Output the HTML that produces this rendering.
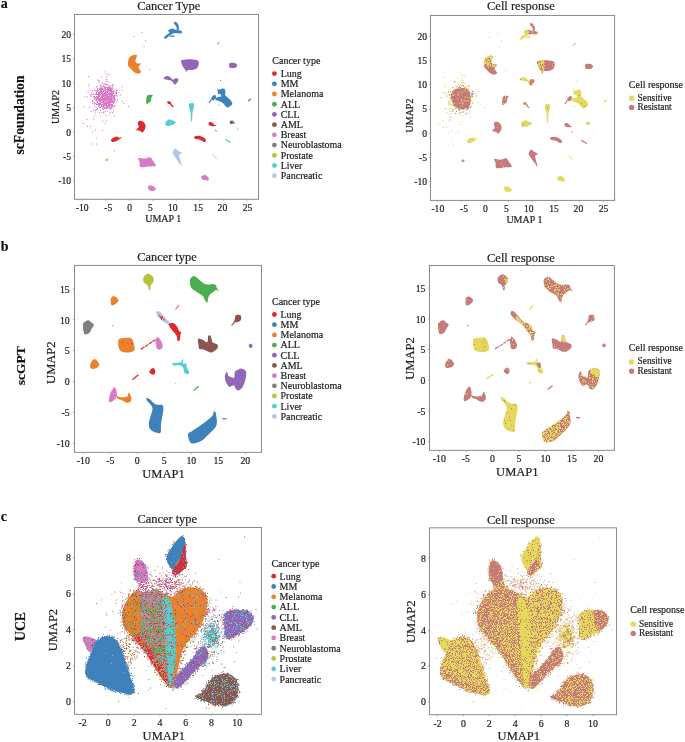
<!DOCTYPE html>
<html><head><meta charset="utf-8"><style>
html,body{margin:0;padding:0;background:#fff;width:685px;height:742px;overflow:hidden;}
svg{display:block;font-family:"Liberation Serif", serif;will-change:transform;}
text{stroke:#222;stroke-width:0.2px;}
</style></head><body>
<svg width="685" height="742" viewBox="0 0 685 742" font-family='"Liberation Serif", serif'>
<defs><filter id="fY04" x="0" y="0" width="100%" height="100%" color-interpolation-filters="sRGB"><feTurbulence type="fractalNoise" baseFrequency="1.1" numOctaves="2" seed="104" result="n0"/><feColorMatrix in="n0" type="matrix" values="0 0 0 0 0.890 0 0 0 0 0.851 0 0 0 0 0.353 60 0 0 0 -42.40" result="m0"/><feComposite in="m0" in2="SourceAlpha" operator="in" result="c0"/><feMerge><feMergeNode in="SourceGraphic"/><feMergeNode in="c0"/></feMerge></filter><filter id="fR04" x="0" y="0" width="100%" height="100%" color-interpolation-filters="sRGB"><feTurbulence type="fractalNoise" baseFrequency="1.1" numOctaves="2" seed="204" result="n0"/><feColorMatrix in="n0" type="matrix" values="0 0 0 0 0.776 0 0 0 0 0.478 0 0 0 0 0.486 60 0 0 0 -42.40" result="m0"/><feComposite in="m0" in2="SourceAlpha" operator="in" result="c0"/><feMerge><feMergeNode in="SourceGraphic"/><feMergeNode in="c0"/></feMerge></filter><filter id="fY10" x="0" y="0" width="100%" height="100%" color-interpolation-filters="sRGB"><feTurbulence type="fractalNoise" baseFrequency="1.1" numOctaves="2" seed="110" result="n0"/><feColorMatrix in="n0" type="matrix" values="0 0 0 0 0.890 0 0 0 0 0.851 0 0 0 0 0.353 60 0 0 0 -39.00" result="m0"/><feComposite in="m0" in2="SourceAlpha" operator="in" result="c0"/><feMerge><feMergeNode in="SourceGraphic"/><feMergeNode in="c0"/></feMerge></filter><filter id="fR10" x="0" y="0" width="100%" height="100%" color-interpolation-filters="sRGB"><feTurbulence type="fractalNoise" baseFrequency="1.1" numOctaves="2" seed="210" result="n0"/><feColorMatrix in="n0" type="matrix" values="0 0 0 0 0.776 0 0 0 0 0.478 0 0 0 0 0.486 60 0 0 0 -39.00" result="m0"/><feComposite in="m0" in2="SourceAlpha" operator="in" result="c0"/><feMerge><feMergeNode in="SourceGraphic"/><feMergeNode in="c0"/></feMerge></filter><filter id="fY20" x="0" y="0" width="100%" height="100%" color-interpolation-filters="sRGB"><feTurbulence type="fractalNoise" baseFrequency="1.1" numOctaves="2" seed="120" result="n0"/><feColorMatrix in="n0" type="matrix" values="0 0 0 0 0.890 0 0 0 0 0.851 0 0 0 0 0.353 60 0 0 0 -35.59" result="m0"/><feComposite in="m0" in2="SourceAlpha" operator="in" result="c0"/><feMerge><feMergeNode in="SourceGraphic"/><feMergeNode in="c0"/></feMerge></filter><filter id="fR20" x="0" y="0" width="100%" height="100%" color-interpolation-filters="sRGB"><feTurbulence type="fractalNoise" baseFrequency="1.1" numOctaves="2" seed="220" result="n0"/><feColorMatrix in="n0" type="matrix" values="0 0 0 0 0.776 0 0 0 0 0.478 0 0 0 0 0.486 60 0 0 0 -35.59" result="m0"/><feComposite in="m0" in2="SourceAlpha" operator="in" result="c0"/><feMerge><feMergeNode in="SourceGraphic"/><feMergeNode in="c0"/></feMerge></filter><filter id="fY22" x="0" y="0" width="100%" height="100%" color-interpolation-filters="sRGB"><feTurbulence type="fractalNoise" baseFrequency="1.1" numOctaves="2" seed="122" result="n0"/><feColorMatrix in="n0" type="matrix" values="0 0 0 0 0.890 0 0 0 0 0.851 0 0 0 0 0.353 60 0 0 0 -35.10" result="m0"/><feComposite in="m0" in2="SourceAlpha" operator="in" result="c0"/><feMerge><feMergeNode in="SourceGraphic"/><feMergeNode in="c0"/></feMerge></filter><filter id="fR22" x="0" y="0" width="100%" height="100%" color-interpolation-filters="sRGB"><feTurbulence type="fractalNoise" baseFrequency="1.1" numOctaves="2" seed="222" result="n0"/><feColorMatrix in="n0" type="matrix" values="0 0 0 0 0.776 0 0 0 0 0.478 0 0 0 0 0.486 60 0 0 0 -35.10" result="m0"/><feComposite in="m0" in2="SourceAlpha" operator="in" result="c0"/><feMerge><feMergeNode in="SourceGraphic"/><feMergeNode in="c0"/></feMerge></filter><filter id="fY35" x="0" y="0" width="100%" height="100%" color-interpolation-filters="sRGB"><feTurbulence type="fractalNoise" baseFrequency="1.1" numOctaves="2" seed="135" result="n0"/><feColorMatrix in="n0" type="matrix" values="0 0 0 0 0.890 0 0 0 0 0.851 0 0 0 0 0.353 60 0 0 0 -32.15" result="m0"/><feComposite in="m0" in2="SourceAlpha" operator="in" result="c0"/><feMerge><feMergeNode in="SourceGraphic"/><feMergeNode in="c0"/></feMerge></filter><filter id="fR35" x="0" y="0" width="100%" height="100%" color-interpolation-filters="sRGB"><feTurbulence type="fractalNoise" baseFrequency="1.1" numOctaves="2" seed="235" result="n0"/><feColorMatrix in="n0" type="matrix" values="0 0 0 0 0.776 0 0 0 0 0.478 0 0 0 0 0.486 60 0 0 0 -32.15" result="m0"/><feComposite in="m0" in2="SourceAlpha" operator="in" result="c0"/><feMerge><feMergeNode in="SourceGraphic"/><feMergeNode in="c0"/></feMerge></filter><filter id="fY38" x="0" y="0" width="100%" height="100%" color-interpolation-filters="sRGB"><feTurbulence type="fractalNoise" baseFrequency="1.1" numOctaves="2" seed="138" result="n0"/><feColorMatrix in="n0" type="matrix" values="0 0 0 0 0.890 0 0 0 0 0.851 0 0 0 0 0.353 60 0 0 0 -31.57" result="m0"/><feComposite in="m0" in2="SourceAlpha" operator="in" result="c0"/><feMerge><feMergeNode in="SourceGraphic"/><feMergeNode in="c0"/></feMerge></filter><filter id="fR38" x="0" y="0" width="100%" height="100%" color-interpolation-filters="sRGB"><feTurbulence type="fractalNoise" baseFrequency="1.1" numOctaves="2" seed="238" result="n0"/><feColorMatrix in="n0" type="matrix" values="0 0 0 0 0.776 0 0 0 0 0.478 0 0 0 0 0.486 60 0 0 0 -31.57" result="m0"/><feComposite in="m0" in2="SourceAlpha" operator="in" result="c0"/><feMerge><feMergeNode in="SourceGraphic"/><feMergeNode in="c0"/></feMerge></filter><filter id="fY50" x="0" y="0" width="100%" height="100%" color-interpolation-filters="sRGB"><feTurbulence type="fractalNoise" baseFrequency="1.1" numOctaves="2" seed="150" result="n0"/><feColorMatrix in="n0" type="matrix" values="0 0 0 0 0.890 0 0 0 0 0.851 0 0 0 0 0.353 60 0 0 0 -29.38" result="m0"/><feComposite in="m0" in2="SourceAlpha" operator="in" result="c0"/><feMerge><feMergeNode in="SourceGraphic"/><feMergeNode in="c0"/></feMerge></filter><filter id="fR50" x="0" y="0" width="100%" height="100%" color-interpolation-filters="sRGB"><feTurbulence type="fractalNoise" baseFrequency="1.1" numOctaves="2" seed="250" result="n0"/><feColorMatrix in="n0" type="matrix" values="0 0 0 0 0.776 0 0 0 0 0.478 0 0 0 0 0.486 60 0 0 0 -29.38" result="m0"/><feComposite in="m0" in2="SourceAlpha" operator="in" result="c0"/><feMerge><feMergeNode in="SourceGraphic"/><feMergeNode in="c0"/></feMerge></filter><filter id="fMelDots" x="0" y="0" width="100%" height="100%" color-interpolation-filters="sRGB"><feTurbulence type="fractalNoise" baseFrequency="1.1" numOctaves="2" seed="301" result="n0"/><feColorMatrix in="n0" type="matrix" values="0 0 0 0 0.851 0 0 0 0 0.478 0 0 0 0 0.776 60 0 0 0 -44.38" result="m0"/><feComposite in="m0" in2="SourceAlpha" operator="in" result="c0"/><feTurbulence type="fractalNoise" baseFrequency="1.1" numOctaves="2" seed="302" result="n1"/><feColorMatrix in="n1" type="matrix" values="0 0 0 0 0.871 0 0 0 0 0.165 0 0 0 0 0.165 60 0 0 0 -46.20" result="m1"/><feComposite in="m1" in2="SourceAlpha" operator="in" result="c1"/><feMerge><feMergeNode in="SourceGraphic"/><feMergeNode in="c0"/><feMergeNode in="c1"/></feMerge></filter><filter id="fW25" x="0" y="0" width="100%" height="100%" color-interpolation-filters="sRGB"><feTurbulence type="fractalNoise" baseFrequency="1.1" numOctaves="2" seed="303" result="n0"/><feColorMatrix in="n0" type="matrix" values="0 0 0 0 1.000 0 0 0 0 1.000 0 0 0 0 1.000 60 0 0 0 -34.37" result="m0"/><feComposite in="m0" in2="SourceAlpha" operator="in" result="c0"/><feMerge><feMergeNode in="SourceGraphic"/><feMergeNode in="c0"/></feMerge></filter><filter id="fLungMix" x="0" y="0" width="100%" height="100%" color-interpolation-filters="sRGB"><feTurbulence type="fractalNoise" baseFrequency="1.1" numOctaves="2" seed="304" result="n0"/><feColorMatrix in="n0" type="matrix" values="0 0 0 0 0.851 0 0 0 0 0.478 0 0 0 0 0.776 60 0 0 0 -33.81" result="m0"/><feComposite in="m0" in2="SourceAlpha" operator="in" result="c0"/><feTurbulence type="fractalNoise" baseFrequency="1.1" numOctaves="2" seed="305" result="n1"/><feColorMatrix in="n1" type="matrix" values="0 0 0 0 0.871 0 0 0 0 0.165 0 0 0 0 0.165 60 0 0 0 -30.21" result="m1"/><feComposite in="m1" in2="SourceAlpha" operator="in" result="c1"/><feMerge><feMergeNode in="SourceGraphic"/><feMergeNode in="c0"/><feMergeNode in="c1"/></feMerge></filter></defs>
<g>
<path d="M173.9 22.4C174.15 21.97 175.38 21.63 176.1 22C176.82 22.37 177.72 23.57 178.2 24.6C178.68 25.63 179 27.23 179 28.2C179 29.17 178.57 30.15 178.2 30.4C177.83 30.65 177.1 30.3 176.8 29.7C176.5 29.1 176.77 27.65 176.4 26.8C176.03 25.95 175.02 25.33 174.6 24.6C174.18 23.87 173.65 22.83 173.9 22.4Z" fill="#3f81ba"/>
<path d="M168.8 29.7C169.52 29.17 171.88 28.63 173.1 28.7C174.32 28.77 174.88 29.82 176.1 30.1C177.32 30.38 179.38 30.1 180.4 30.4C181.42 30.7 182.2 31.4 182.2 31.9C182.2 32.4 181.42 33.2 180.4 33.4C179.38 33.6 177.43 33.1 176.1 33.1C174.77 33.1 173.62 33.6 172.4 33.4C171.18 33.2 169.4 32.52 168.8 31.9C168.2 31.28 168.08 30.23 168.8 29.7Z" fill="#3f81ba"/>
<path d="M165.3 37.5 L168.5 35 L171.5 33" fill="none" stroke="#3f81ba" stroke-width="2.3" stroke-linecap="round" stroke-linejoin="round"/>
<path d="M170.5 36.3 L173.9 36" fill="none" stroke="#3f81ba" stroke-width="1.3" stroke-linecap="round" stroke-linejoin="round"/>
<path d="M217.6 44.2 L219.2 42.4" fill="none" stroke="#3f81ba" stroke-width="1" stroke-linecap="round" stroke-linejoin="round"/>
<path d="M133.3 54.9C134.27 54.78 136.33 54.95 136.9 55.3C137.47 55.65 136.88 56.43 136.7 57C136.52 57.57 135.98 57.85 135.8 58.7C135.62 59.55 135.27 61.28 135.6 62.1C135.93 62.92 136.92 63.38 137.8 63.6C138.68 63.82 140.63 63.03 140.9 63.4C141.17 63.77 139.78 65.02 139.4 65.8C139.02 66.58 138.38 67.22 138.6 68.1C138.82 68.98 140.38 70.28 140.7 71.1C141.02 71.92 141.1 72.58 140.5 73C139.9 73.42 138.1 73.72 137.1 73.6C136.1 73.48 135.5 73.03 134.5 72.3C133.5 71.57 132.15 70.28 131.1 69.2C130.05 68.12 128.68 67.12 128.2 65.8C127.72 64.48 128.07 62.62 128.2 61.3C128.33 59.98 128.52 58.78 129 57.9C129.48 57.02 130.38 56.5 131.1 56C131.82 55.5 132.33 55.02 133.3 54.9Z" fill="#ec812b"/>
<path d="M181.7 60.2C183.35 59.65 188.5 59.22 191.2 59.3C193.9 59.38 196.63 59.92 197.9 60.7C199.17 61.48 198.97 62.73 198.8 64C198.63 65.27 197.85 67.35 196.9 68.3C195.95 69.25 194.68 69.38 193.1 69.7C191.52 70.02 188.5 69.72 187.4 70.2C186.3 70.68 186.82 72.6 186.5 72.6C186.18 72.6 186.05 71.08 185.5 70.2C184.95 69.32 183.9 68.57 183.2 67.3C182.5 66.03 181.55 63.78 181.3 62.6C181.05 61.42 180.05 60.75 181.7 60.2Z" fill="#9266b8"/>
<path d="M229.6 63.2C230.32 62.75 232.33 62.63 233.5 62.8C234.67 62.97 236.03 63.58 236.6 64.2C237.17 64.82 237.25 65.88 236.9 66.5C236.55 67.12 235.68 67.68 234.5 67.9C233.32 68.12 230.68 68.2 229.8 67.8C228.92 67.4 229.23 66.27 229.2 65.5C229.17 64.73 228.88 63.65 229.6 63.2Z" fill="#9266b8"/>
<path d="M163.7 77.8C164.08 77.28 165.88 76.18 167 76.1C168.12 76.02 169.45 76.7 170.4 77.3C171.35 77.9 171.83 79.55 172.7 79.7C173.57 79.85 174.65 78.28 175.6 78.2C176.55 78.12 178.08 78.57 178.4 79.2C178.72 79.83 178.05 81.1 177.5 82C176.95 82.9 175.82 84.43 175.1 84.6C174.38 84.77 173.83 83.67 173.2 83C172.57 82.33 172.17 81.12 171.3 80.6C170.43 80.08 169.1 80.13 168 79.9C166.9 79.67 165.42 79.55 164.7 79.2C163.98 78.85 163.32 78.32 163.7 77.8Z" fill="#9266b8"/>
<path d="M147.1 95.8C147.65 94.9 148.55 94.78 149.5 94.7C150.45 94.62 152.48 94.8 152.8 95.3C153.12 95.8 151.8 96.67 151.4 97.7C151 98.73 151.2 100.47 150.4 101.5C149.6 102.53 147.3 104.13 146.6 103.9C145.9 103.67 146.12 101.45 146.2 100.1C146.28 98.75 146.55 96.7 147.1 95.8Z" fill="#4cae4e"/>
<path d="M217.3 88.2C217.52 87.95 218.25 89.67 219.1 89.7C219.95 89.73 221.47 88.48 222.4 88.4C223.33 88.32 224.2 88.55 224.7 89.2C225.2 89.85 225.32 91.28 225.4 92.3C225.48 93.32 224.85 94.45 225.2 95.3C225.55 96.15 226.62 96.63 227.5 97.4C228.38 98.17 229.7 98.88 230.5 99.9C231.3 100.92 232.2 102.57 232.3 103.5C232.4 104.43 231.9 104.82 231.1 105.5C230.3 106.18 228.45 107.5 227.5 107.6C226.55 107.7 226.08 106.78 225.4 106.1C224.72 105.42 224.25 104.27 223.4 103.5C222.55 102.73 221.5 102.1 220.3 101.5C219.1 100.9 217.05 100.42 216.2 99.9C215.35 99.38 214.85 98.9 215.2 98.4C215.55 97.9 217.27 97.23 218.3 96.9C219.33 96.57 221.07 96.83 221.4 96.4C221.73 95.97 220.87 94.73 220.3 94.3C219.73 93.87 218.42 94.32 218 93.8C217.58 93.28 217.92 92.13 217.8 91.2C217.68 90.27 217.08 88.45 217.3 88.2Z" fill="#3f81ba"/>
<path d="M211.1 98.4C211.35 97.63 212.93 95.77 213.7 95.3C214.47 94.83 215.32 95.25 215.7 95.6C216.08 95.95 216.25 96.68 216 97.4C215.75 98.12 214.83 99.48 214.2 99.9C213.57 100.32 212.72 100.15 212.2 99.9C211.68 99.65 210.85 99.17 211.1 98.4Z" fill="#3f81ba"/>
<path d="M209.3 102.5 L211.1 99.9" fill="none" stroke="#3f81ba" stroke-width="1.2" stroke-linecap="round" stroke-linejoin="round"/>
<path d="M218.2 105.6 L218.8 105" fill="none" stroke="#9266b8" stroke-width="0.9" stroke-linecap="round" stroke-linejoin="round"/>
<path d="M248.4 100.8 L250.6 99.2" fill="none" stroke="#3f81ba" stroke-width="1.1" stroke-linecap="round" stroke-linejoin="round"/>
<path d="M220.2 80.2 L220.6 80.6" fill="none" stroke="#3f81ba" stroke-width="1" stroke-linecap="round" stroke-linejoin="round"/>
<path d="M167.5 101.5C167.95 101.22 169.68 101.23 170.4 101.7C171.12 102.17 171.25 103.47 171.8 104.3C172.35 105.13 173.62 106.3 173.7 106.7C173.78 107.1 173.02 107.17 172.3 106.7C171.58 106.23 170.17 104.45 169.4 103.9C168.63 103.35 168.02 103.8 167.7 103.4C167.38 103 167.05 101.78 167.5 101.5Z" fill="#de2a2a"/>
<path d="M189.2 103.8C189.88 103.03 192.48 102.72 193.3 103.2C194.12 103.68 194.2 105.33 194.1 106.7C194 108.07 193.03 109.07 192.7 111.4C192.37 113.73 192.38 119.15 192.1 120.7C191.82 122.25 191.25 122.07 191 120.7C190.75 119.33 190.9 114.65 190.6 112.5C190.3 110.35 189.43 109.25 189.2 107.8C188.97 106.35 188.52 104.57 189.2 103.8Z" fill="#57cfd2"/>
<path d="M165.3 123C165.6 121.92 167.73 119.98 168.8 119.5C169.87 119.02 170.53 119.62 171.7 120.1C172.87 120.58 175.7 121.62 175.8 122.4C175.9 123.18 173.77 124.2 172.3 124.8C170.83 125.4 168.17 126.3 167 126C165.83 125.7 165 124.08 165.3 123Z" fill="#57cfd2"/>
<path d="M138.3 121.6C138.83 121.05 140.08 120.58 141.1 120.8C142.12 121.02 143.65 122.02 144.4 122.9C145.15 123.78 145.53 124.97 145.6 126.1C145.67 127.23 145.35 128.63 144.8 129.7C144.25 130.77 143.05 132.3 142.3 132.5C141.55 132.7 141.3 131.37 140.3 130.9C139.3 130.43 136.57 130.37 136.3 129.7C136.03 129.03 138.43 127.83 138.7 126.9C138.97 125.97 137.97 124.98 137.9 124.1C137.83 123.22 137.77 122.15 138.3 121.6Z" fill="#de2a2a"/>
<path d="M111 140.1C111.13 139.45 112.07 138.7 113 138.1C113.93 137.5 115.58 136.57 116.6 136.5C117.62 136.43 118.22 137.6 119.1 137.7C119.98 137.8 121.83 136.83 121.9 137.1C121.97 137.37 120.45 138.6 119.5 139.3C118.55 140 117.42 140.85 116.2 141.3C114.98 141.75 113.07 142.2 112.2 142C111.33 141.8 110.87 140.75 111 140.1Z" fill="#de2a2a"/>
<path d="M208.5 123C208.8 122.42 210.43 121.8 211.4 122.1C212.37 122.4 213.43 124.22 214.3 124.8C215.17 125.38 216.8 125.35 216.6 125.6C216.4 125.85 214.27 126.3 213.1 126.3C211.93 126.3 210.37 126.15 209.6 125.6C208.83 125.05 208.2 123.58 208.5 123Z" fill="#de2a2a"/>
<path d="M215.6 130.3 L216.2 131.2" fill="none" stroke="#de2a2a" stroke-width="1" stroke-linecap="round" stroke-linejoin="round"/>
<path d="M230 121.6C230.38 121.13 231.7 120.33 232.5 120.6C233.3 120.87 234.75 122.67 234.8 123.2C234.85 123.73 233.57 123.77 232.8 123.8C232.03 123.83 230.67 123.77 230.2 123.4C229.73 123.03 229.62 122.07 230 121.6Z" fill="#3f81ba"/><path d="M230 121.2C230.23 120.78 231.3 120.53 231.6 120.9C231.9 121.27 232.03 122.98 231.8 123.4C231.57 123.82 230.5 123.77 230.2 123.4C229.9 123.03 229.77 121.62 230 121.2Z" fill="#de2a2a"/>
<path d="M238 128.9 L238.4 129.3" fill="none" stroke="#3f81ba" stroke-width="1" stroke-linecap="round" stroke-linejoin="round"/>
<path d="M194.5 136.5C195.28 136.02 198.15 135.72 199.7 135.9C201.25 136.08 202.73 136.83 203.8 137.6C204.87 138.37 206 139.77 206.1 140.5C206.2 141.23 205.37 142.08 204.4 142C203.43 141.92 201.87 140.53 200.3 140C198.73 139.47 195.97 139.38 195 138.8C194.03 138.22 193.72 136.98 194.5 136.5Z" fill="#de2a2a"/>
<path d="M225.6 139.6 L230.5 142.2" fill="none" stroke="#57cfd2" stroke-width="1.2" stroke-linecap="round" stroke-linejoin="round"/>
<path d="M173 151.8C173.35 150.92 174.18 148.72 175.1 148.6C176.02 148.48 177.35 150.33 178.5 151.1C179.65 151.87 181.88 152.5 182 153.2C182.12 153.9 179.27 153.22 179.2 155.3C179.13 157.38 182.17 165.25 181.6 165.7C181.03 166.15 177.23 159.97 175.8 158C174.37 156.03 173.47 154.93 173 153.9C172.53 152.87 172.65 152.68 173 151.8Z" fill="#b0c8e6"/>
<path d="M212.7 154.8 L216.5 158.5" fill="none" stroke="#b0c8e6" stroke-width="1" stroke-linecap="round" stroke-linejoin="round"/>
<path d="M138.3 157.8C139 157.22 141.93 158.78 143.9 158.7C145.87 158.62 148.6 156.95 150.1 157.3C151.6 157.65 151.97 159.4 152.9 160.8C153.83 162.2 156.52 164.77 155.7 165.7C154.88 166.63 150.55 166.18 148 166.4C145.45 166.62 141.78 167.7 140.4 167C139.02 166.3 140.05 163.73 139.7 162.2C139.35 160.67 137.6 158.38 138.3 157.8Z" fill="#d97ac6"/>
<path d="M201.4 176.3C201.98 175.78 203.73 174.82 204.9 175C206.07 175.18 207.82 176.53 208.4 177.4C208.98 178.27 209.22 179.77 208.4 180.2C207.58 180.63 204.67 180.35 203.5 180C202.33 179.65 201.75 178.72 201.4 178.1C201.05 177.48 200.82 176.82 201.4 176.3Z" fill="#d97ac6"/>
<path d="M148.7 185.8C149.4 185.45 151.03 185.35 152.2 185.8C153.37 186.25 155.35 187.7 155.7 188.5C156.05 189.3 155.23 190.25 154.3 190.6C153.37 190.95 151.15 191.05 150.1 190.6C149.05 190.15 148.23 188.7 148 187.9C147.77 187.1 148 186.15 148.7 185.8Z" fill="#d97ac6"/>
<path d="M105.8 159.5C106.13 159.13 107.13 158.55 107.6 158.6C108.07 158.65 108.7 159.4 108.6 159.8C108.5 160.2 107.5 160.83 107 161C106.5 161.17 105.8 161.05 105.6 160.8C105.4 160.55 105.47 159.87 105.8 159.5Z" fill="#b8c23c"/>
<path fill="#d97ac6" d="M107.5 95h1v1h-1zM108.5 96.5h1v1h-1zM99 89.5h1v1h-1zM106 120.5h1v1h-1zM88.5 83.5h1v1h-1zM114.5 89.5h1v1h-1zM111.5 88h1v1h-1zM109 113.5h1v1h-1zM116.5 90.5h1v1h-1zM92 90.5h1v1h-1zM102.5 120.5h1v1h-1zM107.5 73.5h1v1h-1zM113 110.5h1v1h-1zM104.5 99.5h1v1h-1zM121.5 101h1v1h-1zM95.5 95.5h1v1h-1zM109.5 92.5h1v1h-1zM97.5 92.5h1v1h-1zM95.5 94h1v1h-1zM100 96h1v1h-1zM98.5 104.5h1v1h-1zM121.5 86.5h1v1h-1zM100.5 99h1v1h-1zM108.5 107h1v1h-1zM100 104.5h1v1h-1zM113 99h1v1h-1zM100.5 91.5h1v1h-1zM111.5 99.5h1v1h-1zM111.5 91.5h1v1h-1zM94 96.5h1v1h-1zM116.5 95.5h1v1h-1zM102 83h1v1h-1zM106.5 79.5h1v1h-1zM105 96h1v1h-1zM98.5 90h1v1h-1zM100.5 87h1v1h-1zM123.5 103h1v1h-1zM107.5 101h1v1h-1zM107 92h1v1h-1zM111 102.5h1v1h-1zM96 109.5h1v1h-1zM104.5 94h1v1h-1zM104.5 94.5h1v1h-1zM95.5 97h1v1h-1zM101.5 86h1v1h-1zM104.5 104h1v1h-1zM101 91.5h1v1h-1zM102 94h1v1h-1zM101.5 95h1v1h-1zM117 99.5h1v1h-1zM88 76h1v1h-1zM104.5 108h1v1h-1zM94.5 112.5h1v1h-1zM111.5 97h1v1h-1zM110 112h1v1h-1zM96.5 93.5h1v1h-1zM98.5 96h1v1h-1zM112 112h1v1h-1zM98.5 80h1v1h-1zM106.5 105.5h1v1h-1zM104 87h1v1h-1zM105 102h1v1h-1zM99 101.5h1v1h-1zM108 95.5h1v1h-1zM110.5 87h1v1h-1zM103.5 94.5h1v1h-1zM98 80.5h1v1h-1zM106 98.5h1v1h-1zM84.5 96h1v1h-1zM94 103.5h1v1h-1zM93 118.5h1v1h-1zM101 76.5h1v1h-1zM99.5 89.5h1v1h-1zM103.5 100h1v1h-1zM103 98.5h1v1h-1zM110.5 102.5h1v1h-1zM107.5 106h1v1h-1zM94.5 110.5h1v1h-1zM87.5 91.5h1v1h-1zM102 98.5h1v1h-1zM98 96h1v1h-1zM104 104.5h1v1h-1zM128 106h1v1h-1zM110.5 103.5h1v1h-1zM100.5 96.5h1v1h-1zM90.5 111h1v1h-1zM92.5 100h1v1h-1zM98 80.5h1v1h-1zM99.5 102.5h1v1h-1zM107.5 99h1v1h-1zM104.5 90h1v1h-1zM96 86.5h1v1h-1zM113 90.5h1v1h-1zM104.5 111h1v1h-1zM99.5 104.5h1v1h-1zM107 105h1v1h-1zM89.5 90.5h1v1h-1zM113 84.5h1v1h-1zM91.5 94h1v1h-1zM98.5 92.5h1v1h-1zM95 110h1v1h-1zM114 95h1v1h-1zM100 99h1v1h-1zM114 100h1v1h-1zM104 91.5h1v1h-1zM102 90h1v1h-1zM95.5 106.5h1v1h-1zM112 97h1v1h-1zM114 115.5h1v1h-1zM105.5 100h1v1h-1z"/><path fill="#d97ac6" d="M116 89.5h1v1h-1zM110 101h1v1h-1zM100.5 96h1v1h-1zM99.5 98h1v1h-1zM106 97h1v1h-1zM97.5 100h1v1h-1zM102 98h1v1h-1zM96.5 91.5h1v1h-1zM109 95.5h1v1h-1zM98.5 102.5h1v1h-1zM102.5 99h1v1h-1zM102 88h1v1h-1zM101 93.5h1v1h-1zM99 107h1v1h-1zM105.5 98.5h1v1h-1zM102.5 105h1v1h-1zM101 102h1v1h-1zM100 107h1v1h-1zM103.5 99.5h1v1h-1zM100.5 84.5h1v1h-1zM91 92.5h1v1h-1zM107 95h1v1h-1zM109 99h1v1h-1zM106.5 87.5h1v1h-1zM108.5 81.5h1v1h-1zM113 95.5h1v1h-1zM109 95.5h1v1h-1zM109.5 100h1v1h-1zM116.5 90h1v1h-1zM109 101.5h1v1h-1zM93.5 93.5h1v1h-1zM92.5 103h1v1h-1zM97 108h1v1h-1zM110.5 90.5h1v1h-1zM99.5 85h1v1h-1zM104 102h1v1h-1zM104.5 88.5h1v1h-1zM105 93.5h1v1h-1zM100 103.5h1v1h-1zM103.5 112.5h1v1h-1zM97 93.5h1v1h-1zM97.5 94h1v1h-1zM103.5 96h1v1h-1zM104 93h1v1h-1zM106 106h1v1h-1zM97.5 98.5h1v1h-1zM101.5 89.5h1v1h-1zM96.5 94.5h1v1h-1zM100 110h1v1h-1zM112 87.5h1v1h-1zM105 87h1v1h-1zM102 102h1v1h-1zM99 112h1v1h-1zM99 101h1v1h-1zM96 97.5h1v1h-1zM103 99.5h1v1h-1zM102.5 109h1v1h-1zM108.5 101h1v1h-1zM98 93.5h1v1h-1zM103 109h1v1h-1zM111.5 95.5h1v1h-1zM105 91.5h1v1h-1zM110 106.5h1v1h-1zM103 90h1v1h-1zM103 99h1v1h-1zM101.5 93h1v1h-1zM106.5 94.5h1v1h-1zM101 94h1v1h-1zM94.5 98.5h1v1h-1zM105 84.5h1v1h-1zM99 93.5h1v1h-1zM113 103.5h1v1h-1zM99 99h1v1h-1zM92.5 94h1v1h-1zM98 103.5h1v1h-1zM108 94h1v1h-1zM120 94.5h1v1h-1zM96 104h1v1h-1zM109 98h1v1h-1zM104 88.5h1v1h-1zM102 97.5h1v1h-1zM94 102h1v1h-1zM100 99h1v1h-1zM100.5 90.5h1v1h-1zM107 89h1v1h-1zM95.5 94.5h1v1h-1zM93.5 87.5h1v1h-1zM100 90.5h1v1h-1zM106.5 91h1v1h-1zM105 97h1v1h-1zM113 95h1v1h-1zM101 92h1v1h-1zM102 95h1v1h-1zM96.5 96h1v1h-1zM109.5 99.5h1v1h-1zM100.5 92h1v1h-1zM103.5 87.5h1v1h-1zM105 102h1v1h-1zM103 102h1v1h-1zM93.5 93h1v1h-1zM104.5 96h1v1h-1zM92 90.5h1v1h-1zM98.5 82h1v1h-1zM113.5 106h1v1h-1zM112 104.5h1v1h-1zM112.5 102h1v1h-1zM111.5 94h1v1h-1zM102.5 105h1v1h-1zM96.5 86h1v1h-1zM102.5 86h1v1h-1zM105 93h1v1h-1zM111.5 100h1v1h-1zM103.5 96.5h1v1h-1zM104 88h1v1h-1zM106 87.5h1v1h-1zM105 90.5h1v1h-1zM91 95.5h1v1h-1zM105 94.5h1v1h-1zM99.5 88.5h1v1h-1zM106 108h1v1h-1zM105.5 99.5h1v1h-1zM111.5 95h1v1h-1zM93 96h1v1h-1zM96 94.5h1v1h-1zM107 84.5h1v1h-1zM95 89.5h1v1h-1zM116 92h1v1h-1zM98 96h1v1h-1zM87 96.5h1v1h-1zM107 99.5h1v1h-1zM108.5 91.5h1v1h-1zM99.5 95h1v1h-1zM88.5 85.5h1v1h-1zM103 93h1v1h-1zM97 88h1v1h-1zM116 101.5h1v1h-1zM103 89.5h1v1h-1zM102 99h1v1h-1zM93.5 98h1v1h-1zM100.5 91h1v1h-1zM109 108.5h1v1h-1zM115 98.5h1v1h-1zM102.5 93.5h1v1h-1zM104.5 87.5h1v1h-1zM111.5 93.5h1v1h-1zM106.5 101h1v1h-1zM89.5 94h1v1h-1zM97.5 90h1v1h-1zM96 102.5h1v1h-1zM99 100h1v1h-1zM108.5 97h1v1h-1zM109.5 100h1v1h-1zM112.5 91.5h1v1h-1zM106 92h1v1h-1zM100.5 93.5h1v1h-1zM92.5 102.5h1v1h-1zM110.5 101.5h1v1h-1zM103 111.5h1v1h-1zM97 79.5h1v1h-1zM109 105h1v1h-1zM103 90.5h1v1h-1zM94 90h1v1h-1zM100 100.5h1v1h-1zM105 98h1v1h-1zM108 101h1v1h-1zM102 99h1v1h-1zM100 104h1v1h-1zM94.5 99.5h1v1h-1zM109.5 87.5h1v1h-1zM103.5 91h1v1h-1zM105 85h1v1h-1zM109.5 86.5h1v1h-1zM102.5 95h1v1h-1zM101.5 82.5h1v1h-1zM99.5 98h1v1h-1zM101.5 93h1v1h-1zM109 90.5h1v1h-1zM111 96h1v1h-1zM105 92h1v1h-1zM107.5 104.5h1v1h-1zM104 93.5h1v1h-1zM103.5 96.5h1v1h-1zM115 93.5h1v1h-1zM105.5 92.5h1v1h-1zM100.5 92.5h1v1h-1zM106.5 98.5h1v1h-1zM105 95.5h1v1h-1zM105.5 106.5h1v1h-1zM97 104h1v1h-1zM99 99.5h1v1h-1zM102 94.5h1v1h-1zM102 107.5h1v1h-1zM106.5 99h1v1h-1zM103.5 100h1v1h-1zM107.5 90h1v1h-1zM93 96h1v1h-1zM111.5 99h1v1h-1zM95.5 96h1v1h-1zM109.5 96.5h1v1h-1zM102 95.5h1v1h-1zM110.5 94.5h1v1h-1zM109 85.5h1v1h-1zM101 96.5h1v1h-1zM108.5 88h1v1h-1zM111.5 95h1v1h-1zM104.5 92h1v1h-1zM105 95.5h1v1h-1zM97.5 101.5h1v1h-1zM107 94h1v1h-1zM99.5 96h1v1h-1zM105.5 98.5h1v1h-1zM108 98h1v1h-1zM112 103h1v1h-1zM114 99h1v1h-1zM103 94h1v1h-1zM107.5 94.5h1v1h-1zM97.5 107.5h1v1h-1zM110.5 108h1v1h-1zM118.5 92h1v1h-1zM103.5 95h1v1h-1zM99.5 95.5h1v1h-1zM99.5 102h1v1h-1zM97 92.5h1v1h-1zM107.5 107.5h1v1h-1zM106 90h1v1h-1zM109 100h1v1h-1zM115 92h1v1h-1zM104 83.5h1v1h-1zM101.5 91h1v1h-1zM111 97.5h1v1h-1zM109.5 90.5h1v1h-1zM104.5 98h1v1h-1zM104.5 90.5h1v1h-1zM100 95h1v1h-1zM100.5 101h1v1h-1zM103.5 102.5h1v1h-1zM106.5 95h1v1h-1zM103 102h1v1h-1zM105 93h1v1h-1zM96.5 100h1v1h-1zM100.5 94h1v1h-1zM95 103h1v1h-1zM89 107h1v1h-1zM106.5 97h1v1h-1zM111.5 102.5h1v1h-1zM101 105h1v1h-1zM83.5 106.5h1v1h-1zM94 105.5h1v1h-1zM105.5 91h1v1h-1zM100.5 86h1v1h-1zM107 102h1v1h-1zM104 99.5h1v1h-1zM107 101h1v1h-1zM101 88h1v1h-1zM121.5 90h1v1h-1zM106.5 87h1v1h-1zM103 101h1v1h-1zM98.5 90h1v1h-1zM103.5 92h1v1h-1zM106.5 99.5h1v1h-1zM94 97h1v1h-1zM100.5 91h1v1h-1zM108.5 99.5h1v1h-1zM101.5 91h1v1h-1zM104 86h1v1h-1zM100 88h1v1h-1zM90 95.5h1v1h-1zM105.5 105h1v1h-1zM99.5 92.5h1v1h-1zM98 106h1v1h-1zM98 102.5h1v1h-1zM99 101.5h1v1h-1zM100 96.5h1v1h-1zM96.5 95.5h1v1h-1zM109 89.5h1v1h-1zM97.5 96.5h1v1h-1zM101 90h1v1h-1zM104 98.5h1v1h-1zM100 101.5h1v1h-1zM105 101h1v1h-1zM102.5 101.5h1v1h-1zM103.5 94h1v1h-1zM92 101h1v1h-1zM93 109.5h1v1h-1zM108.5 85.5h1v1h-1zM107 107.5h1v1h-1zM105.5 95h1v1h-1zM99 92h1v1h-1zM97 95h1v1h-1zM104 93h1v1h-1zM104.5 97h1v1h-1zM110 98.5h1v1h-1zM110 97.5h1v1h-1zM104.5 104.5h1v1h-1zM116 101.5h1v1h-1zM104 106h1v1h-1zM103.5 104.5h1v1h-1zM102.5 103.5h1v1h-1zM105.5 115h1v1h-1zM94 115.5h1v1h-1zM106.5 92h1v1h-1zM92.5 100.5h1v1h-1zM99.5 100h1v1h-1zM105.5 94h1v1h-1zM104.5 98.5h1v1h-1zM108 99h1v1h-1zM110.5 91h1v1h-1zM101 101.5h1v1h-1zM103.5 98h1v1h-1zM105 95.5h1v1h-1zM104.5 107.5h1v1h-1zM94 96h1v1h-1zM111 107h1v1h-1zM113 91h1v1h-1zM107 92h1v1h-1zM96 98h1v1h-1zM106.5 92h1v1h-1zM105.5 97.5h1v1h-1zM100 101.5h1v1h-1zM103 93h1v1h-1zM95.5 97.5h1v1h-1zM101.5 112h1v1h-1zM95 93.5h1v1h-1zM108 106.5h1v1h-1zM106.5 101h1v1h-1zM110.5 85h1v1h-1zM99.5 91.5h1v1h-1zM98 95h1v1h-1zM102 96.5h1v1h-1zM107.5 99.5h1v1h-1z"/><path d="M95.5 92C96.17 90.67 97.25 89.33 99 88.5C100.75 87.67 103.83 87 106 87C108.17 87 110.58 87.33 112 88.5C113.42 89.67 114.08 91.75 114.5 94C114.92 96.25 114.83 99.92 114.5 102C114.17 104.08 114.08 105.5 112.5 106.5C110.92 107.5 107.17 108.08 105 108C102.83 107.92 100.92 107.08 99.5 106C98.08 104.92 97.25 103.08 96.5 101.5C95.75 99.92 95.17 98.08 95 96.5C94.83 94.92 94.83 93.33 95.5 92Z" fill="#d97ac6" filter="url(#fW25)"/><path fill="#d97ac6" d="M110.5 104.5h1v1h-1zM104 98h1v1h-1zM109 91.5h1v1h-1zM107 98h1v1h-1zM105.5 96.5h1v1h-1zM107.5 101.5h1v1h-1zM114 97.5h1v1h-1zM106 96.5h1v1h-1zM105 97.5h1v1h-1zM105.5 99.5h1v1h-1zM114 106h1v1h-1zM103.5 96h1v1h-1zM107.5 99h1v1h-1zM107.5 106.5h1v1h-1zM115.5 95.5h1v1h-1zM107.5 90.5h1v1h-1zM110.5 101.5h1v1h-1zM110 108.5h1v1h-1zM103.5 100h1v1h-1zM96.5 108.5h1v1h-1zM109 98h1v1h-1zM112 97h1v1h-1zM100.5 95h1v1h-1zM103 93.5h1v1h-1zM108 100.5h1v1h-1zM110.5 95.5h1v1h-1zM106.5 100h1v1h-1zM110 89h1v1h-1zM104.5 90.5h1v1h-1zM111 96h1v1h-1zM112.5 96h1v1h-1zM103 98h1v1h-1zM109 95.5h1v1h-1zM109.5 89h1v1h-1zM107.5 96h1v1h-1zM106 103h1v1h-1zM110.5 99.5h1v1h-1zM114 96.5h1v1h-1zM107 110.5h1v1h-1zM107 96.5h1v1h-1zM111 89.5h1v1h-1zM103.5 94h1v1h-1zM109 94h1v1h-1zM106 106.5h1v1h-1zM103 85.5h1v1h-1zM102 93.5h1v1h-1zM104 95.5h1v1h-1zM116 94.5h1v1h-1zM108.5 99h1v1h-1zM105 98.5h1v1h-1zM106 95.5h1v1h-1zM105 103h1v1h-1zM108.5 100.5h1v1h-1zM105.5 91h1v1h-1zM105 87h1v1h-1zM107 97h1v1h-1zM113.5 101h1v1h-1zM106 93.5h1v1h-1zM106.5 99h1v1h-1zM103.5 108h1v1h-1zM101.5 97.5h1v1h-1zM111.5 101.5h1v1h-1zM106 84h1v1h-1zM105.5 91.5h1v1h-1zM114 101h1v1h-1zM104.5 101h1v1h-1zM108.5 99h1v1h-1zM110 89.5h1v1h-1zM106.5 97h1v1h-1zM102.5 99.5h1v1h-1zM104.5 99.5h1v1h-1zM104 99h1v1h-1zM110 90h1v1h-1zM107.5 102.5h1v1h-1zM99.5 87.5h1v1h-1zM102 98.5h1v1h-1zM112.5 92h1v1h-1zM107.5 90h1v1h-1zM105 90h1v1h-1zM110.5 95h1v1h-1zM112 85.5h1v1h-1zM110.5 97.5h1v1h-1zM105 99.5h1v1h-1zM110 99.5h1v1h-1zM107 91.5h1v1h-1zM113.5 95.5h1v1h-1zM104 104h1v1h-1zM106.5 110.5h1v1h-1zM107 107.5h1v1h-1zM106 94.5h1v1h-1zM106.5 102.5h1v1h-1zM102.5 98.5h1v1h-1zM106.5 100.5h1v1h-1zM106.5 101h1v1h-1zM114.5 99.5h1v1h-1zM107 96.5h1v1h-1zM112.5 99h1v1h-1zM107 98h1v1h-1zM110 100h1v1h-1zM110 94.5h1v1h-1zM109 88h1v1h-1zM109.5 98.5h1v1h-1zM104 96.5h1v1h-1zM112.5 87.5h1v1h-1zM112.5 98.5h1v1h-1zM112.5 92.5h1v1h-1zM107.5 99h1v1h-1zM102.5 93h1v1h-1zM108 93h1v1h-1zM105 101h1v1h-1zM108 96h1v1h-1zM100.5 97h1v1h-1zM107 99.5h1v1h-1zM100.5 97.5h1v1h-1zM108 99.5h1v1h-1zM103 96h1v1h-1zM106.5 91h1v1h-1zM108.5 94.5h1v1h-1zM104 102.5h1v1h-1zM110 105h1v1h-1zM111.5 106h1v1h-1zM112.5 93h1v1h-1zM108.5 86.5h1v1h-1zM116.5 90h1v1h-1zM116 93h1v1h-1zM111 98h1v1h-1zM101.5 92h1v1h-1zM112 107.5h1v1h-1zM109 95h1v1h-1zM100 94.5h1v1h-1zM110 94h1v1h-1zM105 99.5h1v1h-1zM108.5 93h1v1h-1zM111.5 98.5h1v1h-1zM113 99h1v1h-1zM114.5 105h1v1h-1zM111 93.5h1v1h-1zM107.5 103h1v1h-1zM108 89h1v1h-1zM107 103h1v1h-1zM103.5 98h1v1h-1zM106 98h1v1h-1zM100.5 92.5h1v1h-1zM105.5 81h1v1h-1zM106.5 98h1v1h-1zM102 94h1v1h-1zM108 101h1v1h-1zM109 92h1v1h-1zM101.5 104.5h1v1h-1zM103 98.5h1v1h-1zM101.5 93h1v1h-1zM107 92.5h1v1h-1zM108.5 88.5h1v1h-1zM109.5 107h1v1h-1zM110 99.5h1v1h-1zM112 105.5h1v1h-1zM105.5 93.5h1v1h-1zM108.5 103.5h1v1h-1zM108.5 105.5h1v1h-1zM104.5 93.5h1v1h-1zM108 99h1v1h-1zM105 99h1v1h-1zM106.5 96.5h1v1h-1zM103 94.5h1v1h-1zM111 96.5h1v1h-1zM104.5 94h1v1h-1zM107 90h1v1h-1zM104 97h1v1h-1zM113 98.5h1v1h-1zM108 104.5h1v1h-1zM111 100.5h1v1h-1zM108 93h1v1h-1zM107.5 99h1v1h-1zM110.5 103.5h1v1h-1zM107.5 100h1v1h-1zM110 101h1v1h-1zM109 105h1v1h-1zM109.5 99.5h1v1h-1zM109.5 99.5h1v1h-1zM109 92h1v1h-1zM110.5 98h1v1h-1zM110.5 95h1v1h-1zM112 99h1v1h-1zM107.5 90.5h1v1h-1zM108.5 96.5h1v1h-1zM108 89.5h1v1h-1zM109 101.5h1v1h-1zM104.5 93h1v1h-1zM110.5 99h1v1h-1zM103.5 105.5h1v1h-1zM109 101h1v1h-1zM104.5 92.5h1v1h-1zM101 105h1v1h-1zM105 90.5h1v1h-1zM103.5 96h1v1h-1zM103.5 97.5h1v1h-1zM110.5 108h1v1h-1zM107.5 99h1v1h-1zM109.5 94h1v1h-1zM107.5 105h1v1h-1zM106.5 91h1v1h-1zM106 104.5h1v1h-1zM105.5 92h1v1h-1zM113.5 91h1v1h-1zM104 89.5h1v1h-1zM115.5 95h1v1h-1zM110.5 97.5h1v1h-1zM109.5 97h1v1h-1zM104.5 94.5h1v1h-1zM108.5 90.5h1v1h-1zM109 87.5h1v1h-1zM112 84.5h1v1h-1zM105.5 91.5h1v1h-1zM104.5 93h1v1h-1zM106.5 100h1v1h-1zM107 98h1v1h-1zM100 100h1v1h-1zM105.5 95.5h1v1h-1zM105.5 103h1v1h-1zM103.5 100h1v1h-1z"/><path fill="#d97ac6" d="M104.5 71.5h1v1h-1zM105.5 74h1v1h-1zM106 76.5h1v1h-1zM105.5 79h1v1h-1zM106.5 81.5h1v1h-1zM104.5 83h1v1h-1zM107 84h1v1h-1zM103 84.5h1v1h-1zM108.5 74.5h1v1h-1z"/><path fill="#d97ac6" d="M133.5 36h1v1h-1zM141.5 32h1v1h-1zM145 40h1v1h-1zM143.5 45.5h1v1h-1zM149 69h1v1h-1zM82.5 123h1v1h-1zM87 126h1v1h-1zM90 126h1v1h-1zM92 131.5h1v1h-1zM95 129.5h1v1h-1zM96 137.5h1v1h-1zM102 130h1v1h-1zM104.5 123h1v1h-1zM91.5 143.5h1v1h-1zM96 143.5h1v1h-1zM114 150.5h1v1h-1zM86.5 119h1v1h-1z"/>
</g>
<g transform="matrix(1 0 0 1 355.96 1.01)">
<path d="M173.9 22.4C174.15 21.97 175.38 21.63 176.1 22C176.82 22.37 177.72 23.57 178.2 24.6C178.68 25.63 179 27.23 179 28.2C179 29.17 178.57 30.15 178.2 30.4C177.83 30.65 177.1 30.3 176.8 29.7C176.5 29.1 176.77 27.65 176.4 26.8C176.03 25.95 175.02 25.33 174.6 24.6C174.18 23.87 173.65 22.83 173.9 22.4Z" fill="#c67a7c" filter="url(#fY04)"/>
<path d="M168.8 29.7C169.52 29.17 171.88 28.63 173.1 28.7C174.32 28.77 174.88 29.82 176.1 30.1C177.32 30.38 179.38 30.1 180.4 30.4C181.42 30.7 182.2 31.4 182.2 31.9C182.2 32.4 181.42 33.2 180.4 33.4C179.38 33.6 177.43 33.1 176.1 33.1C174.77 33.1 173.62 33.6 172.4 33.4C171.18 33.2 169.4 32.52 168.8 31.9C168.2 31.28 168.08 30.23 168.8 29.7Z" fill="#c67a7c" filter="url(#fY22)"/><path d="M168.8 29.7C169.25 29.25 170.9 28.58 171.5 29.2C172.1 29.82 172.85 32.95 172.4 33.4C171.95 33.85 169.4 32.52 168.8 31.9C168.2 31.28 168.35 30.15 168.8 29.7Z" fill="#e3d95a" filter="url(#fR04)"/>
<path d="M165.3 37.5 L168.5 35 L171.5 33" fill="none" stroke="#e3d95a" stroke-width="2.3" stroke-linecap="round" stroke-linejoin="round"/>
<path d="M170.5 36.3 L173.9 36" fill="none" stroke="#e3d95a" stroke-width="1.3" stroke-linecap="round" stroke-linejoin="round"/>
<path d="M217.6 44.2 L219.2 42.4" fill="none" stroke="#c67a7c" stroke-width="1" stroke-linecap="round" stroke-linejoin="round"/>
<path d="M133.3 54.9C134.27 54.78 136.33 54.95 136.9 55.3C137.47 55.65 136.88 56.43 136.7 57C136.52 57.57 135.98 57.85 135.8 58.7C135.62 59.55 135.27 61.28 135.6 62.1C135.93 62.92 136.92 63.38 137.8 63.6C138.68 63.82 140.63 63.03 140.9 63.4C141.17 63.77 139.78 65.02 139.4 65.8C139.02 66.58 138.38 67.22 138.6 68.1C138.82 68.98 140.38 70.28 140.7 71.1C141.02 71.92 141.1 72.58 140.5 73C139.9 73.42 138.1 73.72 137.1 73.6C136.1 73.48 135.5 73.03 134.5 72.3C133.5 71.57 132.15 70.28 131.1 69.2C130.05 68.12 128.68 67.12 128.2 65.8C127.72 64.48 128.07 62.62 128.2 61.3C128.33 59.98 128.52 58.78 129 57.9C129.48 57.02 130.38 56.5 131.1 56C131.82 55.5 132.33 55.02 133.3 54.9Z" fill="#c67a7c" filter="url(#fY04)"/><path d="M133.3 54.9C134.27 54.78 136.33 54.95 136.9 55.3C137.47 55.65 136.88 56.43 136.7 57C136.52 57.57 135.98 57.85 135.8 58.7C135.62 59.55 135.27 61.28 135.6 62.1C135.93 62.92 136.92 63.38 137.8 63.6C138.68 63.82 140.63 63.03 140.9 63.4C141.17 63.77 140.55 65.45 139.4 65.8C138.25 66.15 135.57 65.72 134 65.5C132.43 65.28 130.97 64.83 130 64.5C129.03 64.17 128.5 64.03 128.2 63.5C127.9 62.97 128.07 62.23 128.2 61.3C128.33 60.37 128.52 58.78 129 57.9C129.48 57.02 130.38 56.5 131.1 56C131.82 55.5 132.33 55.02 133.3 54.9Z" fill="#e3d95a" filter="url(#fR22)"/>
<path d="M181.7 60.2C183.35 59.65 188.5 59.22 191.2 59.3C193.9 59.38 196.63 59.92 197.9 60.7C199.17 61.48 198.97 62.73 198.8 64C198.63 65.27 197.85 67.35 196.9 68.3C195.95 69.25 194.68 69.38 193.1 69.7C191.52 70.02 188.5 69.72 187.4 70.2C186.3 70.68 186.82 72.6 186.5 72.6C186.18 72.6 186.05 71.08 185.5 70.2C184.95 69.32 183.9 68.57 183.2 67.3C182.5 66.03 181.55 63.78 181.3 62.6C181.05 61.42 180.05 60.75 181.7 60.2Z" fill="#c67a7c" filter="url(#fY04)"/><path d="M181.7 60.2C182.73 59.73 186.28 59.17 187.5 59.8C188.72 60.43 188.92 62.38 189 64C189.08 65.62 188.42 68.07 188 69.5C187.58 70.93 186.92 72.48 186.5 72.6C186.08 72.72 186.05 71.08 185.5 70.2C184.95 69.32 183.9 68.57 183.2 67.3C182.5 66.03 181.55 63.78 181.3 62.6C181.05 61.42 180.67 60.67 181.7 60.2Z" fill="#e3d95a" filter="url(#fR38)"/>
<path d="M229.6 63.2C230.32 62.75 232.33 62.63 233.5 62.8C234.67 62.97 236.03 63.58 236.6 64.2C237.17 64.82 237.25 65.88 236.9 66.5C236.55 67.12 235.68 67.68 234.5 67.9C233.32 68.12 230.68 68.2 229.8 67.8C228.92 67.4 229.23 66.27 229.2 65.5C229.17 64.73 228.88 63.65 229.6 63.2Z" fill="#c67a7c" filter="url(#fY04)"/>
<path d="M163.7 77.8C164.08 77.28 165.88 76.18 167 76.1C168.12 76.02 169.45 76.7 170.4 77.3C171.35 77.9 171.83 79.55 172.7 79.7C173.57 79.85 174.65 78.28 175.6 78.2C176.55 78.12 178.08 78.57 178.4 79.2C178.72 79.83 178.05 81.1 177.5 82C176.95 82.9 175.82 84.43 175.1 84.6C174.38 84.77 173.83 83.67 173.2 83C172.57 82.33 172.17 81.12 171.3 80.6C170.43 80.08 169.1 80.13 168 79.9C166.9 79.67 165.42 79.55 164.7 79.2C163.98 78.85 163.32 78.32 163.7 77.8Z" fill="#e3d95a" filter="url(#fR04)"/><path d="M174.5 78.6C174.83 77.88 174.95 78.1 175.6 78.2C176.25 78.3 178.08 78.57 178.4 79.2C178.72 79.83 178.05 81.1 177.5 82C176.95 82.9 175.75 84.52 175.1 84.6C174.45 84.68 173.7 83.5 173.6 82.5C173.5 81.5 174.17 79.32 174.5 78.6Z" fill="#c67a7c" filter="url(#fY04)"/>
<path d="M147.1 95.8C147.65 94.9 148.55 94.78 149.5 94.7C150.45 94.62 152.48 94.8 152.8 95.3C153.12 95.8 151.8 96.67 151.4 97.7C151 98.73 151.2 100.47 150.4 101.5C149.6 102.53 147.3 104.13 146.6 103.9C145.9 103.67 146.12 101.45 146.2 100.1C146.28 98.75 146.55 96.7 147.1 95.8Z" fill="#c67a7c" filter="url(#fY22)"/>
<path d="M217.3 88.2C217.52 87.95 218.25 89.67 219.1 89.7C219.95 89.73 221.47 88.48 222.4 88.4C223.33 88.32 224.2 88.55 224.7 89.2C225.2 89.85 225.32 91.28 225.4 92.3C225.48 93.32 224.85 94.45 225.2 95.3C225.55 96.15 226.62 96.63 227.5 97.4C228.38 98.17 229.7 98.88 230.5 99.9C231.3 100.92 232.2 102.57 232.3 103.5C232.4 104.43 231.9 104.82 231.1 105.5C230.3 106.18 228.45 107.5 227.5 107.6C226.55 107.7 226.08 106.78 225.4 106.1C224.72 105.42 224.25 104.27 223.4 103.5C222.55 102.73 221.5 102.1 220.3 101.5C219.1 100.9 217.05 100.42 216.2 99.9C215.35 99.38 214.85 98.9 215.2 98.4C215.55 97.9 217.27 97.23 218.3 96.9C219.33 96.57 221.07 96.83 221.4 96.4C221.73 95.97 220.87 94.73 220.3 94.3C219.73 93.87 218.42 94.32 218 93.8C217.58 93.28 217.92 92.13 217.8 91.2C217.68 90.27 217.08 88.45 217.3 88.2Z" fill="#e3d95a" filter="url(#fR04)"/>
<path d="M211.1 98.4C211.35 97.63 212.93 95.77 213.7 95.3C214.47 94.83 215.32 95.25 215.7 95.6C216.08 95.95 216.25 96.68 216 97.4C215.75 98.12 214.83 99.48 214.2 99.9C213.57 100.32 212.72 100.15 212.2 99.9C211.68 99.65 210.85 99.17 211.1 98.4Z" fill="#c67a7c" filter="url(#fY04)"/>
<path d="M209.3 102.5 L211.1 99.9" fill="none" stroke="#c67a7c" stroke-width="1.2" stroke-linecap="round" stroke-linejoin="round"/>
<path d="M218.2 105.6 L218.8 105" fill="none" stroke="#e3d95a" stroke-width="0.9" stroke-linecap="round" stroke-linejoin="round"/>
<path d="M248.4 100.8 L250.6 99.2" fill="none" stroke="#e3d95a" stroke-width="1.1" stroke-linecap="round" stroke-linejoin="round"/>
<path d="M220.2 80.2 L220.6 80.6" fill="none" stroke="#e3d95a" stroke-width="1" stroke-linecap="round" stroke-linejoin="round"/>
<path d="M167.5 101.5C167.95 101.22 169.68 101.23 170.4 101.7C171.12 102.17 171.25 103.47 171.8 104.3C172.35 105.13 173.62 106.3 173.7 106.7C173.78 107.1 173.02 107.17 172.3 106.7C171.58 106.23 170.17 104.45 169.4 103.9C168.63 103.35 168.02 103.8 167.7 103.4C167.38 103 167.05 101.78 167.5 101.5Z" fill="#c67a7c" filter="url(#fY22)"/>
<path d="M189.2 103.8C189.88 103.03 192.48 102.72 193.3 103.2C194.12 103.68 194.2 105.33 194.1 106.7C194 108.07 193.03 109.07 192.7 111.4C192.37 113.73 192.38 119.15 192.1 120.7C191.82 122.25 191.25 122.07 191 120.7C190.75 119.33 190.9 114.65 190.6 112.5C190.3 110.35 189.43 109.25 189.2 107.8C188.97 106.35 188.52 104.57 189.2 103.8Z" fill="#e3d95a" filter="url(#fR04)"/>
<path d="M165.3 123C165.6 121.92 167.73 119.98 168.8 119.5C169.87 119.02 170.53 119.62 171.7 120.1C172.87 120.58 175.7 121.62 175.8 122.4C175.9 123.18 173.77 124.2 172.3 124.8C170.83 125.4 168.17 126.3 167 126C165.83 125.7 165 124.08 165.3 123Z" fill="#e3d95a" filter="url(#fR04)"/>
<path d="M138.3 121.6C138.83 121.05 140.08 120.58 141.1 120.8C142.12 121.02 143.65 122.02 144.4 122.9C145.15 123.78 145.53 124.97 145.6 126.1C145.67 127.23 145.35 128.63 144.8 129.7C144.25 130.77 143.05 132.3 142.3 132.5C141.55 132.7 141.3 131.37 140.3 130.9C139.3 130.43 136.57 130.37 136.3 129.7C136.03 129.03 138.43 127.83 138.7 126.9C138.97 125.97 137.97 124.98 137.9 124.1C137.83 123.22 137.77 122.15 138.3 121.6Z" fill="#c67a7c" filter="url(#fY04)"/>
<path d="M111 140.1C111.13 139.45 112.07 138.7 113 138.1C113.93 137.5 115.58 136.57 116.6 136.5C117.62 136.43 118.22 137.6 119.1 137.7C119.98 137.8 121.83 136.83 121.9 137.1C121.97 137.37 120.45 138.6 119.5 139.3C118.55 140 117.42 140.85 116.2 141.3C114.98 141.75 113.07 142.2 112.2 142C111.33 141.8 110.87 140.75 111 140.1Z" fill="#e3d95a" filter="url(#fR04)"/>
<path d="M208.5 123C208.8 122.42 210.43 121.8 211.4 122.1C212.37 122.4 213.43 124.22 214.3 124.8C215.17 125.38 216.8 125.35 216.6 125.6C216.4 125.85 214.27 126.3 213.1 126.3C211.93 126.3 210.37 126.15 209.6 125.6C208.83 125.05 208.2 123.58 208.5 123Z" fill="#c67a7c" filter="url(#fY04)"/>
<path d="M215.6 130.3 L216.2 131.2" fill="none" stroke="#c67a7c" stroke-width="1" stroke-linecap="round" stroke-linejoin="round"/>
<path d="M230 121.6C230.38 121.13 231.7 120.33 232.5 120.6C233.3 120.87 234.75 122.67 234.8 123.2C234.85 123.73 233.57 123.77 232.8 123.8C232.03 123.83 230.67 123.77 230.2 123.4C229.73 123.03 229.62 122.07 230 121.6Z" fill="#e3d95a" filter="url(#fR04)"/>
<path d="M238 128.9 L238.4 129.3" fill="none" stroke="#e3d95a" stroke-width="1" stroke-linecap="round" stroke-linejoin="round"/>
<path d="M194.5 136.5C195.28 136.02 198.15 135.72 199.7 135.9C201.25 136.08 202.73 136.83 203.8 137.6C204.87 138.37 206 139.77 206.1 140.5C206.2 141.23 205.37 142.08 204.4 142C203.43 141.92 201.87 140.53 200.3 140C198.73 139.47 195.97 139.38 195 138.8C194.03 138.22 193.72 136.98 194.5 136.5Z" fill="#c67a7c" filter="url(#fY04)"/>
<path d="M225.6 139.6 L230.5 142.2" fill="none" stroke="#c67a7c" stroke-width="1.2" stroke-linecap="round" stroke-linejoin="round"/>
<path d="M173 151.8C173.35 150.92 174.18 148.72 175.1 148.6C176.02 148.48 177.35 150.33 178.5 151.1C179.65 151.87 181.88 152.5 182 153.2C182.12 153.9 179.27 153.22 179.2 155.3C179.13 157.38 182.17 165.25 181.6 165.7C181.03 166.15 177.23 159.97 175.8 158C174.37 156.03 173.47 154.93 173 153.9C172.53 152.87 172.65 152.68 173 151.8Z" fill="#c67a7c" filter="url(#fY04)"/>
<path d="M212.7 154.8 L216.5 158.5" fill="none" stroke="#e3d95a" stroke-width="1" stroke-linecap="round" stroke-linejoin="round"/>
<path d="M138.3 157.8C139 157.22 141.93 158.78 143.9 158.7C145.87 158.62 148.6 156.95 150.1 157.3C151.6 157.65 151.97 159.4 152.9 160.8C153.83 162.2 156.52 164.77 155.7 165.7C154.88 166.63 150.55 166.18 148 166.4C145.45 166.62 141.78 167.7 140.4 167C139.02 166.3 140.05 163.73 139.7 162.2C139.35 160.67 137.6 158.38 138.3 157.8Z" fill="#c67a7c" filter="url(#fY04)"/>
<path d="M201.4 176.3C201.98 175.78 203.73 174.82 204.9 175C206.07 175.18 207.82 176.53 208.4 177.4C208.98 178.27 209.22 179.77 208.4 180.2C207.58 180.63 204.67 180.35 203.5 180C202.33 179.65 201.75 178.72 201.4 178.1C201.05 177.48 200.82 176.82 201.4 176.3Z" fill="#e3d95a" filter="url(#fR04)"/>
<path d="M148.7 185.8C149.4 185.45 151.03 185.35 152.2 185.8C153.37 186.25 155.35 187.7 155.7 188.5C156.05 189.3 155.23 190.25 154.3 190.6C153.37 190.95 151.15 191.05 150.1 190.6C149.05 190.15 148.23 188.7 148 187.9C147.77 187.1 148 186.15 148.7 185.8Z" fill="#e3d95a" filter="url(#fR04)"/>
<path d="M105.8 159.5C106.13 159.13 107.13 158.55 107.6 158.6C108.07 158.65 108.7 159.4 108.6 159.8C108.5 160.2 107.5 160.83 107 161C106.5 161.17 105.8 161.05 105.6 160.8C105.4 160.55 105.47 159.87 105.8 159.5Z" fill="#c67a7c" filter="url(#fY04)"/>
<path fill="#e3d95a" d="M107.5 95h1v1h-1zM108.5 96.5h1v1h-1zM106 120.5h1v1h-1zM88.5 83.5h1v1h-1zM114.5 89.5h1v1h-1zM111.5 88h1v1h-1zM109 113.5h1v1h-1zM92 90.5h1v1h-1zM102.5 120.5h1v1h-1zM107.5 73.5h1v1h-1zM113 110.5h1v1h-1zM104.5 99.5h1v1h-1zM121.5 101h1v1h-1zM95.5 95.5h1v1h-1zM109.5 92.5h1v1h-1zM97.5 92.5h1v1h-1zM95.5 94h1v1h-1zM98.5 104.5h1v1h-1zM121.5 86.5h1v1h-1zM108.5 107h1v1h-1zM100 104.5h1v1h-1zM113 99h1v1h-1zM100.5 91.5h1v1h-1zM111.5 99.5h1v1h-1zM111.5 91.5h1v1h-1zM94 96.5h1v1h-1zM116.5 95.5h1v1h-1zM102 83h1v1h-1zM106.5 79.5h1v1h-1zM105 96h1v1h-1zM98.5 90h1v1h-1zM100.5 87h1v1h-1zM123.5 103h1v1h-1zM107.5 101h1v1h-1zM107 92h1v1h-1zM111 102.5h1v1h-1zM104.5 94h1v1h-1zM104.5 94.5h1v1h-1zM95.5 97h1v1h-1zM101.5 86h1v1h-1zM104.5 104h1v1h-1zM102 94h1v1h-1zM101.5 95h1v1h-1zM117 99.5h1v1h-1zM88 76h1v1h-1zM104.5 108h1v1h-1zM94.5 112.5h1v1h-1zM111.5 97h1v1h-1zM96.5 93.5h1v1h-1zM98.5 96h1v1h-1zM112 112h1v1h-1zM104 87h1v1h-1zM105 102h1v1h-1zM99 101.5h1v1h-1zM108 95.5h1v1h-1zM110.5 87h1v1h-1zM98 80.5h1v1h-1zM106 98.5h1v1h-1zM94 103.5h1v1h-1zM101 76.5h1v1h-1zM99.5 89.5h1v1h-1zM103 98.5h1v1h-1zM110.5 102.5h1v1h-1zM107.5 106h1v1h-1zM94.5 110.5h1v1h-1zM98 96h1v1h-1zM104 104.5h1v1h-1zM128 106h1v1h-1zM110.5 103.5h1v1h-1zM100.5 96.5h1v1h-1zM90.5 111h1v1h-1zM92.5 100h1v1h-1zM98 80.5h1v1h-1zM99.5 102.5h1v1h-1zM107.5 99h1v1h-1zM104.5 90h1v1h-1zM96 86.5h1v1h-1zM113 90.5h1v1h-1zM99.5 104.5h1v1h-1zM89.5 90.5h1v1h-1zM113 84.5h1v1h-1zM91.5 94h1v1h-1zM98.5 92.5h1v1h-1zM95 110h1v1h-1zM114 95h1v1h-1zM100 99h1v1h-1zM114 100h1v1h-1zM104 91.5h1v1h-1zM102 90h1v1h-1zM95.5 106.5h1v1h-1zM112 97h1v1h-1zM114 115.5h1v1h-1zM105.5 100h1v1h-1z"/><path fill="#c67a7c" d="M99 89.5h1v1h-1zM116.5 90.5h1v1h-1zM100 96h1v1h-1zM100.5 99h1v1h-1zM96 109.5h1v1h-1zM101 91.5h1v1h-1zM110 112h1v1h-1zM98.5 80h1v1h-1zM106.5 105.5h1v1h-1zM103.5 94.5h1v1h-1zM84.5 96h1v1h-1zM93 118.5h1v1h-1zM103.5 100h1v1h-1zM87.5 91.5h1v1h-1zM102 98.5h1v1h-1zM104.5 111h1v1h-1zM107 105h1v1h-1z"/><path fill="#c67a7c" d="M100.5 96h1v1h-1zM101 93.5h1v1h-1zM99 107h1v1h-1zM105.5 98.5h1v1h-1zM101 102h1v1h-1zM100.5 84.5h1v1h-1zM109 99h1v1h-1zM113 95.5h1v1h-1zM109 95.5h1v1h-1zM109.5 100h1v1h-1zM116.5 90h1v1h-1zM109 101.5h1v1h-1zM93.5 93.5h1v1h-1zM103.5 112.5h1v1h-1zM97 93.5h1v1h-1zM103.5 96h1v1h-1zM106 106h1v1h-1zM97.5 98.5h1v1h-1zM100 110h1v1h-1zM102 102h1v1h-1zM99 112h1v1h-1zM96 97.5h1v1h-1zM103 99.5h1v1h-1zM108.5 101h1v1h-1zM103 109h1v1h-1zM111.5 95.5h1v1h-1zM105 91.5h1v1h-1zM110 106.5h1v1h-1zM106.5 94.5h1v1h-1zM99 93.5h1v1h-1zM113 103.5h1v1h-1zM120 94.5h1v1h-1zM104 88.5h1v1h-1zM102 97.5h1v1h-1zM100 99h1v1h-1zM100.5 90.5h1v1h-1zM100 90.5h1v1h-1zM106.5 91h1v1h-1zM105 97h1v1h-1zM101 92h1v1h-1zM96.5 96h1v1h-1zM109.5 99.5h1v1h-1zM93.5 93h1v1h-1zM92 90.5h1v1h-1zM112 104.5h1v1h-1zM96.5 86h1v1h-1zM102.5 86h1v1h-1zM105 93h1v1h-1zM111.5 100h1v1h-1zM106 87.5h1v1h-1zM105 94.5h1v1h-1zM107 84.5h1v1h-1zM116 92h1v1h-1zM98 96h1v1h-1zM107 99.5h1v1h-1zM108.5 91.5h1v1h-1zM99.5 95h1v1h-1zM116 101.5h1v1h-1zM99 100h1v1h-1zM108.5 97h1v1h-1zM109.5 100h1v1h-1zM106 92h1v1h-1zM92.5 102.5h1v1h-1zM94 90h1v1h-1zM105 98h1v1h-1zM101.5 93h1v1h-1zM109 90.5h1v1h-1zM104 93.5h1v1h-1zM115 93.5h1v1h-1zM105.5 92.5h1v1h-1zM100.5 92.5h1v1h-1zM106.5 98.5h1v1h-1zM105.5 106.5h1v1h-1zM97 104h1v1h-1zM102 107.5h1v1h-1zM106.5 99h1v1h-1zM103.5 100h1v1h-1zM93 96h1v1h-1zM111.5 99h1v1h-1zM109.5 96.5h1v1h-1zM108.5 88h1v1h-1zM111.5 95h1v1h-1zM104.5 92h1v1h-1zM107 94h1v1h-1zM108 98h1v1h-1zM114 99h1v1h-1zM107.5 94.5h1v1h-1zM118.5 92h1v1h-1zM103.5 95h1v1h-1zM99.5 95.5h1v1h-1zM115 92h1v1h-1zM109.5 90.5h1v1h-1zM104.5 90.5h1v1h-1zM106.5 95h1v1h-1zM89 107h1v1h-1zM111.5 102.5h1v1h-1zM101 105h1v1h-1zM105.5 91h1v1h-1zM107 102h1v1h-1zM107 101h1v1h-1zM101 88h1v1h-1zM106.5 87h1v1h-1zM103 101h1v1h-1zM98.5 90h1v1h-1zM103.5 92h1v1h-1zM104 86h1v1h-1zM105.5 105h1v1h-1zM98 102.5h1v1h-1zM101 90h1v1h-1zM104 98.5h1v1h-1zM103.5 94h1v1h-1zM108.5 85.5h1v1h-1zM107 107.5h1v1h-1zM97 95h1v1h-1zM104 93h1v1h-1zM104.5 97h1v1h-1zM110 98.5h1v1h-1zM110 97.5h1v1h-1zM104.5 104.5h1v1h-1zM103.5 104.5h1v1h-1zM102.5 103.5h1v1h-1zM94 115.5h1v1h-1zM92.5 100.5h1v1h-1zM104.5 98.5h1v1h-1zM103.5 98h1v1h-1zM104.5 107.5h1v1h-1zM111 107h1v1h-1zM96 98h1v1h-1zM95.5 97.5h1v1h-1z"/><path fill="#e3d95a" d="M116 89.5h1v1h-1zM110 101h1v1h-1zM99.5 98h1v1h-1zM106 97h1v1h-1zM97.5 100h1v1h-1zM102 98h1v1h-1zM96.5 91.5h1v1h-1zM109 95.5h1v1h-1zM98.5 102.5h1v1h-1zM102.5 99h1v1h-1zM102 88h1v1h-1zM102.5 105h1v1h-1zM100 107h1v1h-1zM103.5 99.5h1v1h-1zM91 92.5h1v1h-1zM107 95h1v1h-1zM106.5 87.5h1v1h-1zM108.5 81.5h1v1h-1zM92.5 103h1v1h-1zM97 108h1v1h-1zM110.5 90.5h1v1h-1zM99.5 85h1v1h-1zM104 102h1v1h-1zM104.5 88.5h1v1h-1zM105 93.5h1v1h-1zM100 103.5h1v1h-1zM97.5 94h1v1h-1zM104 93h1v1h-1zM101.5 89.5h1v1h-1zM96.5 94.5h1v1h-1zM112 87.5h1v1h-1zM105 87h1v1h-1zM99 101h1v1h-1zM102.5 109h1v1h-1zM98 93.5h1v1h-1zM103 90h1v1h-1zM103 99h1v1h-1zM101.5 93h1v1h-1zM101 94h1v1h-1zM94.5 98.5h1v1h-1zM105 84.5h1v1h-1zM99 99h1v1h-1zM92.5 94h1v1h-1zM98 103.5h1v1h-1zM108 94h1v1h-1zM96 104h1v1h-1zM109 98h1v1h-1zM94 102h1v1h-1zM107 89h1v1h-1zM95.5 94.5h1v1h-1zM93.5 87.5h1v1h-1zM113 95h1v1h-1zM102 95h1v1h-1zM100.5 92h1v1h-1zM103.5 87.5h1v1h-1zM105 102h1v1h-1zM103 102h1v1h-1zM104.5 96h1v1h-1zM98.5 82h1v1h-1zM113.5 106h1v1h-1zM112.5 102h1v1h-1zM111.5 94h1v1h-1zM102.5 105h1v1h-1zM103.5 96.5h1v1h-1zM104 88h1v1h-1zM105 90.5h1v1h-1zM91 95.5h1v1h-1zM99.5 88.5h1v1h-1zM106 108h1v1h-1zM105.5 99.5h1v1h-1zM111.5 95h1v1h-1zM93 96h1v1h-1zM96 94.5h1v1h-1zM95 89.5h1v1h-1zM87 96.5h1v1h-1zM88.5 85.5h1v1h-1zM103 93h1v1h-1zM97 88h1v1h-1zM103 89.5h1v1h-1zM102 99h1v1h-1zM93.5 98h1v1h-1zM100.5 91h1v1h-1zM109 108.5h1v1h-1zM115 98.5h1v1h-1zM102.5 93.5h1v1h-1zM104.5 87.5h1v1h-1zM111.5 93.5h1v1h-1zM106.5 101h1v1h-1zM89.5 94h1v1h-1zM97.5 90h1v1h-1zM96 102.5h1v1h-1zM112.5 91.5h1v1h-1zM100.5 93.5h1v1h-1zM110.5 101.5h1v1h-1zM103 111.5h1v1h-1zM97 79.5h1v1h-1zM109 105h1v1h-1zM103 90.5h1v1h-1zM100 100.5h1v1h-1zM108 101h1v1h-1zM102 99h1v1h-1zM100 104h1v1h-1zM94.5 99.5h1v1h-1zM109.5 87.5h1v1h-1zM103.5 91h1v1h-1zM105 85h1v1h-1zM109.5 86.5h1v1h-1zM102.5 95h1v1h-1zM101.5 82.5h1v1h-1zM99.5 98h1v1h-1zM111 96h1v1h-1zM105 92h1v1h-1zM107.5 104.5h1v1h-1zM103.5 96.5h1v1h-1zM105 95.5h1v1h-1zM99 99.5h1v1h-1zM102 94.5h1v1h-1zM107.5 90h1v1h-1zM95.5 96h1v1h-1zM102 95.5h1v1h-1zM110.5 94.5h1v1h-1zM109 85.5h1v1h-1zM101 96.5h1v1h-1zM105 95.5h1v1h-1zM97.5 101.5h1v1h-1zM99.5 96h1v1h-1zM105.5 98.5h1v1h-1zM112 103h1v1h-1zM103 94h1v1h-1zM97.5 107.5h1v1h-1zM110.5 108h1v1h-1zM99.5 102h1v1h-1zM97 92.5h1v1h-1zM107.5 107.5h1v1h-1zM106 90h1v1h-1zM109 100h1v1h-1zM104 83.5h1v1h-1zM101.5 91h1v1h-1zM111 97.5h1v1h-1zM104.5 98h1v1h-1zM100 95h1v1h-1zM100.5 101h1v1h-1zM103.5 102.5h1v1h-1zM103 102h1v1h-1zM105 93h1v1h-1zM96.5 100h1v1h-1zM100.5 94h1v1h-1zM95 103h1v1h-1zM106.5 97h1v1h-1zM83.5 106.5h1v1h-1zM94 105.5h1v1h-1zM100.5 86h1v1h-1zM104 99.5h1v1h-1zM121.5 90h1v1h-1zM106.5 99.5h1v1h-1zM94 97h1v1h-1zM100.5 91h1v1h-1zM108.5 99.5h1v1h-1zM101.5 91h1v1h-1zM100 88h1v1h-1zM90 95.5h1v1h-1zM99.5 92.5h1v1h-1zM98 106h1v1h-1zM99 101.5h1v1h-1zM100 96.5h1v1h-1zM96.5 95.5h1v1h-1zM109 89.5h1v1h-1zM97.5 96.5h1v1h-1zM100 101.5h1v1h-1zM105 101h1v1h-1zM102.5 101.5h1v1h-1zM92 101h1v1h-1zM93 109.5h1v1h-1zM105.5 95h1v1h-1zM99 92h1v1h-1zM116 101.5h1v1h-1zM104 106h1v1h-1zM105.5 115h1v1h-1zM106.5 92h1v1h-1zM99.5 100h1v1h-1zM105.5 94h1v1h-1zM108 99h1v1h-1zM110.5 91h1v1h-1zM101 101.5h1v1h-1zM105 95.5h1v1h-1zM94 96h1v1h-1zM113 91h1v1h-1zM107 92h1v1h-1zM106.5 92h1v1h-1zM105.5 97.5h1v1h-1zM100 101.5h1v1h-1zM103 93h1v1h-1zM101.5 112h1v1h-1zM95 93.5h1v1h-1zM108 106.5h1v1h-1zM106.5 101h1v1h-1zM110.5 85h1v1h-1zM99.5 91.5h1v1h-1zM98 95h1v1h-1zM102 96.5h1v1h-1zM107.5 99.5h1v1h-1z"/><path d="M95.5 92C96.17 90.67 97.25 89.33 99 88.5C100.75 87.67 103.83 87 106 87C108.17 87 110.58 87.33 112 88.5C113.42 89.67 114.08 91.75 114.5 94C114.92 96.25 114.83 99.92 114.5 102C114.17 104.08 114.08 105.5 112.5 106.5C110.92 107.5 107.17 108.08 105 108C102.83 107.92 100.92 107.08 99.5 106C98.08 104.92 97.25 103.08 96.5 101.5C95.75 99.92 95.17 98.08 95 96.5C94.83 94.92 94.83 93.33 95.5 92Z" fill="#c67a7c" filter="url(#fY04)"/><path fill="#c67a7c" d="M110.5 104.5h1v1h-1zM104 98h1v1h-1zM109 91.5h1v1h-1zM107 98h1v1h-1zM105.5 96.5h1v1h-1zM107.5 101.5h1v1h-1zM106 96.5h1v1h-1zM105.5 99.5h1v1h-1zM114 106h1v1h-1zM103.5 96h1v1h-1zM107.5 106.5h1v1h-1zM115.5 95.5h1v1h-1zM107.5 90.5h1v1h-1zM110.5 101.5h1v1h-1zM103.5 100h1v1h-1zM96.5 108.5h1v1h-1zM109 98h1v1h-1zM112 97h1v1h-1zM100.5 95h1v1h-1zM103 93.5h1v1h-1zM108 100.5h1v1h-1zM110.5 95.5h1v1h-1zM106.5 100h1v1h-1zM110 89h1v1h-1zM103 98h1v1h-1zM109 95.5h1v1h-1zM109.5 89h1v1h-1zM107.5 96h1v1h-1zM106 103h1v1h-1zM114 96.5h1v1h-1zM107 110.5h1v1h-1zM107 96.5h1v1h-1zM103.5 94h1v1h-1zM109 94h1v1h-1zM106 106.5h1v1h-1zM103 85.5h1v1h-1zM104 95.5h1v1h-1zM116 94.5h1v1h-1zM108.5 99h1v1h-1zM106 95.5h1v1h-1zM105 103h1v1h-1zM108.5 100.5h1v1h-1zM105.5 91h1v1h-1zM105 87h1v1h-1zM107 97h1v1h-1zM113.5 101h1v1h-1zM106 93.5h1v1h-1zM106.5 99h1v1h-1zM103.5 108h1v1h-1zM111.5 101.5h1v1h-1zM106 84h1v1h-1zM105.5 91.5h1v1h-1zM108.5 99h1v1h-1zM110 89.5h1v1h-1zM106.5 97h1v1h-1zM102.5 99.5h1v1h-1zM104.5 99.5h1v1h-1zM104 99h1v1h-1zM110 90h1v1h-1zM107.5 102.5h1v1h-1zM99.5 87.5h1v1h-1zM102 98.5h1v1h-1zM112.5 92h1v1h-1zM105 90h1v1h-1zM110.5 95h1v1h-1zM110.5 97.5h1v1h-1zM105 99.5h1v1h-1zM107 91.5h1v1h-1zM113.5 95.5h1v1h-1zM104 104h1v1h-1zM106.5 110.5h1v1h-1zM107 107.5h1v1h-1zM106 94.5h1v1h-1zM102.5 98.5h1v1h-1zM106.5 100.5h1v1h-1zM107 96.5h1v1h-1zM112.5 99h1v1h-1zM107 98h1v1h-1zM110 100h1v1h-1zM110 94.5h1v1h-1zM109 88h1v1h-1zM109.5 98.5h1v1h-1zM104 96.5h1v1h-1zM112.5 98.5h1v1h-1zM112.5 92.5h1v1h-1zM107.5 99h1v1h-1zM102.5 93h1v1h-1zM108 93h1v1h-1zM105 101h1v1h-1zM108 96h1v1h-1zM100.5 97h1v1h-1zM107 99.5h1v1h-1zM100.5 97.5h1v1h-1zM103 96h1v1h-1zM106.5 91h1v1h-1zM108.5 94.5h1v1h-1zM104 102.5h1v1h-1zM110 105h1v1h-1zM111.5 106h1v1h-1zM112.5 93h1v1h-1zM108.5 86.5h1v1h-1zM116.5 90h1v1h-1zM116 93h1v1h-1zM111 98h1v1h-1zM101.5 92h1v1h-1zM112 107.5h1v1h-1zM100 94.5h1v1h-1zM110 94h1v1h-1zM105 99.5h1v1h-1zM108.5 93h1v1h-1zM111.5 98.5h1v1h-1zM113 99h1v1h-1zM114.5 105h1v1h-1zM111 93.5h1v1h-1zM107.5 103h1v1h-1zM108 89h1v1h-1zM107 103h1v1h-1zM103.5 98h1v1h-1zM106 98h1v1h-1zM100.5 92.5h1v1h-1zM105.5 81h1v1h-1zM106.5 98h1v1h-1zM108 101h1v1h-1zM109 92h1v1h-1zM101.5 104.5h1v1h-1zM103 98.5h1v1h-1zM107 92.5h1v1h-1zM110 99.5h1v1h-1zM112 105.5h1v1h-1zM105.5 93.5h1v1h-1zM108.5 103.5h1v1h-1zM108.5 105.5h1v1h-1zM104.5 93.5h1v1h-1zM108 99h1v1h-1zM106.5 96.5h1v1h-1zM103 94.5h1v1h-1zM111 96.5h1v1h-1zM104.5 94h1v1h-1zM107 90h1v1h-1zM104 97h1v1h-1zM113 98.5h1v1h-1zM108 104.5h1v1h-1zM111 100.5h1v1h-1zM108 93h1v1h-1zM107.5 99h1v1h-1zM110.5 103.5h1v1h-1zM107.5 100h1v1h-1zM110 101h1v1h-1zM109 105h1v1h-1zM109.5 99.5h1v1h-1zM109.5 99.5h1v1h-1zM109 92h1v1h-1zM110.5 98h1v1h-1zM110.5 95h1v1h-1zM107.5 90.5h1v1h-1zM108 89.5h1v1h-1zM109 101.5h1v1h-1zM104.5 93h1v1h-1zM110.5 99h1v1h-1zM103.5 105.5h1v1h-1zM109 101h1v1h-1zM104.5 92.5h1v1h-1zM101 105h1v1h-1zM105 90.5h1v1h-1zM103.5 96h1v1h-1zM103.5 97.5h1v1h-1zM110.5 108h1v1h-1zM107.5 99h1v1h-1zM109.5 94h1v1h-1zM107.5 105h1v1h-1zM106.5 91h1v1h-1zM106 104.5h1v1h-1zM105.5 92h1v1h-1zM113.5 91h1v1h-1zM104 89.5h1v1h-1zM115.5 95h1v1h-1zM110.5 97.5h1v1h-1zM109.5 97h1v1h-1zM104.5 94.5h1v1h-1zM108.5 90.5h1v1h-1zM112 84.5h1v1h-1zM104.5 93h1v1h-1zM106.5 100h1v1h-1zM107 98h1v1h-1zM100 100h1v1h-1zM105.5 95.5h1v1h-1zM105.5 103h1v1h-1zM103.5 100h1v1h-1z"/><path fill="#e3d95a" d="M114 97.5h1v1h-1zM105 97.5h1v1h-1zM107.5 99h1v1h-1zM110 108.5h1v1h-1zM104.5 90.5h1v1h-1zM111 96h1v1h-1zM112.5 96h1v1h-1zM110.5 99.5h1v1h-1zM111 89.5h1v1h-1zM102 93.5h1v1h-1zM105 98.5h1v1h-1zM101.5 97.5h1v1h-1zM114 101h1v1h-1zM104.5 101h1v1h-1zM107.5 90h1v1h-1zM112 85.5h1v1h-1zM110 99.5h1v1h-1zM106.5 102.5h1v1h-1zM106.5 101h1v1h-1zM114.5 99.5h1v1h-1zM112.5 87.5h1v1h-1zM108 99.5h1v1h-1zM109 95h1v1h-1zM102 94h1v1h-1zM101.5 93h1v1h-1zM108.5 88.5h1v1h-1zM109.5 107h1v1h-1zM105 99h1v1h-1zM112 99h1v1h-1zM108.5 96.5h1v1h-1zM109 87.5h1v1h-1zM105.5 91.5h1v1h-1z"/><path fill="#e3d95a" d="M104.5 71.5h1v1h-1zM105.5 74h1v1h-1zM106 76.5h1v1h-1zM105.5 79h1v1h-1zM106.5 81.5h1v1h-1zM104.5 83h1v1h-1zM107 84h1v1h-1zM103 84.5h1v1h-1zM108.5 74.5h1v1h-1z"/><path fill="#e3d95a" d="M133.5 36h1v1h-1zM141.5 32h1v1h-1zM145 40h1v1h-1zM143.5 45.5h1v1h-1zM149 69h1v1h-1zM82.5 123h1v1h-1zM87 126h1v1h-1zM90 126h1v1h-1zM92 131.5h1v1h-1zM95 129.5h1v1h-1zM96 137.5h1v1h-1zM102 130h1v1h-1zM104.5 123h1v1h-1zM91.5 143.5h1v1h-1zM96 143.5h1v1h-1zM114 150.5h1v1h-1zM86.5 119h1v1h-1z"/>
</g>
<g>
<path d="M143.6 277.3C144.28 275.93 146.13 273.88 147.7 273.8C149.27 273.72 152.02 275.53 153 276.8C153.98 278.07 153.98 279.95 153.6 281.4C153.22 282.85 151.25 284.13 150.7 285.5C150.15 286.87 150.58 288.85 150.3 289.6C150.02 290.35 149.45 290.68 149 290C148.55 289.32 148.5 286.83 147.6 285.5C146.7 284.17 144.27 283.37 143.6 282C142.93 280.63 142.92 278.67 143.6 277.3Z" fill="#b8c23c"/>
<path d="M111.5 297.2C112.23 296.32 113.83 296.12 115 296.6C116.17 297.08 118.3 298.93 118.5 300.1C118.7 301.27 117.27 302.72 116.2 303.6C115.13 304.48 113.03 305.68 112.1 305.4C111.17 305.12 110.7 303.27 110.6 301.9C110.5 300.53 110.77 298.08 111.5 297.2Z" fill="#ec812b"/>
<path d="M193.8 276.1C194.78 276 195.63 276.82 196.7 277.6C197.77 278.38 198.93 279.78 200.2 280.8C201.47 281.82 202.75 283.07 204.3 283.7C205.85 284.33 208.05 284.55 209.5 284.6C210.95 284.65 211.92 283.9 213 284C214.08 284.1 215.37 284.52 216 285.2C216.63 285.88 216.32 287.03 216.8 288.1C217.28 289.17 219 291.27 218.9 291.6C218.8 291.93 217.18 290 216.2 290.1C215.22 290.2 214.12 291.37 213 292.2C211.88 293.03 210.32 294.03 209.5 295.1C208.68 296.17 208.43 297.38 208.1 298.6C207.77 299.82 207.95 302 207.5 302.4C207.05 302.8 206.13 302.02 205.4 301C204.67 299.98 204.17 297.57 203.1 296.3C202.03 295.03 200.55 294.43 199 293.4C197.45 292.37 195.17 291.18 193.8 290.1C192.43 289.02 191.48 288.4 190.8 286.9C190.12 285.4 189.7 282.55 189.7 281.1C189.7 279.65 190.12 279.03 190.8 278.2C191.48 277.37 192.82 276.2 193.8 276.1Z" fill="#4cae4e"/>
<path d="M83.3 323.1C84.13 322.05 86.8 320.43 88.1 320.3C89.4 320.17 90.15 321.53 91.1 322.3C92.05 323.07 93.72 323.82 93.8 324.9C93.88 325.98 92.33 327.48 91.6 328.8C90.87 330.12 90.5 331.85 89.4 332.8C88.3 333.75 86 334.8 85 334.5C84 334.2 83.72 332.32 83.4 331C83.08 329.68 83.12 327.92 83.1 326.6C83.08 325.28 82.47 324.15 83.3 323.1Z" fill="#7f7f7f"/>
<path d="M112.7 325.9 L113.2 325.6" fill="none" stroke="#ec812b" stroke-width="1.1" stroke-linecap="round" stroke-linejoin="round"/>
<path d="M175.9 309.2 L178.6 305.3" fill="none" stroke="#d97ac6" stroke-width="1.3" stroke-linecap="round" stroke-linejoin="round"/>
<path d="M156.2 313C156.15 312.08 156.87 311.2 157.5 311C158.13 310.8 159.17 311.22 160 311.8C160.83 312.38 161.5 313.38 162.5 314.5C163.5 315.62 164.75 317.08 166 318.5C167.25 319.92 169.5 321.92 170 323C170.5 324.08 169.83 325.08 169 325C168.17 324.92 166.33 323.42 165 322.5C163.67 321.58 162.2 320.5 161 319.5C159.8 318.5 158.6 317.58 157.8 316.5C157 315.42 156.25 313.92 156.2 313Z" fill="#b0c8e6"/><path d="M159.3 314C159.72 313.82 160.67 314.33 161.5 315.2C162.33 316.07 163.97 318.18 164.3 319.2C164.63 320.22 164.02 321.3 163.5 321.3C162.98 321.3 161.95 320.03 161.2 319.2C160.45 318.37 159.32 317.17 159 316.3C158.68 315.43 158.88 314.18 159.3 314Z" fill="#b0c8e6" filter="url(#fLungMix)"/>
<path d="M169.3 323.6C170.08 323.23 172.37 322.65 173.7 323.2C175.03 323.75 176.45 325.68 177.3 326.9C178.15 328.12 178.12 329.53 178.8 330.5C179.48 331.47 181.15 331.97 181.4 332.7C181.65 333.43 180.55 333.68 180.3 334.9C180.05 336.12 180.33 339.02 179.9 340C179.47 340.98 178.25 341.52 177.7 340.8C177.15 340.08 177.27 337.17 176.6 335.7C175.93 334.23 174.67 333.22 173.7 332C172.73 330.78 171.58 329.5 170.8 328.4C170.02 327.3 169.25 326.2 169 325.4C168.75 324.6 168.52 323.97 169.3 323.6Z" fill="#de2a2a"/>
<path d="M235.8 315.3C236.75 314.73 239.73 314.68 240.6 315.4C241.47 316.12 241.22 318.6 241 319.6C240.78 320.6 240.17 320.95 239.3 321.4C238.43 321.85 236.75 322.05 235.8 322.3C234.85 322.55 233.75 323.48 233.6 322.9C233.45 322.32 234.53 320.07 234.9 318.8C235.27 317.53 234.85 315.87 235.8 315.3Z" fill="#8b564d"/>
<path d="M231.9 325.2 L234.2 322.6" fill="none" stroke="#8b564d" stroke-width="1.1" stroke-linecap="round" stroke-linejoin="round"/>
<path d="M119.2 338.9C120.37 338.32 123.33 338.12 125.3 338C127.27 337.88 129.68 337.62 131 338.2C132.32 338.78 132.58 339.78 133.2 341.5C133.82 343.22 134.7 346.88 134.7 348.5C134.7 350.12 134.48 350.53 133.2 351.2C131.92 351.87 129.05 352.5 127 352.5C124.95 352.5 122.32 352.15 120.9 351.2C119.48 350.25 118.93 348.42 118.5 346.8C118.07 345.18 118.18 342.82 118.3 341.5C118.42 340.18 118.03 339.48 119.2 338.9Z" fill="#ec812b" filter="url(#fMelDots)"/>
<path d="M141 349 L144 347.2" fill="none" stroke="#de2a2a" stroke-width="1.3" stroke-linecap="round" stroke-linejoin="round"/>
<path d="M145.5 346.3 L148 344.8" fill="none" stroke="#de2a2a" stroke-width="1.2" stroke-linecap="round" stroke-linejoin="round"/>
<path d="M149.5 343.5 L151.5 342.4" fill="none" stroke="#de2a2a" stroke-width="1.2" stroke-linecap="round" stroke-linejoin="round"/>
<path d="M152.8 341.2 L155 340" fill="none" stroke="#de2a2a" stroke-width="1.3" stroke-linecap="round" stroke-linejoin="round"/>
<path d="M156.5 338.2C156.87 337.58 156.93 336.8 157.6 337.1C158.27 337.4 159.77 339.02 160.5 340C161.23 340.98 161.63 341.9 162 343C162.37 344.1 162.95 345.52 162.7 346.6C162.45 347.68 161.47 349.13 160.5 349.5C159.53 349.87 157.62 349.53 156.9 348.8C156.18 348.07 156.45 346.43 156.2 345.1C155.95 343.77 155.35 341.95 155.4 340.8C155.45 339.65 156.13 338.82 156.5 338.2Z" fill="#d97ac6"/>
<path d="M198.1 338.9C198.75 338.03 200.98 339.25 202.5 339.8C204.02 340.35 206.28 342.67 207.2 342.2C208.12 341.73 207.83 338.07 208 337C208.17 335.93 207.8 336.07 208.2 335.8C208.6 335.53 209.83 334.88 210.4 335.4C210.97 335.92 211.2 337.7 211.6 338.9C212 340.1 211.83 341.65 212.8 342.6C213.77 343.55 216.63 343.62 217.4 344.6C218.17 345.58 217.98 347.4 217.4 348.5C216.82 349.6 215.07 350.53 213.9 351.2C212.73 351.87 212 352.73 210.4 352.5C208.8 352.27 206.13 350.38 204.3 349.8C202.47 349.22 200.35 349.8 199.4 349C198.45 348.2 198.82 346.68 198.6 345C198.38 343.32 197.45 339.77 198.1 338.9Z" fill="#8b564d"/>
<path d="M249 344.8C249.33 344.23 250.6 343.6 251.2 343.8C251.8 344 252.63 345.3 252.6 346C252.57 346.7 251.57 347.8 251 348C250.43 348.2 249.53 347.73 249.2 347.2C248.87 346.67 248.67 345.37 249 344.8Z" fill="#9266b8"/>
<path d="M94.5 359C95.35 359.12 96.62 360.28 97.4 361.2C98.18 362.12 99.2 363.47 99.2 364.5C99.2 365.53 98.43 366.67 97.4 367.4C96.37 368.13 94.18 368.9 93 368.9C91.82 368.9 90.72 368.25 90.3 367.4C89.88 366.55 90.17 364.95 90.5 363.8C90.83 362.65 91.63 361.3 92.3 360.5C92.97 359.7 93.65 358.88 94.5 359Z" fill="#ec812b"/>
<path d="M150.1 370.2C150.68 369.47 152.17 368.1 153 368.1C153.83 368.1 154.8 369.27 155.1 370.2C155.4 371.13 155.25 372.97 154.8 373.7C154.35 374.43 153.28 374.8 152.4 374.6C151.52 374.4 149.88 373.23 149.5 372.5C149.12 371.77 149.52 370.93 150.1 370.2Z" fill="#de2a2a"/>
<path d="M132.8 379.3 L138.2 375.1" fill="none" stroke="#de2a2a" stroke-width="1.3" stroke-linecap="round" stroke-linejoin="round"/>
<path d="M172.3 363.2C172.88 362.87 174.93 363.1 176.4 362.9C177.87 362.7 180.13 362.58 181.1 362C182.07 361.42 181.82 359.68 182.2 359.4C182.58 359.12 183.3 359.63 183.4 360.3C183.5 360.97 182.32 362.82 182.8 363.4C183.28 363.98 185.62 363.07 186.3 363.8C186.98 364.53 186.42 366.45 186.9 367.8C187.38 369.15 189 370.88 189.2 371.9C189.4 372.92 188.87 373.7 188.1 373.9C187.33 374.1 185.38 374.02 184.6 373.1C183.82 372.18 184.08 369.67 183.4 368.4C182.72 367.13 181.87 365.98 180.5 365.5C179.13 365.02 176.47 365.6 175.2 365.5C173.93 365.4 173.38 365.28 172.9 364.9C172.42 364.52 171.72 363.53 172.3 363.2Z" fill="#57cfd2"/>
<path d="M175.6 383.5 L176 383.3" fill="none" stroke="#b8c23c" stroke-width="1" stroke-linecap="round" stroke-linejoin="round"/>
<path d="M194.2 390 L198.4 386.6" fill="none" stroke="#4cae4e" stroke-width="1.3" stroke-linecap="round" stroke-linejoin="round"/>
<path d="M226.4 372.3C226.85 371.77 227.27 372.02 227.6 372.6C227.93 373.18 227.68 374.98 228.4 375.8C229.12 376.62 230.92 377.22 231.9 377.5C232.88 377.78 233.8 378.47 234.3 377.5C234.8 376.53 234.42 372.92 234.9 371.7C235.38 370.48 236.23 370.73 237.2 370.2C238.17 369.67 239.43 368.55 240.7 368.5C241.97 368.45 243.88 369.27 244.8 369.9C245.72 370.53 246.02 371.03 246.2 372.3C246.38 373.57 246.23 375.65 245.9 377.5C245.57 379.35 244.87 381.65 244.2 383.4C243.53 385.15 242.87 386.83 241.9 388C240.93 389.17 239.48 390.3 238.4 390.4C237.32 390.5 236.03 389.38 235.4 388.6C234.77 387.82 235.18 386.18 234.6 385.7C234.02 385.22 232.78 385.5 231.9 385.7C231.02 385.9 230.07 387.1 229.3 386.9C228.53 386.7 227.98 385.67 227.3 384.5C226.62 383.33 225.6 381.35 225.2 379.9C224.8 378.45 224.7 377.07 224.9 375.8C225.1 374.53 225.95 372.83 226.4 372.3Z" fill="#9266b8"/>
<path d="M116.4 395.9C116.65 395.6 118.08 396.77 119.3 397C120.52 397.23 122.3 397.48 123.7 397.3C125.1 397.12 126.92 396.62 127.7 395.9C128.48 395.18 128.03 393.37 128.4 393C128.77 392.63 129.4 392.85 129.9 393.7C130.4 394.55 131.33 396.77 131.4 398.1C131.47 399.43 131.1 400.92 130.3 401.7C129.5 402.48 127.95 403.03 126.6 402.8C125.25 402.57 123.67 400.97 122.2 400.3C120.73 399.63 118.77 399.53 117.8 398.8C116.83 398.07 116.15 396.2 116.4 395.9Z" fill="#ec812b"/>
<path d="M113.8 387.8C114.67 387 115.2 387.33 115.7 388.2C116.2 389.07 116.68 391.48 116.8 393C116.92 394.52 116.83 396.15 116.4 397.3C115.97 398.45 115.35 399.1 114.2 399.9C113.05 400.7 110.35 402.4 109.5 402.1C108.65 401.8 108.93 399.62 109.1 398.1C109.27 396.58 109.72 394.72 110.5 393C111.28 391.28 112.93 388.6 113.8 387.8Z" fill="#d97ac6"/>
<path d="M146.6 397.9C147.15 397.78 148.82 398.43 149.9 399.2C150.98 399.97 152.02 401.62 153.1 402.5C154.18 403.38 154.87 404.07 156.4 404.5C157.93 404.93 161.13 404.23 162.3 405.1C163.47 405.97 163.4 407.83 163.4 409.7C163.4 411.57 162.7 413.88 162.3 416.3C161.9 418.72 161.32 421.47 161 424.2C160.68 426.93 161.48 431.4 160.4 432.7C159.32 434 156.25 432.65 154.5 432C152.75 431.35 150.83 430.32 149.9 428.8C148.97 427.28 148.8 424.98 148.9 422.9C149 420.82 149.9 418.72 150.5 416.3C151.1 413.88 152.72 410.6 152.5 408.4C152.28 406.2 150.18 404.52 149.2 403.1C148.22 401.68 147.03 400.77 146.6 399.9C146.17 399.03 146.05 398.02 146.6 397.9Z" fill="#3f81ba"/>
<path d="M188 434C188.55 432.35 190.53 432.12 192.6 430.7C194.67 429.28 197.78 427.35 200.4 425.5C203.02 423.65 206.22 421.35 208.3 419.6C210.38 417.85 212.02 416.32 212.9 415C213.78 413.68 213.15 412.15 213.6 411.7C214.05 411.25 215.17 411.65 215.6 412.3C216.03 412.95 215.98 413.83 216.2 415.6C216.42 417.37 217.12 420.82 216.9 422.9C216.68 424.98 216.33 426.13 214.9 428.1C213.47 430.07 210.48 432.62 208.3 434.7C206.12 436.78 203.98 439.18 201.8 440.6C199.62 442.02 196.97 442.77 195.2 443.2C193.43 443.63 192.18 443.63 191.2 443.2C190.22 442.77 189.83 442.13 189.3 440.6C188.77 439.07 187.45 435.65 188 434Z" fill="#3f81ba"/>
<path d="M223 418.6 L225.9 418.9" fill="none" stroke="#3f81ba" stroke-width="1.4" stroke-linecap="round" stroke-linejoin="round"/>
</g>
<g transform="matrix(0.99 0 0 0.99 355.84 3.08)">
<path d="M143.6 277.3C144.28 275.93 146.13 273.88 147.7 273.8C149.27 273.72 152.02 275.53 153 276.8C153.98 278.07 153.98 279.95 153.6 281.4C153.22 282.85 151.25 284.13 150.7 285.5C150.15 286.87 150.58 288.85 150.3 289.6C150.02 290.35 149.45 290.68 149 290C148.55 289.32 148.5 286.83 147.6 285.5C146.7 284.17 144.27 283.37 143.6 282C142.93 280.63 142.92 278.67 143.6 277.3Z" fill="#c67a7c" filter="url(#fY04)"/><path d="M151.5 276.5C151.83 275.97 152.65 275.98 153 276.8C153.35 277.62 153.8 280.2 153.6 281.4C153.4 282.6 152.23 284.23 151.8 284C151.37 283.77 151.05 281.25 151 280C150.95 278.75 151.17 277.03 151.5 276.5Z" fill="#e3d95a" filter="url(#fR22)"/>
<path d="M111.5 297.2C112.23 296.32 113.83 296.12 115 296.6C116.17 297.08 118.3 298.93 118.5 300.1C118.7 301.27 117.27 302.72 116.2 303.6C115.13 304.48 113.03 305.68 112.1 305.4C111.17 305.12 110.7 303.27 110.6 301.9C110.5 300.53 110.77 298.08 111.5 297.2Z" fill="#c67a7c" filter="url(#fY04)"/>
<path d="M193.8 276.1C194.78 276 195.63 276.82 196.7 277.6C197.77 278.38 198.93 279.78 200.2 280.8C201.47 281.82 202.75 283.07 204.3 283.7C205.85 284.33 208.05 284.55 209.5 284.6C210.95 284.65 211.92 283.9 213 284C214.08 284.1 215.37 284.52 216 285.2C216.63 285.88 216.32 287.03 216.8 288.1C217.28 289.17 219 291.27 218.9 291.6C218.8 291.93 217.18 290 216.2 290.1C215.22 290.2 214.12 291.37 213 292.2C211.88 293.03 210.32 294.03 209.5 295.1C208.68 296.17 208.43 297.38 208.1 298.6C207.77 299.82 207.95 302 207.5 302.4C207.05 302.8 206.13 302.02 205.4 301C204.67 299.98 204.17 297.57 203.1 296.3C202.03 295.03 200.55 294.43 199 293.4C197.45 292.37 195.17 291.18 193.8 290.1C192.43 289.02 191.48 288.4 190.8 286.9C190.12 285.4 189.7 282.55 189.7 281.1C189.7 279.65 190.12 279.03 190.8 278.2C191.48 277.37 192.82 276.2 193.8 276.1Z" fill="#c67a7c" filter="url(#fY22)"/>
<path d="M83.3 323.1C84.13 322.05 86.8 320.43 88.1 320.3C89.4 320.17 90.15 321.53 91.1 322.3C92.05 323.07 93.72 323.82 93.8 324.9C93.88 325.98 92.33 327.48 91.6 328.8C90.87 330.12 90.5 331.85 89.4 332.8C88.3 333.75 86 334.8 85 334.5C84 334.2 83.72 332.32 83.4 331C83.08 329.68 83.12 327.92 83.1 326.6C83.08 325.28 82.47 324.15 83.3 323.1Z" fill="#c67a7c" filter="url(#fY04)"/>
<path d="M112.7 325.9 L113.2 325.6" fill="none" stroke="#c67a7c" stroke-width="1.1" stroke-linecap="round" stroke-linejoin="round"/>
<path d="M175.9 309.2 L178.6 305.3" fill="none" stroke="#e3d95a" stroke-width="1.3" stroke-linecap="round" stroke-linejoin="round"/>
<path d="M156.2 313C156.15 312.08 156.87 311.2 157.5 311C158.13 310.8 159.17 311.22 160 311.8C160.83 312.38 161.5 313.38 162.5 314.5C163.5 315.62 164.75 317.08 166 318.5C167.25 319.92 169.5 321.92 170 323C170.5 324.08 169.83 325.08 169 325C168.17 324.92 166.33 323.42 165 322.5C163.67 321.58 162.2 320.5 161 319.5C159.8 318.5 158.6 317.58 157.8 316.5C157 315.42 156.25 313.92 156.2 313Z" fill="#c67a7c" filter="url(#fY04)"/><path d="M162 316.4C162.62 316.37 164.25 317.87 165.5 319C166.75 320.13 168.95 322.2 169.5 323.2C170.05 324.2 169.55 325.12 168.8 325C168.05 324.88 166.17 323.47 165 322.5C163.83 321.53 162.3 320.22 161.8 319.2C161.3 318.18 161.38 316.43 162 316.4Z" fill="#e3d95a" filter="url(#fR04)"/>
<path d="M169.3 323.6C170.08 323.23 172.37 322.65 173.7 323.2C175.03 323.75 176.45 325.68 177.3 326.9C178.15 328.12 178.12 329.53 178.8 330.5C179.48 331.47 181.15 331.97 181.4 332.7C181.65 333.43 180.55 333.68 180.3 334.9C180.05 336.12 180.33 339.02 179.9 340C179.47 340.98 178.25 341.52 177.7 340.8C177.15 340.08 177.27 337.17 176.6 335.7C175.93 334.23 174.67 333.22 173.7 332C172.73 330.78 171.58 329.5 170.8 328.4C170.02 327.3 169.25 326.2 169 325.4C168.75 324.6 168.52 323.97 169.3 323.6Z" fill="#c67a7c" filter="url(#fY38)"/>
<path d="M235.8 315.3C236.75 314.73 239.73 314.68 240.6 315.4C241.47 316.12 241.22 318.6 241 319.6C240.78 320.6 240.17 320.95 239.3 321.4C238.43 321.85 236.75 322.05 235.8 322.3C234.85 322.55 233.75 323.48 233.6 322.9C233.45 322.32 234.53 320.07 234.9 318.8C235.27 317.53 234.85 315.87 235.8 315.3Z" fill="#c67a7c" filter="url(#fY04)"/>
<path d="M231.9 325.2 L234.2 322.6" fill="none" stroke="#c67a7c" stroke-width="1.1" stroke-linecap="round" stroke-linejoin="round"/>
<path d="M119.2 338.9C120.37 338.32 123.33 338.12 125.3 338C127.27 337.88 129.68 337.62 131 338.2C132.32 338.78 132.58 339.78 133.2 341.5C133.82 343.22 134.7 346.88 134.7 348.5C134.7 350.12 134.48 350.53 133.2 351.2C131.92 351.87 129.05 352.5 127 352.5C124.95 352.5 122.32 352.15 120.9 351.2C119.48 350.25 118.93 348.42 118.5 346.8C118.07 345.18 118.18 342.82 118.3 341.5C118.42 340.18 118.03 339.48 119.2 338.9Z" fill="#e3d95a" filter="url(#fR04)"/>
<path d="M141 349 L144 347.2" fill="none" stroke="#c67a7c" stroke-width="1.3" stroke-linecap="round" stroke-linejoin="round"/>
<path d="M145.5 346.3 L148 344.8" fill="none" stroke="#c67a7c" stroke-width="1.2" stroke-linecap="round" stroke-linejoin="round"/>
<path d="M149.5 343.5 L151.5 342.4" fill="none" stroke="#c67a7c" stroke-width="1.2" stroke-linecap="round" stroke-linejoin="round"/>
<path d="M152.8 341.2 L155 340" fill="none" stroke="#c67a7c" stroke-width="1.3" stroke-linecap="round" stroke-linejoin="round"/>
<path d="M156.5 338.2C156.87 337.58 156.93 336.8 157.6 337.1C158.27 337.4 159.77 339.02 160.5 340C161.23 340.98 161.63 341.9 162 343C162.37 344.1 162.95 345.52 162.7 346.6C162.45 347.68 161.47 349.13 160.5 349.5C159.53 349.87 157.62 349.53 156.9 348.8C156.18 348.07 156.45 346.43 156.2 345.1C155.95 343.77 155.35 341.95 155.4 340.8C155.45 339.65 156.13 338.82 156.5 338.2Z" fill="#c67a7c" filter="url(#fY04)"/>
<path d="M198.1 338.9C198.75 338.03 200.98 339.25 202.5 339.8C204.02 340.35 206.28 342.67 207.2 342.2C208.12 341.73 207.83 338.07 208 337C208.17 335.93 207.8 336.07 208.2 335.8C208.6 335.53 209.83 334.88 210.4 335.4C210.97 335.92 211.2 337.7 211.6 338.9C212 340.1 211.83 341.65 212.8 342.6C213.77 343.55 216.63 343.62 217.4 344.6C218.17 345.58 217.98 347.4 217.4 348.5C216.82 349.6 215.07 350.53 213.9 351.2C212.73 351.87 212 352.73 210.4 352.5C208.8 352.27 206.13 350.38 204.3 349.8C202.47 349.22 200.35 349.8 199.4 349C198.45 348.2 198.82 346.68 198.6 345C198.38 343.32 197.45 339.77 198.1 338.9Z" fill="#c67a7c" filter="url(#fY04)"/><path d="M208 337C207.87 335.97 207.8 336.07 208.2 335.8C208.6 335.53 209.83 334.88 210.4 335.4C210.97 335.92 211.27 337.8 211.6 338.9C211.93 340 212.83 341.48 212.4 342C211.97 342.52 209.73 342.83 209 342C208.27 341.17 208.13 338.03 208 337Z" fill="#e3d95a" filter="url(#fR04)"/>
<path d="M249 344.8C249.33 344.23 250.6 343.6 251.2 343.8C251.8 344 252.63 345.3 252.6 346C252.57 346.7 251.57 347.8 251 348C250.43 348.2 249.53 347.73 249.2 347.2C248.87 346.67 248.67 345.37 249 344.8Z" fill="#c67a7c" filter="url(#fY04)"/>
<path d="M94.5 359C95.35 359.12 96.62 360.28 97.4 361.2C98.18 362.12 99.2 363.47 99.2 364.5C99.2 365.53 98.43 366.67 97.4 367.4C96.37 368.13 94.18 368.9 93 368.9C91.82 368.9 90.72 368.25 90.3 367.4C89.88 366.55 90.17 364.95 90.5 363.8C90.83 362.65 91.63 361.3 92.3 360.5C92.97 359.7 93.65 358.88 94.5 359Z" fill="#c67a7c" filter="url(#fY04)"/>
<path d="M150.1 370.2C150.68 369.47 152.17 368.1 153 368.1C153.83 368.1 154.8 369.27 155.1 370.2C155.4 371.13 155.25 372.97 154.8 373.7C154.35 374.43 153.28 374.8 152.4 374.6C151.52 374.4 149.88 373.23 149.5 372.5C149.12 371.77 149.52 370.93 150.1 370.2Z" fill="#c67a7c" filter="url(#fY04)"/>
<path d="M132.8 379.3 L138.2 375.1" fill="none" stroke="#e3d95a" stroke-width="1.3" stroke-linecap="round" stroke-linejoin="round"/>
<path d="M172.3 363.2C172.88 362.87 174.93 363.1 176.4 362.9C177.87 362.7 180.13 362.58 181.1 362C182.07 361.42 181.82 359.68 182.2 359.4C182.58 359.12 183.3 359.63 183.4 360.3C183.5 360.97 182.32 362.82 182.8 363.4C183.28 363.98 185.62 363.07 186.3 363.8C186.98 364.53 186.42 366.45 186.9 367.8C187.38 369.15 189 370.88 189.2 371.9C189.4 372.92 188.87 373.7 188.1 373.9C187.33 374.1 185.38 374.02 184.6 373.1C183.82 372.18 184.08 369.67 183.4 368.4C182.72 367.13 181.87 365.98 180.5 365.5C179.13 365.02 176.47 365.6 175.2 365.5C173.93 365.4 173.38 365.28 172.9 364.9C172.42 364.52 171.72 363.53 172.3 363.2Z" fill="#e3d95a" filter="url(#fR04)"/><path d="M182.8 363.4C183.28 363.03 185.62 363.07 186.3 363.8C186.98 364.53 187.12 367.02 186.9 367.8C186.68 368.58 185.58 368.8 185 368.5C184.42 368.2 183.77 366.85 183.4 366C183.03 365.15 182.32 363.77 182.8 363.4Z" fill="#c67a7c" filter="url(#fY04)"/>
<path d="M175.6 383.5 L176 383.3" fill="none" stroke="#c67a7c" stroke-width="1" stroke-linecap="round" stroke-linejoin="round"/>
<path d="M194.2 390 L198.4 386.6" fill="none" stroke="#c67a7c" stroke-width="1.3" stroke-linecap="round" stroke-linejoin="round"/>
<path d="M226.4 372.3C226.85 371.77 227.27 372.02 227.6 372.6C227.93 373.18 227.68 374.98 228.4 375.8C229.12 376.62 230.92 377.22 231.9 377.5C232.88 377.78 233.8 378.47 234.3 377.5C234.8 376.53 234.42 372.92 234.9 371.7C235.38 370.48 236.23 370.73 237.2 370.2C238.17 369.67 239.43 368.55 240.7 368.5C241.97 368.45 243.88 369.27 244.8 369.9C245.72 370.53 246.02 371.03 246.2 372.3C246.38 373.57 246.23 375.65 245.9 377.5C245.57 379.35 244.87 381.65 244.2 383.4C243.53 385.15 242.87 386.83 241.9 388C240.93 389.17 239.48 390.3 238.4 390.4C237.32 390.5 236.03 389.38 235.4 388.6C234.77 387.82 235.18 386.18 234.6 385.7C234.02 385.22 232.78 385.5 231.9 385.7C231.02 385.9 230.07 387.1 229.3 386.9C228.53 386.7 227.98 385.67 227.3 384.5C226.62 383.33 225.6 381.35 225.2 379.9C224.8 378.45 224.7 377.07 224.9 375.8C225.1 374.53 225.95 372.83 226.4 372.3Z" fill="#c67a7c" filter="url(#fY22)"/><path d="M237.2 370.2C237.82 369.45 239.43 368.55 240.7 368.5C241.97 368.45 243.88 369.27 244.8 369.9C245.72 370.53 246.02 371.03 246.2 372.3C246.38 373.57 246.43 376.55 245.9 377.5C245.37 378.45 243.98 378.42 243 378C242.02 377.58 241 375.83 240 375C239 374.17 237.47 373.8 237 373C236.53 372.2 236.58 370.95 237.2 370.2Z" fill="#e3d95a" filter="url(#fR04)"/>
<path d="M116.4 395.9C116.65 395.6 118.08 396.77 119.3 397C120.52 397.23 122.3 397.48 123.7 397.3C125.1 397.12 126.92 396.62 127.7 395.9C128.48 395.18 128.03 393.37 128.4 393C128.77 392.63 129.4 392.85 129.9 393.7C130.4 394.55 131.33 396.77 131.4 398.1C131.47 399.43 131.1 400.92 130.3 401.7C129.5 402.48 127.95 403.03 126.6 402.8C125.25 402.57 123.67 400.97 122.2 400.3C120.73 399.63 118.77 399.53 117.8 398.8C116.83 398.07 116.15 396.2 116.4 395.9Z" fill="#c67a7c" filter="url(#fY04)"/>
<path d="M113.8 387.8C114.67 387 115.2 387.33 115.7 388.2C116.2 389.07 116.68 391.48 116.8 393C116.92 394.52 116.83 396.15 116.4 397.3C115.97 398.45 115.35 399.1 114.2 399.9C113.05 400.7 110.35 402.4 109.5 402.1C108.65 401.8 108.93 399.62 109.1 398.1C109.27 396.58 109.72 394.72 110.5 393C111.28 391.28 112.93 388.6 113.8 387.8Z" fill="#c67a7c" filter="url(#fY04)"/>
<path d="M146.6 397.9C147.15 397.78 148.82 398.43 149.9 399.2C150.98 399.97 152.02 401.62 153.1 402.5C154.18 403.38 154.87 404.07 156.4 404.5C157.93 404.93 161.13 404.23 162.3 405.1C163.47 405.97 163.4 407.83 163.4 409.7C163.4 411.57 162.7 413.88 162.3 416.3C161.9 418.72 161.32 421.47 161 424.2C160.68 426.93 161.48 431.4 160.4 432.7C159.32 434 156.25 432.65 154.5 432C152.75 431.35 150.83 430.32 149.9 428.8C148.97 427.28 148.8 424.98 148.9 422.9C149 420.82 149.9 418.72 150.5 416.3C151.1 413.88 152.72 410.6 152.5 408.4C152.28 406.2 150.18 404.52 149.2 403.1C148.22 401.68 147.03 400.77 146.6 399.9C146.17 399.03 146.05 398.02 146.6 397.9Z" fill="#e3d95a" filter="url(#fR04)"/>
<path d="M188 434C188.55 432.35 190.53 432.12 192.6 430.7C194.67 429.28 197.78 427.35 200.4 425.5C203.02 423.65 206.22 421.35 208.3 419.6C210.38 417.85 212.02 416.32 212.9 415C213.78 413.68 213.15 412.15 213.6 411.7C214.05 411.25 215.17 411.65 215.6 412.3C216.03 412.95 215.98 413.83 216.2 415.6C216.42 417.37 217.12 420.82 216.9 422.9C216.68 424.98 216.33 426.13 214.9 428.1C213.47 430.07 210.48 432.62 208.3 434.7C206.12 436.78 203.98 439.18 201.8 440.6C199.62 442.02 196.97 442.77 195.2 443.2C193.43 443.63 192.18 443.63 191.2 443.2C190.22 442.77 189.83 442.13 189.3 440.6C188.77 439.07 187.45 435.65 188 434Z" fill="#c67a7c" filter="url(#fY38)"/><path d="M188 434C188.55 432.35 190.53 432.12 192.6 430.7C194.67 429.28 198.5 425.95 200.4 425.5C202.3 425.05 203.77 425.48 204 428C204.23 430.52 203.27 438.07 201.8 440.6C200.33 443.13 196.97 442.77 195.2 443.2C193.43 443.63 192.18 443.63 191.2 443.2C190.22 442.77 189.83 442.13 189.3 440.6C188.77 439.07 187.45 435.65 188 434Z" fill="#e3d95a" filter="url(#fR38)"/>
<path d="M223 418.6 L225.9 418.9" fill="none" stroke="#c67a7c" stroke-width="1.4" stroke-linecap="round" stroke-linejoin="round"/>
</g>
<defs><filter id="cOr" x="0" y="0" width="100%" height="100%" color-interpolation-filters="sRGB"><feTurbulence type="fractalNoise" baseFrequency="1.1" numOctaves="2" seed="1" result="n0"/><feColorMatrix in="n0" type="matrix" values="0 0 0 0 0.851 0 0 0 0 0.478 0 0 0 0 0.776 60 0 0 0 -44.65" result="m0"/><feComposite in="m0" in2="SourceAlpha" operator="in" result="c0"/><feTurbulence type="fractalNoise" baseFrequency="1.1" numOctaves="2" seed="2" result="n1"/><feColorMatrix in="n1" type="matrix" values="0 0 0 0 0.298 0 0 0 0 0.682 0 0 0 0 0.306 60 0 0 0 -44.68" result="m1"/><feComposite in="m1" in2="SourceAlpha" operator="in" result="c1"/><feTurbulence type="fractalNoise" baseFrequency="1.1" numOctaves="2" seed="3" result="n2"/><feColorMatrix in="n2" type="matrix" values="0 0 0 0 0.871 0 0 0 0 0.165 0 0 0 0 0.165 60 0 0 0 -43.07" result="m2"/><feComposite in="m2" in2="SourceAlpha" operator="in" result="c2"/><feTurbulence type="fractalNoise" baseFrequency="1.1" numOctaves="2" seed="4" result="n3"/><feColorMatrix in="n3" type="matrix" values="0 0 0 0 0.573 0 0 0 0 0.400 0 0 0 0 0.722 60 0 0 0 -42.14" result="m3"/><feComposite in="m3" in2="SourceAlpha" operator="in" result="c3"/><feTurbulence type="fractalNoise" baseFrequency="1.1" numOctaves="2" seed="5" result="n4"/><feColorMatrix in="n4" type="matrix" values="0 0 0 0 0.341 0 0 0 0 0.812 0 0 0 0 0.824 60 0 0 0 -41.14" result="m4"/><feComposite in="m4" in2="SourceAlpha" operator="in" result="c4"/><feMerge><feMergeNode in="SourceGraphic"/><feMergeNode in="c0"/><feMergeNode in="c1"/><feMergeNode in="c2"/><feMergeNode in="c3"/><feMergeNode in="c4"/></feMerge></filter><filter id="cOrL" x="0" y="0" width="100%" height="100%" color-interpolation-filters="sRGB"><feTurbulence type="fractalNoise" baseFrequency="1.1" numOctaves="2" seed="6" result="n0"/><feColorMatrix in="n0" type="matrix" values="0 0 0 0 0.851 0 0 0 0 0.478 0 0 0 0 0.776 60 0 0 0 -40.69" result="m0"/><feComposite in="m0" in2="SourceAlpha" operator="in" result="c0"/><feTurbulence type="fractalNoise" baseFrequency="1.1" numOctaves="2" seed="7" result="n1"/><feColorMatrix in="n1" type="matrix" values="0 0 0 0 0.298 0 0 0 0 0.682 0 0 0 0 0.306 60 0 0 0 -36.12" result="m1"/><feComposite in="m1" in2="SourceAlpha" operator="in" result="c1"/><feTurbulence type="fractalNoise" baseFrequency="1.1" numOctaves="2" seed="8" result="n2"/><feColorMatrix in="n2" type="matrix" values="0 0 0 0 0.871 0 0 0 0 0.165 0 0 0 0 0.165 60 0 0 0 -40.45" result="m2"/><feComposite in="m2" in2="SourceAlpha" operator="in" result="c2"/><feTurbulence type="fractalNoise" baseFrequency="1.1" numOctaves="2" seed="9" result="n3"/><feColorMatrix in="n3" type="matrix" values="0 0 0 0 0.573 0 0 0 0 0.400 0 0 0 0 0.722 60 0 0 0 -44.36" result="m3"/><feComposite in="m3" in2="SourceAlpha" operator="in" result="c3"/><feTurbulence type="fractalNoise" baseFrequency="1.1" numOctaves="2" seed="10" result="n4"/><feColorMatrix in="n4" type="matrix" values="0 0 0 0 0.341 0 0 0 0 0.812 0 0 0 0 0.824 60 0 0 0 -44.40" result="m4"/><feComposite in="m4" in2="SourceAlpha" operator="in" result="c4"/><feMerge><feMergeNode in="SourceGraphic"/><feMergeNode in="c0"/><feMergeNode in="c1"/><feMergeNode in="c2"/><feMergeNode in="c3"/><feMergeNode in="c4"/></feMerge></filter><filter id="cMixTop" x="0" y="0" width="100%" height="100%" color-interpolation-filters="sRGB"><feTurbulence type="fractalNoise" baseFrequency="1.1" numOctaves="2" seed="11" result="n0"/><feColorMatrix in="n0" type="matrix" values="0 0 0 0 0.298 0 0 0 0 0.682 0 0 0 0 0.306 60 0 0 0 -31.18" result="m0"/><feComposite in="m0" in2="SourceAlpha" operator="in" result="c0"/><feTurbulence type="fractalNoise" baseFrequency="1.1" numOctaves="2" seed="12" result="n1"/><feColorMatrix in="n1" type="matrix" values="0 0 0 0 0.925 0 0 0 0 0.506 0 0 0 0 0.169 60 0 0 0 -38.36" result="m1"/><feComposite in="m1" in2="SourceAlpha" operator="in" result="c1"/><feTurbulence type="fractalNoise" baseFrequency="1.1" numOctaves="2" seed="13" result="n2"/><feColorMatrix in="n2" type="matrix" values="0 0 0 0 0.871 0 0 0 0 0.165 0 0 0 0 0.165 60 0 0 0 -39.75" result="m2"/><feComposite in="m2" in2="SourceAlpha" operator="in" result="c2"/><feTurbulence type="fractalNoise" baseFrequency="1.1" numOctaves="2" seed="14" result="n3"/><feColorMatrix in="n3" type="matrix" values="0 0 0 0 0.573 0 0 0 0 0.400 0 0 0 0 0.722 60 0 0 0 -42.28" result="m3"/><feComposite in="m3" in2="SourceAlpha" operator="in" result="c3"/><feTurbulence type="fractalNoise" baseFrequency="1.1" numOctaves="2" seed="15" result="n4"/><feColorMatrix in="n4" type="matrix" values="0 0 0 0 0.341 0 0 0 0 0.812 0 0 0 0 0.824 60 0 0 0 -43.40" result="m4"/><feComposite in="m4" in2="SourceAlpha" operator="in" result="c4"/><feMerge><feMergeNode in="SourceGraphic"/><feMergeNode in="c0"/><feMergeNode in="c1"/><feMergeNode in="c2"/><feMergeNode in="c3"/><feMergeNode in="c4"/></feMerge></filter><filter id="cPinkTail" x="0" y="0" width="100%" height="100%" color-interpolation-filters="sRGB"><feTurbulence type="fractalNoise" baseFrequency="1.1" numOctaves="2" seed="52" result="n0"/><feColorMatrix in="n0" type="matrix" values="0 0 0 0 1.000 0 0 0 0 1.000 0 0 0 0 1.000 60 0 0 0 -29.07" result="m0"/><feComposite in="m0" in2="SourceAlpha" operator="in" result="c0"/><feTurbulence type="fractalNoise" baseFrequency="1.1" numOctaves="2" seed="53" result="n1"/><feColorMatrix in="n1" type="matrix" values="0 0 0 0 0.298 0 0 0 0 0.682 0 0 0 0 0.306 60 0 0 0 -38.46" result="m1"/><feComposite in="m1" in2="SourceAlpha" operator="in" result="c1"/><feTurbulence type="fractalNoise" baseFrequency="1.1" numOctaves="2" seed="54" result="n2"/><feColorMatrix in="n2" type="matrix" values="0 0 0 0 0.925 0 0 0 0 0.506 0 0 0 0 0.169 60 0 0 0 -39.85" result="m2"/><feComposite in="m2" in2="SourceAlpha" operator="in" result="c2"/><feTurbulence type="fractalNoise" baseFrequency="1.1" numOctaves="2" seed="55" result="n3"/><feColorMatrix in="n3" type="matrix" values="0 0 0 0 0.871 0 0 0 0 0.165 0 0 0 0 0.165 60 0 0 0 -41.68" result="m3"/><feComposite in="m3" in2="SourceAlpha" operator="in" result="c3"/><feMerge><feMergeNode in="SourceGraphic"/><feMergeNode in="c0"/><feMergeNode in="c1"/><feMergeNode in="c2"/><feMergeNode in="c3"/></feMerge></filter><filter id="cMix" x="0" y="0" width="100%" height="100%" color-interpolation-filters="sRGB"><feTurbulence type="fractalNoise" baseFrequency="1.1" numOctaves="2" seed="16" result="n0"/><feColorMatrix in="n0" type="matrix" values="0 0 0 0 0.851 0 0 0 0 0.478 0 0 0 0 0.776 60 0 0 0 -30.51" result="m0"/><feComposite in="m0" in2="SourceAlpha" operator="in" result="c0"/><feTurbulence type="fractalNoise" baseFrequency="1.1" numOctaves="2" seed="17" result="n1"/><feColorMatrix in="n1" type="matrix" values="0 0 0 0 0.871 0 0 0 0 0.165 0 0 0 0 0.165 60 0 0 0 -37.64" result="m1"/><feComposite in="m1" in2="SourceAlpha" operator="in" result="c1"/><feTurbulence type="fractalNoise" baseFrequency="1.1" numOctaves="2" seed="18" result="n2"/><feColorMatrix in="n2" type="matrix" values="0 0 0 0 0.925 0 0 0 0 0.506 0 0 0 0 0.169 60 0 0 0 -37.56" result="m2"/><feComposite in="m2" in2="SourceAlpha" operator="in" result="c2"/><feTurbulence type="fractalNoise" baseFrequency="1.1" numOctaves="2" seed="19" result="n3"/><feColorMatrix in="n3" type="matrix" values="0 0 0 0 0.573 0 0 0 0 0.400 0 0 0 0 0.722 60 0 0 0 -43.27" result="m3"/><feComposite in="m3" in2="SourceAlpha" operator="in" result="c3"/><feTurbulence type="fractalNoise" baseFrequency="1.1" numOctaves="2" seed="20" result="n4"/><feColorMatrix in="n4" type="matrix" values="0 0 0 0 0.341 0 0 0 0 0.812 0 0 0 0 0.824 60 0 0 0 -42.40" result="m4"/><feComposite in="m4" in2="SourceAlpha" operator="in" result="c4"/><feMerge><feMergeNode in="SourceGraphic"/><feMergeNode in="c0"/><feMergeNode in="c1"/><feMergeNode in="c2"/><feMergeNode in="c3"/><feMergeNode in="c4"/></feMerge></filter><filter id="cRed" x="0" y="0" width="100%" height="100%" color-interpolation-filters="sRGB"><feTurbulence type="fractalNoise" baseFrequency="1.1" numOctaves="2" seed="21" result="n0"/><feColorMatrix in="n0" type="matrix" values="0 0 0 0 0.851 0 0 0 0 0.478 0 0 0 0 0.776 60 0 0 0 -33.91" result="m0"/><feComposite in="m0" in2="SourceAlpha" operator="in" result="c0"/><feTurbulence type="fractalNoise" baseFrequency="1.1" numOctaves="2" seed="22" result="n1"/><feColorMatrix in="n1" type="matrix" values="0 0 0 0 0.298 0 0 0 0 0.682 0 0 0 0 0.306 60 0 0 0 -36.00" result="m1"/><feComposite in="m1" in2="SourceAlpha" operator="in" result="c1"/><feTurbulence type="fractalNoise" baseFrequency="1.1" numOctaves="2" seed="23" result="n2"/><feColorMatrix in="n2" type="matrix" values="0 0 0 0 0.925 0 0 0 0 0.506 0 0 0 0 0.169 60 0 0 0 -37.03" result="m2"/><feComposite in="m2" in2="SourceAlpha" operator="in" result="c2"/><feTurbulence type="fractalNoise" baseFrequency="1.1" numOctaves="2" seed="24" result="n3"/><feColorMatrix in="n3" type="matrix" values="0 0 0 0 0.573 0 0 0 0 0.400 0 0 0 0 0.722 60 0 0 0 -43.40" result="m3"/><feComposite in="m3" in2="SourceAlpha" operator="in" result="c3"/><feMerge><feMergeNode in="SourceGraphic"/><feMergeNode in="c0"/><feMergeNode in="c1"/><feMergeNode in="c2"/><feMergeNode in="c3"/></feMerge></filter><filter id="cCyan" x="0" y="0" width="100%" height="100%" color-interpolation-filters="sRGB"><feTurbulence type="fractalNoise" baseFrequency="1.1" numOctaves="2" seed="25" result="n0"/><feColorMatrix in="n0" type="matrix" values="0 0 0 0 0.298 0 0 0 0 0.682 0 0 0 0 0.306 60 0 0 0 -37.92" result="m0"/><feComposite in="m0" in2="SourceAlpha" operator="in" result="c0"/><feTurbulence type="fractalNoise" baseFrequency="1.1" numOctaves="2" seed="26" result="n1"/><feColorMatrix in="n1" type="matrix" values="0 0 0 0 0.851 0 0 0 0 0.478 0 0 0 0 0.776 60 0 0 0 -39.32" result="m1"/><feComposite in="m1" in2="SourceAlpha" operator="in" result="c1"/><feTurbulence type="fractalNoise" baseFrequency="1.1" numOctaves="2" seed="27" result="n2"/><feColorMatrix in="n2" type="matrix" values="0 0 0 0 0.871 0 0 0 0 0.165 0 0 0 0 0.165 60 0 0 0 -40.82" result="m2"/><feComposite in="m2" in2="SourceAlpha" operator="in" result="c2"/><feTurbulence type="fractalNoise" baseFrequency="1.1" numOctaves="2" seed="28" result="n3"/><feColorMatrix in="n3" type="matrix" values="0 0 0 0 0.925 0 0 0 0 0.506 0 0 0 0 0.169 60 0 0 0 -41.04" result="m3"/><feComposite in="m3" in2="SourceAlpha" operator="in" result="c3"/><feTurbulence type="fractalNoise" baseFrequency="1.1" numOctaves="2" seed="29" result="n4"/><feColorMatrix in="n4" type="matrix" values="0 0 0 0 0.573 0 0 0 0 0.400 0 0 0 0 0.722 60 0 0 0 -43.40" result="m4"/><feComposite in="m4" in2="SourceAlpha" operator="in" result="c4"/><feMerge><feMergeNode in="SourceGraphic"/><feMergeNode in="c0"/><feMergeNode in="c1"/><feMergeNode in="c2"/><feMergeNode in="c3"/><feMergeNode in="c4"/></feMerge></filter><filter id="cPur" x="0" y="0" width="100%" height="100%" color-interpolation-filters="sRGB"><feTurbulence type="fractalNoise" baseFrequency="1.1" numOctaves="2" seed="30" result="n0"/><feColorMatrix in="n0" type="matrix" values="0 0 0 0 0.341 0 0 0 0 0.812 0 0 0 0 0.824 60 0 0 0 -39.49" result="m0"/><feComposite in="m0" in2="SourceAlpha" operator="in" result="c0"/><feTurbulence type="fractalNoise" baseFrequency="1.1" numOctaves="2" seed="31" result="n1"/><feColorMatrix in="n1" type="matrix" values="0 0 0 0 0.871 0 0 0 0 0.165 0 0 0 0 0.165 60 0 0 0 -41.48" result="m1"/><feComposite in="m1" in2="SourceAlpha" operator="in" result="c1"/><feTurbulence type="fractalNoise" baseFrequency="1.1" numOctaves="2" seed="32" result="n2"/><feColorMatrix in="n2" type="matrix" values="0 0 0 0 0.247 0 0 0 0 0.506 0 0 0 0 0.729 60 0 0 0 -42.28" result="m2"/><feComposite in="m2" in2="SourceAlpha" operator="in" result="c2"/><feTurbulence type="fractalNoise" baseFrequency="1.1" numOctaves="2" seed="33" result="n3"/><feColorMatrix in="n3" type="matrix" values="0 0 0 0 0.298 0 0 0 0 0.682 0 0 0 0 0.306 60 0 0 0 -43.40" result="m3"/><feComposite in="m3" in2="SourceAlpha" operator="in" result="c3"/><feMerge><feMergeNode in="SourceGraphic"/><feMergeNode in="c0"/><feMergeNode in="c1"/><feMergeNode in="c2"/><feMergeNode in="c3"/></feMerge></filter><filter id="cPurUR" x="0" y="0" width="100%" height="100%" color-interpolation-filters="sRGB"><feTurbulence type="fractalNoise" baseFrequency="1.1" numOctaves="2" seed="34" result="n0"/><feColorMatrix in="n0" type="matrix" values="0 0 0 0 0.341 0 0 0 0 0.812 0 0 0 0 0.824 60 0 0 0 -36.26" result="m0"/><feComposite in="m0" in2="SourceAlpha" operator="in" result="c0"/><feTurbulence type="fractalNoise" baseFrequency="1.1" numOctaves="2" seed="35" result="n1"/><feColorMatrix in="n1" type="matrix" values="0 0 0 0 0.871 0 0 0 0 0.165 0 0 0 0 0.165 60 0 0 0 -41.57" result="m1"/><feComposite in="m1" in2="SourceAlpha" operator="in" result="c1"/><feTurbulence type="fractalNoise" baseFrequency="1.1" numOctaves="2" seed="36" result="n2"/><feColorMatrix in="n2" type="matrix" values="0 0 0 0 0.247 0 0 0 0 0.506 0 0 0 0 0.729 60 0 0 0 -42.40" result="m2"/><feComposite in="m2" in2="SourceAlpha" operator="in" result="c2"/><feMerge><feMergeNode in="SourceGraphic"/><feMergeNode in="c0"/><feMergeNode in="c1"/><feMergeNode in="c2"/></feMerge></filter><filter id="cPink" x="0" y="0" width="100%" height="100%" color-interpolation-filters="sRGB"><feTurbulence type="fractalNoise" baseFrequency="1.1" numOctaves="2" seed="37" result="n0"/><feColorMatrix in="n0" type="matrix" values="0 0 0 0 0.871 0 0 0 0 0.165 0 0 0 0 0.165 60 0 0 0 -42.79" result="m0"/><feComposite in="m0" in2="SourceAlpha" operator="in" result="c0"/><feTurbulence type="fractalNoise" baseFrequency="1.1" numOctaves="2" seed="38" result="n1"/><feColorMatrix in="n1" type="matrix" values="0 0 0 0 0.298 0 0 0 0 0.682 0 0 0 0 0.306 60 0 0 0 -41.31" result="m1"/><feComposite in="m1" in2="SourceAlpha" operator="in" result="c1"/><feTurbulence type="fractalNoise" baseFrequency="1.1" numOctaves="2" seed="39" result="n2"/><feColorMatrix in="n2" type="matrix" values="0 0 0 0 0.247 0 0 0 0 0.506 0 0 0 0 0.729 60 0 0 0 -40.94" result="m2"/><feComposite in="m2" in2="SourceAlpha" operator="in" result="c2"/><feTurbulence type="fractalNoise" baseFrequency="1.1" numOctaves="2" seed="40" result="n3"/><feColorMatrix in="n3" type="matrix" values="0 0 0 0 0.573 0 0 0 0 0.400 0 0 0 0 0.722 60 0 0 0 -41.14" result="m3"/><feComposite in="m3" in2="SourceAlpha" operator="in" result="c3"/><feMerge><feMergeNode in="SourceGraphic"/><feMergeNode in="c0"/><feMergeNode in="c1"/><feMergeNode in="c2"/><feMergeNode in="c3"/></feMerge></filter><filter id="cBlue" x="0" y="0" width="100%" height="100%" color-interpolation-filters="sRGB"><feTurbulence type="fractalNoise" baseFrequency="1.1" numOctaves="2" seed="41" result="n0"/><feColorMatrix in="n0" type="matrix" values="0 0 0 0 0.341 0 0 0 0 0.812 0 0 0 0 0.824 60 0 0 0 -48.00" result="m0"/><feComposite in="m0" in2="SourceAlpha" operator="in" result="c0"/><feMerge><feMergeNode in="SourceGraphic"/><feMergeNode in="c0"/></feMerge></filter><filter id="cRedMM" x="0" y="0" width="100%" height="100%" color-interpolation-filters="sRGB"><feTurbulence type="fractalNoise" baseFrequency="1.1" numOctaves="2" seed="43" result="n0"/><feColorMatrix in="n0" type="matrix" values="0 0 0 0 0.247 0 0 0 0 0.506 0 0 0 0 0.729 60 0 0 0 -36.91" result="m0"/><feComposite in="m0" in2="SourceAlpha" operator="in" result="c0"/><feTurbulence type="fractalNoise" baseFrequency="1.1" numOctaves="2" seed="44" result="n1"/><feColorMatrix in="n1" type="matrix" values="0 0 0 0 0.851 0 0 0 0 0.478 0 0 0 0 0.776 60 0 0 0 -41.68" result="m1"/><feComposite in="m1" in2="SourceAlpha" operator="in" result="c1"/><feMerge><feMergeNode in="SourceGraphic"/><feMergeNode in="c0"/><feMergeNode in="c1"/></feMerge></filter><filter id="cBrown" x="0" y="0" width="100%" height="100%" color-interpolation-filters="sRGB"><feTurbulence type="fractalNoise" baseFrequency="1.1" numOctaves="2" seed="45" result="n0"/><feColorMatrix in="n0" type="matrix" values="0 0 0 0 0.341 0 0 0 0 0.812 0 0 0 0 0.824 60 0 0 0 -36.33" result="m0"/><feComposite in="m0" in2="SourceAlpha" operator="in" result="c0"/><feTurbulence type="fractalNoise" baseFrequency="1.1" numOctaves="2" seed="46" result="n1"/><feColorMatrix in="n1" type="matrix" values="0 0 0 0 0.298 0 0 0 0 0.682 0 0 0 0 0.306 60 0 0 0 -43.24" result="m1"/><feComposite in="m1" in2="SourceAlpha" operator="in" result="c1"/><feTurbulence type="fractalNoise" baseFrequency="1.1" numOctaves="2" seed="47" result="n2"/><feColorMatrix in="n2" type="matrix" values="0 0 0 0 0.573 0 0 0 0 0.400 0 0 0 0 0.722 60 0 0 0 -43.34" result="m2"/><feComposite in="m2" in2="SourceAlpha" operator="in" result="c2"/><feTurbulence type="fractalNoise" baseFrequency="1.1" numOctaves="2" seed="48" result="n3"/><feColorMatrix in="n3" type="matrix" values="0 0 0 0 0.871 0 0 0 0 0.165 0 0 0 0 0.165 60 0 0 0 -44.40" result="m3"/><feComposite in="m3" in2="SourceAlpha" operator="in" result="c3"/><feMerge><feMergeNode in="SourceGraphic"/><feMergeNode in="c0"/><feMergeNode in="c1"/><feMergeNode in="c2"/><feMergeNode in="c3"/></feMerge></filter><filter id="cPinkTri" x="0" y="0" width="100%" height="100%" color-interpolation-filters="sRGB"><feTurbulence type="fractalNoise" baseFrequency="1.1" numOctaves="2" seed="49" result="n0"/><feColorMatrix in="n0" type="matrix" values="0 0 0 0 0.247 0 0 0 0 0.506 0 0 0 0 0.729 60 0 0 0 -36.59" result="m0"/><feComposite in="m0" in2="SourceAlpha" operator="in" result="c0"/><feTurbulence type="fractalNoise" baseFrequency="1.1" numOctaves="2" seed="50" result="n1"/><feColorMatrix in="n1" type="matrix" values="0 0 0 0 0.871 0 0 0 0 0.165 0 0 0 0 0.165 60 0 0 0 -41.54" result="m1"/><feComposite in="m1" in2="SourceAlpha" operator="in" result="c1"/><feTurbulence type="fractalNoise" baseFrequency="1.1" numOctaves="2" seed="51" result="n2"/><feColorMatrix in="n2" type="matrix" values="0 0 0 0 0.298 0 0 0 0 0.682 0 0 0 0 0.306 60 0 0 0 -41.68" result="m2"/><feComposite in="m2" in2="SourceAlpha" operator="in" result="c2"/><feMerge><feMergeNode in="SourceGraphic"/><feMergeNode in="c0"/><feMergeNode in="c1"/><feMergeNode in="c2"/></feMerge></filter><filter id="rYa" x="0" y="0" width="100%" height="100%" color-interpolation-filters="sRGB"><feTurbulence type="fractalNoise" baseFrequency="1.1" numOctaves="2" seed="61" result="n0"/><feColorMatrix in="n0" type="matrix" values="0 0 0 0 0.890 0 0 0 0 0.851 0 0 0 0 0.353 60 0 0 0 -35.59" result="m0"/><feComposite in="m0" in2="SourceAlpha" operator="in" result="c0"/><feMerge><feMergeNode in="SourceGraphic"/><feMergeNode in="c0"/></feMerge></filter><filter id="rYb" x="0" y="0" width="100%" height="100%" color-interpolation-filters="sRGB"><feTurbulence type="fractalNoise" baseFrequency="1.1" numOctaves="2" seed="62" result="n0"/><feColorMatrix in="n0" type="matrix" values="0 0 0 0 0.890 0 0 0 0 0.851 0 0 0 0 0.353 60 0 0 0 -39.00" result="m0"/><feComposite in="m0" in2="SourceAlpha" operator="in" result="c0"/><feMerge><feMergeNode in="SourceGraphic"/><feMergeNode in="c0"/></feMerge></filter><filter id="rYc" x="0" y="0" width="100%" height="100%" color-interpolation-filters="sRGB"><feTurbulence type="fractalNoise" baseFrequency="1.1" numOctaves="2" seed="63" result="n0"/><feColorMatrix in="n0" type="matrix" values="0 0 0 0 0.890 0 0 0 0 0.851 0 0 0 0 0.353 60 0 0 0 -29.38" result="m0"/><feComposite in="m0" in2="SourceAlpha" operator="in" result="c0"/><feMerge><feMergeNode in="SourceGraphic"/><feMergeNode in="c0"/></feMerge></filter><filter id="rYd" x="0" y="0" width="100%" height="100%" color-interpolation-filters="sRGB"><feTurbulence type="fractalNoise" baseFrequency="1.1" numOctaves="2" seed="64" result="n0"/><feColorMatrix in="n0" type="matrix" values="0 0 0 0 0.890 0 0 0 0 0.851 0 0 0 0 0.353 60 0 0 0 -32.15" result="m0"/><feComposite in="m0" in2="SourceAlpha" operator="in" result="c0"/><feMerge><feMergeNode in="SourceGraphic"/><feMergeNode in="c0"/></feMerge></filter><filter id="rRa" x="0" y="0" width="100%" height="100%" color-interpolation-filters="sRGB"><feTurbulence type="fractalNoise" baseFrequency="1.1" numOctaves="2" seed="65" result="n0"/><feColorMatrix in="n0" type="matrix" values="0 0 0 0 0.776 0 0 0 0 0.478 0 0 0 0 0.486 60 0 0 0 -35.59" result="m0"/><feComposite in="m0" in2="SourceAlpha" operator="in" result="c0"/><feMerge><feMergeNode in="SourceGraphic"/><feMergeNode in="c0"/></feMerge></filter><filter id="rRb" x="0" y="0" width="100%" height="100%" color-interpolation-filters="sRGB"><feTurbulence type="fractalNoise" baseFrequency="1.1" numOctaves="2" seed="66" result="n0"/><feColorMatrix in="n0" type="matrix" values="0 0 0 0 0.776 0 0 0 0 0.478 0 0 0 0 0.486 60 0 0 0 -39.00" result="m0"/><feComposite in="m0" in2="SourceAlpha" operator="in" result="c0"/><feMerge><feMergeNode in="SourceGraphic"/><feMergeNode in="c0"/></feMerge></filter><filter id="rRc" x="0" y="0" width="100%" height="100%" color-interpolation-filters="sRGB"><feTurbulence type="fractalNoise" baseFrequency="1.1" numOctaves="2" seed="67" result="n0"/><feColorMatrix in="n0" type="matrix" values="0 0 0 0 0.776 0 0 0 0 0.478 0 0 0 0 0.486 60 0 0 0 -32.15" result="m0"/><feComposite in="m0" in2="SourceAlpha" operator="in" result="c0"/><feMerge><feMergeNode in="SourceGraphic"/><feMergeNode in="c0"/></feMerge></filter></defs>
<defs><clipPath id="clipCL"><rect x="74.5" y="527.47" width="186.97" height="186.88"/></clipPath></defs>
<g clip-path="url(#clipCL)"><path fill="#ec812b" d="M147.5 658.5h0.9v0.9h-0.9zM192 675h0.9v0.9h-0.9zM151.5 639h0.9v0.9h-0.9zM193.5 648h0.9v0.9h-0.9zM165.5 606h0.9v0.9h-0.9zM140 631.5h0.9v0.9h-0.9zM196 649.5h0.9v0.9h-0.9zM208.5 653h0.9v0.9h-0.9zM193.5 641.5h0.9v0.9h-0.9zM179 634h0.9v0.9h-0.9zM138.5 634.5h0.9v0.9h-0.9zM139.5 561h0.9v0.9h-0.9zM202.5 618h0.9v0.9h-0.9zM160 684h0.9v0.9h-0.9zM138.5 628.5h0.9v0.9h-0.9zM116 599.5h0.9v0.9h-0.9zM210 630.5h0.9v0.9h-0.9zM134.5 605h0.9v0.9h-0.9zM178 624h0.9v0.9h-0.9zM105.5 612.5h0.9v0.9h-0.9zM199.5 614h0.9v0.9h-0.9zM231 639.5h0.9v0.9h-0.9zM211.5 616h0.9v0.9h-0.9zM111.5 594h0.9v0.9h-0.9zM193 637h0.9v0.9h-0.9zM184.5 593.5h0.9v0.9h-0.9zM209 600.5h0.9v0.9h-0.9zM143.5 565.5h0.9v0.9h-0.9zM189 598.5h0.9v0.9h-0.9zM199.5 665h0.9v0.9h-0.9zM170.5 623h0.9v0.9h-0.9zM209 651h0.9v0.9h-0.9zM161.5 643h0.9v0.9h-0.9zM165.5 708h0.9v0.9h-0.9zM192 629h0.9v0.9h-0.9zM177.5 641h0.9v0.9h-0.9zM125 653h0.9v0.9h-0.9zM173 654h0.9v0.9h-0.9zM137.5 651h0.9v0.9h-0.9zM240 592.5h0.9v0.9h-0.9zM188.5 617h0.9v0.9h-0.9zM194.5 698h0.9v0.9h-0.9zM208.5 708h0.9v0.9h-0.9zM194.5 662.5h0.9v0.9h-0.9zM165.5 634.5h0.9v0.9h-0.9zM164 598h0.9v0.9h-0.9zM212.5 661.5h0.9v0.9h-0.9zM208.5 615.5h0.9v0.9h-0.9zM101 599.5h0.9v0.9h-0.9zM160.5 630.5h0.9v0.9h-0.9zM148 690h0.9v0.9h-0.9zM144.5 574.5h0.9v0.9h-0.9zM174.5 663.5h0.9v0.9h-0.9zM53.5 649.5h0.9v0.9h-0.9zM181.5 624h0.9v0.9h-0.9zM192 582h0.9v0.9h-0.9zM178.5 651.5h0.9v0.9h-0.9zM173 615.5h0.9v0.9h-0.9zM163.5 639.5h0.9v0.9h-0.9zM161.5 607h0.9v0.9h-0.9zM150.5 572.5h0.9v0.9h-0.9zM176.5 554.5h0.9v0.9h-0.9zM156 622.5h0.9v0.9h-0.9zM236 652h0.9v0.9h-0.9zM179.5 633h0.9v0.9h-0.9zM157 566h0.9v0.9h-0.9zM102 639h0.9v0.9h-0.9zM178 616.5h0.9v0.9h-0.9zM163.5 657h0.9v0.9h-0.9zM172.5 668.5h0.9v0.9h-0.9zM182.5 689h0.9v0.9h-0.9zM132 616.5h0.9v0.9h-0.9zM138.5 587.5h0.9v0.9h-0.9zM196 597.5h0.9v0.9h-0.9zM184.5 651h0.9v0.9h-0.9zM159 674h0.9v0.9h-0.9zM231.5 684h0.9v0.9h-0.9zM195.5 661.5h0.9v0.9h-0.9zM142 620.5h0.9v0.9h-0.9zM121 639.5h0.9v0.9h-0.9z"/><path fill="#de2a2a" d="M133.5 632h0.9v0.9h-0.9zM163.5 603h0.9v0.9h-0.9zM163.5 633.5h0.9v0.9h-0.9zM244 536.5h0.9v0.9h-0.9zM208.5 637h0.9v0.9h-0.9zM152 640h0.9v0.9h-0.9zM151 645.5h0.9v0.9h-0.9zM232.5 606h0.9v0.9h-0.9zM193 594.5h0.9v0.9h-0.9zM158 623h0.9v0.9h-0.9zM218 623.5h0.9v0.9h-0.9zM184.5 597.5h0.9v0.9h-0.9zM123 625.5h0.9v0.9h-0.9zM146.5 635.5h0.9v0.9h-0.9zM127 604.5h0.9v0.9h-0.9zM187.5 591h0.9v0.9h-0.9zM162 646.5h0.9v0.9h-0.9zM203 615.5h0.9v0.9h-0.9zM184.5 630h0.9v0.9h-0.9zM200.5 642.5h0.9v0.9h-0.9zM144 626.5h0.9v0.9h-0.9zM155 580.5h0.9v0.9h-0.9zM225.5 597h0.9v0.9h-0.9zM49.5 662.5h0.9v0.9h-0.9zM180.5 686h0.9v0.9h-0.9zM138 587.5h0.9v0.9h-0.9zM138.5 652.5h0.9v0.9h-0.9zM195 629h0.9v0.9h-0.9zM132 630h0.9v0.9h-0.9zM114.5 591.5h0.9v0.9h-0.9zM151.5 644.5h0.9v0.9h-0.9zM190.5 670h0.9v0.9h-0.9zM221 663.5h0.9v0.9h-0.9zM202 653h0.9v0.9h-0.9zM233 624h0.9v0.9h-0.9zM190 616h0.9v0.9h-0.9zM181.5 611h0.9v0.9h-0.9zM206 707.5h0.9v0.9h-0.9zM100 679.5h0.9v0.9h-0.9zM150 687.5h0.9v0.9h-0.9zM138 693h0.9v0.9h-0.9zM127.5 612.5h0.9v0.9h-0.9zM131 630h0.9v0.9h-0.9zM151 588.5h0.9v0.9h-0.9zM186.5 594h0.9v0.9h-0.9zM255.5 609h0.9v0.9h-0.9zM238 596.5h0.9v0.9h-0.9zM209 631h0.9v0.9h-0.9zM106.5 614.5h0.9v0.9h-0.9z"/><path fill="#4cae4e" d="M239.5 581.5h0.9v0.9h-0.9zM154.5 641.5h0.9v0.9h-0.9zM86.5 645h0.9v0.9h-0.9zM179.5 579h0.9v0.9h-0.9zM105 626.5h0.9v0.9h-0.9zM233 646.5h0.9v0.9h-0.9zM188.5 615.5h0.9v0.9h-0.9zM256.5 628.5h0.9v0.9h-0.9zM190 642.5h0.9v0.9h-0.9zM171 607.5h0.9v0.9h-0.9zM162 632h0.9v0.9h-0.9zM172 605.5h0.9v0.9h-0.9zM180 633h0.9v0.9h-0.9zM197 671h0.9v0.9h-0.9zM120.5 625h0.9v0.9h-0.9zM126 636.5h0.9v0.9h-0.9zM178 618h0.9v0.9h-0.9zM173 661.5h0.9v0.9h-0.9zM245.5 620.5h0.9v0.9h-0.9zM175 576h0.9v0.9h-0.9zM184.5 607h0.9v0.9h-0.9zM142 622.5h0.9v0.9h-0.9zM142 613.5h0.9v0.9h-0.9zM158 623.5h0.9v0.9h-0.9zM163.5 617h0.9v0.9h-0.9zM153 650.5h0.9v0.9h-0.9zM184 617.5h0.9v0.9h-0.9zM112.5 611h0.9v0.9h-0.9zM227 624h0.9v0.9h-0.9zM192 582h0.9v0.9h-0.9z"/><path fill="#d97ac6" d="M154 655h0.9v0.9h-0.9zM157 646.5h0.9v0.9h-0.9zM211 599.5h0.9v0.9h-0.9zM122.5 593h0.9v0.9h-0.9zM177.5 673h0.9v0.9h-0.9zM211.5 658.5h0.9v0.9h-0.9zM98 649.5h0.9v0.9h-0.9zM175.5 611h0.9v0.9h-0.9zM173.5 645.5h0.9v0.9h-0.9zM193 589h0.9v0.9h-0.9zM151.5 603h0.9v0.9h-0.9zM203.5 662h0.9v0.9h-0.9zM129 635.5h0.9v0.9h-0.9zM81.5 657.5h0.9v0.9h-0.9zM183.5 604.5h0.9v0.9h-0.9zM164 631h0.9v0.9h-0.9zM190.5 618h0.9v0.9h-0.9zM168 668h0.9v0.9h-0.9zM176 608h0.9v0.9h-0.9zM113.5 639.5h0.9v0.9h-0.9zM204.5 653h0.9v0.9h-0.9zM124.5 627.5h0.9v0.9h-0.9zM146.5 566.5h0.9v0.9h-0.9zM167 592.5h0.9v0.9h-0.9zM218.5 559h0.9v0.9h-0.9zM164.5 650.5h0.9v0.9h-0.9zM148 636h0.9v0.9h-0.9zM103 634h0.9v0.9h-0.9zM157.5 606.5h0.9v0.9h-0.9zM176.5 618h0.9v0.9h-0.9zM202.5 675h0.9v0.9h-0.9z"/><path fill="#9266b8" d="M121.5 631h0.9v0.9h-0.9zM185.5 620h0.9v0.9h-0.9zM104.5 650h0.9v0.9h-0.9zM147.5 634.5h0.9v0.9h-0.9zM120.5 592h0.9v0.9h-0.9zM157.5 619.5h0.9v0.9h-0.9zM201.5 623.5h0.9v0.9h-0.9zM160.5 627.5h0.9v0.9h-0.9zM150 611h0.9v0.9h-0.9zM167.5 659.5h0.9v0.9h-0.9zM117.5 633.5h0.9v0.9h-0.9zM124 622.5h0.9v0.9h-0.9zM170 613h0.9v0.9h-0.9zM118 701h0.9v0.9h-0.9zM171 630h0.9v0.9h-0.9zM203.5 589h0.9v0.9h-0.9zM218.5 614h0.9v0.9h-0.9zM164.5 596.5h0.9v0.9h-0.9zM191.5 637.5h0.9v0.9h-0.9zM140.5 644h0.9v0.9h-0.9zM116.5 653h0.9v0.9h-0.9zM96 603h0.9v0.9h-0.9zM115.5 603h0.9v0.9h-0.9zM124 655.5h0.9v0.9h-0.9zM152.5 635h0.9v0.9h-0.9zM125 638h0.9v0.9h-0.9zM143.5 652.5h0.9v0.9h-0.9zM179.5 638.5h0.9v0.9h-0.9zM129 593.5h0.9v0.9h-0.9zM190.5 659.5h0.9v0.9h-0.9zM148.5 679h0.9v0.9h-0.9z"/><path fill="#57cfd2" d="M200 626h0.9v0.9h-0.9zM142 606h0.9v0.9h-0.9zM135 626.5h0.9v0.9h-0.9zM199 601.5h0.9v0.9h-0.9zM141 608.5h0.9v0.9h-0.9zM128 697h0.9v0.9h-0.9zM146.5 629h0.9v0.9h-0.9zM122 596.5h0.9v0.9h-0.9zM167 644h0.9v0.9h-0.9zM121 582.5h0.9v0.9h-0.9zM161.5 618.5h0.9v0.9h-0.9zM127.5 640.5h0.9v0.9h-0.9zM144 617.5h0.9v0.9h-0.9zM116 654h0.9v0.9h-0.9zM175.5 644h0.9v0.9h-0.9zM191.5 624h0.9v0.9h-0.9zM171.5 638.5h0.9v0.9h-0.9zM168 634.5h0.9v0.9h-0.9zM119.5 590.5h0.9v0.9h-0.9zM137 652h0.9v0.9h-0.9zM146 670h0.9v0.9h-0.9zM197 621.5h0.9v0.9h-0.9zM156 651h0.9v0.9h-0.9zM171 662h0.9v0.9h-0.9zM103 666.5h0.9v0.9h-0.9zM146 623h0.9v0.9h-0.9zM156 623h0.9v0.9h-0.9zM144.5 625h0.9v0.9h-0.9zM168 597h0.9v0.9h-0.9zM159 609.5h0.9v0.9h-0.9zM178.5 639.5h0.9v0.9h-0.9zM265 639h0.9v0.9h-0.9zM190.5 646h0.9v0.9h-0.9zM196.5 630.5h0.9v0.9h-0.9zM237 622.5h0.9v0.9h-0.9zM192 641.5h0.9v0.9h-0.9zM126.5 677.5h0.9v0.9h-0.9zM133 640h0.9v0.9h-0.9zM207.5 602h0.9v0.9h-0.9z"/><path fill="#ec812b" d="M125 662h0.9v0.9h-0.9zM129.5 639h0.9v0.9h-0.9zM126 644h0.9v0.9h-0.9zM128 667.5h0.9v0.9h-0.9zM128.5 643.5h0.9v0.9h-0.9zM131 655h0.9v0.9h-0.9zM123.5 646h0.9v0.9h-0.9zM125.5 673h0.9v0.9h-0.9zM136.5 637h0.9v0.9h-0.9zM134 652h0.9v0.9h-0.9zM130 658.5h0.9v0.9h-0.9zM118.5 644h0.9v0.9h-0.9zM121 648.5h0.9v0.9h-0.9zM113.5 660.5h0.9v0.9h-0.9zM128 653h0.9v0.9h-0.9zM128 636.5h0.9v0.9h-0.9zM122 666.5h0.9v0.9h-0.9zM130.5 660h0.9v0.9h-0.9zM124 650h0.9v0.9h-0.9zM126.5 637.5h0.9v0.9h-0.9zM118.5 643h0.9v0.9h-0.9zM130.5 650.5h0.9v0.9h-0.9zM134 654h0.9v0.9h-0.9zM126 639.5h0.9v0.9h-0.9zM128 643.5h0.9v0.9h-0.9zM120 654.5h0.9v0.9h-0.9zM129 651h0.9v0.9h-0.9zM124 648h0.9v0.9h-0.9zM132.5 646.5h0.9v0.9h-0.9zM122.5 651.5h0.9v0.9h-0.9zM129 634.5h0.9v0.9h-0.9zM133.5 649.5h0.9v0.9h-0.9zM129.5 644h0.9v0.9h-0.9zM126.5 635h0.9v0.9h-0.9zM135.5 658h0.9v0.9h-0.9zM131 667.5h0.9v0.9h-0.9zM128.5 638.5h0.9v0.9h-0.9zM130 654h0.9v0.9h-0.9zM123 642h0.9v0.9h-0.9zM129 649.5h0.9v0.9h-0.9zM123 649.5h0.9v0.9h-0.9zM126 645h0.9v0.9h-0.9zM134.5 640h0.9v0.9h-0.9zM122.5 646.5h0.9v0.9h-0.9zM122 641h0.9v0.9h-0.9zM125 656.5h0.9v0.9h-0.9zM127 658.5h0.9v0.9h-0.9zM123 644h0.9v0.9h-0.9zM131.5 653.5h0.9v0.9h-0.9zM120.5 663h0.9v0.9h-0.9zM123.5 651h0.9v0.9h-0.9zM125 642.5h0.9v0.9h-0.9zM131 639.5h0.9v0.9h-0.9zM124 660h0.9v0.9h-0.9zM130.5 663.5h0.9v0.9h-0.9zM120.5 632.5h0.9v0.9h-0.9zM126 640.5h0.9v0.9h-0.9zM126 643h0.9v0.9h-0.9zM123.5 655h0.9v0.9h-0.9zM136.5 657h0.9v0.9h-0.9zM121.5 644.5h0.9v0.9h-0.9zM131.5 657h0.9v0.9h-0.9zM125 658.5h0.9v0.9h-0.9zM126.5 662.5h0.9v0.9h-0.9zM134.5 637.5h0.9v0.9h-0.9zM119.5 658h0.9v0.9h-0.9zM109.5 629.5h0.9v0.9h-0.9zM129 640h0.9v0.9h-0.9zM130.5 663.5h0.9v0.9h-0.9zM128.5 661h0.9v0.9h-0.9zM128.5 628h0.9v0.9h-0.9z"/><path fill="#4cae4e" d="M122.5 638.5h0.9v0.9h-0.9zM121.5 645h0.9v0.9h-0.9zM129 644h0.9v0.9h-0.9zM130.5 655.5h0.9v0.9h-0.9zM121 662.5h0.9v0.9h-0.9zM130 644h0.9v0.9h-0.9zM126 648.5h0.9v0.9h-0.9zM135.5 651h0.9v0.9h-0.9zM128.5 662h0.9v0.9h-0.9zM128.5 652.5h0.9v0.9h-0.9zM123 653.5h0.9v0.9h-0.9zM128.5 638.5h0.9v0.9h-0.9zM122 657h0.9v0.9h-0.9zM134 667.5h0.9v0.9h-0.9zM134.5 659h0.9v0.9h-0.9zM136.5 631h0.9v0.9h-0.9zM128 667h0.9v0.9h-0.9zM132 658.5h0.9v0.9h-0.9zM126 638h0.9v0.9h-0.9zM126 648h0.9v0.9h-0.9zM131 662.5h0.9v0.9h-0.9zM123 650h0.9v0.9h-0.9zM124.5 638h0.9v0.9h-0.9zM126.5 657.5h0.9v0.9h-0.9zM128.5 636.5h0.9v0.9h-0.9zM131.5 641.5h0.9v0.9h-0.9zM124.5 661h0.9v0.9h-0.9zM130 650.5h0.9v0.9h-0.9zM133.5 641h0.9v0.9h-0.9zM137 639.5h0.9v0.9h-0.9zM122.5 656.5h0.9v0.9h-0.9zM121.5 667h0.9v0.9h-0.9zM129 650.5h0.9v0.9h-0.9zM120.5 655h0.9v0.9h-0.9zM130.5 632.5h0.9v0.9h-0.9zM130 658.5h0.9v0.9h-0.9zM118.5 649h0.9v0.9h-0.9zM115 649.5h0.9v0.9h-0.9zM127.5 648h0.9v0.9h-0.9z"/><path fill="#de2a2a" d="M134.5 639h0.9v0.9h-0.9zM114 639.5h0.9v0.9h-0.9zM120 641.5h0.9v0.9h-0.9zM122.5 655h0.9v0.9h-0.9zM128 646h0.9v0.9h-0.9zM126.5 645h0.9v0.9h-0.9zM133.5 654.5h0.9v0.9h-0.9zM126 647.5h0.9v0.9h-0.9zM124 632.5h0.9v0.9h-0.9zM127.5 656h0.9v0.9h-0.9zM114 643h0.9v0.9h-0.9zM113 658h0.9v0.9h-0.9zM129 647h0.9v0.9h-0.9zM137.5 648h0.9v0.9h-0.9zM120 640h0.9v0.9h-0.9zM134 656.5h0.9v0.9h-0.9zM121 654.5h0.9v0.9h-0.9zM125.5 648h0.9v0.9h-0.9zM135.5 650h0.9v0.9h-0.9zM123.5 658h0.9v0.9h-0.9zM130.5 658.5h0.9v0.9h-0.9zM124.5 671.5h0.9v0.9h-0.9zM130 650h0.9v0.9h-0.9zM130 661.5h0.9v0.9h-0.9zM143 643h0.9v0.9h-0.9zM141 647h0.9v0.9h-0.9zM127 664.5h0.9v0.9h-0.9zM136.5 655.5h0.9v0.9h-0.9zM132 653.5h0.9v0.9h-0.9zM124.5 659h0.9v0.9h-0.9zM125.5 656h0.9v0.9h-0.9zM124.5 651h0.9v0.9h-0.9zM124 648h0.9v0.9h-0.9zM120.5 646.5h0.9v0.9h-0.9zM133.5 631.5h0.9v0.9h-0.9zM116.5 646.5h0.9v0.9h-0.9zM116.5 642.5h0.9v0.9h-0.9z"/><path fill="#d97ac6" d="M124.5 623.5h0.9v0.9h-0.9zM139.5 652h0.9v0.9h-0.9zM124 661.5h0.9v0.9h-0.9zM130 661.5h0.9v0.9h-0.9zM129 643h0.9v0.9h-0.9zM132.5 658.5h0.9v0.9h-0.9zM118.5 658.5h0.9v0.9h-0.9zM132.5 638.5h0.9v0.9h-0.9zM123 646h0.9v0.9h-0.9zM133 647h0.9v0.9h-0.9zM128.5 666.5h0.9v0.9h-0.9zM127 657h0.9v0.9h-0.9zM121 639h0.9v0.9h-0.9z"/><path fill="#57cfd2" d="M203 644.5h0.9v0.9h-0.9zM235 621.5h0.9v0.9h-0.9zM213 639.5h0.9v0.9h-0.9zM216.5 627h0.9v0.9h-0.9zM188.5 639.5h0.9v0.9h-0.9zM199 623h0.9v0.9h-0.9zM204 645h0.9v0.9h-0.9zM214.5 616.5h0.9v0.9h-0.9zM222.5 633.5h0.9v0.9h-0.9zM202.5 648.5h0.9v0.9h-0.9zM198.5 642.5h0.9v0.9h-0.9zM214.5 619.5h0.9v0.9h-0.9zM227.5 617.5h0.9v0.9h-0.9zM217.5 654h0.9v0.9h-0.9zM207.5 612.5h0.9v0.9h-0.9zM209 664.5h0.9v0.9h-0.9zM214 654h0.9v0.9h-0.9zM202 653h0.9v0.9h-0.9zM207 614h0.9v0.9h-0.9zM203 630h0.9v0.9h-0.9zM182.5 623.5h0.9v0.9h-0.9zM196 636h0.9v0.9h-0.9zM203 638.5h0.9v0.9h-0.9zM209.5 642h0.9v0.9h-0.9zM217.5 632h0.9v0.9h-0.9zM218.5 641h0.9v0.9h-0.9zM211 639h0.9v0.9h-0.9zM212 630h0.9v0.9h-0.9zM215.5 623h0.9v0.9h-0.9zM213.5 656h0.9v0.9h-0.9zM205.5 631.5h0.9v0.9h-0.9zM214.5 650.5h0.9v0.9h-0.9zM207.5 616h0.9v0.9h-0.9zM201 630.5h0.9v0.9h-0.9zM214 620.5h0.9v0.9h-0.9zM215 617h0.9v0.9h-0.9zM203 617.5h0.9v0.9h-0.9zM209.5 625.5h0.9v0.9h-0.9zM200.5 651h0.9v0.9h-0.9zM208.5 636.5h0.9v0.9h-0.9zM192.5 652h0.9v0.9h-0.9zM202 644.5h0.9v0.9h-0.9zM209.5 637h0.9v0.9h-0.9zM214.5 630.5h0.9v0.9h-0.9zM226.5 612.5h0.9v0.9h-0.9zM208.5 637.5h0.9v0.9h-0.9zM202.5 627.5h0.9v0.9h-0.9zM205.5 667h0.9v0.9h-0.9zM195 649h0.9v0.9h-0.9zM208 642.5h0.9v0.9h-0.9zM207 646h0.9v0.9h-0.9zM211.5 630h0.9v0.9h-0.9zM211.5 629h0.9v0.9h-0.9zM213 652h0.9v0.9h-0.9zM195 648h0.9v0.9h-0.9zM208.5 662h0.9v0.9h-0.9zM219 640.5h0.9v0.9h-0.9zM215 629.5h0.9v0.9h-0.9zM219.5 639h0.9v0.9h-0.9zM189.5 631.5h0.9v0.9h-0.9zM206.5 638.5h0.9v0.9h-0.9zM201 615h0.9v0.9h-0.9zM216.5 627h0.9v0.9h-0.9zM214.5 647.5h0.9v0.9h-0.9zM202.5 639h0.9v0.9h-0.9zM211.5 627.5h0.9v0.9h-0.9zM206.5 649h0.9v0.9h-0.9zM224.5 634h0.9v0.9h-0.9zM211.5 669.5h0.9v0.9h-0.9zM214 640h0.9v0.9h-0.9zM202 644.5h0.9v0.9h-0.9zM210 656h0.9v0.9h-0.9zM234.5 629.5h0.9v0.9h-0.9zM194.5 639h0.9v0.9h-0.9zM210.5 640.5h0.9v0.9h-0.9zM211.5 622.5h0.9v0.9h-0.9zM198 653.5h0.9v0.9h-0.9zM198 631h0.9v0.9h-0.9zM218 642.5h0.9v0.9h-0.9zM226 626.5h0.9v0.9h-0.9zM195.5 633h0.9v0.9h-0.9zM207.5 650.5h0.9v0.9h-0.9zM217 626.5h0.9v0.9h-0.9zM212 621h0.9v0.9h-0.9zM219 610h0.9v0.9h-0.9zM214 642h0.9v0.9h-0.9zM201 632h0.9v0.9h-0.9zM202 628h0.9v0.9h-0.9zM205 634.5h0.9v0.9h-0.9zM206.5 631h0.9v0.9h-0.9zM208 645.5h0.9v0.9h-0.9zM219.5 617.5h0.9v0.9h-0.9zM212.5 642h0.9v0.9h-0.9zM214 625.5h0.9v0.9h-0.9zM222.5 628h0.9v0.9h-0.9zM222.5 610h0.9v0.9h-0.9zM210 640.5h0.9v0.9h-0.9zM206.5 629.5h0.9v0.9h-0.9zM204.5 669h0.9v0.9h-0.9zM217 615.5h0.9v0.9h-0.9zM211 633.5h0.9v0.9h-0.9zM218 627.5h0.9v0.9h-0.9zM214.5 632h0.9v0.9h-0.9zM205.5 661.5h0.9v0.9h-0.9zM220.5 616h0.9v0.9h-0.9zM197 596h0.9v0.9h-0.9zM200.5 646h0.9v0.9h-0.9zM216 661h0.9v0.9h-0.9zM184 605h0.9v0.9h-0.9zM200 603.5h0.9v0.9h-0.9zM205.5 630h0.9v0.9h-0.9zM223.5 667.5h0.9v0.9h-0.9zM195.5 638h0.9v0.9h-0.9zM215.5 608h0.9v0.9h-0.9zM186 624.5h0.9v0.9h-0.9zM203.5 625.5h0.9v0.9h-0.9zM208.5 644.5h0.9v0.9h-0.9zM213 621h0.9v0.9h-0.9zM188 625h0.9v0.9h-0.9zM210.5 623.5h0.9v0.9h-0.9zM206 612.5h0.9v0.9h-0.9zM213.5 632.5h0.9v0.9h-0.9zM206 660.5h0.9v0.9h-0.9zM207.5 611.5h0.9v0.9h-0.9zM202 635h0.9v0.9h-0.9zM221.5 620.5h0.9v0.9h-0.9zM208.5 635h0.9v0.9h-0.9zM207 634.5h0.9v0.9h-0.9zM213 628.5h0.9v0.9h-0.9zM225.5 632h0.9v0.9h-0.9zM209.5 641.5h0.9v0.9h-0.9zM207.5 633h0.9v0.9h-0.9zM227.5 635h0.9v0.9h-0.9zM209.5 610h0.9v0.9h-0.9zM197 629h0.9v0.9h-0.9zM210.5 632.5h0.9v0.9h-0.9zM225 631.5h0.9v0.9h-0.9zM221 616.5h0.9v0.9h-0.9zM220.5 591.5h0.9v0.9h-0.9zM221.5 618h0.9v0.9h-0.9zM209.5 639h0.9v0.9h-0.9zM223 617h0.9v0.9h-0.9zM205 607h0.9v0.9h-0.9z"/><path fill="#de2a2a" d="M217 642.5h0.9v0.9h-0.9zM209.5 638h0.9v0.9h-0.9zM206.5 623h0.9v0.9h-0.9zM196.5 645.5h0.9v0.9h-0.9zM186.5 635h0.9v0.9h-0.9zM205 616h0.9v0.9h-0.9zM204 644.5h0.9v0.9h-0.9zM205.5 625.5h0.9v0.9h-0.9zM205.5 643h0.9v0.9h-0.9zM219 615h0.9v0.9h-0.9zM196 629.5h0.9v0.9h-0.9zM210.5 618.5h0.9v0.9h-0.9zM213.5 640.5h0.9v0.9h-0.9zM217 642.5h0.9v0.9h-0.9zM214.5 615h0.9v0.9h-0.9zM208 647h0.9v0.9h-0.9zM213.5 623h0.9v0.9h-0.9zM225 626.5h0.9v0.9h-0.9zM215.5 606h0.9v0.9h-0.9zM194 629.5h0.9v0.9h-0.9zM204 646.5h0.9v0.9h-0.9zM216 641h0.9v0.9h-0.9zM206.5 633.5h0.9v0.9h-0.9zM213.5 637h0.9v0.9h-0.9zM198 641.5h0.9v0.9h-0.9zM198 621h0.9v0.9h-0.9zM213 643.5h0.9v0.9h-0.9zM222.5 646.5h0.9v0.9h-0.9zM187 635.5h0.9v0.9h-0.9zM213 608.5h0.9v0.9h-0.9zM207 628h0.9v0.9h-0.9zM207 646.5h0.9v0.9h-0.9zM203 623.5h0.9v0.9h-0.9zM217 624.5h0.9v0.9h-0.9zM202 619h0.9v0.9h-0.9zM211 651.5h0.9v0.9h-0.9zM224 619.5h0.9v0.9h-0.9zM227.5 616h0.9v0.9h-0.9zM218 642.5h0.9v0.9h-0.9zM214 632.5h0.9v0.9h-0.9zM209.5 609h0.9v0.9h-0.9zM223.5 616.5h0.9v0.9h-0.9zM218.5 620.5h0.9v0.9h-0.9zM214.5 621h0.9v0.9h-0.9zM205.5 665h0.9v0.9h-0.9zM209 625h0.9v0.9h-0.9zM180.5 650h0.9v0.9h-0.9zM193 641h0.9v0.9h-0.9zM215 640.5h0.9v0.9h-0.9zM207.5 630.5h0.9v0.9h-0.9zM216 624.5h0.9v0.9h-0.9zM214 610h0.9v0.9h-0.9z"/><path fill="#9266b8" d="M211 619h0.9v0.9h-0.9zM198.5 626.5h0.9v0.9h-0.9zM207 646h0.9v0.9h-0.9zM208.5 640h0.9v0.9h-0.9zM204.5 643.5h0.9v0.9h-0.9zM229 617.5h0.9v0.9h-0.9zM205 639h0.9v0.9h-0.9zM211 634h0.9v0.9h-0.9zM216 637h0.9v0.9h-0.9zM208.5 635h0.9v0.9h-0.9zM223.5 634.5h0.9v0.9h-0.9zM214.5 633h0.9v0.9h-0.9zM206.5 638h0.9v0.9h-0.9zM218 630h0.9v0.9h-0.9zM198.5 626h0.9v0.9h-0.9zM204 609.5h0.9v0.9h-0.9zM209 610.5h0.9v0.9h-0.9zM214.5 634.5h0.9v0.9h-0.9zM204 636h0.9v0.9h-0.9zM215.5 599.5h0.9v0.9h-0.9zM216.5 656.5h0.9v0.9h-0.9zM215 621.5h0.9v0.9h-0.9zM206.5 611.5h0.9v0.9h-0.9zM238.5 640.5h0.9v0.9h-0.9zM208 643.5h0.9v0.9h-0.9zM222 638h0.9v0.9h-0.9zM215.5 638h0.9v0.9h-0.9zM208.5 630h0.9v0.9h-0.9zM216 637.5h0.9v0.9h-0.9zM205 636h0.9v0.9h-0.9zM212 619h0.9v0.9h-0.9zM199.5 619.5h0.9v0.9h-0.9zM198.5 616h0.9v0.9h-0.9zM211.5 632.5h0.9v0.9h-0.9zM212 655.5h0.9v0.9h-0.9zM218.5 629h0.9v0.9h-0.9zM216.5 636h0.9v0.9h-0.9zM212.5 628.5h0.9v0.9h-0.9zM212.5 607.5h0.9v0.9h-0.9zM203.5 649.5h0.9v0.9h-0.9zM205.5 639.5h0.9v0.9h-0.9zM203.5 611.5h0.9v0.9h-0.9zM212.5 610h0.9v0.9h-0.9zM221 631.5h0.9v0.9h-0.9zM197.5 643.5h0.9v0.9h-0.9zM203 630.5h0.9v0.9h-0.9zM222 641h0.9v0.9h-0.9zM208.5 624.5h0.9v0.9h-0.9zM230 628.5h0.9v0.9h-0.9zM219.5 634.5h0.9v0.9h-0.9zM213.5 609.5h0.9v0.9h-0.9zM213.5 639h0.9v0.9h-0.9zM234 661h0.9v0.9h-0.9zM214.5 621h0.9v0.9h-0.9zM212.5 640.5h0.9v0.9h-0.9zM211.5 641.5h0.9v0.9h-0.9zM200 617.5h0.9v0.9h-0.9zM205.5 631h0.9v0.9h-0.9zM216 617h0.9v0.9h-0.9zM225.5 636h0.9v0.9h-0.9zM214.5 609h0.9v0.9h-0.9zM221.5 652.5h0.9v0.9h-0.9zM211.5 632.5h0.9v0.9h-0.9zM211.5 623h0.9v0.9h-0.9zM193 658.5h0.9v0.9h-0.9zM222.5 619.5h0.9v0.9h-0.9zM203.5 660.5h0.9v0.9h-0.9zM205 624.5h0.9v0.9h-0.9zM208.5 663h0.9v0.9h-0.9zM214 642h0.9v0.9h-0.9zM211 638.5h0.9v0.9h-0.9zM211 629h0.9v0.9h-0.9zM204.5 625h0.9v0.9h-0.9zM221.5 617h0.9v0.9h-0.9zM213.5 616.5h0.9v0.9h-0.9zM203.5 612.5h0.9v0.9h-0.9zM216.5 643h0.9v0.9h-0.9zM206 614h0.9v0.9h-0.9zM208 611.5h0.9v0.9h-0.9zM216.5 659h0.9v0.9h-0.9zM200 640.5h0.9v0.9h-0.9zM195.5 618.5h0.9v0.9h-0.9zM228 626.5h0.9v0.9h-0.9zM217 621h0.9v0.9h-0.9zM197.5 633.5h0.9v0.9h-0.9zM213 639h0.9v0.9h-0.9zM202 624.5h0.9v0.9h-0.9zM225.5 628.5h0.9v0.9h-0.9zM223.5 651.5h0.9v0.9h-0.9zM210.5 623h0.9v0.9h-0.9zM206 652h0.9v0.9h-0.9zM221.5 614h0.9v0.9h-0.9zM207.5 611.5h0.9v0.9h-0.9zM221 650h0.9v0.9h-0.9zM221.5 628.5h0.9v0.9h-0.9zM225.5 636h0.9v0.9h-0.9zM218 631.5h0.9v0.9h-0.9zM203 663h0.9v0.9h-0.9zM192.5 612h0.9v0.9h-0.9zM203 652h0.9v0.9h-0.9zM219 628h0.9v0.9h-0.9zM200 647.5h0.9v0.9h-0.9zM220 645h0.9v0.9h-0.9zM210 624.5h0.9v0.9h-0.9zM209.5 612h0.9v0.9h-0.9zM203.5 638.5h0.9v0.9h-0.9zM211 633.5h0.9v0.9h-0.9zM222 642h0.9v0.9h-0.9z"/><path fill="#ec812b" d="M210.5 647h0.9v0.9h-0.9zM232 608h0.9v0.9h-0.9zM201.5 645h0.9v0.9h-0.9zM204 630.5h0.9v0.9h-0.9zM225 617h0.9v0.9h-0.9zM201 631.5h0.9v0.9h-0.9zM199.5 627.5h0.9v0.9h-0.9zM206.5 613h0.9v0.9h-0.9zM213 635.5h0.9v0.9h-0.9zM218 626.5h0.9v0.9h-0.9zM220 619h0.9v0.9h-0.9zM212 654h0.9v0.9h-0.9zM207.5 624.5h0.9v0.9h-0.9zM216.5 632h0.9v0.9h-0.9zM200.5 637.5h0.9v0.9h-0.9zM220.5 632.5h0.9v0.9h-0.9zM179.5 654.5h0.9v0.9h-0.9zM218 653h0.9v0.9h-0.9zM210 627h0.9v0.9h-0.9zM212 611.5h0.9v0.9h-0.9zM196.5 654.5h0.9v0.9h-0.9zM194.5 636.5h0.9v0.9h-0.9zM203.5 639.5h0.9v0.9h-0.9zM197 614.5h0.9v0.9h-0.9zM212 626h0.9v0.9h-0.9zM213 663h0.9v0.9h-0.9zM212 661.5h0.9v0.9h-0.9zM217 645.5h0.9v0.9h-0.9zM213 636.5h0.9v0.9h-0.9zM188 613.5h0.9v0.9h-0.9zM209.5 606.5h0.9v0.9h-0.9zM194 632.5h0.9v0.9h-0.9zM208.5 621.5h0.9v0.9h-0.9zM209.5 640h0.9v0.9h-0.9zM209.5 624.5h0.9v0.9h-0.9zM209.5 640h0.9v0.9h-0.9zM212.5 639.5h0.9v0.9h-0.9zM213.5 638.5h0.9v0.9h-0.9zM209 620.5h0.9v0.9h-0.9zM198 635.5h0.9v0.9h-0.9zM223.5 638h0.9v0.9h-0.9zM208.5 626h0.9v0.9h-0.9zM201 629h0.9v0.9h-0.9zM221.5 620h0.9v0.9h-0.9zM213.5 633.5h0.9v0.9h-0.9zM213 614h0.9v0.9h-0.9z"/><path fill="#8b564d" d="M214.5 628h0.9v0.9h-0.9zM237.5 629h0.9v0.9h-0.9zM216.5 625.5h0.9v0.9h-0.9zM206.5 614.5h0.9v0.9h-0.9zM211 628h0.9v0.9h-0.9zM216.5 636h0.9v0.9h-0.9zM210.5 643h0.9v0.9h-0.9zM215 639h0.9v0.9h-0.9zM205 631h0.9v0.9h-0.9zM217 620h0.9v0.9h-0.9zM213.5 651h0.9v0.9h-0.9zM214.5 640.5h0.9v0.9h-0.9zM212 662.5h0.9v0.9h-0.9zM202 619.5h0.9v0.9h-0.9zM209 646h0.9v0.9h-0.9zM205.5 614.5h0.9v0.9h-0.9zM217 632h0.9v0.9h-0.9zM204 633h0.9v0.9h-0.9zM216.5 627h0.9v0.9h-0.9zM204.5 629.5h0.9v0.9h-0.9zM205 637h0.9v0.9h-0.9zM197.5 647.5h0.9v0.9h-0.9zM197.5 630h0.9v0.9h-0.9zM222.5 636h0.9v0.9h-0.9zM194 645.5h0.9v0.9h-0.9zM204.5 627h0.9v0.9h-0.9zM201 599.5h0.9v0.9h-0.9zM207.5 631.5h0.9v0.9h-0.9zM224.5 667h0.9v0.9h-0.9zM210 635.5h0.9v0.9h-0.9zM203.5 659.5h0.9v0.9h-0.9z"/><path fill="#de2a2a" d="M174.5 584h0.9v0.9h-0.9zM152 585.5h0.9v0.9h-0.9zM174.5 593h0.9v0.9h-0.9zM146.5 575h0.9v0.9h-0.9zM157 584.5h0.9v0.9h-0.9zM165.5 575h0.9v0.9h-0.9zM171 582h0.9v0.9h-0.9zM158.5 585h0.9v0.9h-0.9zM148.5 586.5h0.9v0.9h-0.9zM162.5 588h0.9v0.9h-0.9zM161 584h0.9v0.9h-0.9zM162 591h0.9v0.9h-0.9zM167.5 589h0.9v0.9h-0.9zM182.5 583h0.9v0.9h-0.9zM181 582.5h0.9v0.9h-0.9zM177.5 588.5h0.9v0.9h-0.9zM196.5 589.5h0.9v0.9h-0.9zM178.5 580h0.9v0.9h-0.9zM156 582.5h0.9v0.9h-0.9zM162.5 584h0.9v0.9h-0.9zM140.5 588.5h0.9v0.9h-0.9zM170.5 580.5h0.9v0.9h-0.9zM159.5 584.5h0.9v0.9h-0.9zM151 582.5h0.9v0.9h-0.9zM160.5 591.5h0.9v0.9h-0.9zM172 586.5h0.9v0.9h-0.9zM172 588.5h0.9v0.9h-0.9zM149.5 578.5h0.9v0.9h-0.9zM165.5 578.5h0.9v0.9h-0.9zM177.5 584h0.9v0.9h-0.9zM175 585.5h0.9v0.9h-0.9zM145.5 581h0.9v0.9h-0.9zM166 576h0.9v0.9h-0.9zM167 575.5h0.9v0.9h-0.9zM158.5 577.5h0.9v0.9h-0.9zM171 580h0.9v0.9h-0.9zM154 583.5h0.9v0.9h-0.9zM159 580.5h0.9v0.9h-0.9zM160 586h0.9v0.9h-0.9zM158.5 581.5h0.9v0.9h-0.9zM166 586h0.9v0.9h-0.9zM159 579h0.9v0.9h-0.9zM174.5 587h0.9v0.9h-0.9zM164.5 583h0.9v0.9h-0.9zM171.5 584h0.9v0.9h-0.9zM182 574h0.9v0.9h-0.9zM172 582h0.9v0.9h-0.9zM169.5 585.5h0.9v0.9h-0.9zM146 584.5h0.9v0.9h-0.9zM162 579.5h0.9v0.9h-0.9zM184.5 585.5h0.9v0.9h-0.9zM159.5 578.5h0.9v0.9h-0.9zM167 582h0.9v0.9h-0.9zM149 586.5h0.9v0.9h-0.9zM172.5 587h0.9v0.9h-0.9zM176 586h0.9v0.9h-0.9zM169.5 590.5h0.9v0.9h-0.9zM160.5 580h0.9v0.9h-0.9zM178.5 584h0.9v0.9h-0.9zM159.5 573h0.9v0.9h-0.9zM157 584.5h0.9v0.9h-0.9zM176.5 580.5h0.9v0.9h-0.9zM178 579h0.9v0.9h-0.9zM144.5 589h0.9v0.9h-0.9zM169 578.5h0.9v0.9h-0.9zM182 579.5h0.9v0.9h-0.9zM153.5 580h0.9v0.9h-0.9zM167.5 587.5h0.9v0.9h-0.9zM149.5 581.5h0.9v0.9h-0.9zM177 576h0.9v0.9h-0.9zM155.5 576h0.9v0.9h-0.9zM161 586.5h0.9v0.9h-0.9zM169.5 587h0.9v0.9h-0.9zM173 586h0.9v0.9h-0.9zM171.5 585.5h0.9v0.9h-0.9zM176 582h0.9v0.9h-0.9zM153.5 579.5h0.9v0.9h-0.9zM170 579h0.9v0.9h-0.9zM165 585.5h0.9v0.9h-0.9zM164 580h0.9v0.9h-0.9zM187.5 582h0.9v0.9h-0.9zM159 586.5h0.9v0.9h-0.9zM186 575.5h0.9v0.9h-0.9zM182.5 588h0.9v0.9h-0.9zM180.5 582.5h0.9v0.9h-0.9zM168.5 581.5h0.9v0.9h-0.9zM151.5 582.5h0.9v0.9h-0.9zM167 588h0.9v0.9h-0.9zM170 588h0.9v0.9h-0.9zM140.5 588.5h0.9v0.9h-0.9zM171 588h0.9v0.9h-0.9zM170 590h0.9v0.9h-0.9zM186 588.5h0.9v0.9h-0.9zM167.5 582.5h0.9v0.9h-0.9zM150 591h0.9v0.9h-0.9zM160 592.5h0.9v0.9h-0.9zM184.5 576h0.9v0.9h-0.9zM163 581.5h0.9v0.9h-0.9zM168 585.5h0.9v0.9h-0.9zM179.5 585h0.9v0.9h-0.9zM170.5 580.5h0.9v0.9h-0.9zM174.5 582h0.9v0.9h-0.9zM166.5 578.5h0.9v0.9h-0.9zM157.5 589.5h0.9v0.9h-0.9zM153.5 586h0.9v0.9h-0.9zM176.5 581h0.9v0.9h-0.9zM165.5 584.5h0.9v0.9h-0.9zM147.5 582h0.9v0.9h-0.9zM178 579h0.9v0.9h-0.9zM173 575.5h0.9v0.9h-0.9zM179 582.5h0.9v0.9h-0.9zM148.5 584h0.9v0.9h-0.9zM174.5 583h0.9v0.9h-0.9zM175 582.5h0.9v0.9h-0.9zM162 567.5h0.9v0.9h-0.9zM171 586.5h0.9v0.9h-0.9zM176 584h0.9v0.9h-0.9zM147.5 591h0.9v0.9h-0.9zM161 575.5h0.9v0.9h-0.9zM188 569h0.9v0.9h-0.9zM166 582.5h0.9v0.9h-0.9zM143.5 585.5h0.9v0.9h-0.9zM170 586h0.9v0.9h-0.9zM160.5 581h0.9v0.9h-0.9zM169 581.5h0.9v0.9h-0.9zM143.5 582h0.9v0.9h-0.9zM170 578h0.9v0.9h-0.9zM159.5 589h0.9v0.9h-0.9zM166 580.5h0.9v0.9h-0.9zM159.5 584.5h0.9v0.9h-0.9zM165.5 574h0.9v0.9h-0.9zM172 573h0.9v0.9h-0.9zM159 578h0.9v0.9h-0.9zM167 588h0.9v0.9h-0.9zM169.5 585h0.9v0.9h-0.9zM197 581.5h0.9v0.9h-0.9zM165.5 581h0.9v0.9h-0.9zM175.5 581.5h0.9v0.9h-0.9zM158.5 580.5h0.9v0.9h-0.9zM155.5 592h0.9v0.9h-0.9z"/><path fill="#3f81ba" d="M151.5 575.5h0.9v0.9h-0.9zM163 586h0.9v0.9h-0.9zM165.5 579h0.9v0.9h-0.9zM171 591h0.9v0.9h-0.9zM195 589.5h0.9v0.9h-0.9zM177.5 591h0.9v0.9h-0.9zM158.5 579.5h0.9v0.9h-0.9zM184 586.5h0.9v0.9h-0.9zM165.5 590h0.9v0.9h-0.9zM160 583.5h0.9v0.9h-0.9zM164 587.5h0.9v0.9h-0.9zM166.5 570.5h0.9v0.9h-0.9zM171 580h0.9v0.9h-0.9zM194 580.5h0.9v0.9h-0.9zM166.5 582h0.9v0.9h-0.9zM168.5 583h0.9v0.9h-0.9zM152 584.5h0.9v0.9h-0.9zM175.5 577h0.9v0.9h-0.9zM157.5 579h0.9v0.9h-0.9zM180.5 584h0.9v0.9h-0.9zM151 585.5h0.9v0.9h-0.9zM165.5 580h0.9v0.9h-0.9zM154.5 570h0.9v0.9h-0.9zM189 579.5h0.9v0.9h-0.9zM157 581.5h0.9v0.9h-0.9zM151 593h0.9v0.9h-0.9zM176.5 588h0.9v0.9h-0.9zM154.5 583h0.9v0.9h-0.9zM166.5 587h0.9v0.9h-0.9zM165.5 580.5h0.9v0.9h-0.9zM164 587h0.9v0.9h-0.9zM147 584h0.9v0.9h-0.9zM168.5 572h0.9v0.9h-0.9zM188.5 581h0.9v0.9h-0.9zM168.5 577h0.9v0.9h-0.9zM170 588.5h0.9v0.9h-0.9zM174 588h0.9v0.9h-0.9zM156 588h0.9v0.9h-0.9zM177 579.5h0.9v0.9h-0.9zM174.5 585.5h0.9v0.9h-0.9zM195 572.5h0.9v0.9h-0.9zM165 581h0.9v0.9h-0.9zM172 578.5h0.9v0.9h-0.9zM168 582h0.9v0.9h-0.9zM159 583.5h0.9v0.9h-0.9z"/><path fill="#d97ac6" d="M162.5 583h0.9v0.9h-0.9zM171.5 592h0.9v0.9h-0.9zM193.5 580.5h0.9v0.9h-0.9zM173.5 577.5h0.9v0.9h-0.9zM166 585h0.9v0.9h-0.9zM156 581h0.9v0.9h-0.9zM148 583.5h0.9v0.9h-0.9zM160.5 580.5h0.9v0.9h-0.9zM167 578h0.9v0.9h-0.9zM157.5 589.5h0.9v0.9h-0.9zM157.5 578.5h0.9v0.9h-0.9zM167.5 586.5h0.9v0.9h-0.9zM159 579h0.9v0.9h-0.9zM172 578h0.9v0.9h-0.9zM150.5 574.5h0.9v0.9h-0.9zM143 595h0.9v0.9h-0.9zM167.5 579h0.9v0.9h-0.9zM182.5 592h0.9v0.9h-0.9zM166 584h0.9v0.9h-0.9zM162.5 579.5h0.9v0.9h-0.9zM168.5 583h0.9v0.9h-0.9zM165 582h0.9v0.9h-0.9zM163.5 585.5h0.9v0.9h-0.9zM179.5 580.5h0.9v0.9h-0.9zM182.5 585.5h0.9v0.9h-0.9zM164.5 582.5h0.9v0.9h-0.9zM155 580.5h0.9v0.9h-0.9zM185.5 584.5h0.9v0.9h-0.9zM148 587.5h0.9v0.9h-0.9zM168 579.5h0.9v0.9h-0.9zM196.5 585.5h0.9v0.9h-0.9zM155.5 584.5h0.9v0.9h-0.9zM167 586h0.9v0.9h-0.9zM143 579.5h0.9v0.9h-0.9zM180.5 582h0.9v0.9h-0.9zM150 580.5h0.9v0.9h-0.9zM163 572.5h0.9v0.9h-0.9zM164.5 589h0.9v0.9h-0.9zM162.5 578h0.9v0.9h-0.9zM168.5 574.5h0.9v0.9h-0.9zM151.5 580h0.9v0.9h-0.9zM157.5 585.5h0.9v0.9h-0.9zM152.5 580h0.9v0.9h-0.9zM157.5 589.5h0.9v0.9h-0.9zM167.5 587h0.9v0.9h-0.9zM183.5 582.5h0.9v0.9h-0.9zM167.5 585.5h0.9v0.9h-0.9zM166 592.5h0.9v0.9h-0.9zM185 578.5h0.9v0.9h-0.9zM184.5 590.5h0.9v0.9h-0.9z"/><path fill="#9266b8" d="M158 584h0.9v0.9h-0.9zM161.5 586.5h0.9v0.9h-0.9zM179 587h0.9v0.9h-0.9zM165 584h0.9v0.9h-0.9zM170 586h0.9v0.9h-0.9zM169 588h0.9v0.9h-0.9zM164 584h0.9v0.9h-0.9zM162 582h0.9v0.9h-0.9zM174.5 587h0.9v0.9h-0.9zM178 582h0.9v0.9h-0.9zM166.5 586.5h0.9v0.9h-0.9zM173.5 575.5h0.9v0.9h-0.9zM156 591h0.9v0.9h-0.9zM172.5 587.5h0.9v0.9h-0.9zM174 581h0.9v0.9h-0.9zM142 586h0.9v0.9h-0.9zM182.5 594.5h0.9v0.9h-0.9zM178.5 575h0.9v0.9h-0.9zM153.5 579.5h0.9v0.9h-0.9zM156 589.5h0.9v0.9h-0.9zM178 584h0.9v0.9h-0.9zM157.5 584.5h0.9v0.9h-0.9zM170 581.5h0.9v0.9h-0.9zM166 581h0.9v0.9h-0.9zM157 590.5h0.9v0.9h-0.9z"/><path d="M82.8 637.7C83.45 636.4 86.58 636.38 88.7 636.7C90.82 637.02 93.87 638.78 95.5 639.6C97.13 640.42 98.83 640.3 98.5 641.6C98.17 642.9 94.82 645.63 93.5 647.4C92.18 649.17 91.57 651.72 90.6 652.2C89.63 652.68 88.67 651.58 87.7 650.3C86.73 649.02 85.62 646.6 84.8 644.5C83.98 642.4 82.15 639 82.8 637.7Z" fill="#d97ac6" filter="url(#cPinkTri)"/><path fill="#3f81ba" d="M127.5 693h1v1h-1zM102.5 637.5h1v1h-1zM92 680.5h1v1h-1zM87.5 665h1v1h-1zM119.5 645.5h1v1h-1zM112.5 638h1v1h-1zM100.5 637.5h1v1h-1zM109.5 689h1v1h-1zM123 653h1v1h-1zM122 656.5h1v1h-1zM116 690h1v1h-1zM126 693.5h1v1h-1zM100.5 638.5h1v1h-1zM127 666.5h1v1h-1zM85 662.5h1v1h-1zM88 658.5h1v1h-1zM127 669.5h1v1h-1zM96.5 643.5h1v1h-1zM94 644.5h1v1h-1zM128.5 669.5h1v1h-1zM126.5 665.5h1v1h-1zM116 640.5h1v1h-1zM108.5 636h1v1h-1zM86.5 662h1v1h-1zM128 693h1v1h-1zM106 636.5h1v1h-1zM118 690.5h1v1h-1zM99 641.5h1v1h-1zM116 640.5h1v1h-1zM133.5 683.5h1v1h-1zM117.5 644.5h1v1h-1zM99 684h1v1h-1zM122 649h1v1h-1zM127.5 693.5h1v1h-1zM112.5 637.5h1v1h-1zM131 679.5h1v1h-1zM88.5 674h1v1h-1zM125.5 693.5h1v1h-1zM85 670.5h1v1h-1zM107 687.5h1v1h-1zM108.5 687.5h1v1h-1zM87.5 677.5h1v1h-1zM129.5 678h1v1h-1zM123.5 658h1v1h-1zM86 664h1v1h-1zM91.5 650h1v1h-1zM128.5 671.5h1v1h-1zM121.5 691h1v1h-1zM91.5 653h1v1h-1zM128.5 674.5h1v1h-1zM123 655h1v1h-1zM122 649h1v1h-1zM123 651h1v1h-1zM102.5 685h1v1h-1zM99.5 683.5h1v1h-1zM126 666.5h1v1h-1zM97.5 640h1v1h-1zM93.5 647.5h1v1h-1zM85.5 673h1v1h-1zM90.5 679.5h1v1h-1zM111.5 637h1v1h-1zM114.5 690.5h1v1h-1zM129.5 693h1v1h-1zM87.5 677.5h1v1h-1zM101 637.5h1v1h-1zM132.5 683h1v1h-1zM133 692h1v1h-1zM117 646.5h1v1h-1zM92.5 648.5h1v1h-1zM124.5 661h1v1h-1zM91.5 651h1v1h-1zM119.5 649h1v1h-1zM109 636h1v1h-1zM126.5 666h1v1h-1zM120.5 651.5h1v1h-1zM128.5 671.5h1v1h-1zM104 686.5h1v1h-1zM117 643.5h1v1h-1zM107.5 687.5h1v1h-1zM100.5 638.5h1v1h-1zM111 690h1v1h-1zM102.5 637.5h1v1h-1zM131 681h1v1h-1zM96.5 642.5h1v1h-1zM87.5 666.5h1v1h-1zM90 653.5h1v1h-1zM105 686h1v1h-1zM134 689.5h1v1h-1zM111.5 636.5h1v1h-1zM119 691h1v1h-1zM126.5 693h1v1h-1zM133.5 685h1v1h-1zM106.5 637h1v1h-1zM104 636.5h1v1h-1zM118 643h1v1h-1zM109 635h1v1h-1zM101.5 684.5h1v1h-1zM96.5 640.5h1v1h-1zM132 690.5h1v1h-1zM129.5 694h1v1h-1zM127.5 667.5h1v1h-1zM86 676h1v1h-1zM118.5 646h1v1h-1zM120 693h1v1h-1zM128.5 665h1v1h-1zM93.5 646.5h1v1h-1zM85.5 664h1v1h-1zM85 673.5h1v1h-1zM124 662h1v1h-1zM86 672.5h1v1h-1zM86 667.5h1v1h-1zM108 689h1v1h-1zM134.5 692h1v1h-1zM87.5 678h1v1h-1zM98 637h1v1h-1zM109.5 637h1v1h-1zM102 636h1v1h-1zM114.5 691.5h1v1h-1zM120.5 648h1v1h-1zM126 693.5h1v1h-1zM88.5 677h1v1h-1zM96 681h1v1h-1zM132.5 686.5h1v1h-1zM121 649h1v1h-1zM98.5 637.5h1v1h-1zM131.5 682.5h1v1h-1zM133 691h1v1h-1zM122 691h1v1h-1zM105.5 688.5h1v1h-1zM132 675.5h1v1h-1zM128 668.5h1v1h-1zM94 681.5h1v1h-1zM88.5 656h1v1h-1zM129 677.5h1v1h-1zM95 641.5h1v1h-1zM127.5 694.5h1v1h-1zM129 675h1v1h-1zM125.5 666.5h1v1h-1zM124 694h1v1h-1zM96.5 643h1v1h-1zM89 658h1v1h-1zM104.5 685.5h1v1h-1zM123.5 692h1v1h-1zM112 690h1v1h-1zM117 641h1v1h-1zM117 691h1v1h-1zM132.5 692.5h1v1h-1zM121.5 653.5h1v1h-1zM121.5 691.5h1v1h-1zM132 678h1v1h-1zM120.5 650h1v1h-1zM134 689h1v1h-1zM119.5 642h1v1h-1zM93.5 645h1v1h-1zM117 644.5h1v1h-1zM97.5 639.5h1v1h-1zM97 682h1v1h-1zM104.5 688.5h1v1h-1zM94 647h1v1h-1zM113 636.5h1v1h-1zM95 679h1v1h-1zM111.5 690.5h1v1h-1zM104.5 637.5h1v1h-1zM131.5 683h1v1h-1zM133.5 683.5h1v1h-1zM94.5 644.5h1v1h-1zM122 651h1v1h-1zM105.5 685.5h1v1h-1zM119 691.5h1v1h-1zM106 686h1v1h-1zM116.5 640.5h1v1h-1zM130 692.5h1v1h-1zM110.5 637h1v1h-1zM131.5 691h1v1h-1zM100.5 638h1v1h-1zM113 691h1v1h-1zM105 637.5h1v1h-1zM86.5 663.5h1v1h-1zM103 685h1v1h-1zM125.5 691.5h1v1h-1zM97 682h1v1h-1zM85 671.5h1v1h-1zM85.5 665h1v1h-1zM134 686h1v1h-1zM109 687.5h1v1h-1zM87.5 676h1v1h-1zM133 684.5h1v1h-1zM121.5 650.5h1v1h-1zM86 657.5h1v1h-1zM121 652h1v1h-1zM120.5 650h1v1h-1zM118.5 690.5h1v1h-1zM122 652h1v1h-1zM98 639.5h1v1h-1zM128 693.5h1v1h-1zM96.5 641.5h1v1h-1zM125.5 666h1v1h-1zM119.5 646h1v1h-1zM87 670.5h1v1h-1zM110 689.5h1v1h-1zM134 689h1v1h-1zM102 638h1v1h-1zM120 648.5h1v1h-1zM114 636.5h1v1h-1zM90.5 679h1v1h-1zM90.5 652.5h1v1h-1zM92 646.5h1v1h-1zM87.5 660h1v1h-1zM103 638h1v1h-1zM117 641h1v1h-1zM85.5 671.5h1v1h-1zM90.5 653.5h1v1h-1zM85.5 666.5h1v1h-1zM97.5 684h1v1h-1zM132 682.5h1v1h-1zM85 671.5h1v1h-1zM116.5 641h1v1h-1zM133.5 689h1v1h-1zM115.5 691.5h1v1h-1zM86 671h1v1h-1zM117 638h1v1h-1zM87.5 660h1v1h-1zM118 645.5h1v1h-1zM103.5 638h1v1h-1zM130 692h1v1h-1zM125.5 666.5h1v1h-1zM112 637.5h1v1h-1zM132.5 691.5h1v1h-1zM98 681.5h1v1h-1zM128.5 675h1v1h-1zM92 650.5h1v1h-1zM86 667h1v1h-1zM123.5 659h1v1h-1zM87.5 675.5h1v1h-1zM116 689.5h1v1h-1zM96.5 681.5h1v1h-1zM115 689.5h1v1h-1zM93 650.5h1v1h-1zM127.5 663.5h1v1h-1zM88 678.5h1v1h-1zM97.5 638.5h1v1h-1zM105 636h1v1h-1zM98 684h1v1h-1zM110 688.5h1v1h-1zM121 649.5h1v1h-1zM105.5 685h1v1h-1zM126 662h1v1h-1zM127.5 691.5h1v1h-1zM87.5 667h1v1h-1zM129 673.5h1v1h-1zM112.5 638.5h1v1h-1zM122.5 647h1v1h-1zM110.5 637.5h1v1h-1zM124 659h1v1h-1zM117.5 645h1v1h-1zM85 670.5h1v1h-1zM103.5 685h1v1h-1zM130.5 680.5h1v1h-1zM88.5 659h1v1h-1zM96 681h1v1h-1zM101.5 637h1v1h-1zM128.5 674.5h1v1h-1zM118 645h1v1h-1zM132.5 692h1v1h-1zM132 680h1v1h-1zM104 636.5h1v1h-1zM119 691h1v1h-1zM129.5 672.5h1v1h-1zM124.5 656.5h1v1h-1zM85 666.5h1v1h-1zM94.5 681.5h1v1h-1zM121 649h1v1h-1zM92.5 650.5h1v1h-1zM127 665.5h1v1h-1zM90 678.5h1v1h-1zM119 692h1v1h-1zM130.5 675h1v1h-1zM131 693.5h1v1h-1zM129.5 675h1v1h-1zM126 666.5h1v1h-1zM111.5 635.5h1v1h-1zM99 640.5h1v1h-1zM93 648h1v1h-1zM89.5 677.5h1v1h-1zM87.5 661h1v1h-1zM105 685.5h1v1h-1zM133 689.5h1v1h-1zM117 642.5h1v1h-1zM85 670.5h1v1h-1zM99.5 639.5h1v1h-1zM132 684.5h1v1h-1zM130 694h1v1h-1zM106 637h1v1h-1zM100 684h1v1h-1zM125.5 663.5h1v1h-1zM98 644h1v1h-1zM133.5 691.5h1v1h-1zM131 673h1v1h-1zM107 634.5h1v1h-1zM106 636h1v1h-1z"/><path d="M100.3 638.7C102.23 637.15 104.15 636.45 106.1 636.2C108.05 635.95 110.22 636.47 112 637.2C113.78 637.93 115.52 639.07 116.8 640.6C118.08 642.13 118.73 644.3 119.7 646.4C120.67 648.5 121.63 650.62 122.6 653.2C123.57 655.78 124.53 658.98 125.5 661.9C126.47 664.82 127.43 667.62 128.4 670.7C129.37 673.78 130.32 677.33 131.3 680.4C132.28 683.47 133.97 687 134.3 689.1C134.63 691.2 134.28 692.18 133.3 693C132.32 693.82 130.83 694.17 128.4 694C125.97 693.83 121.77 692.82 118.7 692C115.63 691.18 112.75 690.23 110 689.1C107.25 687.97 104.78 686.5 102.2 685.2C99.62 683.9 96.92 682.58 94.5 681.3C92.08 680.02 89.23 678.95 87.7 677.5C86.17 676.05 85.55 674.38 85.3 672.6C85.05 670.82 85.63 669.07 86.2 666.8C86.77 664.53 87.8 661.43 88.7 659C89.6 656.57 90.63 654.45 91.6 652.2C92.57 649.95 93.05 647.75 94.5 645.5C95.95 643.25 98.37 640.25 100.3 638.7Z" fill="#3f81ba" filter="url(#cBlue)"/><path fill="#ec812b" d="M161 681h1v1h-1zM192.5 639.5h1v1h-1zM205 614h1v1h-1zM196 586.5h1v1h-1zM133 636h1v1h-1zM170 596.5h1v1h-1zM159.5 671.5h1v1h-1zM179.5 590h1v1h-1zM130.5 635.5h1v1h-1zM197 625.5h1v1h-1zM196.5 587h1v1h-1zM204.5 595h1v1h-1zM204 604h1v1h-1zM140 647.5h1v1h-1zM201 615.5h1v1h-1zM127 600.5h1v1h-1zM120.5 622h1v1h-1zM193 631h1v1h-1zM180 671.5h1v1h-1zM125 599h1v1h-1zM201.5 621.5h1v1h-1zM137 646.5h1v1h-1zM167 593.5h1v1h-1zM134 640.5h1v1h-1zM172.5 684h1v1h-1zM123.5 600.5h1v1h-1zM121.5 621.5h1v1h-1zM185 650.5h1v1h-1zM179 666.5h1v1h-1zM181 656h1v1h-1zM127 632h1v1h-1zM187.5 641.5h1v1h-1zM176 680.5h1v1h-1zM176.5 590h1v1h-1zM139.5 588.5h1v1h-1zM184.5 644.5h1v1h-1zM177 591h1v1h-1zM182 651h1v1h-1zM162 677.5h1v1h-1zM166.5 593h1v1h-1zM131.5 629.5h1v1h-1zM149.5 587.5h1v1h-1zM141 647h1v1h-1zM170.5 682h1v1h-1zM189 589.5h1v1h-1zM202.5 592h1v1h-1zM150.5 589h1v1h-1zM137.5 647.5h1v1h-1zM207.5 605.5h1v1h-1zM180.5 589.5h1v1h-1zM205 621h1v1h-1zM171.5 597h1v1h-1zM155 589.5h1v1h-1zM201 624h1v1h-1zM191.5 633h1v1h-1zM207 596h1v1h-1zM145.5 586.5h1v1h-1zM151.5 589.5h1v1h-1zM184 654.5h1v1h-1zM190.5 631.5h1v1h-1zM151.5 588h1v1h-1zM179.5 656h1v1h-1zM184.5 650h1v1h-1zM169 597.5h1v1h-1zM123 617.5h1v1h-1zM149 588h1v1h-1zM149 589h1v1h-1zM135.5 592h1v1h-1zM125 604h1v1h-1zM140.5 590.5h1v1h-1zM163.5 682.5h1v1h-1zM148.5 587.5h1v1h-1zM163 677h1v1h-1zM200.5 625.5h1v1h-1zM198 594.5h1v1h-1zM152.5 589h1v1h-1zM179.5 662h1v1h-1zM196.5 588.5h1v1h-1zM192.5 631.5h1v1h-1zM185.5 643h1v1h-1zM179.5 657h1v1h-1zM128 598.5h1v1h-1zM206.5 602h1v1h-1zM151 587h1v1h-1zM196 586.5h1v1h-1zM175.5 667h1v1h-1zM134 638.5h1v1h-1zM198.5 589h1v1h-1zM186.5 589h1v1h-1zM173.5 592.5h1v1h-1zM196.5 632.5h1v1h-1zM157 673.5h1v1h-1zM208 604.5h1v1h-1zM126 604h1v1h-1zM201 615.5h1v1h-1zM196.5 630h1v1h-1zM165 593.5h1v1h-1zM128.5 597h1v1h-1zM127 597.5h1v1h-1zM150.5 660.5h1v1h-1zM143 648h1v1h-1zM197 624.5h1v1h-1zM184.5 588h1v1h-1zM123.5 607.5h1v1h-1zM154 671.5h1v1h-1zM173 596h1v1h-1zM143 649h1v1h-1zM125.5 628.5h1v1h-1zM129 630.5h1v1h-1zM181.5 663.5h1v1h-1zM154.5 670h1v1h-1zM140 591h1v1h-1zM150 663.5h1v1h-1zM154.5 665.5h1v1h-1zM147 654.5h1v1h-1zM178 662h1v1h-1zM198.5 626h1v1h-1zM136 642.5h1v1h-1zM142.5 644.5h1v1h-1zM133 591h1v1h-1zM153 586h1v1h-1zM169 680.5h1v1h-1zM206 600h1v1h-1zM184.5 646h1v1h-1zM203.5 605h1v1h-1zM127 627h1v1h-1zM179 654h1v1h-1zM159 671h1v1h-1zM138 591.5h1v1h-1zM204 593h1v1h-1zM199 587.5h1v1h-1zM125 603h1v1h-1zM190 642h1v1h-1zM160 592h1v1h-1zM179.5 656h1v1h-1zM154 662.5h1v1h-1zM203 623.5h1v1h-1zM141 588.5h1v1h-1zM201 625h1v1h-1zM177 685h1v1h-1zM201 589h1v1h-1zM164 677h1v1h-1zM151 586.5h1v1h-1zM139 643h1v1h-1zM136.5 643.5h1v1h-1zM124.5 602.5h1v1h-1zM153.5 661.5h1v1h-1zM144 652h1v1h-1zM127.5 602.5h1v1h-1zM138.5 643h1v1h-1zM123.5 622h1v1h-1zM195.5 634h1v1h-1zM129 637.5h1v1h-1zM143 587.5h1v1h-1zM167.5 593h1v1h-1zM120 614.5h1v1h-1zM199.5 626h1v1h-1zM181.5 654h1v1h-1zM127.5 633.5h1v1h-1zM123.5 604h1v1h-1zM181.5 660h1v1h-1zM158 590h1v1h-1zM149 657h1v1h-1zM187.5 588h1v1h-1zM191 630.5h1v1h-1zM157 668.5h1v1h-1zM172 684.5h1v1h-1zM159.5 588.5h1v1h-1zM183 657h1v1h-1zM139.5 638h1v1h-1zM192 583.5h1v1h-1zM125 609.5h1v1h-1zM182.5 658h1v1h-1zM129.5 596h1v1h-1zM202.5 628.5h1v1h-1zM189.5 586.5h1v1h-1zM152 662h1v1h-1zM187 586.5h1v1h-1zM158 590h1v1h-1zM154 665.5h1v1h-1zM200 586.5h1v1h-1zM175 676.5h1v1h-1zM136.5 643h1v1h-1zM140 648.5h1v1h-1zM183 651h1v1h-1zM134.5 639.5h1v1h-1zM135 643.5h1v1h-1zM177 681.5h1v1h-1zM132.5 634h1v1h-1zM150.5 658.5h1v1h-1zM185.5 645h1v1h-1zM129.5 596h1v1h-1zM126 630h1v1h-1z"/><path fill="#de2a2a" d="M178 678h1v1h-1zM181.5 644h1v1h-1zM185.5 588.5h1v1h-1zM194 634.5h1v1h-1zM147 651.5h1v1h-1zM133.5 590h1v1h-1zM136 590h1v1h-1zM139.5 643.5h1v1h-1zM151 662h1v1h-1zM198.5 588h1v1h-1zM180 655.5h1v1h-1zM186.5 590h1v1h-1zM206.5 614h1v1h-1zM142.5 650.5h1v1h-1zM190.5 591h1v1h-1zM179 677h1v1h-1zM195 586h1v1h-1zM205.5 613h1v1h-1zM141.5 644.5h1v1h-1zM204 613.5h1v1h-1zM139 585h1v1h-1zM153.5 591h1v1h-1zM157.5 589h1v1h-1zM206.5 609h1v1h-1zM151 662.5h1v1h-1zM204.5 597h1v1h-1zM176.5 667.5h1v1h-1zM156.5 674.5h1v1h-1zM122.5 624h1v1h-1zM147.5 652h1v1h-1zM180 668.5h1v1h-1zM122.5 612h1v1h-1zM178.5 668h1v1h-1zM182 643.5h1v1h-1zM148.5 658.5h1v1h-1zM183 652h1v1h-1zM138 644h1v1h-1zM148 653.5h1v1h-1zM126.5 630h1v1h-1zM172 689.5h1v1h-1zM188 636h1v1h-1zM157.5 669.5h1v1h-1zM124.5 628.5h1v1h-1zM170 685h1v1h-1zM121.5 605h1v1h-1zM190 586.5h1v1h-1zM195.5 633.5h1v1h-1zM173.5 594.5h1v1h-1zM165.5 593.5h1v1h-1zM141.5 647.5h1v1h-1zM182.5 585.5h1v1h-1zM143.5 648.5h1v1h-1zM177.5 592h1v1h-1zM153.5 664h1v1h-1zM143.5 646h1v1h-1zM207 609.5h1v1h-1zM165 594.5h1v1h-1zM140.5 589h1v1h-1zM143 589h1v1h-1zM180.5 588.5h1v1h-1zM144 651.5h1v1h-1zM167 685h1v1h-1zM193.5 634.5h1v1h-1zM170 687h1v1h-1zM142.5 590h1v1h-1zM125.5 608h1v1h-1zM138.5 643.5h1v1h-1zM151.5 589h1v1h-1zM177 678.5h1v1h-1zM184.5 587.5h1v1h-1zM194.5 633h1v1h-1zM174.5 672h1v1h-1zM134.5 592h1v1h-1zM127 629.5h1v1h-1zM164 678h1v1h-1zM179.5 592h1v1h-1zM174 683.5h1v1h-1zM205.5 618h1v1h-1zM167.5 593h1v1h-1zM129 634h1v1h-1zM160 589h1v1h-1zM179.5 661h1v1h-1zM166 686h1v1h-1zM163.5 674.5h1v1h-1zM208 608h1v1h-1zM195 629.5h1v1h-1zM159.5 678.5h1v1h-1zM182.5 660h1v1h-1zM143 642.5h1v1h-1zM203 617.5h1v1h-1zM201 629.5h1v1h-1zM147.5 586h1v1h-1zM159.5 675.5h1v1h-1zM154.5 663h1v1h-1zM129.5 590.5h1v1h-1zM188.5 640.5h1v1h-1zM144 656h1v1h-1zM180.5 651.5h1v1h-1zM141 647.5h1v1h-1zM132 638.5h1v1h-1zM146 650h1v1h-1zM202.5 619h1v1h-1zM131.5 594.5h1v1h-1zM133 639.5h1v1h-1zM154.5 672h1v1h-1zM173 687.5h1v1h-1zM124 615.5h1v1h-1zM167.5 684h1v1h-1zM190 635.5h1v1h-1zM125 605h1v1h-1zM161.5 679h1v1h-1zM206.5 612h1v1h-1zM169.5 595.5h1v1h-1zM156.5 668.5h1v1h-1zM160.5 591h1v1h-1zM168.5 596h1v1h-1zM186 647h1v1h-1zM198.5 626h1v1h-1zM178 663.5h1v1h-1zM132 640h1v1h-1zM192.5 587.5h1v1h-1zM136.5 647h1v1h-1zM123 609.5h1v1h-1zM173.5 674.5h1v1h-1zM195.5 630.5h1v1h-1zM125 609h1v1h-1zM176.5 591h1v1h-1zM181 671.5h1v1h-1zM195 627.5h1v1h-1zM184.5 643h1v1h-1zM146.5 656.5h1v1h-1zM166 591.5h1v1h-1zM206.5 611.5h1v1h-1zM179.5 655.5h1v1h-1zM146.5 651h1v1h-1zM202.5 616.5h1v1h-1zM165 680.5h1v1h-1zM122 615h1v1h-1zM188 587.5h1v1h-1zM181 668.5h1v1h-1zM187.5 645.5h1v1h-1zM184.5 647.5h1v1h-1zM128 593.5h1v1h-1zM165 682.5h1v1h-1zM187 640.5h1v1h-1zM156.5 664h1v1h-1z"/><path fill="#d97ac6" d="M180.5 660.5h1v1h-1zM206.5 598.5h1v1h-1zM154.5 669h1v1h-1zM185 642h1v1h-1zM168 683h1v1h-1zM203 613h1v1h-1zM152.5 588h1v1h-1zM180.5 656h1v1h-1zM137 640h1v1h-1zM187.5 590.5h1v1h-1zM142 647.5h1v1h-1zM145 653.5h1v1h-1zM124.5 628.5h1v1h-1zM149 588.5h1v1h-1zM198.5 591h1v1h-1zM204 593h1v1h-1zM176.5 672.5h1v1h-1zM171 687h1v1h-1zM151 660h1v1h-1zM122 606.5h1v1h-1zM122 616.5h1v1h-1zM136 640.5h1v1h-1zM201 625h1v1h-1zM183 647.5h1v1h-1zM157.5 589h1v1h-1zM192 633h1v1h-1zM191 588h1v1h-1zM201 613.5h1v1h-1zM149 593.5h1v1h-1zM170 594h1v1h-1zM173 689.5h1v1h-1zM184.5 587h1v1h-1zM205 611.5h1v1h-1zM148.5 666h1v1h-1zM137 589h1v1h-1zM122.5 604.5h1v1h-1zM172.5 684h1v1h-1zM149.5 590h1v1h-1zM120 610h1v1h-1zM123.5 607.5h1v1h-1zM176.5 588.5h1v1h-1zM127.5 632.5h1v1h-1zM188 636.5h1v1h-1zM164 685.5h1v1h-1zM127 601.5h1v1h-1zM200.5 589.5h1v1h-1zM142.5 588.5h1v1h-1zM128 595h1v1h-1zM209 610h1v1h-1zM180.5 655h1v1h-1zM169.5 597.5h1v1h-1zM134 638.5h1v1h-1zM122 606h1v1h-1zM165 594.5h1v1h-1zM161.5 679.5h1v1h-1zM120.5 612.5h1v1h-1zM153 666h1v1h-1zM121.5 617.5h1v1h-1zM126 630.5h1v1h-1zM173.5 686.5h1v1h-1zM173 597h1v1h-1zM128 596h1v1h-1zM185 589h1v1h-1zM138 643h1v1h-1zM191 636h1v1h-1zM124.5 624h1v1h-1zM206 613.5h1v1h-1zM191 585h1v1h-1zM204.5 614.5h1v1h-1zM134 590h1v1h-1zM126 597.5h1v1h-1zM127 601.5h1v1h-1zM135 593h1v1h-1zM188.5 592h1v1h-1zM120 611.5h1v1h-1zM144 646.5h1v1h-1zM125.5 630h1v1h-1zM204.5 614.5h1v1h-1zM186 583.5h1v1h-1zM125.5 629h1v1h-1zM203 616h1v1h-1zM136 592h1v1h-1zM159.5 676h1v1h-1zM124 630.5h1v1h-1zM181 655h1v1h-1zM193 630.5h1v1h-1zM185.5 654h1v1h-1zM148.5 589.5h1v1h-1zM176.5 667.5h1v1h-1zM200.5 620.5h1v1h-1zM172 684h1v1h-1zM147 653.5h1v1h-1zM187.5 636.5h1v1h-1zM178.5 660h1v1h-1zM167 680h1v1h-1zM189.5 589.5h1v1h-1z"/><path fill="#4cae4e" d="M185 645.5h1v1h-1zM133.5 639.5h1v1h-1zM130 596.5h1v1h-1zM209.5 597.5h1v1h-1zM130 589.5h1v1h-1zM192.5 636.5h1v1h-1zM135.5 641.5h1v1h-1zM205.5 605.5h1v1h-1zM151.5 659.5h1v1h-1zM134 634.5h1v1h-1zM171 681.5h1v1h-1zM140 589h1v1h-1zM138.5 589h1v1h-1zM200 590h1v1h-1zM122 614.5h1v1h-1zM200 630.5h1v1h-1zM122 627.5h1v1h-1zM201.5 621h1v1h-1zM176 671.5h1v1h-1zM171 594h1v1h-1zM184.5 591h1v1h-1zM124.5 626.5h1v1h-1zM124 613.5h1v1h-1zM176.5 681.5h1v1h-1zM137.5 592h1v1h-1zM178.5 591h1v1h-1zM122.5 614h1v1h-1zM205.5 618h1v1h-1zM185 644.5h1v1h-1zM194 589.5h1v1h-1zM198.5 620.5h1v1h-1zM192.5 588.5h1v1h-1zM200.5 623h1v1h-1zM190.5 636.5h1v1h-1zM177.5 658h1v1h-1zM155 663.5h1v1h-1zM128.5 631h1v1h-1zM200 626.5h1v1h-1zM151 664.5h1v1h-1zM179.5 589h1v1h-1zM122 620.5h1v1h-1zM187 647h1v1h-1zM200.5 588.5h1v1h-1zM168.5 687h1v1h-1zM122.5 613.5h1v1h-1zM180.5 660h1v1h-1zM207 599h1v1h-1zM201.5 621h1v1h-1zM180.5 663h1v1h-1zM180.5 657.5h1v1h-1zM129.5 601.5h1v1h-1zM134 637h1v1h-1zM187 638.5h1v1h-1zM152.5 659h1v1h-1zM206 607h1v1h-1zM177 657.5h1v1h-1zM181 662.5h1v1h-1zM142.5 649h1v1h-1zM196 586.5h1v1h-1zM119.5 610h1v1h-1zM206.5 606h1v1h-1zM199 588h1v1h-1zM132 593h1v1h-1zM189.5 634.5h1v1h-1zM159 672h1v1h-1zM175 685.5h1v1h-1zM140.5 592h1v1h-1zM128.5 594.5h1v1h-1zM204 612.5h1v1h-1zM177.5 668.5h1v1h-1zM200.5 589h1v1h-1zM155.5 670h1v1h-1zM152.5 588h1v1h-1zM191 634.5h1v1h-1zM165.5 592.5h1v1h-1zM206 614h1v1h-1zM202.5 623.5h1v1h-1zM205 592.5h1v1h-1zM190.5 640.5h1v1h-1zM177.5 658.5h1v1h-1zM189 639.5h1v1h-1zM132.5 594h1v1h-1zM177 654.5h1v1h-1zM143.5 651.5h1v1h-1zM182 660h1v1h-1zM138.5 589.5h1v1h-1zM137.5 589h1v1h-1zM184.5 590h1v1h-1zM166 683.5h1v1h-1zM145 590h1v1h-1zM139 592h1v1h-1zM204 606h1v1h-1zM135 591h1v1h-1zM187.5 587h1v1h-1zM209.5 603h1v1h-1zM156.5 590h1v1h-1zM196 630h1v1h-1zM192 635.5h1v1h-1zM186.5 589h1v1h-1zM189.5 584h1v1h-1zM158.5 594.5h1v1h-1zM122.5 619.5h1v1h-1zM151.5 588h1v1h-1zM169.5 596.5h1v1h-1zM122 600.5h1v1h-1z"/><path fill="#9266b8" d="M196.5 588.5h1v1h-1zM194.5 628h1v1h-1zM150.5 662h1v1h-1zM205 614h1v1h-1zM145 587.5h1v1h-1zM176 676.5h1v1h-1zM180.5 656h1v1h-1zM205.5 619.5h1v1h-1zM202.5 588.5h1v1h-1zM123 610.5h1v1h-1zM194 636.5h1v1h-1zM206.5 608.5h1v1h-1zM178 665.5h1v1h-1zM136.5 641.5h1v1h-1zM143 594h1v1h-1zM183 590.5h1v1h-1zM144 589h1v1h-1zM122 610.5h1v1h-1zM125 622.5h1v1h-1zM182.5 645.5h1v1h-1zM208 609.5h1v1h-1zM189 639h1v1h-1zM173 596.5h1v1h-1zM207 593h1v1h-1zM204 610.5h1v1h-1zM135 642.5h1v1h-1zM166 594h1v1h-1zM147 655.5h1v1h-1zM131 638h1v1h-1zM127.5 635h1v1h-1zM123 617h1v1h-1zM177 679h1v1h-1zM142 648h1v1h-1zM184.5 649.5h1v1h-1zM153 594h1v1h-1zM194.5 627h1v1h-1zM167.5 593.5h1v1h-1zM118 612.5h1v1h-1zM170 685h1v1h-1zM161.5 676.5h1v1h-1zM181 651.5h1v1h-1zM198 627h1v1h-1zM188 589.5h1v1h-1zM128 602h1v1h-1zM175 591.5h1v1h-1zM121.5 612h1v1h-1zM152 586h1v1h-1zM121 607.5h1v1h-1zM130 634.5h1v1h-1zM205 618.5h1v1h-1zM180.5 647.5h1v1h-1zM169.5 593.5h1v1h-1zM203.5 598h1v1h-1zM168 686h1v1h-1zM183.5 651h1v1h-1zM191.5 589.5h1v1h-1zM178.5 659h1v1h-1zM179 592h1v1h-1zM194.5 589h1v1h-1zM200.5 590.5h1v1h-1z"/><path d="M131.5 594.5C129.42 596.5 127.92 598.92 126.5 601.5C125.08 604.08 123.68 607.33 123 610C122.32 612.67 122.25 614.85 122.4 617.5C122.55 620.15 122.67 623.27 123.9 625.9C125.13 628.53 127.58 630.58 129.8 633.3C132.02 636.02 134.73 639.23 137.2 642.2C139.67 645.17 142.13 647.63 144.6 651.1C147.07 654.57 149.53 659.05 152 663C154.47 666.95 157.07 671.47 159.4 674.8C161.73 678.13 164.02 680.9 166 683C167.98 685.1 169.8 686.9 171.3 687.4C172.8 687.9 173.97 687.23 175 686C176.03 684.77 177 683 177.5 680C178 677 177.25 672.67 178 668C178.75 663.33 180.65 656.05 182 652C183.35 647.95 184.18 646.57 186.1 643.7C188.02 640.83 191.03 638.02 193.5 634.8C195.97 631.58 198.92 627.85 200.9 624.4C202.88 620.95 204.28 617.8 205.4 614.1C206.52 610.4 207.6 605.67 207.6 602.2C207.6 598.73 207 595.57 205.4 593.3C203.8 591.03 200.73 589.57 198 588.6C195.27 587.63 192 587.18 189 587.5C186 587.82 182.83 588.92 180 590.5C177.17 592.08 174.33 596.33 172 597C169.67 597.67 168.5 595.67 166 594.5C163.5 593.33 160.17 591 157 590C153.83 589 150 588.58 147 588.5C144 588.42 141.58 588.5 139 589.5C136.42 590.5 133.58 592.5 131.5 594.5Z" fill="#ec812b" filter="url(#cOr)"/><path d="M131.5 594.5C129.92 596.17 127.92 598.92 126.5 601.5C125.08 604.08 123.68 607.33 123 610C122.32 612.67 122.25 614.85 122.4 617.5C122.55 620.15 122.67 623.27 123.9 625.9C125.13 628.53 127.78 630.87 129.8 633.3C131.82 635.73 134.38 640.72 136 640.5C137.62 640.28 138.67 635.42 139.5 632C140.33 628.58 140.83 624.33 141 620C141.17 615.67 140.83 610.17 140.5 606C140.17 601.83 139.75 597.42 139 595C138.25 592.58 137.25 591.58 136 591.5C134.75 591.42 133.08 592.83 131.5 594.5Z" fill="#ec812b" filter="url(#cOrL)"/><path d="M139 589.5C140.25 587.92 144 588.42 147 588.5C150 588.58 154.08 588.75 157 590C159.92 591.25 163.33 593.83 164.5 596C165.67 598.17 165.08 601.33 164 603C162.92 604.67 160.33 605.33 158 606C155.67 606.67 152.67 607.17 150 607C147.33 606.83 143.75 606.5 142 605C140.25 603.5 140 600.58 139.5 598C139 595.42 137.75 591.08 139 589.5Z" fill="#d97ac6" filter="url(#cMixTop)"/><path d="M139.5 598C139.67 595.5 140.25 603.5 142 605C143.75 606.5 147.33 606.83 150 607C152.67 607.17 155.67 606.67 158 606C160.33 605.33 162.87 600.67 164 603C165.13 605.33 164.57 613.95 164.8 620C165.03 626.05 165.05 632.63 165.4 639.3C165.75 645.97 166.38 654.05 166.9 660C167.42 665.95 167.9 670.58 168.5 675C169.1 679.42 170.92 685.17 170.5 686.5C170.08 687.83 167.85 684.95 166 683C164.15 681.05 161.73 678.13 159.4 674.8C157.07 671.47 154.47 666.95 152 663C149.53 659.05 147.07 654.57 144.6 651.1C142.13 647.63 138.63 643.97 137.2 642.2C135.77 640.43 135.62 642.2 136 640.5C136.38 638.8 138.67 635.42 139.5 632C140.33 628.58 141 625.67 141 620C141 614.33 139.33 600.5 139.5 598Z" fill="#4cae4e" filter="url(#cMix)"/><path d="M134.5 638.5C134.42 640.08 138 643 140 645.5C142 648 144.33 650.42 146.5 653.5C148.67 656.58 150.75 660.42 153 664C155.25 667.58 157.83 671.83 160 675C162.17 678.17 164.17 680.97 166 683C167.83 685.03 170.33 687.37 171 687.2C171.67 687.03 171 684.37 170 682C169 679.63 166.75 676.17 165 673C163.25 669.83 161.5 666.33 159.5 663C157.5 659.67 155.17 656.17 153 653C150.83 649.83 148.58 646.83 146.5 644C144.42 641.17 142.5 636.92 140.5 636C138.5 635.08 134.58 636.92 134.5 638.5Z" fill="#de2a2a" filter="url(#cRed)"/><path d="M162.5 599C163.3 596.25 166.33 595.67 168 597.5C169.67 599.33 171.25 604.58 172.5 610C173.75 615.42 174.92 623.33 175.5 630C176.08 636.67 176.08 643.67 176 650C175.92 656.33 175.42 663 175 668C174.58 673 174.08 676.83 173.5 680C172.92 683.17 172.25 686.33 171.5 687C170.75 687.67 169.67 686.83 169 684C168.33 681.17 168 675.33 167.5 670C167 664.67 166.48 658.33 166 652C165.52 645.67 165.07 638.33 164.6 632C164.13 625.67 163.55 619.5 163.2 614C162.85 608.5 161.7 601.75 162.5 599Z" fill="#57cfd2" filter="url(#cCyan)"/><path fill="#9266b8" d="M206.5 652.5h1v1h-1zM174 683.5h1v1h-1zM179 683h1v1h-1zM186.5 662.5h1v1h-1zM182.5 667.5h1v1h-1zM182.5 670h1v1h-1zM189.5 671h1v1h-1zM188.5 663h1v1h-1zM205 646.5h1v1h-1zM179 684h1v1h-1zM183 681h1v1h-1zM174.5 681h1v1h-1zM204 662.5h1v1h-1zM194 657h1v1h-1zM209 657.5h1v1h-1zM173 679h1v1h-1zM186 663h1v1h-1zM201 648h1v1h-1zM197 670.5h1v1h-1zM205 662.5h1v1h-1zM206 660h1v1h-1zM207.5 657.5h1v1h-1zM196 651h1v1h-1zM198.5 651.5h1v1h-1zM176.5 687h1v1h-1zM195.5 654h1v1h-1zM190 674.5h1v1h-1zM203 665.5h1v1h-1zM196 655h1v1h-1zM191 661h1v1h-1zM207.5 658h1v1h-1zM195 671.5h1v1h-1zM193.5 656h1v1h-1zM195.5 654h1v1h-1zM182.5 671h1v1h-1zM195.5 654.5h1v1h-1zM197 655h1v1h-1zM198 649h1v1h-1zM185.5 683.5h1v1h-1zM180.5 687h1v1h-1zM202.5 648h1v1h-1zM178 687.5h1v1h-1zM195 673.5h1v1h-1zM175.5 677.5h1v1h-1zM189.5 659.5h1v1h-1zM187 682.5h1v1h-1zM198.5 649h1v1h-1zM189.5 677.5h1v1h-1zM195.5 652h1v1h-1zM176 675h1v1h-1zM174 678h1v1h-1zM194.5 655h1v1h-1zM205.5 650.5h1v1h-1zM210 655.5h1v1h-1zM197.5 668.5h1v1h-1zM185.5 667h1v1h-1zM177.5 685.5h1v1h-1zM176 687h1v1h-1zM175 681.5h1v1h-1zM198.5 668.5h1v1h-1zM179.5 671h1v1h-1zM173 683.5h1v1h-1zM205 659h1v1h-1zM185 678.5h1v1h-1zM177.5 677h1v1h-1zM197 668.5h1v1h-1zM208 653h1v1h-1zM175 677.5h1v1h-1zM190.5 659h1v1h-1zM172 681.5h1v1h-1zM206.5 658.5h1v1h-1zM187.5 679h1v1h-1zM183.5 683.5h1v1h-1zM197 668.5h1v1h-1zM182 668h1v1h-1zM197 650.5h1v1h-1zM177 687.5h1v1h-1zM204.5 650h1v1h-1zM203.5 665h1v1h-1zM193 656h1v1h-1zM174.5 687.5h1v1h-1zM180 671h1v1h-1zM180 675.5h1v1h-1zM187.5 662.5h1v1h-1zM185.5 677.5h1v1h-1zM189.5 676.5h1v1h-1zM185 665.5h1v1h-1zM175.5 679h1v1h-1zM191.5 671.5h1v1h-1zM176 675h1v1h-1zM184.5 664h1v1h-1zM184.5 679.5h1v1h-1zM179.5 672.5h1v1h-1zM190.5 659h1v1h-1zM180.5 685h1v1h-1zM188 663h1v1h-1z"/><path fill="#57cfd2" d="M205 662.5h1v1h-1zM204 664h1v1h-1zM174.5 686h1v1h-1zM196.5 669h1v1h-1zM206.5 653.5h1v1h-1zM177 686.5h1v1h-1zM197.5 649.5h1v1h-1zM191 660h1v1h-1zM185.5 679.5h1v1h-1zM198.5 649.5h1v1h-1zM192.5 673h1v1h-1zM176 686h1v1h-1zM180 670.5h1v1h-1zM203 664.5h1v1h-1zM176.5 675.5h1v1h-1zM180 670.5h1v1h-1zM205 660h1v1h-1zM183 683h1v1h-1zM197.5 653h1v1h-1zM187.5 665h1v1h-1zM179.5 686h1v1h-1zM193 655.5h1v1h-1zM179.5 671.5h1v1h-1zM206.5 662.5h1v1h-1zM179 670.5h1v1h-1zM197.5 666h1v1h-1z"/><path fill="#de2a2a" d="M197.5 668.5h1v1h-1zM176 685.5h1v1h-1zM188 677h1v1h-1zM192.5 672h1v1h-1zM199.5 647h1v1h-1zM208.5 655.5h1v1h-1zM196.5 651.5h1v1h-1zM204.5 664.5h1v1h-1zM194 669.5h1v1h-1zM196 652h1v1h-1zM192 670.5h1v1h-1zM187.5 678.5h1v1h-1zM176 684.5h1v1h-1zM180 681.5h1v1h-1zM202 666h1v1h-1zM175.5 683.5h1v1h-1zM194.5 648h1v1h-1zM185.5 680.5h1v1h-1zM193.5 671h1v1h-1zM178.5 671.5h1v1h-1zM210.5 654h1v1h-1zM177.5 684h1v1h-1zM175.5 680.5h1v1h-1zM196 647.5h1v1h-1zM206.5 651.5h1v1h-1zM178.5 674h1v1h-1zM193 670h1v1h-1zM193 675h1v1h-1z"/><path d="M203.6 646.3C204.65 646.65 206.33 648.28 207.1 649.8C207.87 651.32 208.32 653.53 208.2 655.4C208.08 657.27 207.75 659.13 206.4 661C205.05 662.87 202.32 664.62 200.1 666.6C197.88 668.58 195.32 670.68 193.1 672.9C190.88 675.12 188.78 677.8 186.8 679.9C184.82 682 182.95 684.08 181.2 685.5C179.45 686.92 177.47 688.75 176.3 688.4C175.13 688.05 174.32 685.17 174.2 683.4C174.08 681.63 174.78 679.55 175.6 677.8C176.42 676.05 177.7 674.53 179.1 672.9C180.5 671.27 182.48 669.63 184 668C185.52 666.37 186.68 664.85 188.2 663.1C189.72 661.35 191.47 659.48 193.1 657.5C194.73 655.52 196.72 652.83 198 651.2C199.28 649.57 199.87 648.52 200.8 647.7C201.73 646.88 202.55 645.95 203.6 646.3Z" fill="#9266b8" filter="url(#cPur)"/><path fill="#d97ac6" d="M138.5 559.5h1v1h-1zM137 565h1v1h-1zM137.5 581.5h1v1h-1zM143 563.5h1v1h-1zM147 577.5h1v1h-1zM141.5 563.5h1v1h-1zM135 562h1v1h-1zM134.5 560.5h1v1h-1zM138.5 581h1v1h-1zM140.5 582h1v1h-1zM145 576.5h1v1h-1zM135 563.5h1v1h-1zM133 562h1v1h-1zM145 578.5h1v1h-1zM145.5 570.5h1v1h-1zM134.5 574.5h1v1h-1zM136 579.5h1v1h-1zM143 582h1v1h-1zM136.5 580h1v1h-1zM135 573.5h1v1h-1zM136 578.5h1v1h-1zM136 560h1v1h-1zM134.5 571h1v1h-1zM141 579.5h1v1h-1zM136 560.5h1v1h-1zM138 560.5h1v1h-1zM137 558h1v1h-1zM135.5 579h1v1h-1zM133.5 565h1v1h-1zM138 580h1v1h-1zM137 580.5h1v1h-1zM138 581h1v1h-1zM147 572h1v1h-1zM143 582h1v1h-1zM132.5 568h1v1h-1zM146.5 565.5h1v1h-1zM139.5 581h1v1h-1zM133.5 578h1v1h-1zM146.5 581h1v1h-1zM144.5 564.5h1v1h-1zM138 580h1v1h-1zM134 559h1v1h-1zM136.5 580h1v1h-1zM141.5 583h1v1h-1zM137.5 561h1v1h-1zM147 573.5h1v1h-1zM141.5 562h1v1h-1zM143 580.5h1v1h-1zM141 562h1v1h-1zM135.5 563h1v1h-1zM141 581.5h1v1h-1zM133.5 574h1v1h-1zM145 565h1v1h-1zM137 579h1v1h-1zM137 560h1v1h-1zM147 575.5h1v1h-1zM135.5 579.5h1v1h-1zM136.5 582h1v1h-1zM145.5 568.5h1v1h-1zM142.5 581h1v1h-1zM143.5 581h1v1h-1zM147.5 577h1v1h-1zM133.5 567.5h1v1h-1zM146.5 568.5h1v1h-1zM147 578.5h1v1h-1zM136 580h1v1h-1zM139 582h1v1h-1zM134 569h1v1h-1zM136 563.5h1v1h-1zM134.5 572.5h1v1h-1zM144.5 565h1v1h-1zM133.5 565.5h1v1h-1zM140.5 562.5h1v1h-1zM141 560.5h1v1h-1zM146.5 571h1v1h-1zM134.5 565.5h1v1h-1z"/><path fill="#de2a2a" d="M136 562h1v1h-1zM149.5 574h1v1h-1zM133.5 572.5h1v1h-1zM134.5 577.5h1v1h-1zM133.5 572.5h1v1h-1zM133.5 574.5h1v1h-1zM137.5 561.5h1v1h-1zM148.5 578.5h1v1h-1zM141.5 580.5h1v1h-1zM139 558h1v1h-1zM133.5 570h1v1h-1zM137 558.5h1v1h-1zM144 564.5h1v1h-1zM143.5 564.5h1v1h-1zM140.5 560.5h1v1h-1zM134.5 566h1v1h-1zM146.5 579h1v1h-1zM133.5 566h1v1h-1zM141 562.5h1v1h-1zM132.5 571h1v1h-1z"/><path fill="#3f81ba" d="M147 575.5h1v1h-1zM147 577.5h1v1h-1zM139 580.5h1v1h-1zM136.5 561.5h1v1h-1zM134.5 579h1v1h-1zM142.5 562h1v1h-1zM145 572.5h1v1h-1zM136.5 580h1v1h-1zM139 580.5h1v1h-1zM143.5 564.5h1v1h-1zM144.5 564h1v1h-1zM134.5 575.5h1v1h-1zM143 567h1v1h-1zM133.5 579.5h1v1h-1zM135.5 571.5h1v1h-1zM147.5 567.5h1v1h-1zM145 569.5h1v1h-1zM138.5 560.5h1v1h-1zM134.5 572.5h1v1h-1zM137.5 579.5h1v1h-1zM134 569.5h1v1h-1zM142 561.5h1v1h-1zM141.5 561.5h1v1h-1zM143.5 579h1v1h-1z"/><path d="M137.5 578.5C138.83 577.08 144.5 576.58 146.5 577.5C148.5 578.42 148.58 581.83 149.5 584C150.42 586.17 153.42 589.25 152 590.5C150.58 591.75 143.25 592.25 141 591.5C138.75 590.75 139.08 588.17 138.5 586C137.92 583.83 136.17 579.92 137.5 578.5Z" fill="#d97ac6" filter="url(#cPinkTail)"/><path d="M135.2 561.7C135.88 560.42 137.1 560.1 138.3 560.1C139.5 560.1 141.22 560.75 142.4 561.7C143.58 562.65 144.55 563.93 145.4 565.8C146.25 567.67 147.23 570.7 147.5 572.9C147.77 575.1 147.85 577.47 147 579C146.15 580.53 144.2 581.75 142.4 582.1C140.6 582.45 137.57 582.12 136.2 581.1C134.83 580.08 134.53 578.22 134.2 576C133.87 573.78 134.03 570.18 134.2 567.8C134.37 565.42 134.52 562.98 135.2 561.7Z" fill="#d97ac6" filter="url(#cPink)"/><path fill="#3f81ba" d="M173.5 543.5h1v1h-1zM180.5 540h1v1h-1zM181 555h1v1h-1zM179.5 574h1v1h-1zM165.5 555.5h1v1h-1zM177.5 559.5h1v1h-1zM185 568h1v1h-1zM184.5 546.5h1v1h-1zM168.5 549h1v1h-1zM173.5 569h1v1h-1zM175.5 574h1v1h-1zM181 569.5h1v1h-1zM179.5 557.5h1v1h-1zM172 571h1v1h-1zM167 554.5h1v1h-1zM185 555h1v1h-1zM176.5 562.5h1v1h-1zM178.5 545.5h1v1h-1zM170.5 567h1v1h-1zM171 567h1v1h-1zM182 543h1v1h-1zM177.5 546.5h1v1h-1zM172 544h1v1h-1zM180.5 561h1v1h-1zM175 564.5h1v1h-1zM175 566h1v1h-1zM177.5 559.5h1v1h-1zM174.5 575h1v1h-1zM166 559h1v1h-1zM165.5 554h1v1h-1zM170 550h1v1h-1zM185.5 551.5h1v1h-1zM185 565.5h1v1h-1zM178.5 549.5h1v1h-1zM182.5 539.5h1v1h-1zM172.5 572h1v1h-1zM177.5 547h1v1h-1zM183 548h1v1h-1zM176 559.5h1v1h-1zM180 559h1v1h-1zM183.5 542h1v1h-1zM185.5 553h1v1h-1zM182.5 535h1v1h-1zM183.5 567.5h1v1h-1zM178.5 548.5h1v1h-1zM173.5 567h1v1h-1zM185 542.5h1v1h-1zM174.5 565.5h1v1h-1zM182.5 537.5h1v1h-1zM176.5 542.5h1v1h-1zM181.5 553.5h1v1h-1zM168.5 549h1v1h-1zM171 568.5h1v1h-1zM183.5 539h1v1h-1zM172.5 568h1v1h-1zM175 575h1v1h-1zM182.5 538.5h1v1h-1zM181.5 553.5h1v1h-1zM170.5 548.5h1v1h-1z"/><path fill="#de2a2a" d="M178.5 570.5h1v1h-1zM182.5 551h1v1h-1zM177.5 562h1v1h-1zM174 545.5h1v1h-1zM185 550.5h1v1h-1zM186 544h1v1h-1zM186 544h1v1h-1zM185 548.5h1v1h-1zM177 559.5h1v1h-1zM172 568h1v1h-1zM174.5 566h1v1h-1zM183 549.5h1v1h-1zM165 554h1v1h-1zM185.5 566.5h1v1h-1zM181 552h1v1h-1zM185 545.5h1v1h-1zM176 563.5h1v1h-1zM171.5 574.5h1v1h-1zM181.5 536.5h1v1h-1zM178 546.5h1v1h-1zM179.5 551h1v1h-1zM185 566.5h1v1h-1zM167 556.5h1v1h-1zM179.5 557h1v1h-1zM173.5 542.5h1v1h-1zM182 557.5h1v1h-1zM167.5 550.5h1v1h-1zM168 562.5h1v1h-1zM183.5 541.5h1v1h-1zM178.5 548h1v1h-1zM175 576h1v1h-1zM173.5 541h1v1h-1zM177.5 547h1v1h-1zM184 540.5h1v1h-1zM177.5 560.5h1v1h-1zM184 539.5h1v1h-1zM180 554.5h1v1h-1zM185 546.5h1v1h-1zM185.5 550.5h1v1h-1zM176.5 565h1v1h-1zM180.5 555h1v1h-1zM185.5 544h1v1h-1zM175.5 543h1v1h-1zM183 552h1v1h-1zM184 538h1v1h-1zM176 561h1v1h-1zM186.5 562.5h1v1h-1zM183 545.5h1v1h-1zM166.5 558h1v1h-1zM180.5 540h1v1h-1zM178.5 573h1v1h-1zM166.5 556h1v1h-1zM187 562h1v1h-1zM182 554h1v1h-1zM179.5 552h1v1h-1zM175 565.5h1v1h-1zM176.5 546.5h1v1h-1zM169.5 566.5h1v1h-1zM182 537.5h1v1h-1zM172.5 572.5h1v1h-1zM174.5 543h1v1h-1z"/><path d="M181.7 536.1C183.07 535.6 183.7 536.67 184.3 538.2C184.9 539.73 185.65 542.42 185.3 545.3C184.95 548.18 183.73 552.43 182.2 555.5C180.67 558.57 177.63 561.48 176.1 563.7C174.57 565.92 174.02 568.28 173 568.8C171.98 569.32 171.02 568.15 170 566.8C168.98 565.45 167.33 562.75 166.9 560.7C166.47 558.65 166.72 556.55 167.4 554.5C168.08 552.45 169.55 550.62 171 548.4C172.45 546.18 174.32 543.25 176.1 541.2C177.88 539.15 180.33 536.6 181.7 536.1Z" fill="#3f81ba" filter="url(#cBlue)"/><path d="M184.8 545.3C185.65 545.82 185.97 555.18 186.3 558.6C186.63 562.02 187.48 563.75 186.8 565.8C186.12 567.85 183.98 569.37 182.2 570.9C180.42 572.43 177.72 574.67 176.1 575C174.48 575.33 173.02 573.93 172.5 572.9C171.98 571.87 172.07 570.5 173 568.8C173.93 567.1 176.73 564.92 178.1 562.7C179.47 560.48 180.08 558.4 181.2 555.5C182.32 552.6 183.95 544.78 184.8 545.3Z" fill="#de2a2a" filter="url(#cRedMM)"/><path fill="#9266b8" d="M251 616h1v1h-1zM251.5 621h1v1h-1zM226.5 638h1v1h-1zM235 634.5h1v1h-1zM224.5 625h1v1h-1zM232.5 611h1v1h-1zM247 610.5h1v1h-1zM235 636.5h1v1h-1zM232 610.5h1v1h-1zM250.5 621h1v1h-1zM223.5 624h1v1h-1zM230 610h1v1h-1zM227 637.5h1v1h-1zM253.5 621h1v1h-1zM229.5 611h1v1h-1zM246.5 630.5h1v1h-1zM224 636h1v1h-1zM250.5 610.5h1v1h-1zM222.5 617h1v1h-1zM245.5 627h1v1h-1zM241.5 631h1v1h-1zM242.5 633h1v1h-1zM232 636h1v1h-1zM223.5 614h1v1h-1zM238.5 634.5h1v1h-1zM251 614h1v1h-1zM224.5 613h1v1h-1zM225 631.5h1v1h-1zM251 613h1v1h-1zM227.5 637h1v1h-1zM225 636h1v1h-1zM253 618h1v1h-1zM250 613.5h1v1h-1zM244.5 631.5h1v1h-1zM250.5 613.5h1v1h-1zM224 633.5h1v1h-1zM234 609h1v1h-1zM233 634h1v1h-1zM228 611.5h1v1h-1zM224 631h1v1h-1zM223.5 619h1v1h-1zM224 632.5h1v1h-1zM225.5 613h1v1h-1zM234 609.5h1v1h-1zM252 620h1v1h-1zM229 638h1v1h-1zM238 635.5h1v1h-1zM242 609.5h1v1h-1zM232.5 636.5h1v1h-1zM242 609h1v1h-1zM250 624.5h1v1h-1zM222 622h1v1h-1zM231 638h1v1h-1zM247.5 627.5h1v1h-1zM253 618.5h1v1h-1zM251 615.5h1v1h-1zM246 609.5h1v1h-1zM235.5 608.5h1v1h-1zM239 632.5h1v1h-1zM236.5 632.5h1v1h-1zM229 638.5h1v1h-1zM229 638h1v1h-1zM250.5 625.5h1v1h-1zM242 611h1v1h-1zM246.5 609.5h1v1h-1zM225 629h1v1h-1zM234 609h1v1h-1zM242.5 629h1v1h-1zM226 626.5h1v1h-1zM223.5 615h1v1h-1zM241 631.5h1v1h-1zM226 611h1v1h-1zM253 615.5h1v1h-1zM224.5 625h1v1h-1zM233 635h1v1h-1zM241 630.5h1v1h-1zM246.5 628h1v1h-1zM230.5 610h1v1h-1zM224.5 627.5h1v1h-1zM233 610h1v1h-1zM224 626.5h1v1h-1zM228 638h1v1h-1zM234.5 632h1v1h-1zM248.5 624h1v1h-1zM223 619.5h1v1h-1zM226 613.5h1v1h-1zM232.5 633h1v1h-1zM245.5 628.5h1v1h-1zM250.5 615h1v1h-1zM243.5 610h1v1h-1zM223 627.5h1v1h-1zM250.5 624h1v1h-1zM233.5 637h1v1h-1z"/><path fill="#de2a2a" d="M230.5 638h1v1h-1zM237.5 609h1v1h-1zM232.5 637h1v1h-1zM224 631.5h1v1h-1zM244.5 626.5h1v1h-1zM248 612.5h1v1h-1zM225 632h1v1h-1zM242.5 609h1v1h-1zM223.5 619h1v1h-1zM229 638.5h1v1h-1zM242.5 631h1v1h-1zM235 610.5h1v1h-1zM224 634h1v1h-1zM230.5 609.5h1v1h-1zM222.5 624h1v1h-1zM223.5 620h1v1h-1zM223 622.5h1v1h-1zM250 613.5h1v1h-1zM243 631h1v1h-1zM225 614.5h1v1h-1zM245.5 610.5h1v1h-1zM246.5 610h1v1h-1zM229 638.5h1v1h-1zM252.5 617.5h1v1h-1zM225 632h1v1h-1zM233 636.5h1v1h-1zM225.5 629h1v1h-1zM250.5 614.5h1v1h-1zM242.5 633h1v1h-1zM243 609.5h1v1h-1zM243.5 609.5h1v1h-1zM239 634h1v1h-1zM229 609.5h1v1h-1zM223.5 620h1v1h-1zM224 615h1v1h-1zM224 627.5h1v1h-1z"/><path fill="#57cfd2" d="M252.5 615.5h1v1h-1zM224 633h1v1h-1zM239.5 631.5h1v1h-1zM247.5 627h1v1h-1zM229.5 636.5h1v1h-1zM224.5 629h1v1h-1zM241 631.5h1v1h-1zM222.5 622.5h1v1h-1zM246.5 609.5h1v1h-1zM242 609.5h1v1h-1zM233 610h1v1h-1zM241 631.5h1v1h-1zM224 631h1v1h-1zM231 638h1v1h-1zM223.5 628.5h1v1h-1zM226 638.5h1v1h-1zM226.5 613h1v1h-1zM254 624h1v1h-1zM237.5 609.5h1v1h-1zM243 629.5h1v1h-1zM235.5 635.5h1v1h-1zM253.5 616h1v1h-1zM233.5 632h1v1h-1zM251 624.5h1v1h-1zM244 631h1v1h-1zM249 611h1v1h-1zM224.5 628.5h1v1h-1zM226.5 611.5h1v1h-1zM228 638.5h1v1h-1zM252 622h1v1h-1zM224 621.5h1v1h-1z"/><path d="M225 613.5C226.03 611.28 228.4 611 230.7 610.4C233 609.8 235.92 609.8 238.8 609.9C241.68 610 245.7 610.07 248 611C250.3 611.93 251.75 613.88 252.6 615.5C253.45 617.12 253.52 618.98 253.1 620.7C252.68 622.42 251.63 624.1 250.1 625.8C248.57 627.5 245.78 629.55 243.9 630.9C242.02 632.25 241 632.72 238.8 633.9C236.6 635.08 232.82 637.23 230.7 638C228.58 638.77 227.05 639.35 226.1 638.5C225.15 637.65 225.27 635.37 225 632.9C224.73 630.43 224.5 626.93 224.5 623.7C224.5 620.47 223.97 615.72 225 613.5Z" fill="#9266b8" filter="url(#cPurUR)"/><path fill="#57cfd2" d="M214.5 633h1v1h-1zM220 650.5h1v1h-1zM209.5 628.5h1v1h-1zM208.5 638.5h1v1h-1zM215 638h1v1h-1zM212.5 629h1v1h-1zM216 636.5h1v1h-1zM212.5 646h1v1h-1zM205.5 634h1v1h-1zM209 631.5h1v1h-1zM208.5 627.5h1v1h-1zM217 646.5h1v1h-1zM204.5 632h1v1h-1zM211 637.5h1v1h-1zM217 638.5h1v1h-1zM213.5 632h1v1h-1zM216.5 638h1v1h-1zM218 645h1v1h-1zM211.5 631.5h1v1h-1zM207.5 620h1v1h-1zM203.5 634h1v1h-1zM211 635h1v1h-1zM209.5 637.5h1v1h-1zM209 632h1v1h-1zM218 637.5h1v1h-1zM206.5 635h1v1h-1zM207 637h1v1h-1zM208 635h1v1h-1zM206 646.5h1v1h-1zM213 632.5h1v1h-1zM212 642h1v1h-1zM203.5 635.5h1v1h-1zM214.5 630.5h1v1h-1zM216 643h1v1h-1zM211 630h1v1h-1zM212 633h1v1h-1zM210 634h1v1h-1zM201 639h1v1h-1zM214 643h1v1h-1zM212.5 638h1v1h-1zM201 636.5h1v1h-1zM211.5 637h1v1h-1zM210.5 637.5h1v1h-1zM211.5 634h1v1h-1zM204 637h1v1h-1zM215.5 645h1v1h-1zM210 637h1v1h-1zM213 633h1v1h-1zM213.5 644.5h1v1h-1zM214 625.5h1v1h-1zM215.5 634h1v1h-1zM210.5 632.5h1v1h-1zM217 637.5h1v1h-1zM209 638.5h1v1h-1zM210.5 641h1v1h-1zM213 634.5h1v1h-1zM202.5 641h1v1h-1zM205 640.5h1v1h-1zM212.5 630.5h1v1h-1zM213 625.5h1v1h-1zM212.5 641.5h1v1h-1zM215.5 645.5h1v1h-1zM205.5 644h1v1h-1zM213 631.5h1v1h-1zM212.5 638h1v1h-1zM217 640h1v1h-1zM212 637h1v1h-1zM212 651.5h1v1h-1zM210.5 644.5h1v1h-1zM214.5 637.5h1v1h-1zM212 640h1v1h-1zM212 617.5h1v1h-1zM213.5 627.5h1v1h-1zM212.5 633.5h1v1h-1zM214 630.5h1v1h-1zM214 640.5h1v1h-1zM211.5 633.5h1v1h-1zM214 634h1v1h-1zM215.5 632.5h1v1h-1zM207.5 638h1v1h-1zM207.5 637h1v1h-1zM212 627h1v1h-1zM210.5 630h1v1h-1zM209 641h1v1h-1zM219 634.5h1v1h-1zM213.5 638h1v1h-1zM215.5 633h1v1h-1zM209 630h1v1h-1zM207 644h1v1h-1zM206.5 635.5h1v1h-1zM214 644h1v1h-1zM206.5 642h1v1h-1zM205 641h1v1h-1zM204.5 627.5h1v1h-1zM206 636.5h1v1h-1zM213 640h1v1h-1zM211.5 633h1v1h-1zM208 636h1v1h-1zM215 636h1v1h-1zM212.5 629.5h1v1h-1zM210.5 644h1v1h-1zM211 633.5h1v1h-1zM213.5 624h1v1h-1zM209.5 638h1v1h-1zM211.5 642.5h1v1h-1zM217 636.5h1v1h-1zM212 636.5h1v1h-1zM207.5 637.5h1v1h-1zM217 639h1v1h-1zM214.5 634.5h1v1h-1zM216 629.5h1v1h-1zM205.5 628h1v1h-1zM210 639.5h1v1h-1zM206.5 637h1v1h-1zM213.5 628h1v1h-1zM209 642h1v1h-1zM213.5 640.5h1v1h-1zM211.5 632h1v1h-1zM208.5 636h1v1h-1zM213 636h1v1h-1zM210 645h1v1h-1zM208 640h1v1h-1zM214.5 629h1v1h-1zM202.5 625h1v1h-1zM214.5 643h1v1h-1zM203 634h1v1h-1zM209.5 626.5h1v1h-1zM215.5 647h1v1h-1zM211.5 629.5h1v1h-1zM210.5 626h1v1h-1zM214 625h1v1h-1zM215.5 639h1v1h-1zM207 628h1v1h-1zM206 630.5h1v1h-1zM213 640.5h1v1h-1zM210.5 638h1v1h-1zM217 640h1v1h-1zM214.5 638h1v1h-1zM207.5 634.5h1v1h-1zM210 631.5h1v1h-1zM215 643h1v1h-1zM211.5 628h1v1h-1zM206 634h1v1h-1zM212 638.5h1v1h-1zM208 640h1v1h-1zM208 634h1v1h-1zM217 631h1v1h-1zM217.5 639.5h1v1h-1zM210 632h1v1h-1zM218.5 636h1v1h-1zM219.5 635h1v1h-1zM209.5 622.5h1v1h-1zM214 644.5h1v1h-1zM216 636.5h1v1h-1zM209.5 623h1v1h-1zM213.5 638.5h1v1h-1zM212 644h1v1h-1zM211.5 634h1v1h-1zM208.5 640.5h1v1h-1zM211.5 631h1v1h-1zM208 637.5h1v1h-1zM216 634.5h1v1h-1zM216.5 635h1v1h-1zM215.5 635.5h1v1h-1zM209.5 641h1v1h-1zM214 627.5h1v1h-1zM214 638h1v1h-1zM213 635.5h1v1h-1zM212 633.5h1v1h-1zM210.5 646.5h1v1h-1zM212 635h1v1h-1zM212.5 630h1v1h-1zM215.5 629h1v1h-1zM208 645.5h1v1h-1zM215 637h1v1h-1zM206.5 649.5h1v1h-1zM205 634h1v1h-1zM206.5 630h1v1h-1zM208 632h1v1h-1zM213.5 633h1v1h-1zM206 643h1v1h-1zM212.5 637h1v1h-1zM210 633h1v1h-1zM215.5 638.5h1v1h-1zM213 637h1v1h-1zM216.5 624.5h1v1h-1zM216.5 632h1v1h-1zM215 636h1v1h-1zM211.5 629h1v1h-1zM206 636h1v1h-1zM220.5 631.5h1v1h-1zM216 633.5h1v1h-1zM214 641.5h1v1h-1zM208 633.5h1v1h-1zM210.5 636h1v1h-1zM212.5 631.5h1v1h-1zM211.5 633h1v1h-1zM206.5 632h1v1h-1zM217 638.5h1v1h-1zM215.5 637.5h1v1h-1zM210.5 617h1v1h-1zM216.5 642h1v1h-1zM213 631h1v1h-1zM216 636h1v1h-1zM216 636.5h1v1h-1zM210.5 636h1v1h-1zM210 635.5h1v1h-1zM210 633h1v1h-1zM210 638.5h1v1h-1zM215.5 646.5h1v1h-1zM208 637.5h1v1h-1zM213 633h1v1h-1zM211.5 639h1v1h-1zM214 640.5h1v1h-1zM208.5 636h1v1h-1zM207.5 638.5h1v1h-1zM215.5 628h1v1h-1zM211.5 639h1v1h-1zM208.5 646.5h1v1h-1zM212.5 632h1v1h-1zM207 632.5h1v1h-1zM210.5 640h1v1h-1zM204.5 636.5h1v1h-1zM223.5 641h1v1h-1zM215 622h1v1h-1zM217 630h1v1h-1zM208.5 639.5h1v1h-1zM212 628.5h1v1h-1zM215 621.5h1v1h-1zM212.5 631.5h1v1h-1zM211 631h1v1h-1zM207.5 635h1v1h-1zM207.5 625h1v1h-1zM212 636.5h1v1h-1zM211.5 634h1v1h-1zM202.5 631.5h1v1h-1zM215 636.5h1v1h-1zM215 634h1v1h-1zM208.5 639h1v1h-1zM218 635h1v1h-1zM210.5 637.5h1v1h-1zM207.5 637.5h1v1h-1zM206 632.5h1v1h-1zM213 623h1v1h-1zM214 637h1v1h-1zM210 636.5h1v1h-1zM205 639h1v1h-1zM205.5 646h1v1h-1zM211 628.5h1v1h-1zM214 639h1v1h-1zM205 637h1v1h-1zM209.5 630.5h1v1h-1zM210.5 637h1v1h-1zM216 631.5h1v1h-1zM209 637h1v1h-1zM208 636.5h1v1h-1zM215.5 638h1v1h-1zM212 644.5h1v1h-1zM207.5 625h1v1h-1zM214 652h1v1h-1zM209.5 625.5h1v1h-1zM216 627h1v1h-1zM213.5 632.5h1v1h-1zM204.5 629h1v1h-1zM208 626.5h1v1h-1zM216 632.5h1v1h-1zM221.5 631h1v1h-1zM204.5 641h1v1h-1zM208.5 635h1v1h-1zM207 627.5h1v1h-1zM216.5 628h1v1h-1zM207 631.5h1v1h-1zM209.5 646h1v1h-1zM217 640.5h1v1h-1zM207 638h1v1h-1zM212.5 636.5h1v1h-1zM213 645.5h1v1h-1zM211 625h1v1h-1zM208 638.5h1v1h-1zM204 636h1v1h-1zM209.5 642h1v1h-1zM213 632h1v1h-1zM220.5 636.5h1v1h-1zM214 642h1v1h-1zM220 632h1v1h-1zM214.5 637.5h1v1h-1zM209 639.5h1v1h-1zM213 638.5h1v1h-1zM217.5 639h1v1h-1zM209.5 637.5h1v1h-1zM211.5 638h1v1h-1zM208 630h1v1h-1zM212 633.5h1v1h-1zM216 632.5h1v1h-1zM216 632h1v1h-1zM209 632.5h1v1h-1zM212 638.5h1v1h-1zM211 628.5h1v1h-1zM216 635.5h1v1h-1zM206 625.5h1v1h-1zM210 641.5h1v1h-1zM211 631.5h1v1h-1zM213.5 639.5h1v1h-1zM206.5 637h1v1h-1zM212 632.5h1v1h-1zM211 626h1v1h-1zM215.5 642.5h1v1h-1zM221 625.5h1v1h-1zM215.5 643.5h1v1h-1zM213.5 636.5h1v1h-1zM211.5 652h1v1h-1zM209 635h1v1h-1zM211 632.5h1v1h-1zM213 626.5h1v1h-1zM212 648.5h1v1h-1zM216.5 637h1v1h-1zM212.5 634.5h1v1h-1zM210 624.5h1v1h-1zM208.5 631.5h1v1h-1zM211 635h1v1h-1zM213 628.5h1v1h-1zM215.5 637.5h1v1h-1zM213.5 639h1v1h-1zM210 633.5h1v1h-1zM202 642h1v1h-1zM212.5 643.5h1v1h-1zM207.5 638h1v1h-1zM214 639.5h1v1h-1zM210 638.5h1v1h-1zM203 630h1v1h-1zM212.5 624.5h1v1h-1zM210.5 629.5h1v1h-1zM211 636h1v1h-1zM215 621.5h1v1h-1zM204.5 642.5h1v1h-1z"/><path fill="#de2a2a" d="M202.5 637h1v1h-1zM210 626h1v1h-1zM207.5 634.5h1v1h-1zM214 642.5h1v1h-1zM208.5 634h1v1h-1zM214.5 631h1v1h-1zM216.5 640.5h1v1h-1zM216.5 638h1v1h-1zM212.5 641h1v1h-1zM223.5 637.5h1v1h-1zM215.5 635h1v1h-1zM218.5 636.5h1v1h-1zM211.5 637h1v1h-1zM206 635.5h1v1h-1zM214 651.5h1v1h-1zM204.5 628h1v1h-1zM214.5 633.5h1v1h-1zM210.5 630.5h1v1h-1zM210 639h1v1h-1zM220.5 643h1v1h-1zM209 646.5h1v1h-1zM212 625.5h1v1h-1zM212 644.5h1v1h-1zM218 626.5h1v1h-1zM209 645.5h1v1h-1zM214.5 639.5h1v1h-1zM215.5 637.5h1v1h-1zM215 633h1v1h-1z"/><path fill="#4cae4e" d="M217 643h1v1h-1zM212.5 632.5h1v1h-1zM217.5 621h1v1h-1zM214 638.5h1v1h-1zM217 639.5h1v1h-1zM212.5 628h1v1h-1zM204.5 634h1v1h-1zM202 654h1v1h-1zM209.5 634h1v1h-1zM212 640h1v1h-1zM212.5 632h1v1h-1zM209.5 634h1v1h-1zM209 636h1v1h-1zM209.5 641.5h1v1h-1zM213 632h1v1h-1zM215 638.5h1v1h-1zM204.5 633.5h1v1h-1zM208.5 635h1v1h-1zM211.5 640.5h1v1h-1zM218.5 637h1v1h-1zM208.5 646h1v1h-1zM213 639.5h1v1h-1zM213.5 640h1v1h-1zM210 634h1v1h-1zM215 637.5h1v1h-1zM208 641.5h1v1h-1zM216.5 652h1v1h-1zM214 641h1v1h-1z"/><path fill="#9266b8" d="M215 636.5h1v1h-1zM213 630.5h1v1h-1zM218 644h1v1h-1zM215 630.5h1v1h-1zM212.5 629h1v1h-1zM208 644h1v1h-1zM219 636h1v1h-1zM208 636h1v1h-1zM209 632h1v1h-1zM212 639.5h1v1h-1zM211.5 640.5h1v1h-1zM206.5 627h1v1h-1zM212.5 630h1v1h-1zM207.5 633h1v1h-1zM210 634.5h1v1h-1zM212 629.5h1v1h-1zM214.5 633.5h1v1h-1zM212.5 630.5h1v1h-1zM210.5 645.5h1v1h-1zM216 633h1v1h-1zM210.5 637h1v1h-1zM209.5 625.5h1v1h-1zM209.5 646h1v1h-1zM210.5 634.5h1v1h-1zM213.5 624.5h1v1h-1zM209 644h1v1h-1zM211 628.5h1v1h-1zM214.5 640.5h1v1h-1zM213.5 643h1v1h-1z"/><path fill="#8b564d" d="M216.5 675h1v1h-1zM228.5 673.5h1v1h-1zM210 683.5h1v1h-1zM198.5 694.5h1v1h-1zM207.5 701h1v1h-1zM200 700.5h1v1h-1zM207.5 684.5h1v1h-1zM224 704h1v1h-1zM226.5 673.5h1v1h-1zM202 691.5h1v1h-1zM238 684h1v1h-1zM211.5 702.5h1v1h-1zM211.5 677.5h1v1h-1zM228 704.5h1v1h-1zM236 685.5h1v1h-1zM219.5 676.5h1v1h-1zM238 689h1v1h-1zM232 676.5h1v1h-1zM232 699.5h1v1h-1zM196.5 695h1v1h-1zM236 691h1v1h-1zM203.5 688h1v1h-1zM234 699h1v1h-1zM215.5 675.5h1v1h-1zM230.5 676.5h1v1h-1zM238.5 684.5h1v1h-1zM237 679h1v1h-1zM237.5 679h1v1h-1zM208.5 685.5h1v1h-1zM231.5 704.5h1v1h-1zM222 706.5h1v1h-1zM223.5 673.5h1v1h-1zM196.5 696.5h1v1h-1zM213.5 678h1v1h-1zM223 673h1v1h-1zM238 687.5h1v1h-1zM223 675.5h1v1h-1zM201 700h1v1h-1zM234.5 689.5h1v1h-1zM206 700h1v1h-1zM212.5 677.5h1v1h-1zM211.5 701.5h1v1h-1zM238.5 692.5h1v1h-1zM214.5 704h1v1h-1zM235 681h1v1h-1zM210 682h1v1h-1zM237 693.5h1v1h-1zM203.5 701h1v1h-1zM201.5 698h1v1h-1zM239 691h1v1h-1zM202 694h1v1h-1zM203 698h1v1h-1zM235.5 679h1v1h-1zM198 693.5h1v1h-1zM213 704h1v1h-1zM208 702.5h1v1h-1zM237 691h1v1h-1zM211.5 679h1v1h-1zM203 690.5h1v1h-1zM223.5 704.5h1v1h-1zM227.5 674h1v1h-1zM204 690h1v1h-1zM218 705h1v1h-1zM235 697.5h1v1h-1zM238 697h1v1h-1zM237.5 696.5h1v1h-1zM225.5 705.5h1v1h-1zM208 680h1v1h-1zM235.5 678.5h1v1h-1zM232.5 699.5h1v1h-1zM224 704.5h1v1h-1zM199 694.5h1v1h-1zM212 704.5h1v1h-1zM201 695h1v1h-1zM234 694h1v1h-1zM235.5 698h1v1h-1zM235.5 679.5h1v1h-1zM213.5 679.5h1v1h-1zM198.5 693.5h1v1h-1zM227.5 672.5h1v1h-1zM221 675h1v1h-1zM236 696h1v1h-1zM224.5 705.5h1v1h-1zM206.5 688h1v1h-1zM230 677h1v1h-1zM218 705.5h1v1h-1zM211 681.5h1v1h-1zM216.5 675h1v1h-1zM198.5 698h1v1h-1zM232.5 676.5h1v1h-1zM223 703.5h1v1h-1zM213.5 704.5h1v1h-1zM237 695.5h1v1h-1zM206.5 684.5h1v1h-1zM208 700h1v1h-1zM206 683h1v1h-1zM213 677.5h1v1h-1zM231 675h1v1h-1zM208 704h1v1h-1zM232 699.5h1v1h-1zM236.5 679.5h1v1h-1zM237 684.5h1v1h-1zM237.5 684.5h1v1h-1zM218 703.5h1v1h-1zM235.5 681.5h1v1h-1zM218 705.5h1v1h-1zM214.5 705.5h1v1h-1zM208 682h1v1h-1zM222.5 671h1v1h-1zM195 695.5h1v1h-1zM227 673.5h1v1h-1zM232 678h1v1h-1zM235.5 696.5h1v1h-1zM237.5 685h1v1h-1zM239.5 692h1v1h-1zM207 684h1v1h-1zM235.5 680.5h1v1h-1z"/><path fill="#57cfd2" d="M197.5 694h1v1h-1zM236.5 682.5h1v1h-1zM235 699h1v1h-1zM236.5 682h1v1h-1zM236.5 685h1v1h-1zM211.5 678h1v1h-1zM201.5 692h1v1h-1zM204 702h1v1h-1zM197.5 694.5h1v1h-1zM205.5 689h1v1h-1zM221 705h1v1h-1zM205 688h1v1h-1zM212.5 702h1v1h-1zM201.5 692.5h1v1h-1zM235 701.5h1v1h-1zM234 701.5h1v1h-1zM237.5 689.5h1v1h-1zM231.5 701.5h1v1h-1zM224.5 674.5h1v1h-1zM227.5 674h1v1h-1zM230.5 702.5h1v1h-1zM198 693.5h1v1h-1zM214.5 678.5h1v1h-1zM202.5 691.5h1v1h-1zM211 679h1v1h-1zM206.5 681.5h1v1h-1zM228 673h1v1h-1zM206.5 685h1v1h-1zM204 701h1v1h-1zM238 696.5h1v1h-1zM225.5 704h1v1h-1zM231.5 676.5h1v1h-1zM238 688.5h1v1h-1zM221 704.5h1v1h-1zM199 696h1v1h-1zM222 675h1v1h-1zM196.5 696h1v1h-1zM198.5 695.5h1v1h-1zM237 685.5h1v1h-1zM196 698h1v1h-1zM209 680.5h1v1h-1z"/><path fill="#de2a2a" d="M223.5 673.5h1v1h-1zM214.5 704h1v1h-1zM208.5 702h1v1h-1zM237.5 683.5h1v1h-1zM221.5 672h1v1h-1zM215 675h1v1h-1zM223 705.5h1v1h-1zM201.5 690h1v1h-1zM201 693h1v1h-1zM234.5 680h1v1h-1zM220 675h1v1h-1zM201 690.5h1v1h-1zM235 690h1v1h-1zM195.5 695.5h1v1h-1zM202.5 689h1v1h-1zM218.5 675.5h1v1h-1zM236 695h1v1h-1zM215 705h1v1h-1zM215.5 704.5h1v1h-1zM208 681.5h1v1h-1zM210 702.5h1v1h-1zM205.5 685.5h1v1h-1zM234.5 702h1v1h-1zM221.5 676h1v1h-1zM232 677h1v1h-1zM202.5 699.5h1v1h-1zM218.5 676.5h1v1h-1zM197.5 699h1v1h-1zM205.5 700.5h1v1h-1zM236 687h1v1h-1zM202.5 690.5h1v1h-1zM204 690h1v1h-1zM210.5 703.5h1v1h-1zM233.5 679h1v1h-1zM233 702.5h1v1h-1zM234.5 681h1v1h-1zM214.5 675h1v1h-1zM212 675.5h1v1h-1zM237.5 690h1v1h-1zM237 695h1v1h-1zM209.5 682h1v1h-1zM206.5 686h1v1h-1z"/><path d="M195.9 696.5C196.33 695.32 201 694 202.9 692.1C204.8 690.2 205.7 687.43 207.3 685.1C208.9 682.77 210.47 679.85 212.5 678.1C214.53 676.35 217.17 675.32 219.5 674.6C221.83 673.88 224.17 673.5 226.5 673.8C228.83 674.1 231.75 675.1 233.5 676.4C235.25 677.7 236.27 679.42 237 681.6C237.73 683.78 238.03 686.72 237.9 689.5C237.77 692.28 237.22 695.97 236.2 698.3C235.18 700.63 233.7 702.27 231.8 703.5C229.9 704.73 227.43 705.48 224.8 705.7C222.17 705.92 218.92 705.45 216 704.8C213.08 704.15 209.92 702.73 207.3 701.8C204.68 700.87 202.2 700.08 200.3 699.2C198.4 698.32 195.47 697.68 195.9 696.5Z" fill="#8b564d" filter="url(#cBrown)"/></g>
<g transform="matrix(1 0 0 1 354.99 0.43)"><g clip-path="url(#clipCL)"><path fill="#e3d95a" d="M133.5 632h0.9v0.9h-0.9zM147.5 658.5h0.9v0.9h-0.9zM163.5 603h0.9v0.9h-0.9zM192 675h0.9v0.9h-0.9zM151.5 639h0.9v0.9h-0.9zM163.5 633.5h0.9v0.9h-0.9zM244 536.5h0.9v0.9h-0.9zM193.5 648h0.9v0.9h-0.9zM208.5 637h0.9v0.9h-0.9zM152 640h0.9v0.9h-0.9zM151 645.5h0.9v0.9h-0.9zM232.5 606h0.9v0.9h-0.9zM165.5 606h0.9v0.9h-0.9zM193 594.5h0.9v0.9h-0.9zM140 631.5h0.9v0.9h-0.9zM196 649.5h0.9v0.9h-0.9zM208.5 653h0.9v0.9h-0.9zM154.5 641.5h0.9v0.9h-0.9zM193.5 641.5h0.9v0.9h-0.9zM179 634h0.9v0.9h-0.9zM158 623h0.9v0.9h-0.9zM138.5 634.5h0.9v0.9h-0.9zM218 623.5h0.9v0.9h-0.9zM139.5 561h0.9v0.9h-0.9zM202.5 618h0.9v0.9h-0.9zM105 626.5h0.9v0.9h-0.9zM160 684h0.9v0.9h-0.9zM138.5 628.5h0.9v0.9h-0.9zM184.5 597.5h0.9v0.9h-0.9zM116 599.5h0.9v0.9h-0.9zM123 625.5h0.9v0.9h-0.9zM146.5 635.5h0.9v0.9h-0.9zM127 604.5h0.9v0.9h-0.9zM210 630.5h0.9v0.9h-0.9zM187.5 591h0.9v0.9h-0.9zM134.5 605h0.9v0.9h-0.9zM178 624h0.9v0.9h-0.9zM162 646.5h0.9v0.9h-0.9zM105.5 612.5h0.9v0.9h-0.9zM203 615.5h0.9v0.9h-0.9zM199.5 614h0.9v0.9h-0.9zM231 639.5h0.9v0.9h-0.9zM188.5 615.5h0.9v0.9h-0.9zM211.5 616h0.9v0.9h-0.9zM111.5 594h0.9v0.9h-0.9zM184.5 630h0.9v0.9h-0.9zM193 637h0.9v0.9h-0.9zM184.5 593.5h0.9v0.9h-0.9zM209 600.5h0.9v0.9h-0.9zM143.5 565.5h0.9v0.9h-0.9zM189 598.5h0.9v0.9h-0.9zM199.5 665h0.9v0.9h-0.9zM200.5 642.5h0.9v0.9h-0.9zM170.5 623h0.9v0.9h-0.9zM144 626.5h0.9v0.9h-0.9zM155 580.5h0.9v0.9h-0.9zM209 651h0.9v0.9h-0.9zM161.5 643h0.9v0.9h-0.9zM165.5 708h0.9v0.9h-0.9zM225.5 597h0.9v0.9h-0.9zM49.5 662.5h0.9v0.9h-0.9zM192 629h0.9v0.9h-0.9zM177.5 641h0.9v0.9h-0.9zM180.5 686h0.9v0.9h-0.9zM125 653h0.9v0.9h-0.9zM173 654h0.9v0.9h-0.9zM137.5 651h0.9v0.9h-0.9zM138 587.5h0.9v0.9h-0.9zM240 592.5h0.9v0.9h-0.9zM138.5 652.5h0.9v0.9h-0.9zM188.5 617h0.9v0.9h-0.9zM194.5 698h0.9v0.9h-0.9zM195 629h0.9v0.9h-0.9zM208.5 708h0.9v0.9h-0.9zM197 671h0.9v0.9h-0.9zM194.5 662.5h0.9v0.9h-0.9zM132 630h0.9v0.9h-0.9zM165.5 634.5h0.9v0.9h-0.9zM164 598h0.9v0.9h-0.9zM212.5 661.5h0.9v0.9h-0.9zM208.5 615.5h0.9v0.9h-0.9zM101 599.5h0.9v0.9h-0.9zM120.5 625h0.9v0.9h-0.9zM160.5 630.5h0.9v0.9h-0.9zM148 690h0.9v0.9h-0.9zM114.5 591.5h0.9v0.9h-0.9zM151.5 644.5h0.9v0.9h-0.9zM190.5 670h0.9v0.9h-0.9zM126 636.5h0.9v0.9h-0.9zM144.5 574.5h0.9v0.9h-0.9zM221 663.5h0.9v0.9h-0.9zM174.5 663.5h0.9v0.9h-0.9zM53.5 649.5h0.9v0.9h-0.9zM178 618h0.9v0.9h-0.9zM202 653h0.9v0.9h-0.9zM181.5 624h0.9v0.9h-0.9zM233 624h0.9v0.9h-0.9zM175 576h0.9v0.9h-0.9zM192 582h0.9v0.9h-0.9zM178.5 651.5h0.9v0.9h-0.9zM190 616h0.9v0.9h-0.9zM173 615.5h0.9v0.9h-0.9zM181.5 611h0.9v0.9h-0.9zM206 707.5h0.9v0.9h-0.9zM163.5 639.5h0.9v0.9h-0.9zM161.5 607h0.9v0.9h-0.9zM150.5 572.5h0.9v0.9h-0.9zM176.5 554.5h0.9v0.9h-0.9zM100 679.5h0.9v0.9h-0.9zM150 687.5h0.9v0.9h-0.9zM156 622.5h0.9v0.9h-0.9zM236 652h0.9v0.9h-0.9zM138 693h0.9v0.9h-0.9zM158 623.5h0.9v0.9h-0.9zM127.5 612.5h0.9v0.9h-0.9zM179.5 633h0.9v0.9h-0.9zM157 566h0.9v0.9h-0.9zM102 639h0.9v0.9h-0.9zM178 616.5h0.9v0.9h-0.9zM163.5 657h0.9v0.9h-0.9zM131 630h0.9v0.9h-0.9zM163.5 617h0.9v0.9h-0.9zM172.5 668.5h0.9v0.9h-0.9zM182.5 689h0.9v0.9h-0.9zM132 616.5h0.9v0.9h-0.9zM151 588.5h0.9v0.9h-0.9zM186.5 594h0.9v0.9h-0.9zM138.5 587.5h0.9v0.9h-0.9zM196 597.5h0.9v0.9h-0.9zM255.5 609h0.9v0.9h-0.9zM238 596.5h0.9v0.9h-0.9zM209 631h0.9v0.9h-0.9zM184.5 651h0.9v0.9h-0.9zM159 674h0.9v0.9h-0.9zM106.5 614.5h0.9v0.9h-0.9zM231.5 684h0.9v0.9h-0.9zM195.5 661.5h0.9v0.9h-0.9zM227 624h0.9v0.9h-0.9zM192 582h0.9v0.9h-0.9zM142 620.5h0.9v0.9h-0.9zM121 639.5h0.9v0.9h-0.9z"/><path fill="#c67a7c" d="M121.5 631h0.9v0.9h-0.9zM154 655h0.9v0.9h-0.9zM157 646.5h0.9v0.9h-0.9zM211 599.5h0.9v0.9h-0.9zM200 626h0.9v0.9h-0.9zM122.5 593h0.9v0.9h-0.9zM177.5 673h0.9v0.9h-0.9zM211.5 658.5h0.9v0.9h-0.9zM142 606h0.9v0.9h-0.9zM185.5 620h0.9v0.9h-0.9zM98 649.5h0.9v0.9h-0.9zM175.5 611h0.9v0.9h-0.9zM239.5 581.5h0.9v0.9h-0.9zM86.5 645h0.9v0.9h-0.9zM179.5 579h0.9v0.9h-0.9zM135 626.5h0.9v0.9h-0.9zM173.5 645.5h0.9v0.9h-0.9zM104.5 650h0.9v0.9h-0.9zM199 601.5h0.9v0.9h-0.9zM193 589h0.9v0.9h-0.9zM151.5 603h0.9v0.9h-0.9zM147.5 634.5h0.9v0.9h-0.9zM233 646.5h0.9v0.9h-0.9zM120.5 592h0.9v0.9h-0.9zM141 608.5h0.9v0.9h-0.9zM128 697h0.9v0.9h-0.9zM157.5 619.5h0.9v0.9h-0.9zM201.5 623.5h0.9v0.9h-0.9zM256.5 628.5h0.9v0.9h-0.9zM160.5 627.5h0.9v0.9h-0.9zM203.5 662h0.9v0.9h-0.9zM146.5 629h0.9v0.9h-0.9zM190 642.5h0.9v0.9h-0.9zM122 596.5h0.9v0.9h-0.9zM150 611h0.9v0.9h-0.9zM167 644h0.9v0.9h-0.9zM167.5 659.5h0.9v0.9h-0.9zM117.5 633.5h0.9v0.9h-0.9zM121 582.5h0.9v0.9h-0.9zM124 622.5h0.9v0.9h-0.9zM171 607.5h0.9v0.9h-0.9zM129 635.5h0.9v0.9h-0.9zM81.5 657.5h0.9v0.9h-0.9zM161.5 618.5h0.9v0.9h-0.9zM127.5 640.5h0.9v0.9h-0.9zM144 617.5h0.9v0.9h-0.9zM116 654h0.9v0.9h-0.9zM170 613h0.9v0.9h-0.9zM175.5 644h0.9v0.9h-0.9zM162 632h0.9v0.9h-0.9zM191.5 624h0.9v0.9h-0.9zM172 605.5h0.9v0.9h-0.9zM183.5 604.5h0.9v0.9h-0.9zM171.5 638.5h0.9v0.9h-0.9zM168 634.5h0.9v0.9h-0.9zM164 631h0.9v0.9h-0.9zM118 701h0.9v0.9h-0.9zM180 633h0.9v0.9h-0.9zM119.5 590.5h0.9v0.9h-0.9zM137 652h0.9v0.9h-0.9zM146 670h0.9v0.9h-0.9zM190.5 618h0.9v0.9h-0.9zM197 621.5h0.9v0.9h-0.9zM171 630h0.9v0.9h-0.9zM203.5 589h0.9v0.9h-0.9zM156 651h0.9v0.9h-0.9zM218.5 614h0.9v0.9h-0.9zM168 668h0.9v0.9h-0.9zM164.5 596.5h0.9v0.9h-0.9zM171 662h0.9v0.9h-0.9zM173 661.5h0.9v0.9h-0.9zM245.5 620.5h0.9v0.9h-0.9zM103 666.5h0.9v0.9h-0.9zM191.5 637.5h0.9v0.9h-0.9zM140.5 644h0.9v0.9h-0.9zM146 623h0.9v0.9h-0.9zM184.5 607h0.9v0.9h-0.9zM116.5 653h0.9v0.9h-0.9zM176 608h0.9v0.9h-0.9zM142 622.5h0.9v0.9h-0.9zM96 603h0.9v0.9h-0.9zM113.5 639.5h0.9v0.9h-0.9zM156 623h0.9v0.9h-0.9zM204.5 653h0.9v0.9h-0.9zM115.5 603h0.9v0.9h-0.9zM124.5 627.5h0.9v0.9h-0.9zM146.5 566.5h0.9v0.9h-0.9zM124 655.5h0.9v0.9h-0.9zM142 613.5h0.9v0.9h-0.9zM144.5 625h0.9v0.9h-0.9zM168 597h0.9v0.9h-0.9zM167 592.5h0.9v0.9h-0.9zM152.5 635h0.9v0.9h-0.9zM218.5 559h0.9v0.9h-0.9zM125 638h0.9v0.9h-0.9zM143.5 652.5h0.9v0.9h-0.9zM153 650.5h0.9v0.9h-0.9zM164.5 650.5h0.9v0.9h-0.9zM179.5 638.5h0.9v0.9h-0.9zM159 609.5h0.9v0.9h-0.9zM129 593.5h0.9v0.9h-0.9zM184 617.5h0.9v0.9h-0.9zM178.5 639.5h0.9v0.9h-0.9zM148 636h0.9v0.9h-0.9zM112.5 611h0.9v0.9h-0.9zM265 639h0.9v0.9h-0.9zM190.5 659.5h0.9v0.9h-0.9zM190.5 646h0.9v0.9h-0.9zM103 634h0.9v0.9h-0.9zM157.5 606.5h0.9v0.9h-0.9zM196.5 630.5h0.9v0.9h-0.9zM176.5 618h0.9v0.9h-0.9zM237 622.5h0.9v0.9h-0.9zM202.5 675h0.9v0.9h-0.9zM192 641.5h0.9v0.9h-0.9zM126.5 677.5h0.9v0.9h-0.9zM133 640h0.9v0.9h-0.9zM148.5 679h0.9v0.9h-0.9zM207.5 602h0.9v0.9h-0.9z"/><path fill="#e3d95a" d="M125 662h0.9v0.9h-0.9zM129.5 639h0.9v0.9h-0.9zM126 644h0.9v0.9h-0.9zM128 667.5h0.9v0.9h-0.9zM128.5 643.5h0.9v0.9h-0.9zM131 655h0.9v0.9h-0.9zM123.5 646h0.9v0.9h-0.9zM125.5 673h0.9v0.9h-0.9zM136.5 637h0.9v0.9h-0.9zM130.5 655.5h0.9v0.9h-0.9zM134 652h0.9v0.9h-0.9zM130 658.5h0.9v0.9h-0.9zM118.5 644h0.9v0.9h-0.9zM121 648.5h0.9v0.9h-0.9zM113.5 660.5h0.9v0.9h-0.9zM126 648.5h0.9v0.9h-0.9zM128 653h0.9v0.9h-0.9zM128 636.5h0.9v0.9h-0.9zM135.5 651h0.9v0.9h-0.9zM122 666.5h0.9v0.9h-0.9zM130.5 660h0.9v0.9h-0.9zM124 650h0.9v0.9h-0.9zM126.5 637.5h0.9v0.9h-0.9zM118.5 643h0.9v0.9h-0.9zM130.5 650.5h0.9v0.9h-0.9zM134 654h0.9v0.9h-0.9zM126 639.5h0.9v0.9h-0.9zM128 643.5h0.9v0.9h-0.9zM120 654.5h0.9v0.9h-0.9zM129 651h0.9v0.9h-0.9zM126 648h0.9v0.9h-0.9zM124 648h0.9v0.9h-0.9zM132.5 646.5h0.9v0.9h-0.9zM122.5 651.5h0.9v0.9h-0.9zM129 634.5h0.9v0.9h-0.9zM133.5 649.5h0.9v0.9h-0.9zM129.5 644h0.9v0.9h-0.9zM126.5 635h0.9v0.9h-0.9zM135.5 658h0.9v0.9h-0.9zM131 667.5h0.9v0.9h-0.9zM128.5 638.5h0.9v0.9h-0.9zM130 654h0.9v0.9h-0.9zM123 642h0.9v0.9h-0.9zM129 649.5h0.9v0.9h-0.9zM123 649.5h0.9v0.9h-0.9zM126 645h0.9v0.9h-0.9zM134.5 640h0.9v0.9h-0.9zM122.5 646.5h0.9v0.9h-0.9zM122 641h0.9v0.9h-0.9zM125 656.5h0.9v0.9h-0.9zM127 658.5h0.9v0.9h-0.9zM123 644h0.9v0.9h-0.9zM131.5 653.5h0.9v0.9h-0.9zM120.5 663h0.9v0.9h-0.9zM123.5 651h0.9v0.9h-0.9zM125 642.5h0.9v0.9h-0.9zM122.5 656.5h0.9v0.9h-0.9zM131 639.5h0.9v0.9h-0.9zM124 660h0.9v0.9h-0.9zM130.5 663.5h0.9v0.9h-0.9zM120.5 632.5h0.9v0.9h-0.9zM126 640.5h0.9v0.9h-0.9zM126 643h0.9v0.9h-0.9zM123.5 655h0.9v0.9h-0.9zM136.5 657h0.9v0.9h-0.9zM121.5 644.5h0.9v0.9h-0.9zM120.5 655h0.9v0.9h-0.9zM131.5 657h0.9v0.9h-0.9zM125 658.5h0.9v0.9h-0.9zM130 658.5h0.9v0.9h-0.9zM126.5 662.5h0.9v0.9h-0.9zM134.5 637.5h0.9v0.9h-0.9zM119.5 658h0.9v0.9h-0.9zM109.5 629.5h0.9v0.9h-0.9zM129 640h0.9v0.9h-0.9zM130.5 663.5h0.9v0.9h-0.9zM128.5 661h0.9v0.9h-0.9zM128.5 628h0.9v0.9h-0.9z"/><path fill="#c67a7c" d="M134.5 639h0.9v0.9h-0.9zM122.5 638.5h0.9v0.9h-0.9zM121.5 645h0.9v0.9h-0.9zM129 644h0.9v0.9h-0.9zM121 662.5h0.9v0.9h-0.9zM114 639.5h0.9v0.9h-0.9zM124.5 623.5h0.9v0.9h-0.9zM130 644h0.9v0.9h-0.9zM139.5 652h0.9v0.9h-0.9zM120 641.5h0.9v0.9h-0.9zM122.5 655h0.9v0.9h-0.9zM124 661.5h0.9v0.9h-0.9zM128.5 662h0.9v0.9h-0.9zM128 646h0.9v0.9h-0.9zM128.5 652.5h0.9v0.9h-0.9zM126.5 645h0.9v0.9h-0.9zM130 661.5h0.9v0.9h-0.9zM123 653.5h0.9v0.9h-0.9zM128.5 638.5h0.9v0.9h-0.9zM122 657h0.9v0.9h-0.9zM133.5 654.5h0.9v0.9h-0.9zM134 667.5h0.9v0.9h-0.9zM134.5 659h0.9v0.9h-0.9zM129 643h0.9v0.9h-0.9zM136.5 631h0.9v0.9h-0.9zM126 647.5h0.9v0.9h-0.9zM124 632.5h0.9v0.9h-0.9zM128 667h0.9v0.9h-0.9zM132 658.5h0.9v0.9h-0.9zM126 638h0.9v0.9h-0.9zM132.5 658.5h0.9v0.9h-0.9zM131 662.5h0.9v0.9h-0.9zM127.5 656h0.9v0.9h-0.9zM114 643h0.9v0.9h-0.9zM113 658h0.9v0.9h-0.9zM118.5 658.5h0.9v0.9h-0.9zM123 650h0.9v0.9h-0.9zM129 647h0.9v0.9h-0.9zM132.5 638.5h0.9v0.9h-0.9zM123 646h0.9v0.9h-0.9zM124.5 638h0.9v0.9h-0.9zM137.5 648h0.9v0.9h-0.9zM120 640h0.9v0.9h-0.9zM126.5 657.5h0.9v0.9h-0.9zM128.5 636.5h0.9v0.9h-0.9zM134 656.5h0.9v0.9h-0.9zM133 647h0.9v0.9h-0.9zM121 654.5h0.9v0.9h-0.9zM131.5 641.5h0.9v0.9h-0.9zM125.5 648h0.9v0.9h-0.9zM135.5 650h0.9v0.9h-0.9zM124.5 661h0.9v0.9h-0.9zM130 650.5h0.9v0.9h-0.9zM123.5 658h0.9v0.9h-0.9zM130.5 658.5h0.9v0.9h-0.9zM128.5 666.5h0.9v0.9h-0.9zM133.5 641h0.9v0.9h-0.9zM124.5 671.5h0.9v0.9h-0.9zM130 650h0.9v0.9h-0.9zM137 639.5h0.9v0.9h-0.9zM130 661.5h0.9v0.9h-0.9zM143 643h0.9v0.9h-0.9zM127 657h0.9v0.9h-0.9zM141 647h0.9v0.9h-0.9zM127 664.5h0.9v0.9h-0.9zM136.5 655.5h0.9v0.9h-0.9zM121 639h0.9v0.9h-0.9zM132 653.5h0.9v0.9h-0.9zM124.5 659h0.9v0.9h-0.9zM125.5 656h0.9v0.9h-0.9zM124.5 651h0.9v0.9h-0.9zM121.5 667h0.9v0.9h-0.9zM129 650.5h0.9v0.9h-0.9zM124 648h0.9v0.9h-0.9zM120.5 646.5h0.9v0.9h-0.9zM130.5 632.5h0.9v0.9h-0.9zM133.5 631.5h0.9v0.9h-0.9zM118.5 649h0.9v0.9h-0.9zM116.5 646.5h0.9v0.9h-0.9zM116.5 642.5h0.9v0.9h-0.9zM115 649.5h0.9v0.9h-0.9zM127.5 648h0.9v0.9h-0.9z"/><path fill="#e3d95a" d="M203 644.5h0.9v0.9h-0.9zM235 621.5h0.9v0.9h-0.9zM213 639.5h0.9v0.9h-0.9zM216.5 627h0.9v0.9h-0.9zM188.5 639.5h0.9v0.9h-0.9zM199 623h0.9v0.9h-0.9zM209.5 638h0.9v0.9h-0.9zM204 645h0.9v0.9h-0.9zM214.5 616.5h0.9v0.9h-0.9zM222.5 633.5h0.9v0.9h-0.9zM202.5 648.5h0.9v0.9h-0.9zM198.5 642.5h0.9v0.9h-0.9zM214.5 619.5h0.9v0.9h-0.9zM227.5 617.5h0.9v0.9h-0.9zM217.5 654h0.9v0.9h-0.9zM196.5 645.5h0.9v0.9h-0.9zM207.5 612.5h0.9v0.9h-0.9zM209 664.5h0.9v0.9h-0.9zM205 616h0.9v0.9h-0.9zM214 654h0.9v0.9h-0.9zM202 653h0.9v0.9h-0.9zM207 614h0.9v0.9h-0.9zM203 630h0.9v0.9h-0.9zM182.5 623.5h0.9v0.9h-0.9zM196 636h0.9v0.9h-0.9zM203 638.5h0.9v0.9h-0.9zM209.5 642h0.9v0.9h-0.9zM217.5 632h0.9v0.9h-0.9zM218.5 641h0.9v0.9h-0.9zM211 639h0.9v0.9h-0.9zM212 630h0.9v0.9h-0.9zM205.5 625.5h0.9v0.9h-0.9zM215.5 623h0.9v0.9h-0.9zM213.5 656h0.9v0.9h-0.9zM205.5 631.5h0.9v0.9h-0.9zM214.5 650.5h0.9v0.9h-0.9zM207.5 616h0.9v0.9h-0.9zM205.5 643h0.9v0.9h-0.9zM201 630.5h0.9v0.9h-0.9zM214 620.5h0.9v0.9h-0.9zM215 617h0.9v0.9h-0.9zM203 617.5h0.9v0.9h-0.9zM196 629.5h0.9v0.9h-0.9zM209.5 625.5h0.9v0.9h-0.9zM200.5 651h0.9v0.9h-0.9zM208.5 636.5h0.9v0.9h-0.9zM192.5 652h0.9v0.9h-0.9zM213.5 640.5h0.9v0.9h-0.9zM202 644.5h0.9v0.9h-0.9zM217 642.5h0.9v0.9h-0.9zM214.5 615h0.9v0.9h-0.9zM209.5 637h0.9v0.9h-0.9zM214.5 630.5h0.9v0.9h-0.9zM226.5 612.5h0.9v0.9h-0.9zM208.5 637.5h0.9v0.9h-0.9zM202.5 627.5h0.9v0.9h-0.9zM205.5 667h0.9v0.9h-0.9zM195 649h0.9v0.9h-0.9zM208 642.5h0.9v0.9h-0.9zM207 646h0.9v0.9h-0.9zM211.5 630h0.9v0.9h-0.9zM211.5 629h0.9v0.9h-0.9zM213 652h0.9v0.9h-0.9zM195 648h0.9v0.9h-0.9zM208.5 662h0.9v0.9h-0.9zM219 640.5h0.9v0.9h-0.9zM215 629.5h0.9v0.9h-0.9zM219.5 639h0.9v0.9h-0.9zM189.5 631.5h0.9v0.9h-0.9zM206.5 638.5h0.9v0.9h-0.9zM201 615h0.9v0.9h-0.9zM216.5 627h0.9v0.9h-0.9zM214.5 647.5h0.9v0.9h-0.9zM202.5 639h0.9v0.9h-0.9zM211.5 627.5h0.9v0.9h-0.9zM206.5 649h0.9v0.9h-0.9zM224.5 634h0.9v0.9h-0.9zM194 629.5h0.9v0.9h-0.9zM211.5 669.5h0.9v0.9h-0.9zM214 640h0.9v0.9h-0.9zM202 644.5h0.9v0.9h-0.9zM210 656h0.9v0.9h-0.9zM234.5 629.5h0.9v0.9h-0.9zM216 641h0.9v0.9h-0.9zM194.5 639h0.9v0.9h-0.9zM210.5 640.5h0.9v0.9h-0.9zM211.5 622.5h0.9v0.9h-0.9zM206.5 633.5h0.9v0.9h-0.9zM213.5 637h0.9v0.9h-0.9zM198 653.5h0.9v0.9h-0.9zM198 631h0.9v0.9h-0.9zM198 641.5h0.9v0.9h-0.9zM218 642.5h0.9v0.9h-0.9zM198 621h0.9v0.9h-0.9zM226 626.5h0.9v0.9h-0.9zM213 643.5h0.9v0.9h-0.9zM195.5 633h0.9v0.9h-0.9zM207.5 650.5h0.9v0.9h-0.9zM217 626.5h0.9v0.9h-0.9zM212 621h0.9v0.9h-0.9zM219 610h0.9v0.9h-0.9zM214 642h0.9v0.9h-0.9zM201 632h0.9v0.9h-0.9zM187 635.5h0.9v0.9h-0.9zM202 628h0.9v0.9h-0.9zM205 634.5h0.9v0.9h-0.9zM213 608.5h0.9v0.9h-0.9zM206.5 631h0.9v0.9h-0.9zM207 628h0.9v0.9h-0.9zM207 646.5h0.9v0.9h-0.9zM208 645.5h0.9v0.9h-0.9zM219.5 617.5h0.9v0.9h-0.9zM212.5 642h0.9v0.9h-0.9zM203 623.5h0.9v0.9h-0.9zM214 625.5h0.9v0.9h-0.9zM222.5 628h0.9v0.9h-0.9zM222.5 610h0.9v0.9h-0.9zM210 640.5h0.9v0.9h-0.9zM206.5 629.5h0.9v0.9h-0.9zM204.5 669h0.9v0.9h-0.9zM217 615.5h0.9v0.9h-0.9zM211 633.5h0.9v0.9h-0.9zM218 627.5h0.9v0.9h-0.9zM214.5 632h0.9v0.9h-0.9zM205.5 661.5h0.9v0.9h-0.9zM220.5 616h0.9v0.9h-0.9zM202 619h0.9v0.9h-0.9zM197 596h0.9v0.9h-0.9zM200.5 646h0.9v0.9h-0.9zM216 661h0.9v0.9h-0.9zM184 605h0.9v0.9h-0.9zM200 603.5h0.9v0.9h-0.9zM211 651.5h0.9v0.9h-0.9zM205.5 630h0.9v0.9h-0.9zM223.5 667.5h0.9v0.9h-0.9zM195.5 638h0.9v0.9h-0.9zM215.5 608h0.9v0.9h-0.9zM227.5 616h0.9v0.9h-0.9zM186 624.5h0.9v0.9h-0.9zM203.5 625.5h0.9v0.9h-0.9zM208.5 644.5h0.9v0.9h-0.9zM223.5 616.5h0.9v0.9h-0.9zM213 621h0.9v0.9h-0.9zM214.5 621h0.9v0.9h-0.9zM205.5 665h0.9v0.9h-0.9zM209 625h0.9v0.9h-0.9zM188 625h0.9v0.9h-0.9zM210.5 623.5h0.9v0.9h-0.9zM206 612.5h0.9v0.9h-0.9zM180.5 650h0.9v0.9h-0.9zM213.5 632.5h0.9v0.9h-0.9zM206 660.5h0.9v0.9h-0.9zM207.5 611.5h0.9v0.9h-0.9zM202 635h0.9v0.9h-0.9zM221.5 620.5h0.9v0.9h-0.9zM208.5 635h0.9v0.9h-0.9zM207 634.5h0.9v0.9h-0.9zM213 628.5h0.9v0.9h-0.9zM225.5 632h0.9v0.9h-0.9zM209.5 641.5h0.9v0.9h-0.9zM193 641h0.9v0.9h-0.9zM207.5 633h0.9v0.9h-0.9zM227.5 635h0.9v0.9h-0.9zM209.5 610h0.9v0.9h-0.9zM197 629h0.9v0.9h-0.9zM210.5 632.5h0.9v0.9h-0.9zM225 631.5h0.9v0.9h-0.9zM215 640.5h0.9v0.9h-0.9zM221 616.5h0.9v0.9h-0.9zM207.5 630.5h0.9v0.9h-0.9zM220.5 591.5h0.9v0.9h-0.9zM221.5 618h0.9v0.9h-0.9zM209.5 639h0.9v0.9h-0.9zM216 624.5h0.9v0.9h-0.9zM214 610h0.9v0.9h-0.9zM223 617h0.9v0.9h-0.9zM205 607h0.9v0.9h-0.9z"/><path fill="#c67a7c" d="M214.5 628h0.9v0.9h-0.9zM210.5 647h0.9v0.9h-0.9zM217 642.5h0.9v0.9h-0.9zM211 619h0.9v0.9h-0.9zM198.5 626.5h0.9v0.9h-0.9zM207 646h0.9v0.9h-0.9zM208.5 640h0.9v0.9h-0.9zM232 608h0.9v0.9h-0.9zM201.5 645h0.9v0.9h-0.9zM204.5 643.5h0.9v0.9h-0.9zM206.5 623h0.9v0.9h-0.9zM237.5 629h0.9v0.9h-0.9zM229 617.5h0.9v0.9h-0.9zM205 639h0.9v0.9h-0.9zM211 634h0.9v0.9h-0.9zM216 637h0.9v0.9h-0.9zM208.5 635h0.9v0.9h-0.9zM186.5 635h0.9v0.9h-0.9zM204 630.5h0.9v0.9h-0.9zM204 644.5h0.9v0.9h-0.9zM223.5 634.5h0.9v0.9h-0.9zM214.5 633h0.9v0.9h-0.9zM206.5 638h0.9v0.9h-0.9zM218 630h0.9v0.9h-0.9zM198.5 626h0.9v0.9h-0.9zM225 617h0.9v0.9h-0.9zM204 609.5h0.9v0.9h-0.9zM209 610.5h0.9v0.9h-0.9zM214.5 634.5h0.9v0.9h-0.9zM204 636h0.9v0.9h-0.9zM216.5 625.5h0.9v0.9h-0.9zM201 631.5h0.9v0.9h-0.9zM206.5 614.5h0.9v0.9h-0.9zM211 628h0.9v0.9h-0.9zM199.5 627.5h0.9v0.9h-0.9zM215.5 599.5h0.9v0.9h-0.9zM216.5 656.5h0.9v0.9h-0.9zM215 621.5h0.9v0.9h-0.9zM206.5 611.5h0.9v0.9h-0.9zM238.5 640.5h0.9v0.9h-0.9zM208 643.5h0.9v0.9h-0.9zM222 638h0.9v0.9h-0.9zM206.5 613h0.9v0.9h-0.9zM216.5 636h0.9v0.9h-0.9zM215.5 638h0.9v0.9h-0.9zM213 635.5h0.9v0.9h-0.9zM208.5 630h0.9v0.9h-0.9zM218 626.5h0.9v0.9h-0.9zM216 637.5h0.9v0.9h-0.9zM219 615h0.9v0.9h-0.9zM205 636h0.9v0.9h-0.9zM212 619h0.9v0.9h-0.9zM199.5 619.5h0.9v0.9h-0.9zM220 619h0.9v0.9h-0.9zM210.5 618.5h0.9v0.9h-0.9zM198.5 616h0.9v0.9h-0.9zM211.5 632.5h0.9v0.9h-0.9zM212 655.5h0.9v0.9h-0.9zM218.5 629h0.9v0.9h-0.9zM212 654h0.9v0.9h-0.9zM216.5 636h0.9v0.9h-0.9zM207.5 624.5h0.9v0.9h-0.9zM208 647h0.9v0.9h-0.9zM213.5 623h0.9v0.9h-0.9zM216.5 632h0.9v0.9h-0.9zM210.5 643h0.9v0.9h-0.9zM212.5 628.5h0.9v0.9h-0.9zM200.5 637.5h0.9v0.9h-0.9zM220.5 632.5h0.9v0.9h-0.9zM225 626.5h0.9v0.9h-0.9zM215 639h0.9v0.9h-0.9zM212.5 607.5h0.9v0.9h-0.9zM203.5 649.5h0.9v0.9h-0.9zM179.5 654.5h0.9v0.9h-0.9zM205.5 639.5h0.9v0.9h-0.9zM218 653h0.9v0.9h-0.9zM203.5 611.5h0.9v0.9h-0.9zM212.5 610h0.9v0.9h-0.9zM210 627h0.9v0.9h-0.9zM221 631.5h0.9v0.9h-0.9zM215.5 606h0.9v0.9h-0.9zM205 631h0.9v0.9h-0.9zM197.5 643.5h0.9v0.9h-0.9zM203 630.5h0.9v0.9h-0.9zM217 620h0.9v0.9h-0.9zM213.5 651h0.9v0.9h-0.9zM222 641h0.9v0.9h-0.9zM212 611.5h0.9v0.9h-0.9zM208.5 624.5h0.9v0.9h-0.9zM230 628.5h0.9v0.9h-0.9zM219.5 634.5h0.9v0.9h-0.9zM213.5 609.5h0.9v0.9h-0.9zM204 646.5h0.9v0.9h-0.9zM213.5 639h0.9v0.9h-0.9zM214.5 640.5h0.9v0.9h-0.9zM196.5 654.5h0.9v0.9h-0.9zM194.5 636.5h0.9v0.9h-0.9zM203.5 639.5h0.9v0.9h-0.9zM234 661h0.9v0.9h-0.9zM214.5 621h0.9v0.9h-0.9zM212.5 640.5h0.9v0.9h-0.9zM211.5 641.5h0.9v0.9h-0.9zM212 662.5h0.9v0.9h-0.9zM197 614.5h0.9v0.9h-0.9zM212 626h0.9v0.9h-0.9zM200 617.5h0.9v0.9h-0.9zM205.5 631h0.9v0.9h-0.9zM216 617h0.9v0.9h-0.9zM202 619.5h0.9v0.9h-0.9zM225.5 636h0.9v0.9h-0.9zM209 646h0.9v0.9h-0.9zM205.5 614.5h0.9v0.9h-0.9zM214.5 609h0.9v0.9h-0.9zM217 632h0.9v0.9h-0.9zM222.5 646.5h0.9v0.9h-0.9zM221.5 652.5h0.9v0.9h-0.9zM213 663h0.9v0.9h-0.9zM211.5 632.5h0.9v0.9h-0.9zM212 661.5h0.9v0.9h-0.9zM217 645.5h0.9v0.9h-0.9zM213 636.5h0.9v0.9h-0.9zM211.5 623h0.9v0.9h-0.9zM193 658.5h0.9v0.9h-0.9zM222.5 619.5h0.9v0.9h-0.9zM203.5 660.5h0.9v0.9h-0.9zM205 624.5h0.9v0.9h-0.9zM208.5 663h0.9v0.9h-0.9zM214 642h0.9v0.9h-0.9zM204 633h0.9v0.9h-0.9zM211 638.5h0.9v0.9h-0.9zM216.5 627h0.9v0.9h-0.9zM211 629h0.9v0.9h-0.9zM204.5 625h0.9v0.9h-0.9zM221.5 617h0.9v0.9h-0.9zM213.5 616.5h0.9v0.9h-0.9zM203.5 612.5h0.9v0.9h-0.9zM188 613.5h0.9v0.9h-0.9zM209.5 606.5h0.9v0.9h-0.9zM216.5 643h0.9v0.9h-0.9zM206 614h0.9v0.9h-0.9zM217 624.5h0.9v0.9h-0.9zM194 632.5h0.9v0.9h-0.9zM208 611.5h0.9v0.9h-0.9zM204.5 629.5h0.9v0.9h-0.9zM216.5 659h0.9v0.9h-0.9zM200 640.5h0.9v0.9h-0.9zM205 637h0.9v0.9h-0.9zM197.5 647.5h0.9v0.9h-0.9zM224 619.5h0.9v0.9h-0.9zM195.5 618.5h0.9v0.9h-0.9zM208.5 621.5h0.9v0.9h-0.9zM228 626.5h0.9v0.9h-0.9zM217 621h0.9v0.9h-0.9zM197.5 633.5h0.9v0.9h-0.9zM218 642.5h0.9v0.9h-0.9zM213 639h0.9v0.9h-0.9zM202 624.5h0.9v0.9h-0.9zM214 632.5h0.9v0.9h-0.9zM209.5 640h0.9v0.9h-0.9zM197.5 630h0.9v0.9h-0.9zM225.5 628.5h0.9v0.9h-0.9zM209.5 624.5h0.9v0.9h-0.9zM222.5 636h0.9v0.9h-0.9zM209.5 609h0.9v0.9h-0.9zM223.5 651.5h0.9v0.9h-0.9zM218.5 620.5h0.9v0.9h-0.9zM209.5 640h0.9v0.9h-0.9zM210.5 623h0.9v0.9h-0.9zM206 652h0.9v0.9h-0.9zM221.5 614h0.9v0.9h-0.9zM207.5 611.5h0.9v0.9h-0.9zM221 650h0.9v0.9h-0.9zM194 645.5h0.9v0.9h-0.9zM212.5 639.5h0.9v0.9h-0.9zM213.5 638.5h0.9v0.9h-0.9zM221.5 628.5h0.9v0.9h-0.9zM204.5 627h0.9v0.9h-0.9zM209 620.5h0.9v0.9h-0.9zM198 635.5h0.9v0.9h-0.9zM223.5 638h0.9v0.9h-0.9zM225.5 636h0.9v0.9h-0.9zM218 631.5h0.9v0.9h-0.9zM203 663h0.9v0.9h-0.9zM192.5 612h0.9v0.9h-0.9zM201 599.5h0.9v0.9h-0.9zM203 652h0.9v0.9h-0.9zM219 628h0.9v0.9h-0.9zM200 647.5h0.9v0.9h-0.9zM208.5 626h0.9v0.9h-0.9zM207.5 631.5h0.9v0.9h-0.9zM201 629h0.9v0.9h-0.9zM220 645h0.9v0.9h-0.9zM210 624.5h0.9v0.9h-0.9zM224.5 667h0.9v0.9h-0.9zM221.5 620h0.9v0.9h-0.9zM210 635.5h0.9v0.9h-0.9zM209.5 612h0.9v0.9h-0.9zM203.5 659.5h0.9v0.9h-0.9zM213.5 633.5h0.9v0.9h-0.9zM203.5 638.5h0.9v0.9h-0.9zM213 614h0.9v0.9h-0.9zM211 633.5h0.9v0.9h-0.9zM222 642h0.9v0.9h-0.9z"/><path fill="#e3d95a" d="M174.5 584h0.9v0.9h-0.9zM174.5 593h0.9v0.9h-0.9zM148.5 586.5h0.9v0.9h-0.9zM162.5 588h0.9v0.9h-0.9zM178.5 580h0.9v0.9h-0.9zM162.5 584h0.9v0.9h-0.9zM140.5 588.5h0.9v0.9h-0.9zM170.5 580.5h0.9v0.9h-0.9zM151 582.5h0.9v0.9h-0.9zM160.5 591.5h0.9v0.9h-0.9zM149.5 578.5h0.9v0.9h-0.9zM165.5 578.5h0.9v0.9h-0.9zM177.5 584h0.9v0.9h-0.9zM145.5 581h0.9v0.9h-0.9zM166 576h0.9v0.9h-0.9zM158.5 577.5h0.9v0.9h-0.9zM171 580h0.9v0.9h-0.9zM154 583.5h0.9v0.9h-0.9zM159 580.5h0.9v0.9h-0.9zM174.5 587h0.9v0.9h-0.9zM164.5 583h0.9v0.9h-0.9zM172 582h0.9v0.9h-0.9zM146 584.5h0.9v0.9h-0.9zM159.5 578.5h0.9v0.9h-0.9zM167 582h0.9v0.9h-0.9zM172.5 587h0.9v0.9h-0.9zM176 586h0.9v0.9h-0.9zM169.5 590.5h0.9v0.9h-0.9zM178.5 584h0.9v0.9h-0.9zM159.5 573h0.9v0.9h-0.9zM157 584.5h0.9v0.9h-0.9zM176.5 580.5h0.9v0.9h-0.9zM169 578.5h0.9v0.9h-0.9zM182 579.5h0.9v0.9h-0.9zM153.5 580h0.9v0.9h-0.9zM149.5 581.5h0.9v0.9h-0.9zM161 586.5h0.9v0.9h-0.9zM169.5 587h0.9v0.9h-0.9zM173 586h0.9v0.9h-0.9zM171.5 585.5h0.9v0.9h-0.9zM176 582h0.9v0.9h-0.9zM170 579h0.9v0.9h-0.9zM164 580h0.9v0.9h-0.9zM187.5 582h0.9v0.9h-0.9zM182.5 588h0.9v0.9h-0.9zM180.5 582.5h0.9v0.9h-0.9zM151.5 582.5h0.9v0.9h-0.9zM170 588h0.9v0.9h-0.9zM140.5 588.5h0.9v0.9h-0.9zM171 588h0.9v0.9h-0.9zM186 588.5h0.9v0.9h-0.9zM150 591h0.9v0.9h-0.9zM160 592.5h0.9v0.9h-0.9zM184.5 576h0.9v0.9h-0.9zM163 581.5h0.9v0.9h-0.9zM168 585.5h0.9v0.9h-0.9zM179.5 585h0.9v0.9h-0.9zM174.5 582h0.9v0.9h-0.9zM166.5 578.5h0.9v0.9h-0.9zM153.5 586h0.9v0.9h-0.9zM165.5 584.5h0.9v0.9h-0.9zM147.5 582h0.9v0.9h-0.9zM178 579h0.9v0.9h-0.9zM179 582.5h0.9v0.9h-0.9zM148.5 584h0.9v0.9h-0.9zM174.5 583h0.9v0.9h-0.9zM147.5 591h0.9v0.9h-0.9zM161 575.5h0.9v0.9h-0.9zM188 569h0.9v0.9h-0.9zM166 582.5h0.9v0.9h-0.9zM170 586h0.9v0.9h-0.9zM169 581.5h0.9v0.9h-0.9zM143.5 582h0.9v0.9h-0.9zM170 578h0.9v0.9h-0.9zM159.5 589h0.9v0.9h-0.9zM166 580.5h0.9v0.9h-0.9zM159.5 584.5h0.9v0.9h-0.9zM167 588h0.9v0.9h-0.9zM169.5 585h0.9v0.9h-0.9zM175.5 581.5h0.9v0.9h-0.9zM158.5 580.5h0.9v0.9h-0.9zM155.5 592h0.9v0.9h-0.9z"/><path fill="#c67a7c" d="M158 584h0.9v0.9h-0.9zM162.5 583h0.9v0.9h-0.9zM151.5 575.5h0.9v0.9h-0.9zM171.5 592h0.9v0.9h-0.9zM163 586h0.9v0.9h-0.9zM193.5 580.5h0.9v0.9h-0.9zM165.5 579h0.9v0.9h-0.9zM152 585.5h0.9v0.9h-0.9zM161.5 586.5h0.9v0.9h-0.9zM179 587h0.9v0.9h-0.9zM146.5 575h0.9v0.9h-0.9zM157 584.5h0.9v0.9h-0.9zM165 584h0.9v0.9h-0.9zM165.5 575h0.9v0.9h-0.9zM170 586h0.9v0.9h-0.9zM173.5 577.5h0.9v0.9h-0.9zM171 582h0.9v0.9h-0.9zM158.5 585h0.9v0.9h-0.9zM166 585h0.9v0.9h-0.9zM161 584h0.9v0.9h-0.9zM162 591h0.9v0.9h-0.9zM167.5 589h0.9v0.9h-0.9zM171 591h0.9v0.9h-0.9zM182.5 583h0.9v0.9h-0.9zM195 589.5h0.9v0.9h-0.9zM181 582.5h0.9v0.9h-0.9zM177.5 588.5h0.9v0.9h-0.9zM177.5 591h0.9v0.9h-0.9zM196.5 589.5h0.9v0.9h-0.9zM156 581h0.9v0.9h-0.9zM156 582.5h0.9v0.9h-0.9zM148 583.5h0.9v0.9h-0.9zM160.5 580.5h0.9v0.9h-0.9zM159.5 584.5h0.9v0.9h-0.9zM158.5 579.5h0.9v0.9h-0.9zM184 586.5h0.9v0.9h-0.9zM172 586.5h0.9v0.9h-0.9zM172 588.5h0.9v0.9h-0.9zM165.5 590h0.9v0.9h-0.9zM167 578h0.9v0.9h-0.9zM175 585.5h0.9v0.9h-0.9zM169 588h0.9v0.9h-0.9zM160 583.5h0.9v0.9h-0.9zM164 584h0.9v0.9h-0.9zM164 587.5h0.9v0.9h-0.9zM167 575.5h0.9v0.9h-0.9zM166.5 570.5h0.9v0.9h-0.9zM157.5 589.5h0.9v0.9h-0.9zM160 586h0.9v0.9h-0.9zM158.5 581.5h0.9v0.9h-0.9zM171 580h0.9v0.9h-0.9zM166 586h0.9v0.9h-0.9zM159 579h0.9v0.9h-0.9zM157.5 578.5h0.9v0.9h-0.9zM194 580.5h0.9v0.9h-0.9zM162 582h0.9v0.9h-0.9zM167.5 586.5h0.9v0.9h-0.9zM166.5 582h0.9v0.9h-0.9zM171.5 584h0.9v0.9h-0.9zM168.5 583h0.9v0.9h-0.9zM174.5 587h0.9v0.9h-0.9zM182 574h0.9v0.9h-0.9zM159 579h0.9v0.9h-0.9zM152 584.5h0.9v0.9h-0.9zM169.5 585.5h0.9v0.9h-0.9zM172 578h0.9v0.9h-0.9zM162 579.5h0.9v0.9h-0.9zM184.5 585.5h0.9v0.9h-0.9zM149 586.5h0.9v0.9h-0.9zM150.5 574.5h0.9v0.9h-0.9zM175.5 577h0.9v0.9h-0.9zM178 582h0.9v0.9h-0.9zM166.5 586.5h0.9v0.9h-0.9zM160.5 580h0.9v0.9h-0.9zM157.5 579h0.9v0.9h-0.9zM143 595h0.9v0.9h-0.9zM180.5 584h0.9v0.9h-0.9zM151 585.5h0.9v0.9h-0.9zM165.5 580h0.9v0.9h-0.9zM167.5 579h0.9v0.9h-0.9zM178 579h0.9v0.9h-0.9zM173.5 575.5h0.9v0.9h-0.9zM144.5 589h0.9v0.9h-0.9zM182.5 592h0.9v0.9h-0.9zM154.5 570h0.9v0.9h-0.9zM166 584h0.9v0.9h-0.9zM162.5 579.5h0.9v0.9h-0.9zM167.5 587.5h0.9v0.9h-0.9zM189 579.5h0.9v0.9h-0.9zM157 581.5h0.9v0.9h-0.9zM151 593h0.9v0.9h-0.9zM177 576h0.9v0.9h-0.9zM168.5 583h0.9v0.9h-0.9zM155.5 576h0.9v0.9h-0.9zM165 582h0.9v0.9h-0.9zM156 591h0.9v0.9h-0.9zM163.5 585.5h0.9v0.9h-0.9zM172.5 587.5h0.9v0.9h-0.9zM179.5 580.5h0.9v0.9h-0.9zM153.5 579.5h0.9v0.9h-0.9zM174 581h0.9v0.9h-0.9zM182.5 585.5h0.9v0.9h-0.9zM164.5 582.5h0.9v0.9h-0.9zM165 585.5h0.9v0.9h-0.9zM155 580.5h0.9v0.9h-0.9zM142 586h0.9v0.9h-0.9zM176.5 588h0.9v0.9h-0.9zM159 586.5h0.9v0.9h-0.9zM185.5 584.5h0.9v0.9h-0.9zM148 587.5h0.9v0.9h-0.9zM186 575.5h0.9v0.9h-0.9zM182.5 594.5h0.9v0.9h-0.9zM154.5 583h0.9v0.9h-0.9zM168.5 581.5h0.9v0.9h-0.9zM166.5 587h0.9v0.9h-0.9zM165.5 580.5h0.9v0.9h-0.9zM178.5 575h0.9v0.9h-0.9zM164 587h0.9v0.9h-0.9zM167 588h0.9v0.9h-0.9zM168 579.5h0.9v0.9h-0.9zM153.5 579.5h0.9v0.9h-0.9zM196.5 585.5h0.9v0.9h-0.9zM170 590h0.9v0.9h-0.9zM147 584h0.9v0.9h-0.9zM167.5 582.5h0.9v0.9h-0.9zM170.5 580.5h0.9v0.9h-0.9zM156 589.5h0.9v0.9h-0.9zM168.5 572h0.9v0.9h-0.9zM157.5 589.5h0.9v0.9h-0.9zM155.5 584.5h0.9v0.9h-0.9zM167 586h0.9v0.9h-0.9zM188.5 581h0.9v0.9h-0.9zM176.5 581h0.9v0.9h-0.9zM168.5 577h0.9v0.9h-0.9zM143 579.5h0.9v0.9h-0.9zM180.5 582h0.9v0.9h-0.9zM170 588.5h0.9v0.9h-0.9zM173 575.5h0.9v0.9h-0.9zM174 588h0.9v0.9h-0.9zM150 580.5h0.9v0.9h-0.9zM156 588h0.9v0.9h-0.9zM177 579.5h0.9v0.9h-0.9zM174.5 585.5h0.9v0.9h-0.9zM178 584h0.9v0.9h-0.9zM163 572.5h0.9v0.9h-0.9zM157.5 584.5h0.9v0.9h-0.9zM175 582.5h0.9v0.9h-0.9zM195 572.5h0.9v0.9h-0.9zM162 567.5h0.9v0.9h-0.9zM170 581.5h0.9v0.9h-0.9zM164.5 589h0.9v0.9h-0.9zM171 586.5h0.9v0.9h-0.9zM176 584h0.9v0.9h-0.9zM162.5 578h0.9v0.9h-0.9zM168.5 574.5h0.9v0.9h-0.9zM165 581h0.9v0.9h-0.9zM172 578.5h0.9v0.9h-0.9zM166 581h0.9v0.9h-0.9zM143.5 585.5h0.9v0.9h-0.9zM160.5 581h0.9v0.9h-0.9zM168 582h0.9v0.9h-0.9zM151.5 580h0.9v0.9h-0.9zM157.5 585.5h0.9v0.9h-0.9zM157 590.5h0.9v0.9h-0.9zM152.5 580h0.9v0.9h-0.9zM157.5 589.5h0.9v0.9h-0.9zM167.5 587h0.9v0.9h-0.9zM183.5 582.5h0.9v0.9h-0.9zM165.5 574h0.9v0.9h-0.9zM167.5 585.5h0.9v0.9h-0.9zM166 592.5h0.9v0.9h-0.9zM172 573h0.9v0.9h-0.9zM159 578h0.9v0.9h-0.9zM185 578.5h0.9v0.9h-0.9zM197 581.5h0.9v0.9h-0.9zM165.5 581h0.9v0.9h-0.9zM159 583.5h0.9v0.9h-0.9zM184.5 590.5h0.9v0.9h-0.9z"/><path d="M82.8 637.7C83.45 636.4 86.58 636.38 88.7 636.7C90.82 637.02 93.87 638.78 95.5 639.6C97.13 640.42 98.83 640.3 98.5 641.6C98.17 642.9 94.82 645.63 93.5 647.4C92.18 649.17 91.57 651.72 90.6 652.2C89.63 652.68 88.67 651.58 87.7 650.3C86.73 649.02 85.62 646.6 84.8 644.5C83.98 642.4 82.15 639 82.8 637.7Z" fill="#e3d95a" filter="url(#rRb)"/><path fill="#e3d95a" d="M92 680.5h1v1h-1zM100.5 637.5h1v1h-1zM109.5 689h1v1h-1zM123 653h1v1h-1zM116 690h1v1h-1zM126 693.5h1v1h-1zM100.5 638.5h1v1h-1zM85 662.5h1v1h-1zM127 669.5h1v1h-1zM128.5 669.5h1v1h-1zM126.5 665.5h1v1h-1zM116 640.5h1v1h-1zM133.5 683.5h1v1h-1zM125.5 693.5h1v1h-1zM108.5 687.5h1v1h-1zM129.5 678h1v1h-1zM123.5 658h1v1h-1zM86 664h1v1h-1zM91.5 650h1v1h-1zM121.5 691h1v1h-1zM128.5 674.5h1v1h-1zM122 649h1v1h-1zM123 651h1v1h-1zM102.5 685h1v1h-1zM93.5 647.5h1v1h-1zM114.5 690.5h1v1h-1zM129.5 693h1v1h-1zM101 637.5h1v1h-1zM132.5 683h1v1h-1zM119.5 649h1v1h-1zM109 636h1v1h-1zM120.5 651.5h1v1h-1zM128.5 671.5h1v1h-1zM107.5 687.5h1v1h-1zM100.5 638.5h1v1h-1zM102.5 637.5h1v1h-1zM90 653.5h1v1h-1zM134 689.5h1v1h-1zM111.5 636.5h1v1h-1zM119 691h1v1h-1zM126.5 693h1v1h-1zM133.5 685h1v1h-1zM106.5 637h1v1h-1zM104 636.5h1v1h-1zM127.5 667.5h1v1h-1zM86 676h1v1h-1zM85.5 664h1v1h-1zM86 672.5h1v1h-1zM86 667.5h1v1h-1zM108 689h1v1h-1zM134.5 692h1v1h-1zM102 636h1v1h-1zM120.5 648h1v1h-1zM121 649h1v1h-1zM98.5 637.5h1v1h-1zM122 691h1v1h-1zM105.5 688.5h1v1h-1zM132 675.5h1v1h-1zM88.5 656h1v1h-1zM129 677.5h1v1h-1zM95 641.5h1v1h-1zM127.5 694.5h1v1h-1zM129 675h1v1h-1zM124 694h1v1h-1zM96.5 643h1v1h-1zM89 658h1v1h-1zM104.5 685.5h1v1h-1zM112 690h1v1h-1zM132.5 692.5h1v1h-1zM120.5 650h1v1h-1zM93.5 645h1v1h-1zM97 682h1v1h-1zM113 636.5h1v1h-1zM104.5 637.5h1v1h-1zM131.5 683h1v1h-1zM122 651h1v1h-1zM105.5 685.5h1v1h-1zM119 691.5h1v1h-1zM116.5 640.5h1v1h-1zM131.5 691h1v1h-1zM113 691h1v1h-1zM105 637.5h1v1h-1zM97 682h1v1h-1zM85 671.5h1v1h-1zM85.5 665h1v1h-1zM109 687.5h1v1h-1zM133 684.5h1v1h-1zM86 657.5h1v1h-1zM121 652h1v1h-1zM98 639.5h1v1h-1zM128 693.5h1v1h-1zM96.5 641.5h1v1h-1zM125.5 666h1v1h-1zM87 670.5h1v1h-1zM134 689h1v1h-1zM90.5 652.5h1v1h-1zM92 646.5h1v1h-1zM90.5 653.5h1v1h-1zM85 671.5h1v1h-1zM116.5 641h1v1h-1zM103.5 638h1v1h-1zM125.5 666.5h1v1h-1zM112 637.5h1v1h-1zM128.5 675h1v1h-1zM92 650.5h1v1h-1zM86 667h1v1h-1zM123.5 659h1v1h-1zM116 689.5h1v1h-1zM115 689.5h1v1h-1zM93 650.5h1v1h-1zM127.5 663.5h1v1h-1zM97.5 638.5h1v1h-1zM121 649.5h1v1h-1zM105.5 685h1v1h-1zM126 662h1v1h-1zM129 673.5h1v1h-1zM112.5 638.5h1v1h-1zM122.5 647h1v1h-1zM124 659h1v1h-1zM130.5 680.5h1v1h-1zM88.5 659h1v1h-1zM101.5 637h1v1h-1zM85 666.5h1v1h-1zM127 665.5h1v1h-1zM130.5 675h1v1h-1zM111.5 635.5h1v1h-1zM99 640.5h1v1h-1zM89.5 677.5h1v1h-1zM87.5 661h1v1h-1zM105 685.5h1v1h-1zM133 689.5h1v1h-1zM117 642.5h1v1h-1zM85 670.5h1v1h-1zM133.5 691.5h1v1h-1zM131 673h1v1h-1zM106 636h1v1h-1z"/><path fill="#c67a7c" d="M127.5 693h1v1h-1zM102.5 637.5h1v1h-1zM87.5 665h1v1h-1zM119.5 645.5h1v1h-1zM112.5 638h1v1h-1zM122 656.5h1v1h-1zM127 666.5h1v1h-1zM88 658.5h1v1h-1zM96.5 643.5h1v1h-1zM94 644.5h1v1h-1zM116 640.5h1v1h-1zM108.5 636h1v1h-1zM86.5 662h1v1h-1zM128 693h1v1h-1zM106 636.5h1v1h-1zM118 690.5h1v1h-1zM99 641.5h1v1h-1zM117.5 644.5h1v1h-1zM99 684h1v1h-1zM122 649h1v1h-1zM127.5 693.5h1v1h-1zM112.5 637.5h1v1h-1zM131 679.5h1v1h-1zM88.5 674h1v1h-1zM85 670.5h1v1h-1zM107 687.5h1v1h-1zM87.5 677.5h1v1h-1zM128.5 671.5h1v1h-1zM91.5 653h1v1h-1zM123 655h1v1h-1zM99.5 683.5h1v1h-1zM126 666.5h1v1h-1zM97.5 640h1v1h-1zM85.5 673h1v1h-1zM90.5 679.5h1v1h-1zM111.5 637h1v1h-1zM87.5 677.5h1v1h-1zM133 692h1v1h-1zM117 646.5h1v1h-1zM92.5 648.5h1v1h-1zM124.5 661h1v1h-1zM91.5 651h1v1h-1zM126.5 666h1v1h-1zM104 686.5h1v1h-1zM117 643.5h1v1h-1zM111 690h1v1h-1zM131 681h1v1h-1zM96.5 642.5h1v1h-1zM87.5 666.5h1v1h-1zM105 686h1v1h-1zM118 643h1v1h-1zM109 635h1v1h-1zM101.5 684.5h1v1h-1zM96.5 640.5h1v1h-1zM132 690.5h1v1h-1zM129.5 694h1v1h-1zM118.5 646h1v1h-1zM120 693h1v1h-1zM128.5 665h1v1h-1zM93.5 646.5h1v1h-1zM85 673.5h1v1h-1zM124 662h1v1h-1zM87.5 678h1v1h-1zM98 637h1v1h-1zM109.5 637h1v1h-1zM114.5 691.5h1v1h-1zM126 693.5h1v1h-1zM88.5 677h1v1h-1zM96 681h1v1h-1zM132.5 686.5h1v1h-1zM131.5 682.5h1v1h-1zM133 691h1v1h-1zM128 668.5h1v1h-1zM94 681.5h1v1h-1zM125.5 666.5h1v1h-1zM123.5 692h1v1h-1zM117 641h1v1h-1zM117 691h1v1h-1zM121.5 653.5h1v1h-1zM121.5 691.5h1v1h-1zM132 678h1v1h-1zM134 689h1v1h-1zM119.5 642h1v1h-1zM117 644.5h1v1h-1zM97.5 639.5h1v1h-1zM104.5 688.5h1v1h-1zM94 647h1v1h-1zM95 679h1v1h-1zM111.5 690.5h1v1h-1zM133.5 683.5h1v1h-1zM94.5 644.5h1v1h-1zM106 686h1v1h-1zM130 692.5h1v1h-1zM110.5 637h1v1h-1zM100.5 638h1v1h-1zM86.5 663.5h1v1h-1zM103 685h1v1h-1zM125.5 691.5h1v1h-1zM134 686h1v1h-1zM87.5 676h1v1h-1zM121.5 650.5h1v1h-1zM120.5 650h1v1h-1zM118.5 690.5h1v1h-1zM122 652h1v1h-1zM119.5 646h1v1h-1zM110 689.5h1v1h-1zM102 638h1v1h-1zM120 648.5h1v1h-1zM114 636.5h1v1h-1zM90.5 679h1v1h-1zM87.5 660h1v1h-1zM103 638h1v1h-1zM117 641h1v1h-1zM85.5 671.5h1v1h-1zM85.5 666.5h1v1h-1zM97.5 684h1v1h-1zM132 682.5h1v1h-1zM133.5 689h1v1h-1zM115.5 691.5h1v1h-1zM86 671h1v1h-1zM117 638h1v1h-1zM87.5 660h1v1h-1zM118 645.5h1v1h-1zM130 692h1v1h-1zM132.5 691.5h1v1h-1zM98 681.5h1v1h-1zM87.5 675.5h1v1h-1zM96.5 681.5h1v1h-1zM88 678.5h1v1h-1zM105 636h1v1h-1zM98 684h1v1h-1zM110 688.5h1v1h-1zM127.5 691.5h1v1h-1zM87.5 667h1v1h-1zM110.5 637.5h1v1h-1zM117.5 645h1v1h-1zM85 670.5h1v1h-1zM103.5 685h1v1h-1zM96 681h1v1h-1zM128.5 674.5h1v1h-1zM118 645h1v1h-1zM132.5 692h1v1h-1zM132 680h1v1h-1zM104 636.5h1v1h-1zM119 691h1v1h-1zM129.5 672.5h1v1h-1zM124.5 656.5h1v1h-1zM94.5 681.5h1v1h-1zM121 649h1v1h-1zM92.5 650.5h1v1h-1zM90 678.5h1v1h-1zM119 692h1v1h-1zM131 693.5h1v1h-1zM129.5 675h1v1h-1zM126 666.5h1v1h-1zM93 648h1v1h-1zM99.5 639.5h1v1h-1zM132 684.5h1v1h-1zM130 694h1v1h-1zM106 637h1v1h-1zM100 684h1v1h-1zM125.5 663.5h1v1h-1zM98 644h1v1h-1zM107 634.5h1v1h-1z"/><path d="M100.3 638.7C102.23 637.15 104.15 636.45 106.1 636.2C108.05 635.95 110.22 636.47 112 637.2C113.78 637.93 115.52 639.07 116.8 640.6C118.08 642.13 118.73 644.3 119.7 646.4C120.67 648.5 121.63 650.62 122.6 653.2C123.57 655.78 124.53 658.98 125.5 661.9C126.47 664.82 127.43 667.62 128.4 670.7C129.37 673.78 130.32 677.33 131.3 680.4C132.28 683.47 133.97 687 134.3 689.1C134.63 691.2 134.28 692.18 133.3 693C132.32 693.82 130.83 694.17 128.4 694C125.97 693.83 121.77 692.82 118.7 692C115.63 691.18 112.75 690.23 110 689.1C107.25 687.97 104.78 686.5 102.2 685.2C99.62 683.9 96.92 682.58 94.5 681.3C92.08 680.02 89.23 678.95 87.7 677.5C86.17 676.05 85.55 674.38 85.3 672.6C85.05 670.82 85.63 669.07 86.2 666.8C86.77 664.53 87.8 661.43 88.7 659C89.6 656.57 90.63 654.45 91.6 652.2C92.57 649.95 93.05 647.75 94.5 645.5C95.95 643.25 98.37 640.25 100.3 638.7Z" fill="#e3d95a" filter="url(#rRc)"/><path d="M85.3 672.6C85.05 670.82 84.42 666.57 86.2 666.8C87.98 667.03 92.03 671.63 96 674C99.97 676.37 105.67 679.17 110 681C114.33 682.83 118.5 684.5 122 685C125.5 685.5 128.95 683.32 131 684C133.05 684.68 133.92 687.6 134.3 689.1C134.68 690.6 134.28 692.18 133.3 693C132.32 693.82 130.83 694.17 128.4 694C125.97 693.83 121.77 692.82 118.7 692C115.63 691.18 112.75 690.23 110 689.1C107.25 687.97 104.78 686.5 102.2 685.2C99.62 683.9 96.92 682.58 94.5 681.3C92.08 680.02 89.23 678.95 87.7 677.5C86.17 676.05 85.55 674.38 85.3 672.6Z" fill="#c67a7c" filter="url(#rYc)"/><path fill="#e3d95a" d="M178 678h1v1h-1zM161 681h1v1h-1zM192.5 639.5h1v1h-1zM205 614h1v1h-1zM185.5 588.5h1v1h-1zM194 634.5h1v1h-1zM147 651.5h1v1h-1zM196 586.5h1v1h-1zM133 636h1v1h-1zM133.5 590h1v1h-1zM151 662h1v1h-1zM170 596.5h1v1h-1zM198.5 588h1v1h-1zM180 655.5h1v1h-1zM159.5 671.5h1v1h-1zM179.5 590h1v1h-1zM130.5 635.5h1v1h-1zM197 625.5h1v1h-1zM196.5 587h1v1h-1zM204.5 595h1v1h-1zM204 604h1v1h-1zM179 677h1v1h-1zM140 647.5h1v1h-1zM195 586h1v1h-1zM205.5 613h1v1h-1zM201 615.5h1v1h-1zM127 600.5h1v1h-1zM120.5 622h1v1h-1zM193 631h1v1h-1zM139 585h1v1h-1zM180 671.5h1v1h-1zM125 599h1v1h-1zM201.5 621.5h1v1h-1zM137 646.5h1v1h-1zM167 593.5h1v1h-1zM206.5 609h1v1h-1zM151 662.5h1v1h-1zM134 640.5h1v1h-1zM204.5 597h1v1h-1zM176.5 667.5h1v1h-1zM156.5 674.5h1v1h-1zM172.5 684h1v1h-1zM123.5 600.5h1v1h-1zM121.5 621.5h1v1h-1zM180 668.5h1v1h-1zM122.5 612h1v1h-1zM185 650.5h1v1h-1zM179 666.5h1v1h-1zM181 656h1v1h-1zM178.5 668h1v1h-1zM182 643.5h1v1h-1zM127 632h1v1h-1zM187.5 641.5h1v1h-1zM176 680.5h1v1h-1zM176.5 590h1v1h-1zM139.5 588.5h1v1h-1zM184.5 644.5h1v1h-1zM148.5 658.5h1v1h-1zM183 652h1v1h-1zM177 591h1v1h-1zM182 651h1v1h-1zM138 644h1v1h-1zM148 653.5h1v1h-1zM162 677.5h1v1h-1zM166.5 593h1v1h-1zM126.5 630h1v1h-1zM172 689.5h1v1h-1zM131.5 629.5h1v1h-1zM188 636h1v1h-1zM149.5 587.5h1v1h-1zM141 647h1v1h-1zM157.5 669.5h1v1h-1zM170.5 682h1v1h-1zM189 589.5h1v1h-1zM202.5 592h1v1h-1zM150.5 589h1v1h-1zM137.5 647.5h1v1h-1zM207.5 605.5h1v1h-1zM180.5 589.5h1v1h-1zM170 685h1v1h-1zM205 621h1v1h-1zM171.5 597h1v1h-1zM155 589.5h1v1h-1zM190 586.5h1v1h-1zM201 624h1v1h-1zM195.5 633.5h1v1h-1zM173.5 594.5h1v1h-1zM165.5 593.5h1v1h-1zM191.5 633h1v1h-1zM207 596h1v1h-1zM145.5 586.5h1v1h-1zM151.5 589.5h1v1h-1zM141.5 647.5h1v1h-1zM182.5 585.5h1v1h-1zM143.5 648.5h1v1h-1zM184 654.5h1v1h-1zM177.5 592h1v1h-1zM153.5 664h1v1h-1zM143.5 646h1v1h-1zM190.5 631.5h1v1h-1zM151.5 588h1v1h-1zM165 594.5h1v1h-1zM140.5 589h1v1h-1zM179.5 656h1v1h-1zM184.5 650h1v1h-1zM169 597.5h1v1h-1zM123 617.5h1v1h-1zM149 588h1v1h-1zM149 589h1v1h-1zM135.5 592h1v1h-1zM180.5 588.5h1v1h-1zM125 604h1v1h-1zM140.5 590.5h1v1h-1zM163.5 682.5h1v1h-1zM148.5 587.5h1v1h-1zM144 651.5h1v1h-1zM163 677h1v1h-1zM200.5 625.5h1v1h-1zM198 594.5h1v1h-1zM152.5 589h1v1h-1zM179.5 662h1v1h-1zM196.5 588.5h1v1h-1zM192.5 631.5h1v1h-1zM193.5 634.5h1v1h-1zM185.5 643h1v1h-1zM179.5 657h1v1h-1zM128 598.5h1v1h-1zM206.5 602h1v1h-1zM142.5 590h1v1h-1zM151 587h1v1h-1zM196 586.5h1v1h-1zM175.5 667h1v1h-1zM134 638.5h1v1h-1zM125.5 608h1v1h-1zM198.5 589h1v1h-1zM186.5 589h1v1h-1zM151.5 589h1v1h-1zM173.5 592.5h1v1h-1zM196.5 632.5h1v1h-1zM177 678.5h1v1h-1zM157 673.5h1v1h-1zM208 604.5h1v1h-1zM126 604h1v1h-1zM201 615.5h1v1h-1zM196.5 630h1v1h-1zM194.5 633h1v1h-1zM165 593.5h1v1h-1zM134.5 592h1v1h-1zM127 629.5h1v1h-1zM128.5 597h1v1h-1zM127 597.5h1v1h-1zM150.5 660.5h1v1h-1zM143 648h1v1h-1zM197 624.5h1v1h-1zM184.5 588h1v1h-1zM123.5 607.5h1v1h-1zM154 671.5h1v1h-1zM173 596h1v1h-1zM143 649h1v1h-1zM167.5 593h1v1h-1zM129 634h1v1h-1zM160 589h1v1h-1zM179.5 661h1v1h-1zM166 686h1v1h-1zM163.5 674.5h1v1h-1zM208 608h1v1h-1zM125.5 628.5h1v1h-1zM129 630.5h1v1h-1zM181.5 663.5h1v1h-1zM159.5 678.5h1v1h-1zM154.5 670h1v1h-1zM182.5 660h1v1h-1zM140 591h1v1h-1zM150 663.5h1v1h-1zM154.5 665.5h1v1h-1zM147 654.5h1v1h-1zM143 642.5h1v1h-1zM178 662h1v1h-1zM198.5 626h1v1h-1zM203 617.5h1v1h-1zM136 642.5h1v1h-1zM142.5 644.5h1v1h-1zM201 629.5h1v1h-1zM133 591h1v1h-1zM147.5 586h1v1h-1zM153 586h1v1h-1zM159.5 675.5h1v1h-1zM154.5 663h1v1h-1zM169 680.5h1v1h-1zM206 600h1v1h-1zM184.5 646h1v1h-1zM203.5 605h1v1h-1zM127 627h1v1h-1zM179 654h1v1h-1zM159 671h1v1h-1zM138 591.5h1v1h-1zM188.5 640.5h1v1h-1zM204 593h1v1h-1zM144 656h1v1h-1zM199 587.5h1v1h-1zM180.5 651.5h1v1h-1zM125 603h1v1h-1zM190 642h1v1h-1zM141 647.5h1v1h-1zM132 638.5h1v1h-1zM160 592h1v1h-1zM179.5 656h1v1h-1zM154 662.5h1v1h-1zM203 623.5h1v1h-1zM141 588.5h1v1h-1zM201 625h1v1h-1zM177 685h1v1h-1zM201 589h1v1h-1zM133 639.5h1v1h-1zM164 677h1v1h-1zM173 687.5h1v1h-1zM124 615.5h1v1h-1zM151 586.5h1v1h-1zM125 605h1v1h-1zM139 643h1v1h-1zM206.5 612h1v1h-1zM169.5 595.5h1v1h-1zM136.5 643.5h1v1h-1zM124.5 602.5h1v1h-1zM153.5 661.5h1v1h-1zM156.5 668.5h1v1h-1zM160.5 591h1v1h-1zM144 652h1v1h-1zM186 647h1v1h-1zM127.5 602.5h1v1h-1zM138.5 643h1v1h-1zM198.5 626h1v1h-1zM123.5 622h1v1h-1zM178 663.5h1v1h-1zM132 640h1v1h-1zM195.5 634h1v1h-1zM129 637.5h1v1h-1zM143 587.5h1v1h-1zM167.5 593h1v1h-1zM120 614.5h1v1h-1zM199.5 626h1v1h-1zM136.5 647h1v1h-1zM181.5 654h1v1h-1zM127.5 633.5h1v1h-1zM123 609.5h1v1h-1zM173.5 674.5h1v1h-1zM123.5 604h1v1h-1zM181.5 660h1v1h-1zM195.5 630.5h1v1h-1zM158 590h1v1h-1zM149 657h1v1h-1zM187.5 588h1v1h-1zM125 609h1v1h-1zM191 630.5h1v1h-1zM176.5 591h1v1h-1zM157 668.5h1v1h-1zM181 671.5h1v1h-1zM172 684.5h1v1h-1zM159.5 588.5h1v1h-1zM183 657h1v1h-1zM139.5 638h1v1h-1zM192 583.5h1v1h-1zM125 609.5h1v1h-1zM166 591.5h1v1h-1zM182.5 658h1v1h-1zM206.5 611.5h1v1h-1zM129.5 596h1v1h-1zM202.5 628.5h1v1h-1zM189.5 586.5h1v1h-1zM146.5 651h1v1h-1zM202.5 616.5h1v1h-1zM152 662h1v1h-1zM187 586.5h1v1h-1zM158 590h1v1h-1zM154 665.5h1v1h-1zM122 615h1v1h-1zM200 586.5h1v1h-1zM175 676.5h1v1h-1zM181 668.5h1v1h-1zM187.5 645.5h1v1h-1zM184.5 647.5h1v1h-1zM165 682.5h1v1h-1zM136.5 643h1v1h-1zM140 648.5h1v1h-1zM183 651h1v1h-1zM134.5 639.5h1v1h-1zM135 643.5h1v1h-1zM177 681.5h1v1h-1zM132.5 634h1v1h-1zM150.5 658.5h1v1h-1zM185.5 645h1v1h-1zM129.5 596h1v1h-1zM126 630h1v1h-1z"/><path fill="#c67a7c" d="M181.5 644h1v1h-1zM185 645.5h1v1h-1zM180.5 660.5h1v1h-1zM196.5 588.5h1v1h-1zM133.5 639.5h1v1h-1zM130 596.5h1v1h-1zM136 590h1v1h-1zM139.5 643.5h1v1h-1zM206.5 598.5h1v1h-1zM209.5 597.5h1v1h-1zM130 589.5h1v1h-1zM192.5 636.5h1v1h-1zM154.5 669h1v1h-1zM194.5 628h1v1h-1zM135.5 641.5h1v1h-1zM185 642h1v1h-1zM205.5 605.5h1v1h-1zM186.5 590h1v1h-1zM206.5 614h1v1h-1zM142.5 650.5h1v1h-1zM168 683h1v1h-1zM150.5 662h1v1h-1zM190.5 591h1v1h-1zM151.5 659.5h1v1h-1zM134 634.5h1v1h-1zM203 613h1v1h-1zM152.5 588h1v1h-1zM171 681.5h1v1h-1zM180.5 656h1v1h-1zM137 640h1v1h-1zM140 589h1v1h-1zM141.5 644.5h1v1h-1zM187.5 590.5h1v1h-1zM204 613.5h1v1h-1zM138.5 589h1v1h-1zM205 614h1v1h-1zM145 587.5h1v1h-1zM142 647.5h1v1h-1zM145 653.5h1v1h-1zM176 676.5h1v1h-1zM153.5 591h1v1h-1zM200 590h1v1h-1zM124.5 628.5h1v1h-1zM122 614.5h1v1h-1zM157.5 589h1v1h-1zM180.5 656h1v1h-1zM205.5 619.5h1v1h-1zM200 630.5h1v1h-1zM149 588.5h1v1h-1zM122.5 624h1v1h-1zM122 627.5h1v1h-1zM147.5 652h1v1h-1zM198.5 591h1v1h-1zM204 593h1v1h-1zM202.5 588.5h1v1h-1zM201.5 621h1v1h-1zM176 671.5h1v1h-1zM176.5 672.5h1v1h-1zM171 594h1v1h-1zM184.5 591h1v1h-1zM171 687h1v1h-1zM124.5 626.5h1v1h-1zM151 660h1v1h-1zM122 606.5h1v1h-1zM124 613.5h1v1h-1zM122 616.5h1v1h-1zM136 640.5h1v1h-1zM123 610.5h1v1h-1zM201 625h1v1h-1zM183 647.5h1v1h-1zM157.5 589h1v1h-1zM194 636.5h1v1h-1zM192 633h1v1h-1zM176.5 681.5h1v1h-1zM191 588h1v1h-1zM201 613.5h1v1h-1zM149 593.5h1v1h-1zM206.5 608.5h1v1h-1zM124.5 628.5h1v1h-1zM170 594h1v1h-1zM173 689.5h1v1h-1zM137.5 592h1v1h-1zM178 665.5h1v1h-1zM184.5 587h1v1h-1zM178.5 591h1v1h-1zM136.5 641.5h1v1h-1zM143 594h1v1h-1zM205 611.5h1v1h-1zM122.5 614h1v1h-1zM148.5 666h1v1h-1zM183 590.5h1v1h-1zM144 589h1v1h-1zM205.5 618h1v1h-1zM121.5 605h1v1h-1zM185 644.5h1v1h-1zM194 589.5h1v1h-1zM122 610.5h1v1h-1zM198.5 620.5h1v1h-1zM125 622.5h1v1h-1zM182.5 645.5h1v1h-1zM192.5 588.5h1v1h-1zM200.5 623h1v1h-1zM190.5 636.5h1v1h-1zM177.5 658h1v1h-1zM137 589h1v1h-1zM122.5 604.5h1v1h-1zM172.5 684h1v1h-1zM155 663.5h1v1h-1zM149.5 590h1v1h-1zM128.5 631h1v1h-1zM207 609.5h1v1h-1zM200 626.5h1v1h-1zM208 609.5h1v1h-1zM143 589h1v1h-1zM120 610h1v1h-1zM151 664.5h1v1h-1zM189 639h1v1h-1zM173 596.5h1v1h-1zM123.5 607.5h1v1h-1zM176.5 588.5h1v1h-1zM179.5 589h1v1h-1zM127.5 632.5h1v1h-1zM122 620.5h1v1h-1zM187 647h1v1h-1zM188 636.5h1v1h-1zM200.5 588.5h1v1h-1zM168.5 687h1v1h-1zM122.5 613.5h1v1h-1zM164 685.5h1v1h-1zM127 601.5h1v1h-1zM167 685h1v1h-1zM180.5 660h1v1h-1zM200.5 589.5h1v1h-1zM207 599h1v1h-1zM170 687h1v1h-1zM142.5 588.5h1v1h-1zM128 595h1v1h-1zM201.5 621h1v1h-1zM180.5 663h1v1h-1zM180.5 657.5h1v1h-1zM138.5 643.5h1v1h-1zM209 610h1v1h-1zM129.5 601.5h1v1h-1zM180.5 655h1v1h-1zM184.5 587.5h1v1h-1zM207 593h1v1h-1zM169.5 597.5h1v1h-1zM204 610.5h1v1h-1zM174.5 672h1v1h-1zM134 638.5h1v1h-1zM135 642.5h1v1h-1zM164 678h1v1h-1zM179.5 592h1v1h-1zM134 637h1v1h-1zM174 683.5h1v1h-1zM187 638.5h1v1h-1zM152.5 659h1v1h-1zM122 606h1v1h-1zM205.5 618h1v1h-1zM206 607h1v1h-1zM165 594.5h1v1h-1zM177 657.5h1v1h-1zM161.5 679.5h1v1h-1zM120.5 612.5h1v1h-1zM195 629.5h1v1h-1zM153 666h1v1h-1zM181 662.5h1v1h-1zM121.5 617.5h1v1h-1zM142.5 649h1v1h-1zM126 630.5h1v1h-1zM173.5 686.5h1v1h-1zM173 597h1v1h-1zM128 596h1v1h-1zM166 594h1v1h-1zM147 655.5h1v1h-1zM196 586.5h1v1h-1zM119.5 610h1v1h-1zM185 589h1v1h-1zM131 638h1v1h-1zM127.5 635h1v1h-1zM206.5 606h1v1h-1zM199 588h1v1h-1zM123 617h1v1h-1zM129.5 590.5h1v1h-1zM132 593h1v1h-1zM189.5 634.5h1v1h-1zM177 679h1v1h-1zM142 648h1v1h-1zM138 643h1v1h-1zM159 672h1v1h-1zM175 685.5h1v1h-1zM191 636h1v1h-1zM124.5 624h1v1h-1zM140.5 592h1v1h-1zM206 613.5h1v1h-1zM191 585h1v1h-1zM128.5 594.5h1v1h-1zM204 612.5h1v1h-1zM184.5 649.5h1v1h-1zM153 594h1v1h-1zM177.5 668.5h1v1h-1zM200.5 589h1v1h-1zM204.5 614.5h1v1h-1zM146 650h1v1h-1zM202.5 619h1v1h-1zM131.5 594.5h1v1h-1zM134 590h1v1h-1zM154.5 672h1v1h-1zM167.5 684h1v1h-1zM155.5 670h1v1h-1zM190 635.5h1v1h-1zM126 597.5h1v1h-1zM127 601.5h1v1h-1zM152.5 588h1v1h-1zM161.5 679h1v1h-1zM135 593h1v1h-1zM191 634.5h1v1h-1zM188.5 592h1v1h-1zM194.5 627h1v1h-1zM167.5 593.5h1v1h-1zM118 612.5h1v1h-1zM120 611.5h1v1h-1zM144 646.5h1v1h-1zM170 685h1v1h-1zM125.5 630h1v1h-1zM168.5 596h1v1h-1zM161.5 676.5h1v1h-1zM165.5 592.5h1v1h-1zM204.5 614.5h1v1h-1zM181 651.5h1v1h-1zM206 614h1v1h-1zM202.5 623.5h1v1h-1zM198 627h1v1h-1zM205 592.5h1v1h-1zM190.5 640.5h1v1h-1zM177.5 658.5h1v1h-1zM186 583.5h1v1h-1zM189 639.5h1v1h-1zM132.5 594h1v1h-1zM192.5 587.5h1v1h-1zM188 589.5h1v1h-1zM125.5 629h1v1h-1zM128 602h1v1h-1zM177 654.5h1v1h-1zM175 591.5h1v1h-1zM143.5 651.5h1v1h-1zM121.5 612h1v1h-1zM182 660h1v1h-1zM152 586h1v1h-1zM121 607.5h1v1h-1zM203 616h1v1h-1zM195 627.5h1v1h-1zM138.5 589.5h1v1h-1zM184.5 643h1v1h-1zM137.5 589h1v1h-1zM184.5 590h1v1h-1zM146.5 656.5h1v1h-1zM136 592h1v1h-1zM130 634.5h1v1h-1zM166 683.5h1v1h-1zM159.5 676h1v1h-1zM145 590h1v1h-1zM139 592h1v1h-1zM205 618.5h1v1h-1zM124 630.5h1v1h-1zM180.5 647.5h1v1h-1zM181 655h1v1h-1zM204 606h1v1h-1zM193 630.5h1v1h-1zM179.5 655.5h1v1h-1zM185.5 654h1v1h-1zM135 591h1v1h-1zM169.5 593.5h1v1h-1zM187.5 587h1v1h-1zM209.5 603h1v1h-1zM156.5 590h1v1h-1zM196 630h1v1h-1zM165 680.5h1v1h-1zM203.5 598h1v1h-1zM188 587.5h1v1h-1zM192 635.5h1v1h-1zM186.5 589h1v1h-1zM128 593.5h1v1h-1zM148.5 589.5h1v1h-1zM176.5 667.5h1v1h-1zM168 686h1v1h-1zM187 640.5h1v1h-1zM183.5 651h1v1h-1zM200.5 620.5h1v1h-1zM189.5 584h1v1h-1zM158.5 594.5h1v1h-1zM172 684h1v1h-1zM122.5 619.5h1v1h-1zM191.5 589.5h1v1h-1zM178.5 659h1v1h-1zM151.5 588h1v1h-1zM169.5 596.5h1v1h-1zM179 592h1v1h-1zM147 653.5h1v1h-1zM194.5 589h1v1h-1zM187.5 636.5h1v1h-1zM178.5 660h1v1h-1zM122 600.5h1v1h-1zM167 680h1v1h-1zM189.5 589.5h1v1h-1zM200.5 590.5h1v1h-1zM156.5 664h1v1h-1z"/><path d="M131.5 594.5C129.42 596.5 127.92 598.92 126.5 601.5C125.08 604.08 123.68 607.33 123 610C122.32 612.67 122.25 614.85 122.4 617.5C122.55 620.15 122.67 623.27 123.9 625.9C125.13 628.53 127.58 630.58 129.8 633.3C132.02 636.02 134.73 639.23 137.2 642.2C139.67 645.17 142.13 647.63 144.6 651.1C147.07 654.57 149.53 659.05 152 663C154.47 666.95 157.07 671.47 159.4 674.8C161.73 678.13 164.02 680.9 166 683C167.98 685.1 169.8 686.9 171.3 687.4C172.8 687.9 173.97 687.23 175 686C176.03 684.77 177 683 177.5 680C178 677 177.25 672.67 178 668C178.75 663.33 180.65 656.05 182 652C183.35 647.95 184.18 646.57 186.1 643.7C188.02 640.83 191.03 638.02 193.5 634.8C195.97 631.58 198.92 627.85 200.9 624.4C202.88 620.95 204.28 617.8 205.4 614.1C206.52 610.4 207.6 605.67 207.6 602.2C207.6 598.73 207 595.57 205.4 593.3C203.8 591.03 200.73 589.57 198 588.6C195.27 587.63 192 587.18 189 587.5C186 587.82 182.83 588.92 180 590.5C177.17 592.08 174.33 596.33 172 597C169.67 597.67 168.5 595.67 166 594.5C163.5 593.33 160.17 591 157 590C153.83 589 150 588.58 147 588.5C144 588.42 141.58 588.5 139 589.5C136.42 590.5 133.58 592.5 131.5 594.5Z" fill="#e3d95a" filter="url(#rRc)"/><path d="M131.5 594.5C129.92 596.17 127.92 598.92 126.5 601.5C125.08 604.08 123.68 607.33 123 610C122.32 612.67 122.25 614.85 122.4 617.5C122.55 620.15 122.67 623.27 123.9 625.9C125.13 628.53 127.78 630.87 129.8 633.3C131.82 635.73 134.38 640.72 136 640.5C137.62 640.28 138.67 635.42 139.5 632C140.33 628.58 140.83 624.33 141 620C141.17 615.67 140.83 610.17 140.5 606C140.17 601.83 139.75 597.42 139 595C138.25 592.58 137.25 591.58 136 591.5C134.75 591.42 133.08 592.83 131.5 594.5Z" fill="#c67a7c" filter="url(#rYd)"/><path d="M139 589.5C140.25 587.92 144 588.42 147 588.5C150 588.58 154.08 588.75 157 590C159.92 591.25 163.33 593.83 164.5 596C165.67 598.17 165.08 601.33 164 603C162.92 604.67 160.33 605.33 158 606C155.67 606.67 152.67 607.17 150 607C147.33 606.83 143.75 606.5 142 605C140.25 603.5 140 600.58 139.5 598C139 595.42 137.75 591.08 139 589.5Z" fill="#c67a7c" filter="url(#rYd)"/><path d="M139.5 598C139.67 595.5 140.25 603.5 142 605C143.75 606.5 147.33 606.83 150 607C152.67 607.17 155.67 606.67 158 606C160.33 605.33 162.87 600.67 164 603C165.13 605.33 164.57 613.95 164.8 620C165.03 626.05 165.05 632.63 165.4 639.3C165.75 645.97 166.38 654.05 166.9 660C167.42 665.95 167.9 670.58 168.5 675C169.1 679.42 170.92 685.17 170.5 686.5C170.08 687.83 167.85 684.95 166 683C164.15 681.05 161.73 678.13 159.4 674.8C157.07 671.47 154.47 666.95 152 663C149.53 659.05 147.07 654.57 144.6 651.1C142.13 647.63 138.63 643.97 137.2 642.2C135.77 640.43 135.62 642.2 136 640.5C136.38 638.8 138.67 635.42 139.5 632C140.33 628.58 141 625.67 141 620C141 614.33 139.33 600.5 139.5 598Z" fill="#c67a7c" filter="url(#rYc)"/><path d="M134.5 638.5C134.42 640.08 138 643 140 645.5C142 648 144.33 650.42 146.5 653.5C148.67 656.58 150.75 660.42 153 664C155.25 667.58 157.83 671.83 160 675C162.17 678.17 164.17 680.97 166 683C167.83 685.03 170.33 687.37 171 687.2C171.67 687.03 171 684.37 170 682C169 679.63 166.75 676.17 165 673C163.25 669.83 161.5 666.33 159.5 663C157.5 659.67 155.17 656.17 153 653C150.83 649.83 148.58 646.83 146.5 644C144.42 641.17 142.5 636.92 140.5 636C138.5 635.08 134.58 636.92 134.5 638.5Z" fill="#c67a7c" filter="url(#rYd)"/><path d="M162.5 599C163.3 596.25 166.33 595.67 168 597.5C169.67 599.33 171.25 604.58 172.5 610C173.75 615.42 174.92 623.33 175.5 630C176.08 636.67 176.08 643.67 176 650C175.92 656.33 175.42 663 175 668C174.58 673 174.08 676.83 173.5 680C172.92 683.17 172.25 686.33 171.5 687C170.75 687.67 169.67 686.83 169 684C168.33 681.17 168 675.33 167.5 670C167 664.67 166.48 658.33 166 652C165.52 645.67 165.07 638.33 164.6 632C164.13 625.67 163.55 619.5 163.2 614C162.85 608.5 161.7 601.75 162.5 599Z" fill="#e3d95a" filter="url(#rRb)"/><path fill="#e3d95a" d="M179 683h1v1h-1zM186.5 662.5h1v1h-1zM182.5 670h1v1h-1zM205 646.5h1v1h-1zM183 681h1v1h-1zM204 662.5h1v1h-1zM194 657h1v1h-1zM209 657.5h1v1h-1zM173 679h1v1h-1zM186 663h1v1h-1zM201 648h1v1h-1zM197 670.5h1v1h-1zM205 662.5h1v1h-1zM206 660h1v1h-1zM207.5 657.5h1v1h-1zM196 651h1v1h-1zM198.5 651.5h1v1h-1zM176.5 687h1v1h-1zM195.5 654h1v1h-1zM190 674.5h1v1h-1zM203 665.5h1v1h-1zM196 655h1v1h-1zM191 661h1v1h-1zM207.5 658h1v1h-1zM195.5 654h1v1h-1zM197 655h1v1h-1zM198 649h1v1h-1zM185.5 683.5h1v1h-1zM180.5 687h1v1h-1zM202.5 648h1v1h-1zM178 687.5h1v1h-1zM175.5 677.5h1v1h-1zM189.5 659.5h1v1h-1zM198.5 649h1v1h-1zM189.5 677.5h1v1h-1zM195.5 652h1v1h-1zM194.5 655h1v1h-1zM205.5 650.5h1v1h-1zM210 655.5h1v1h-1zM197.5 668.5h1v1h-1zM185.5 667h1v1h-1zM177.5 685.5h1v1h-1zM198.5 668.5h1v1h-1zM179.5 671h1v1h-1zM205 659h1v1h-1zM185 678.5h1v1h-1zM197 668.5h1v1h-1zM208 653h1v1h-1zM175 677.5h1v1h-1zM172 681.5h1v1h-1zM206.5 658.5h1v1h-1zM183.5 683.5h1v1h-1zM197 668.5h1v1h-1zM182 668h1v1h-1zM177 687.5h1v1h-1zM204.5 650h1v1h-1zM203.5 665h1v1h-1zM174.5 687.5h1v1h-1zM187.5 662.5h1v1h-1zM185.5 677.5h1v1h-1zM175.5 679h1v1h-1zM191.5 671.5h1v1h-1zM176 675h1v1h-1zM184.5 664h1v1h-1zM184.5 679.5h1v1h-1zM179.5 672.5h1v1h-1zM190.5 659h1v1h-1zM180.5 685h1v1h-1z"/><path fill="#c67a7c" d="M206.5 652.5h1v1h-1zM197.5 668.5h1v1h-1zM174 683.5h1v1h-1zM182.5 667.5h1v1h-1zM176 685.5h1v1h-1zM188 677h1v1h-1zM189.5 671h1v1h-1zM192.5 672h1v1h-1zM199.5 647h1v1h-1zM188.5 663h1v1h-1zM179 684h1v1h-1zM208.5 655.5h1v1h-1zM196.5 651.5h1v1h-1zM204.5 664.5h1v1h-1zM194 669.5h1v1h-1zM174.5 681h1v1h-1zM205 662.5h1v1h-1zM204 664h1v1h-1zM174.5 686h1v1h-1zM196 652h1v1h-1zM196.5 669h1v1h-1zM206.5 653.5h1v1h-1zM177 686.5h1v1h-1zM197.5 649.5h1v1h-1zM195 671.5h1v1h-1zM193.5 656h1v1h-1zM192 670.5h1v1h-1zM187.5 678.5h1v1h-1zM176 684.5h1v1h-1zM191 660h1v1h-1zM180 681.5h1v1h-1zM182.5 671h1v1h-1zM195.5 654.5h1v1h-1zM185.5 679.5h1v1h-1zM198.5 649.5h1v1h-1zM192.5 673h1v1h-1zM195 673.5h1v1h-1zM202 666h1v1h-1zM175.5 683.5h1v1h-1zM187 682.5h1v1h-1zM176 686h1v1h-1zM180 670.5h1v1h-1zM194.5 648h1v1h-1zM203 664.5h1v1h-1zM176.5 675.5h1v1h-1zM176 675h1v1h-1zM174 678h1v1h-1zM180 670.5h1v1h-1zM205 660h1v1h-1zM185.5 680.5h1v1h-1zM193.5 671h1v1h-1zM178.5 671.5h1v1h-1zM210.5 654h1v1h-1zM183 683h1v1h-1zM177.5 684h1v1h-1zM197.5 653h1v1h-1zM187.5 665h1v1h-1zM176 687h1v1h-1zM175 681.5h1v1h-1zM173 683.5h1v1h-1zM177.5 677h1v1h-1zM175.5 680.5h1v1h-1zM190.5 659h1v1h-1zM187.5 679h1v1h-1zM179.5 686h1v1h-1zM196 647.5h1v1h-1zM197 650.5h1v1h-1zM193 655.5h1v1h-1zM179.5 671.5h1v1h-1zM193 656h1v1h-1zM206.5 651.5h1v1h-1zM180 671h1v1h-1zM180 675.5h1v1h-1zM178.5 674h1v1h-1zM193 670h1v1h-1zM189.5 676.5h1v1h-1zM185 665.5h1v1h-1zM206.5 662.5h1v1h-1zM188 663h1v1h-1zM179 670.5h1v1h-1zM197.5 666h1v1h-1zM193 675h1v1h-1z"/><path d="M203.6 646.3C204.65 646.65 206.33 648.28 207.1 649.8C207.87 651.32 208.32 653.53 208.2 655.4C208.08 657.27 207.75 659.13 206.4 661C205.05 662.87 202.32 664.62 200.1 666.6C197.88 668.58 195.32 670.68 193.1 672.9C190.88 675.12 188.78 677.8 186.8 679.9C184.82 682 182.95 684.08 181.2 685.5C179.45 686.92 177.47 688.75 176.3 688.4C175.13 688.05 174.32 685.17 174.2 683.4C174.08 681.63 174.78 679.55 175.6 677.8C176.42 676.05 177.7 674.53 179.1 672.9C180.5 671.27 182.48 669.63 184 668C185.52 666.37 186.68 664.85 188.2 663.1C189.72 661.35 191.47 659.48 193.1 657.5C194.73 655.52 196.72 652.83 198 651.2C199.28 649.57 199.87 648.52 200.8 647.7C201.73 646.88 202.55 645.95 203.6 646.3Z" fill="#c67a7c" filter="url(#rYa)"/><path fill="#e3d95a" d="M137.5 581.5h1v1h-1zM143 563.5h1v1h-1zM147 577.5h1v1h-1zM141.5 563.5h1v1h-1zM135 562h1v1h-1zM134.5 560.5h1v1h-1zM138.5 581h1v1h-1zM145 576.5h1v1h-1zM135 563.5h1v1h-1zM133 562h1v1h-1zM134.5 574.5h1v1h-1zM136 579.5h1v1h-1zM143 582h1v1h-1zM135 573.5h1v1h-1zM136 578.5h1v1h-1zM136 560h1v1h-1zM134.5 571h1v1h-1zM141 579.5h1v1h-1zM136 560.5h1v1h-1zM137 558h1v1h-1zM135.5 579h1v1h-1zM133.5 565h1v1h-1zM137 580.5h1v1h-1zM138 581h1v1h-1zM146.5 565.5h1v1h-1zM146.5 581h1v1h-1zM138 580h1v1h-1zM147 573.5h1v1h-1zM141.5 562h1v1h-1zM141 562h1v1h-1zM133.5 574h1v1h-1zM145 565h1v1h-1zM137 579h1v1h-1zM135.5 579.5h1v1h-1zM136.5 582h1v1h-1zM145.5 568.5h1v1h-1zM143.5 581h1v1h-1zM147.5 577h1v1h-1zM133.5 567.5h1v1h-1zM146.5 568.5h1v1h-1zM147 578.5h1v1h-1zM136 580h1v1h-1zM134.5 572.5h1v1h-1zM144.5 565h1v1h-1zM133.5 565.5h1v1h-1zM140.5 562.5h1v1h-1zM141 560.5h1v1h-1zM146.5 571h1v1h-1zM134.5 565.5h1v1h-1z"/><path fill="#c67a7c" d="M138.5 559.5h1v1h-1zM137 565h1v1h-1zM147 575.5h1v1h-1zM136 562h1v1h-1zM149.5 574h1v1h-1zM133.5 572.5h1v1h-1zM147 577.5h1v1h-1zM139 580.5h1v1h-1zM136.5 561.5h1v1h-1zM140.5 582h1v1h-1zM134.5 579h1v1h-1zM145 578.5h1v1h-1zM145.5 570.5h1v1h-1zM134.5 577.5h1v1h-1zM133.5 572.5h1v1h-1zM133.5 574.5h1v1h-1zM136.5 580h1v1h-1zM142.5 562h1v1h-1zM145 572.5h1v1h-1zM136.5 580h1v1h-1zM137.5 561.5h1v1h-1zM139 580.5h1v1h-1zM143.5 564.5h1v1h-1zM144.5 564h1v1h-1zM134.5 575.5h1v1h-1zM148.5 578.5h1v1h-1zM141.5 580.5h1v1h-1zM138 560.5h1v1h-1zM139 558h1v1h-1zM143 567h1v1h-1zM138 580h1v1h-1zM147 572h1v1h-1zM143 582h1v1h-1zM132.5 568h1v1h-1zM139.5 581h1v1h-1zM133.5 578h1v1h-1zM144.5 564.5h1v1h-1zM134 559h1v1h-1zM133.5 570h1v1h-1zM136.5 580h1v1h-1zM141.5 583h1v1h-1zM133.5 579.5h1v1h-1zM137.5 561h1v1h-1zM137 558.5h1v1h-1zM135.5 571.5h1v1h-1zM143 580.5h1v1h-1zM147.5 567.5h1v1h-1zM145 569.5h1v1h-1zM135.5 563h1v1h-1zM141 581.5h1v1h-1zM144 564.5h1v1h-1zM137 560h1v1h-1zM143.5 564.5h1v1h-1zM147 575.5h1v1h-1zM140.5 560.5h1v1h-1zM134.5 566h1v1h-1zM138.5 560.5h1v1h-1zM142.5 581h1v1h-1zM134.5 572.5h1v1h-1zM146.5 579h1v1h-1zM137.5 579.5h1v1h-1zM139 582h1v1h-1zM134 569h1v1h-1zM133.5 566h1v1h-1zM134 569.5h1v1h-1zM136 563.5h1v1h-1zM142 561.5h1v1h-1zM141 562.5h1v1h-1zM141.5 561.5h1v1h-1zM132.5 571h1v1h-1zM143.5 579h1v1h-1z"/><path d="M137.5 578.5C138.83 577.08 144.5 576.58 146.5 577.5C148.5 578.42 148.58 581.83 149.5 584C150.42 586.17 153.42 589.25 152 590.5C150.58 591.75 143.25 592.25 141 591.5C138.75 590.75 139.08 588.17 138.5 586C137.92 583.83 136.17 579.92 137.5 578.5Z" fill="#c67a7c" filter="url(#rYd)"/><path d="M135.2 561.7C135.88 560.42 137.1 560.1 138.3 560.1C139.5 560.1 141.22 560.75 142.4 561.7C143.58 562.65 144.55 563.93 145.4 565.8C146.25 567.67 147.23 570.7 147.5 572.9C147.77 575.1 147.85 577.47 147 579C146.15 580.53 144.2 581.75 142.4 582.1C140.6 582.45 137.57 582.12 136.2 581.1C134.83 580.08 134.53 578.22 134.2 576C133.87 573.78 134.03 570.18 134.2 567.8C134.37 565.42 134.52 562.98 135.2 561.7Z" fill="#c67a7c" filter="url(#rYb)"/><path fill="#e3d95a" d="M173.5 543.5h1v1h-1zM180.5 540h1v1h-1zM181 555h1v1h-1zM179.5 574h1v1h-1zM165.5 555.5h1v1h-1zM177.5 559.5h1v1h-1zM185 568h1v1h-1zM184.5 546.5h1v1h-1zM168.5 549h1v1h-1zM173.5 569h1v1h-1zM175.5 574h1v1h-1zM181 569.5h1v1h-1zM179.5 557.5h1v1h-1zM172 571h1v1h-1zM167 554.5h1v1h-1zM185 555h1v1h-1zM176.5 562.5h1v1h-1zM178.5 545.5h1v1h-1zM170.5 567h1v1h-1zM171 567h1v1h-1zM182 543h1v1h-1zM177.5 546.5h1v1h-1zM172 544h1v1h-1zM180.5 561h1v1h-1zM175 564.5h1v1h-1zM175 566h1v1h-1zM177.5 559.5h1v1h-1zM174.5 575h1v1h-1zM166 559h1v1h-1zM165.5 554h1v1h-1zM170 550h1v1h-1zM185.5 551.5h1v1h-1zM185 565.5h1v1h-1zM178.5 549.5h1v1h-1zM182.5 539.5h1v1h-1zM172.5 572h1v1h-1zM177.5 547h1v1h-1zM183 548h1v1h-1zM176 559.5h1v1h-1zM180 559h1v1h-1zM183.5 542h1v1h-1zM185.5 553h1v1h-1zM182.5 535h1v1h-1zM183.5 567.5h1v1h-1zM178.5 548.5h1v1h-1zM173.5 567h1v1h-1zM185 542.5h1v1h-1zM174.5 565.5h1v1h-1zM182.5 537.5h1v1h-1zM176.5 542.5h1v1h-1zM181.5 553.5h1v1h-1zM168.5 549h1v1h-1zM171 568.5h1v1h-1zM183.5 539h1v1h-1zM172.5 568h1v1h-1zM175 575h1v1h-1zM182.5 538.5h1v1h-1zM181.5 553.5h1v1h-1zM170.5 548.5h1v1h-1z"/><path fill="#c67a7c" d="M178.5 570.5h1v1h-1zM182.5 551h1v1h-1zM177.5 562h1v1h-1zM174 545.5h1v1h-1zM185 550.5h1v1h-1zM186 544h1v1h-1zM186 544h1v1h-1zM185 548.5h1v1h-1zM177 559.5h1v1h-1zM172 568h1v1h-1zM174.5 566h1v1h-1zM183 549.5h1v1h-1zM165 554h1v1h-1zM185.5 566.5h1v1h-1zM181 552h1v1h-1zM185 545.5h1v1h-1zM176 563.5h1v1h-1zM171.5 574.5h1v1h-1zM181.5 536.5h1v1h-1zM178 546.5h1v1h-1zM179.5 551h1v1h-1zM185 566.5h1v1h-1zM167 556.5h1v1h-1zM179.5 557h1v1h-1zM173.5 542.5h1v1h-1zM182 557.5h1v1h-1zM167.5 550.5h1v1h-1zM168 562.5h1v1h-1zM183.5 541.5h1v1h-1zM178.5 548h1v1h-1zM175 576h1v1h-1zM173.5 541h1v1h-1zM177.5 547h1v1h-1zM184 540.5h1v1h-1zM177.5 560.5h1v1h-1zM184 539.5h1v1h-1zM180 554.5h1v1h-1zM185 546.5h1v1h-1zM185.5 550.5h1v1h-1zM176.5 565h1v1h-1zM180.5 555h1v1h-1zM185.5 544h1v1h-1zM175.5 543h1v1h-1zM183 552h1v1h-1zM184 538h1v1h-1zM176 561h1v1h-1zM186.5 562.5h1v1h-1zM183 545.5h1v1h-1zM166.5 558h1v1h-1zM180.5 540h1v1h-1zM178.5 573h1v1h-1zM166.5 556h1v1h-1zM187 562h1v1h-1zM182 554h1v1h-1zM179.5 552h1v1h-1zM175 565.5h1v1h-1zM176.5 546.5h1v1h-1zM169.5 566.5h1v1h-1zM182 537.5h1v1h-1zM172.5 572.5h1v1h-1zM174.5 543h1v1h-1z"/><path d="M181.7 536.1C183.07 535.6 183.7 536.67 184.3 538.2C184.9 539.73 185.65 542.42 185.3 545.3C184.95 548.18 183.73 552.43 182.2 555.5C180.67 558.57 177.63 561.48 176.1 563.7C174.57 565.92 174.02 568.28 173 568.8C171.98 569.32 171.02 568.15 170 566.8C168.98 565.45 167.33 562.75 166.9 560.7C166.47 558.65 166.72 556.55 167.4 554.5C168.08 552.45 169.55 550.62 171 548.4C172.45 546.18 174.32 543.25 176.1 541.2C177.88 539.15 180.33 536.6 181.7 536.1Z" fill="#e3d95a" filter="url(#rRb)"/><path d="M184.8 545.3C185.65 545.82 185.97 555.18 186.3 558.6C186.63 562.02 187.48 563.75 186.8 565.8C186.12 567.85 183.98 569.37 182.2 570.9C180.42 572.43 177.72 574.67 176.1 575C174.48 575.33 173.02 573.93 172.5 572.9C171.98 571.87 172.07 570.5 173 568.8C173.93 567.1 176.73 564.92 178.1 562.7C179.47 560.48 180.08 558.4 181.2 555.5C182.32 552.6 183.95 544.78 184.8 545.3Z" fill="#e3d95a" filter="url(#rRa)"/><path d="M176.1 575C174.85 575.32 173.02 573.93 172.5 572.9C171.98 571.87 172.17 570.37 173 568.8C173.83 567.23 176.08 565.05 177.5 563.5C178.92 561.95 180.33 559.92 181.5 559.5C182.67 559.08 184.17 559.83 184.5 561C184.83 562.17 184.25 564.83 183.5 566.5C182.75 568.17 181.23 569.58 180 571C178.77 572.42 177.35 574.68 176.1 575Z" fill="#c67a7c" filter="url(#rYa)"/><path fill="#e3d95a" d="M251 616h1v1h-1zM251.5 621h1v1h-1zM226.5 638h1v1h-1zM235 634.5h1v1h-1zM224.5 625h1v1h-1zM232.5 611h1v1h-1zM247 610.5h1v1h-1zM235 636.5h1v1h-1zM232 610.5h1v1h-1zM250.5 621h1v1h-1zM223.5 624h1v1h-1zM230 610h1v1h-1zM227 637.5h1v1h-1zM253.5 621h1v1h-1zM229.5 611h1v1h-1zM250.5 610.5h1v1h-1zM245.5 627h1v1h-1zM241.5 631h1v1h-1zM242.5 633h1v1h-1zM223.5 614h1v1h-1zM238.5 634.5h1v1h-1zM251 614h1v1h-1zM224.5 613h1v1h-1zM225 631.5h1v1h-1zM251 613h1v1h-1zM227.5 637h1v1h-1zM225 636h1v1h-1zM253 618h1v1h-1zM250 613.5h1v1h-1zM244.5 631.5h1v1h-1zM250.5 613.5h1v1h-1zM224 633.5h1v1h-1zM234 609h1v1h-1zM233 634h1v1h-1zM228 611.5h1v1h-1zM224 631h1v1h-1zM223.5 619h1v1h-1zM224 632.5h1v1h-1zM225.5 613h1v1h-1zM252 620h1v1h-1zM229 638h1v1h-1zM238 635.5h1v1h-1zM242 609.5h1v1h-1zM232.5 636.5h1v1h-1zM242 609h1v1h-1zM250 624.5h1v1h-1zM222 622h1v1h-1zM231 638h1v1h-1zM247.5 627.5h1v1h-1zM251 615.5h1v1h-1zM246 609.5h1v1h-1zM235.5 608.5h1v1h-1zM236.5 632.5h1v1h-1zM250.5 625.5h1v1h-1zM246.5 609.5h1v1h-1zM225 629h1v1h-1zM242.5 629h1v1h-1zM226 626.5h1v1h-1zM241 631.5h1v1h-1zM226 611h1v1h-1zM253 615.5h1v1h-1zM224.5 625h1v1h-1zM246.5 628h1v1h-1zM230.5 610h1v1h-1zM224.5 627.5h1v1h-1zM233 610h1v1h-1zM224 626.5h1v1h-1zM228 638h1v1h-1zM234.5 632h1v1h-1zM223 619.5h1v1h-1zM226 613.5h1v1h-1zM232.5 633h1v1h-1zM245.5 628.5h1v1h-1zM243.5 610h1v1h-1zM223 627.5h1v1h-1zM250.5 624h1v1h-1z"/><path fill="#c67a7c" d="M230.5 638h1v1h-1zM252.5 615.5h1v1h-1zM224 633h1v1h-1zM239.5 631.5h1v1h-1zM237.5 609h1v1h-1zM232.5 637h1v1h-1zM224 631.5h1v1h-1zM244.5 626.5h1v1h-1zM247.5 627h1v1h-1zM248 612.5h1v1h-1zM225 632h1v1h-1zM229.5 636.5h1v1h-1zM224.5 629h1v1h-1zM246.5 630.5h1v1h-1zM242.5 609h1v1h-1zM241 631.5h1v1h-1zM223.5 619h1v1h-1zM222.5 622.5h1v1h-1zM229 638.5h1v1h-1zM224 636h1v1h-1zM242.5 631h1v1h-1zM235 610.5h1v1h-1zM246.5 609.5h1v1h-1zM224 634h1v1h-1zM230.5 609.5h1v1h-1zM222.5 617h1v1h-1zM232 636h1v1h-1zM222.5 624h1v1h-1zM223.5 620h1v1h-1zM223 622.5h1v1h-1zM242 609.5h1v1h-1zM250 613.5h1v1h-1zM233 610h1v1h-1zM241 631.5h1v1h-1zM224 631h1v1h-1zM231 638h1v1h-1zM223.5 628.5h1v1h-1zM234 609.5h1v1h-1zM226 638.5h1v1h-1zM243 631h1v1h-1zM225 614.5h1v1h-1zM245.5 610.5h1v1h-1zM246.5 610h1v1h-1zM229 638.5h1v1h-1zM226.5 613h1v1h-1zM252.5 617.5h1v1h-1zM225 632h1v1h-1zM253 618.5h1v1h-1zM233 636.5h1v1h-1zM254 624h1v1h-1zM237.5 609.5h1v1h-1zM243 629.5h1v1h-1zM235.5 635.5h1v1h-1zM239 632.5h1v1h-1zM253.5 616h1v1h-1zM233.5 632h1v1h-1zM229 638.5h1v1h-1zM229 638h1v1h-1zM242 611h1v1h-1zM251 624.5h1v1h-1zM225.5 629h1v1h-1zM234 609h1v1h-1zM244 631h1v1h-1zM250.5 614.5h1v1h-1zM242.5 633h1v1h-1zM243 609.5h1v1h-1zM249 611h1v1h-1zM224.5 628.5h1v1h-1zM223.5 615h1v1h-1zM243.5 609.5h1v1h-1zM226.5 611.5h1v1h-1zM233 635h1v1h-1zM241 630.5h1v1h-1zM228 638.5h1v1h-1zM239 634h1v1h-1zM229 609.5h1v1h-1zM223.5 620h1v1h-1zM248.5 624h1v1h-1zM252 622h1v1h-1zM250.5 615h1v1h-1zM224 621.5h1v1h-1zM224 615h1v1h-1zM233.5 637h1v1h-1zM224 627.5h1v1h-1z"/><path d="M225 613.5C226.03 611.28 228.4 611 230.7 610.4C233 609.8 235.92 609.8 238.8 609.9C241.68 610 245.7 610.07 248 611C250.3 611.93 251.75 613.88 252.6 615.5C253.45 617.12 253.52 618.98 253.1 620.7C252.68 622.42 251.63 624.1 250.1 625.8C248.57 627.5 245.78 629.55 243.9 630.9C242.02 632.25 241 632.72 238.8 633.9C236.6 635.08 232.82 637.23 230.7 638C228.58 638.77 227.05 639.35 226.1 638.5C225.15 637.65 225.27 635.37 225 632.9C224.73 630.43 224.5 626.93 224.5 623.7C224.5 620.47 223.97 615.72 225 613.5Z" fill="#e3d95a" filter="url(#rRa)"/><path d="M238.8 609.9C240.3 609.23 245.7 610.07 248 611C250.3 611.93 251.75 613.88 252.6 615.5C253.45 617.12 253.52 618.98 253.1 620.7C252.68 622.42 251.63 624.1 250.1 625.8C248.57 627.5 245.58 631.03 243.9 630.9C242.22 630.77 240.82 627.65 240 625C239.18 622.35 239.2 617.52 239 615C238.8 612.48 237.3 610.57 238.8 609.9Z" fill="#c67a7c" filter="url(#rYa)"/><path fill="#e3d95a" d="M214.5 633h1v1h-1zM220 650.5h1v1h-1zM209.5 628.5h1v1h-1zM208.5 638.5h1v1h-1zM215 638h1v1h-1zM212.5 629h1v1h-1zM216 636.5h1v1h-1zM212.5 646h1v1h-1zM205.5 634h1v1h-1zM209 631.5h1v1h-1zM208.5 627.5h1v1h-1zM217 646.5h1v1h-1zM204.5 632h1v1h-1zM211 637.5h1v1h-1zM217 638.5h1v1h-1zM213.5 632h1v1h-1zM216.5 638h1v1h-1zM218 645h1v1h-1zM211.5 631.5h1v1h-1zM207.5 620h1v1h-1zM203.5 634h1v1h-1zM211 635h1v1h-1zM209.5 637.5h1v1h-1zM209 632h1v1h-1zM218 637.5h1v1h-1zM206.5 635h1v1h-1zM207 637h1v1h-1zM208 635h1v1h-1zM206 646.5h1v1h-1zM213 632.5h1v1h-1zM212 642h1v1h-1zM203.5 635.5h1v1h-1zM214.5 630.5h1v1h-1zM216 643h1v1h-1zM211 630h1v1h-1zM212 633h1v1h-1zM210 634h1v1h-1zM201 639h1v1h-1zM214 643h1v1h-1zM212.5 638h1v1h-1zM201 636.5h1v1h-1zM211.5 637h1v1h-1zM210.5 637.5h1v1h-1zM211.5 634h1v1h-1zM204 637h1v1h-1zM215.5 645h1v1h-1zM210 637h1v1h-1zM213 633h1v1h-1zM213.5 644.5h1v1h-1zM214 625.5h1v1h-1zM215.5 634h1v1h-1zM210.5 632.5h1v1h-1zM217 637.5h1v1h-1zM209 638.5h1v1h-1zM210.5 641h1v1h-1zM213 634.5h1v1h-1zM202.5 641h1v1h-1zM205 640.5h1v1h-1zM212.5 630.5h1v1h-1zM213 625.5h1v1h-1zM212.5 641.5h1v1h-1zM215.5 645.5h1v1h-1zM205.5 644h1v1h-1zM213 631.5h1v1h-1zM212.5 638h1v1h-1zM217 640h1v1h-1zM212 637h1v1h-1zM212 651.5h1v1h-1zM210.5 644.5h1v1h-1zM214.5 637.5h1v1h-1zM212 640h1v1h-1zM212 617.5h1v1h-1zM213.5 627.5h1v1h-1zM212.5 633.5h1v1h-1zM214 630.5h1v1h-1zM214 640.5h1v1h-1zM211.5 633.5h1v1h-1zM214 634h1v1h-1zM215.5 632.5h1v1h-1zM207.5 638h1v1h-1zM207.5 637h1v1h-1zM212 627h1v1h-1zM210.5 630h1v1h-1zM209 641h1v1h-1zM219 634.5h1v1h-1zM213.5 638h1v1h-1zM215.5 633h1v1h-1zM209 630h1v1h-1zM207 644h1v1h-1zM206.5 635.5h1v1h-1zM214 644h1v1h-1zM206.5 642h1v1h-1zM205 641h1v1h-1zM204.5 627.5h1v1h-1zM206 636.5h1v1h-1zM213 640h1v1h-1zM211.5 633h1v1h-1zM208 636h1v1h-1zM215 636h1v1h-1zM212.5 629.5h1v1h-1zM210.5 644h1v1h-1zM211 633.5h1v1h-1zM213.5 624h1v1h-1zM209.5 638h1v1h-1zM211.5 642.5h1v1h-1zM217 636.5h1v1h-1zM212 636.5h1v1h-1zM207.5 637.5h1v1h-1zM217 639h1v1h-1zM214.5 634.5h1v1h-1zM216 629.5h1v1h-1zM205.5 628h1v1h-1zM210 639.5h1v1h-1zM206.5 637h1v1h-1zM213.5 628h1v1h-1zM209 642h1v1h-1zM213.5 640.5h1v1h-1zM211.5 632h1v1h-1zM208.5 636h1v1h-1zM213 636h1v1h-1zM210 645h1v1h-1zM208 640h1v1h-1zM214.5 629h1v1h-1zM202.5 625h1v1h-1zM214.5 643h1v1h-1zM203 634h1v1h-1zM209.5 626.5h1v1h-1zM215.5 647h1v1h-1zM211.5 629.5h1v1h-1zM210.5 626h1v1h-1zM214 625h1v1h-1zM215.5 639h1v1h-1zM207 628h1v1h-1zM206 630.5h1v1h-1zM213 640.5h1v1h-1zM210.5 638h1v1h-1zM217 640h1v1h-1zM214.5 638h1v1h-1zM207.5 634.5h1v1h-1zM210 631.5h1v1h-1zM215 643h1v1h-1zM211.5 628h1v1h-1zM206 634h1v1h-1zM212 638.5h1v1h-1zM208 640h1v1h-1zM208 634h1v1h-1zM217 631h1v1h-1zM217.5 639.5h1v1h-1zM210 632h1v1h-1zM218.5 636h1v1h-1zM219.5 635h1v1h-1zM209.5 622.5h1v1h-1zM214 644.5h1v1h-1zM216 636.5h1v1h-1zM209.5 623h1v1h-1zM213.5 638.5h1v1h-1zM212 644h1v1h-1zM211.5 634h1v1h-1zM208.5 640.5h1v1h-1zM211.5 631h1v1h-1zM208 637.5h1v1h-1zM216 634.5h1v1h-1zM216.5 635h1v1h-1zM215.5 635.5h1v1h-1zM209.5 641h1v1h-1zM214 627.5h1v1h-1zM214 638h1v1h-1zM213 635.5h1v1h-1zM212 633.5h1v1h-1zM210.5 646.5h1v1h-1zM212 635h1v1h-1zM212.5 630h1v1h-1zM215.5 629h1v1h-1zM208 645.5h1v1h-1zM215 637h1v1h-1zM206.5 649.5h1v1h-1zM205 634h1v1h-1zM206.5 630h1v1h-1zM208 632h1v1h-1zM213.5 633h1v1h-1zM206 643h1v1h-1zM212.5 637h1v1h-1zM210 633h1v1h-1zM215.5 638.5h1v1h-1zM213 637h1v1h-1zM216.5 624.5h1v1h-1zM216.5 632h1v1h-1zM215 636h1v1h-1zM211.5 629h1v1h-1zM206 636h1v1h-1zM220.5 631.5h1v1h-1zM216 633.5h1v1h-1zM214 641.5h1v1h-1zM208 633.5h1v1h-1zM210.5 636h1v1h-1zM212.5 631.5h1v1h-1zM211.5 633h1v1h-1zM206.5 632h1v1h-1zM217 638.5h1v1h-1zM215.5 637.5h1v1h-1zM210.5 617h1v1h-1zM216.5 642h1v1h-1zM213 631h1v1h-1zM216 636h1v1h-1zM216 636.5h1v1h-1zM210.5 636h1v1h-1zM210 635.5h1v1h-1zM210 633h1v1h-1zM210 638.5h1v1h-1zM215.5 646.5h1v1h-1zM208 637.5h1v1h-1zM213 633h1v1h-1zM211.5 639h1v1h-1zM214 640.5h1v1h-1zM208.5 636h1v1h-1zM207.5 638.5h1v1h-1zM215.5 628h1v1h-1zM211.5 639h1v1h-1zM208.5 646.5h1v1h-1zM212.5 632h1v1h-1zM207 632.5h1v1h-1zM210.5 640h1v1h-1zM204.5 636.5h1v1h-1zM223.5 641h1v1h-1zM215 622h1v1h-1zM217 630h1v1h-1zM208.5 639.5h1v1h-1zM212 628.5h1v1h-1zM215 621.5h1v1h-1zM212.5 631.5h1v1h-1zM211 631h1v1h-1zM207.5 635h1v1h-1zM207.5 625h1v1h-1zM212 636.5h1v1h-1zM211.5 634h1v1h-1zM202.5 631.5h1v1h-1zM215 636.5h1v1h-1zM215 634h1v1h-1zM208.5 639h1v1h-1zM218 635h1v1h-1zM210.5 637.5h1v1h-1zM207.5 637.5h1v1h-1zM206 632.5h1v1h-1zM213 623h1v1h-1zM214 637h1v1h-1zM210 636.5h1v1h-1zM205 639h1v1h-1zM205.5 646h1v1h-1zM211 628.5h1v1h-1zM214 639h1v1h-1zM205 637h1v1h-1zM209.5 630.5h1v1h-1zM210.5 637h1v1h-1zM216 631.5h1v1h-1zM209 637h1v1h-1zM208 636.5h1v1h-1zM215.5 638h1v1h-1zM212 644.5h1v1h-1zM207.5 625h1v1h-1zM214 652h1v1h-1zM209.5 625.5h1v1h-1zM216 627h1v1h-1zM213.5 632.5h1v1h-1zM204.5 629h1v1h-1zM208 626.5h1v1h-1zM216 632.5h1v1h-1zM221.5 631h1v1h-1zM204.5 641h1v1h-1zM208.5 635h1v1h-1zM207 627.5h1v1h-1zM216.5 628h1v1h-1zM207 631.5h1v1h-1zM209.5 646h1v1h-1zM217 640.5h1v1h-1zM207 638h1v1h-1zM212.5 636.5h1v1h-1zM213 645.5h1v1h-1zM211 625h1v1h-1zM208 638.5h1v1h-1zM204 636h1v1h-1zM209.5 642h1v1h-1zM213 632h1v1h-1zM220.5 636.5h1v1h-1zM214 642h1v1h-1zM220 632h1v1h-1zM214.5 637.5h1v1h-1zM209 639.5h1v1h-1zM213 638.5h1v1h-1zM217.5 639h1v1h-1zM209.5 637.5h1v1h-1zM211.5 638h1v1h-1zM208 630h1v1h-1zM212 633.5h1v1h-1zM216 632.5h1v1h-1zM216 632h1v1h-1zM209 632.5h1v1h-1zM212 638.5h1v1h-1zM211 628.5h1v1h-1zM216 635.5h1v1h-1zM206 625.5h1v1h-1zM210 641.5h1v1h-1zM211 631.5h1v1h-1zM213.5 639.5h1v1h-1zM206.5 637h1v1h-1zM212 632.5h1v1h-1zM211 626h1v1h-1zM215.5 642.5h1v1h-1zM221 625.5h1v1h-1zM215.5 643.5h1v1h-1zM213.5 636.5h1v1h-1zM211.5 652h1v1h-1zM209 635h1v1h-1zM211 632.5h1v1h-1zM213 626.5h1v1h-1zM212 648.5h1v1h-1zM216.5 637h1v1h-1zM212.5 634.5h1v1h-1zM210 624.5h1v1h-1zM208.5 631.5h1v1h-1zM211 635h1v1h-1zM213 628.5h1v1h-1zM215.5 637.5h1v1h-1zM213.5 639h1v1h-1zM210 633.5h1v1h-1zM202 642h1v1h-1zM212.5 643.5h1v1h-1zM207.5 638h1v1h-1zM214 639.5h1v1h-1zM210 638.5h1v1h-1zM203 630h1v1h-1zM212.5 624.5h1v1h-1zM210.5 629.5h1v1h-1zM211 636h1v1h-1zM215 621.5h1v1h-1zM204.5 642.5h1v1h-1z"/><path fill="#c67a7c" d="M215 636.5h1v1h-1zM217 643h1v1h-1zM212.5 632.5h1v1h-1zM213 630.5h1v1h-1zM217.5 621h1v1h-1zM214 638.5h1v1h-1zM218 644h1v1h-1zM215 630.5h1v1h-1zM217 639.5h1v1h-1zM212.5 628h1v1h-1zM212.5 629h1v1h-1zM208 644h1v1h-1zM204.5 634h1v1h-1zM219 636h1v1h-1zM202.5 637h1v1h-1zM202 654h1v1h-1zM209.5 634h1v1h-1zM210 626h1v1h-1zM207.5 634.5h1v1h-1zM212 640h1v1h-1zM214 642.5h1v1h-1zM208 636h1v1h-1zM209 632h1v1h-1zM212.5 632h1v1h-1zM212 639.5h1v1h-1zM209.5 634h1v1h-1zM209 636h1v1h-1zM209.5 641.5h1v1h-1zM208.5 634h1v1h-1zM214.5 631h1v1h-1zM211.5 640.5h1v1h-1zM216.5 640.5h1v1h-1zM216.5 638h1v1h-1zM212.5 641h1v1h-1zM213 632h1v1h-1zM215 638.5h1v1h-1zM206.5 627h1v1h-1zM212.5 630h1v1h-1zM223.5 637.5h1v1h-1zM215.5 635h1v1h-1zM218.5 636.5h1v1h-1zM211.5 637h1v1h-1zM207.5 633h1v1h-1zM204.5 633.5h1v1h-1zM206 635.5h1v1h-1zM214 651.5h1v1h-1zM210 634.5h1v1h-1zM212 629.5h1v1h-1zM208.5 635h1v1h-1zM214.5 633.5h1v1h-1zM211.5 640.5h1v1h-1zM218.5 637h1v1h-1zM204.5 628h1v1h-1zM212.5 630.5h1v1h-1zM208.5 646h1v1h-1zM213 639.5h1v1h-1zM210.5 645.5h1v1h-1zM214.5 633.5h1v1h-1zM216 633h1v1h-1zM210.5 637h1v1h-1zM213.5 640h1v1h-1zM210.5 630.5h1v1h-1zM210 634h1v1h-1zM210 639h1v1h-1zM215 637.5h1v1h-1zM220.5 643h1v1h-1zM208 641.5h1v1h-1zM209.5 625.5h1v1h-1zM209.5 646h1v1h-1zM209 646.5h1v1h-1zM212 625.5h1v1h-1zM212 644.5h1v1h-1zM218 626.5h1v1h-1zM210.5 634.5h1v1h-1zM209 645.5h1v1h-1zM216.5 652h1v1h-1zM213.5 624.5h1v1h-1zM209 644h1v1h-1zM211 628.5h1v1h-1zM214.5 640.5h1v1h-1zM214.5 639.5h1v1h-1zM215.5 637.5h1v1h-1zM215 633h1v1h-1zM213.5 643h1v1h-1zM214 641h1v1h-1z"/><path fill="#e3d95a" d="M216.5 675h1v1h-1zM228.5 673.5h1v1h-1zM210 683.5h1v1h-1zM198.5 694.5h1v1h-1zM200 700.5h1v1h-1zM207.5 684.5h1v1h-1zM224 704h1v1h-1zM226.5 673.5h1v1h-1zM211.5 702.5h1v1h-1zM228 704.5h1v1h-1zM236 685.5h1v1h-1zM219.5 676.5h1v1h-1zM238 689h1v1h-1zM232 699.5h1v1h-1zM236 691h1v1h-1zM215.5 675.5h1v1h-1zM238.5 684.5h1v1h-1zM237 679h1v1h-1zM237.5 679h1v1h-1zM208.5 685.5h1v1h-1zM231.5 704.5h1v1h-1zM223.5 673.5h1v1h-1zM196.5 696.5h1v1h-1zM213.5 678h1v1h-1zM238 687.5h1v1h-1zM234.5 689.5h1v1h-1zM206 700h1v1h-1zM212.5 677.5h1v1h-1zM238.5 692.5h1v1h-1zM235 681h1v1h-1zM237 693.5h1v1h-1zM203.5 701h1v1h-1zM201.5 698h1v1h-1zM198 693.5h1v1h-1zM213 704h1v1h-1zM237 691h1v1h-1zM211.5 679h1v1h-1zM203 690.5h1v1h-1zM223.5 704.5h1v1h-1zM227.5 674h1v1h-1zM218 705h1v1h-1zM235 697.5h1v1h-1zM238 697h1v1h-1zM237.5 696.5h1v1h-1zM225.5 705.5h1v1h-1zM208 680h1v1h-1zM235.5 678.5h1v1h-1zM232.5 699.5h1v1h-1zM224 704.5h1v1h-1zM199 694.5h1v1h-1zM212 704.5h1v1h-1zM201 695h1v1h-1zM234 694h1v1h-1zM235.5 698h1v1h-1zM235.5 679.5h1v1h-1zM213.5 679.5h1v1h-1zM198.5 693.5h1v1h-1zM236 696h1v1h-1zM224.5 705.5h1v1h-1zM206.5 688h1v1h-1zM216.5 675h1v1h-1zM198.5 698h1v1h-1zM232.5 676.5h1v1h-1zM237 695.5h1v1h-1zM206.5 684.5h1v1h-1zM208 700h1v1h-1zM206 683h1v1h-1zM213 677.5h1v1h-1zM236.5 679.5h1v1h-1zM237 684.5h1v1h-1zM218 703.5h1v1h-1zM235.5 681.5h1v1h-1zM218 705.5h1v1h-1zM214.5 705.5h1v1h-1zM208 682h1v1h-1zM222.5 671h1v1h-1zM232 678h1v1h-1zM237.5 685h1v1h-1zM239.5 692h1v1h-1zM207 684h1v1h-1zM235.5 680.5h1v1h-1z"/><path fill="#c67a7c" d="M223.5 673.5h1v1h-1zM214.5 704h1v1h-1zM197.5 694h1v1h-1zM207.5 701h1v1h-1zM202 691.5h1v1h-1zM238 684h1v1h-1zM211.5 677.5h1v1h-1zM236.5 682.5h1v1h-1zM235 699h1v1h-1zM236.5 682h1v1h-1zM208.5 702h1v1h-1zM236.5 685h1v1h-1zM211.5 678h1v1h-1zM237.5 683.5h1v1h-1zM232 676.5h1v1h-1zM196.5 695h1v1h-1zM201.5 692h1v1h-1zM204 702h1v1h-1zM203.5 688h1v1h-1zM234 699h1v1h-1zM221.5 672h1v1h-1zM197.5 694.5h1v1h-1zM215 675h1v1h-1zM205.5 689h1v1h-1zM223 705.5h1v1h-1zM230.5 676.5h1v1h-1zM201.5 690h1v1h-1zM221 705h1v1h-1zM201 693h1v1h-1zM205 688h1v1h-1zM222 706.5h1v1h-1zM212.5 702h1v1h-1zM234.5 680h1v1h-1zM201.5 692.5h1v1h-1zM235 701.5h1v1h-1zM220 675h1v1h-1zM223 673h1v1h-1zM201 690.5h1v1h-1zM223 675.5h1v1h-1zM201 700h1v1h-1zM235 690h1v1h-1zM234 701.5h1v1h-1zM195.5 695.5h1v1h-1zM237.5 689.5h1v1h-1zM202.5 689h1v1h-1zM231.5 701.5h1v1h-1zM211.5 701.5h1v1h-1zM214.5 704h1v1h-1zM218.5 675.5h1v1h-1zM224.5 674.5h1v1h-1zM236 695h1v1h-1zM215 705h1v1h-1zM210 682h1v1h-1zM227.5 674h1v1h-1zM215.5 704.5h1v1h-1zM230.5 702.5h1v1h-1zM208 681.5h1v1h-1zM210 702.5h1v1h-1zM198 693.5h1v1h-1zM239 691h1v1h-1zM202 694h1v1h-1zM203 698h1v1h-1zM235.5 679h1v1h-1zM214.5 678.5h1v1h-1zM202.5 691.5h1v1h-1zM211 679h1v1h-1zM205.5 685.5h1v1h-1zM208 702.5h1v1h-1zM234.5 702h1v1h-1zM221.5 676h1v1h-1zM206.5 681.5h1v1h-1zM204 690h1v1h-1zM228 673h1v1h-1zM206.5 685h1v1h-1zM232 677h1v1h-1zM202.5 699.5h1v1h-1zM218.5 676.5h1v1h-1zM204 701h1v1h-1zM197.5 699h1v1h-1zM238 696.5h1v1h-1zM205.5 700.5h1v1h-1zM225.5 704h1v1h-1zM231.5 676.5h1v1h-1zM227.5 672.5h1v1h-1zM221 675h1v1h-1zM236 687h1v1h-1zM238 688.5h1v1h-1zM230 677h1v1h-1zM218 705.5h1v1h-1zM211 681.5h1v1h-1zM202.5 690.5h1v1h-1zM221 704.5h1v1h-1zM199 696h1v1h-1zM223 703.5h1v1h-1zM213.5 704.5h1v1h-1zM222 675h1v1h-1zM196.5 696h1v1h-1zM204 690h1v1h-1zM198.5 695.5h1v1h-1zM210.5 703.5h1v1h-1zM231 675h1v1h-1zM208 704h1v1h-1zM233.5 679h1v1h-1zM232 699.5h1v1h-1zM237 685.5h1v1h-1zM237.5 684.5h1v1h-1zM196 698h1v1h-1zM233 702.5h1v1h-1zM234.5 681h1v1h-1zM214.5 675h1v1h-1zM212 675.5h1v1h-1zM195 695.5h1v1h-1zM227 673.5h1v1h-1zM237.5 690h1v1h-1zM237 695h1v1h-1zM209.5 682h1v1h-1zM235.5 696.5h1v1h-1zM206.5 686h1v1h-1zM209 680.5h1v1h-1z"/><path d="M195.9 696.5C196.33 695.32 201 694 202.9 692.1C204.8 690.2 205.7 687.43 207.3 685.1C208.9 682.77 210.47 679.85 212.5 678.1C214.53 676.35 217.17 675.32 219.5 674.6C221.83 673.88 224.17 673.5 226.5 673.8C228.83 674.1 231.75 675.1 233.5 676.4C235.25 677.7 236.27 679.42 237 681.6C237.73 683.78 238.03 686.72 237.9 689.5C237.77 692.28 237.22 695.97 236.2 698.3C235.18 700.63 233.7 702.27 231.8 703.5C229.9 704.73 227.43 705.48 224.8 705.7C222.17 705.92 218.92 705.45 216 704.8C213.08 704.15 209.92 702.73 207.3 701.8C204.68 700.87 202.2 700.08 200.3 699.2C198.4 698.32 195.47 697.68 195.9 696.5Z" fill="#c67a7c" filter="url(#rYd)"/></g></g>
<text x="0.8" y="8.4" font-size="14" text-anchor="start" font-weight="bold" fill="#111">a</text>
<text x="0.8" y="251.2" font-size="14" text-anchor="start" font-weight="bold" fill="#111">b</text>
<text x="0.8" y="521.2" font-size="14" text-anchor="start" font-weight="bold" fill="#111">c</text>
<text x="24.2" y="115" font-size="13.7" text-anchor="middle" font-weight="bold" fill="#111" transform="rotate(-90 24.2 115)">scFoundation</text>
<text x="25.3" y="365.8" font-size="13.5" text-anchor="middle" font-weight="bold" fill="#111" transform="rotate(-90 25.3 365.8)">scGPT</text>
<text x="24.5" y="626.5" font-size="13.8" text-anchor="middle" font-weight="bold" fill="#111" transform="rotate(-90 24.5 626.5)">UCE</text>
<text x="137.2" y="9.6" font-size="12.5" text-anchor="start" fill="#222">Cancer Type</text>
<text x="487" y="9.9" font-size="12.5" text-anchor="start" fill="#222">Cell response</text>
<text x="137.2" y="261.4" font-size="12.4" text-anchor="start" fill="#222">Cancer type</text>
<text x="487" y="262.2" font-size="12.5" text-anchor="start" fill="#222">Cell response</text>
<text x="137.5" y="522.5" font-size="12.4" text-anchor="start" fill="#222">Cancer type</text>
<text x="487" y="523.7" font-size="12.5" text-anchor="start" fill="#222">Cell response</text>
<rect x="74.5" y="14.45" width="184" height="184.85" fill="none" stroke="#8a8a8a" stroke-width="1"/>
<line x1="82.1" y1="199.3" x2="82.1" y2="200.7" stroke="#8a8a8a" stroke-width="0.8"/>
<text x="82.1" y="211.2" font-size="9.6" text-anchor="middle" fill="#222">-10</text>
<line x1="105.65" y1="199.3" x2="105.65" y2="200.7" stroke="#8a8a8a" stroke-width="0.8"/>
<text x="108.35" y="211.2" font-size="9.6" text-anchor="middle" fill="#222">-5</text>
<line x1="129.2" y1="199.3" x2="129.2" y2="200.7" stroke="#8a8a8a" stroke-width="0.8"/>
<text x="129.7" y="211.2" font-size="9.6" text-anchor="middle" fill="#222">0</text>
<line x1="152.75" y1="199.3" x2="152.75" y2="200.7" stroke="#8a8a8a" stroke-width="0.8"/>
<text x="150.45" y="211.2" font-size="9.6" text-anchor="middle" fill="#222">5</text>
<line x1="176.3" y1="199.3" x2="176.3" y2="200.7" stroke="#8a8a8a" stroke-width="0.8"/>
<text x="172.8" y="211.2" font-size="9.6" text-anchor="middle" fill="#222">10</text>
<line x1="199.85" y1="199.3" x2="199.85" y2="200.7" stroke="#8a8a8a" stroke-width="0.8"/>
<text x="198.15" y="211.2" font-size="9.6" text-anchor="middle" fill="#222">15</text>
<line x1="223.4" y1="199.3" x2="223.4" y2="200.7" stroke="#8a8a8a" stroke-width="0.8"/>
<text x="222.4" y="211.2" font-size="9.6" text-anchor="middle" fill="#222">20</text>
<line x1="246.95" y1="199.3" x2="246.95" y2="200.7" stroke="#8a8a8a" stroke-width="0.8"/>
<text x="247.45" y="211.2" font-size="9.6" text-anchor="middle" fill="#222">25</text>
<line x1="73.1" y1="180.8" x2="74.5" y2="180.8" stroke="#8a8a8a" stroke-width="0.8"/>
<text x="71.1" y="184.3" font-size="9.6" text-anchor="end" fill="#222">-10</text>
<line x1="73.1" y1="156.4" x2="74.5" y2="156.4" stroke="#8a8a8a" stroke-width="0.8"/>
<text x="71.1" y="159.9" font-size="9.6" text-anchor="end" fill="#222">-5</text>
<line x1="73.1" y1="132" x2="74.5" y2="132" stroke="#8a8a8a" stroke-width="0.8"/>
<text x="71.1" y="135.5" font-size="9.6" text-anchor="end" fill="#222">0</text>
<line x1="73.1" y1="107.6" x2="74.5" y2="107.6" stroke="#8a8a8a" stroke-width="0.8"/>
<text x="71.1" y="111.1" font-size="9.6" text-anchor="end" fill="#222">5</text>
<line x1="73.1" y1="83.2" x2="74.5" y2="83.2" stroke="#8a8a8a" stroke-width="0.8"/>
<text x="71.1" y="86.7" font-size="9.6" text-anchor="end" fill="#222">10</text>
<line x1="73.1" y1="58.8" x2="74.5" y2="58.8" stroke="#8a8a8a" stroke-width="0.8"/>
<text x="71.1" y="62.3" font-size="9.6" text-anchor="end" fill="#222">15</text>
<line x1="73.1" y1="34.4" x2="74.5" y2="34.4" stroke="#8a8a8a" stroke-width="0.8"/>
<text x="71.1" y="37.9" font-size="9.6" text-anchor="end" fill="#222">20</text>
<rect x="430.5" y="15.47" width="184.1" height="184.93" fill="none" stroke="#8a8a8a" stroke-width="1"/>
<line x1="437.8" y1="200.4" x2="437.8" y2="201.8" stroke="#8a8a8a" stroke-width="0.8"/>
<text x="437.8" y="212.3" font-size="9.6" text-anchor="middle" fill="#222">-10</text>
<line x1="461.4" y1="200.4" x2="461.4" y2="201.8" stroke="#8a8a8a" stroke-width="0.8"/>
<text x="464.1" y="212.3" font-size="9.6" text-anchor="middle" fill="#222">-5</text>
<line x1="485" y1="200.4" x2="485" y2="201.8" stroke="#8a8a8a" stroke-width="0.8"/>
<text x="485.5" y="212.3" font-size="9.6" text-anchor="middle" fill="#222">0</text>
<line x1="508.6" y1="200.4" x2="508.6" y2="201.8" stroke="#8a8a8a" stroke-width="0.8"/>
<text x="506.3" y="212.3" font-size="9.6" text-anchor="middle" fill="#222">5</text>
<line x1="532.2" y1="200.4" x2="532.2" y2="201.8" stroke="#8a8a8a" stroke-width="0.8"/>
<text x="528.7" y="212.3" font-size="9.6" text-anchor="middle" fill="#222">10</text>
<line x1="555.8" y1="200.4" x2="555.8" y2="201.8" stroke="#8a8a8a" stroke-width="0.8"/>
<text x="554.1" y="212.3" font-size="9.6" text-anchor="middle" fill="#222">15</text>
<line x1="579.4" y1="200.4" x2="579.4" y2="201.8" stroke="#8a8a8a" stroke-width="0.8"/>
<text x="578.4" y="212.3" font-size="9.6" text-anchor="middle" fill="#222">20</text>
<line x1="603" y1="200.4" x2="603" y2="201.8" stroke="#8a8a8a" stroke-width="0.8"/>
<text x="603.5" y="212.3" font-size="9.6" text-anchor="middle" fill="#222">25</text>
<line x1="429.1" y1="181.7" x2="430.5" y2="181.7" stroke="#8a8a8a" stroke-width="0.8"/>
<text x="427.1" y="185.2" font-size="9.6" text-anchor="end" fill="#222">-10</text>
<line x1="429.1" y1="157.45" x2="430.5" y2="157.45" stroke="#8a8a8a" stroke-width="0.8"/>
<text x="427.1" y="160.95" font-size="9.6" text-anchor="end" fill="#222">-5</text>
<line x1="429.1" y1="133.2" x2="430.5" y2="133.2" stroke="#8a8a8a" stroke-width="0.8"/>
<text x="427.1" y="136.7" font-size="9.6" text-anchor="end" fill="#222">0</text>
<line x1="429.1" y1="108.95" x2="430.5" y2="108.95" stroke="#8a8a8a" stroke-width="0.8"/>
<text x="427.1" y="112.45" font-size="9.6" text-anchor="end" fill="#222">5</text>
<line x1="429.1" y1="84.7" x2="430.5" y2="84.7" stroke="#8a8a8a" stroke-width="0.8"/>
<text x="427.1" y="88.2" font-size="9.6" text-anchor="end" fill="#222">10</text>
<line x1="429.1" y1="60.45" x2="430.5" y2="60.45" stroke="#8a8a8a" stroke-width="0.8"/>
<text x="427.1" y="63.95" font-size="9.6" text-anchor="end" fill="#222">15</text>
<line x1="429.1" y1="36.2" x2="430.5" y2="36.2" stroke="#8a8a8a" stroke-width="0.8"/>
<text x="427.1" y="39.7" font-size="9.6" text-anchor="end" fill="#222">20</text>
<rect x="74.5" y="265.4" width="187" height="186.95" fill="none" stroke="#8a8a8a" stroke-width="1"/>
<line x1="83.3" y1="452.35" x2="83.3" y2="453.75" stroke="#8a8a8a" stroke-width="0.8"/>
<text x="83.3" y="464.25" font-size="9.8" text-anchor="middle" fill="#222">-10</text>
<line x1="110.3" y1="452.35" x2="110.3" y2="453.75" stroke="#8a8a8a" stroke-width="0.8"/>
<text x="110.3" y="464.25" font-size="9.8" text-anchor="middle" fill="#222">-5</text>
<line x1="137.3" y1="452.35" x2="137.3" y2="453.75" stroke="#8a8a8a" stroke-width="0.8"/>
<text x="137.3" y="464.25" font-size="9.8" text-anchor="middle" fill="#222">0</text>
<line x1="164.3" y1="452.35" x2="164.3" y2="453.75" stroke="#8a8a8a" stroke-width="0.8"/>
<text x="164.3" y="464.25" font-size="9.8" text-anchor="middle" fill="#222">5</text>
<line x1="191.3" y1="452.35" x2="191.3" y2="453.75" stroke="#8a8a8a" stroke-width="0.8"/>
<text x="191.3" y="464.25" font-size="9.8" text-anchor="middle" fill="#222">10</text>
<line x1="218.3" y1="452.35" x2="218.3" y2="453.75" stroke="#8a8a8a" stroke-width="0.8"/>
<text x="218.3" y="464.25" font-size="9.8" text-anchor="middle" fill="#222">15</text>
<line x1="245.3" y1="452.35" x2="245.3" y2="453.75" stroke="#8a8a8a" stroke-width="0.8"/>
<text x="245.3" y="464.25" font-size="9.8" text-anchor="middle" fill="#222">20</text>
<line x1="73.1" y1="443.4" x2="74.5" y2="443.4" stroke="#8a8a8a" stroke-width="0.8"/>
<text x="69.7" y="447.3" font-size="9.8" text-anchor="end" fill="#222">-10</text>
<line x1="73.1" y1="412.45" x2="74.5" y2="412.45" stroke="#8a8a8a" stroke-width="0.8"/>
<text x="69.7" y="416.35" font-size="9.8" text-anchor="end" fill="#222">-5</text>
<line x1="73.1" y1="381.5" x2="74.5" y2="381.5" stroke="#8a8a8a" stroke-width="0.8"/>
<text x="69.7" y="385.4" font-size="9.8" text-anchor="end" fill="#222">0</text>
<line x1="73.1" y1="350.55" x2="74.5" y2="350.55" stroke="#8a8a8a" stroke-width="0.8"/>
<text x="69.7" y="354.45" font-size="9.8" text-anchor="end" fill="#222">5</text>
<line x1="73.1" y1="319.6" x2="74.5" y2="319.6" stroke="#8a8a8a" stroke-width="0.8"/>
<text x="69.7" y="323.5" font-size="9.8" text-anchor="end" fill="#222">10</text>
<line x1="73.1" y1="288.65" x2="74.5" y2="288.65" stroke="#8a8a8a" stroke-width="0.8"/>
<text x="69.7" y="292.55" font-size="9.8" text-anchor="end" fill="#222">15</text>
<rect x="429.5" y="265.5" width="184.9" height="184.85" fill="none" stroke="#8a8a8a" stroke-width="1"/>
<line x1="439.4" y1="450.35" x2="439.4" y2="451.75" stroke="#8a8a8a" stroke-width="0.8"/>
<text x="439.4" y="462.25" font-size="9.8" text-anchor="middle" fill="#222">-10</text>
<line x1="465.9" y1="450.35" x2="465.9" y2="451.75" stroke="#8a8a8a" stroke-width="0.8"/>
<text x="465.9" y="462.25" font-size="9.8" text-anchor="middle" fill="#222">-5</text>
<line x1="492.4" y1="450.35" x2="492.4" y2="451.75" stroke="#8a8a8a" stroke-width="0.8"/>
<text x="492.4" y="462.25" font-size="9.8" text-anchor="middle" fill="#222">0</text>
<line x1="518.9" y1="450.35" x2="518.9" y2="451.75" stroke="#8a8a8a" stroke-width="0.8"/>
<text x="518.9" y="462.25" font-size="9.8" text-anchor="middle" fill="#222">5</text>
<line x1="545.4" y1="450.35" x2="545.4" y2="451.75" stroke="#8a8a8a" stroke-width="0.8"/>
<text x="545.4" y="462.25" font-size="9.8" text-anchor="middle" fill="#222">10</text>
<line x1="571.9" y1="450.35" x2="571.9" y2="451.75" stroke="#8a8a8a" stroke-width="0.8"/>
<text x="571.9" y="462.25" font-size="9.8" text-anchor="middle" fill="#222">15</text>
<line x1="598.4" y1="450.35" x2="598.4" y2="451.75" stroke="#8a8a8a" stroke-width="0.8"/>
<text x="598.4" y="462.25" font-size="9.8" text-anchor="middle" fill="#222">20</text>
<line x1="428.1" y1="441.6" x2="429.5" y2="441.6" stroke="#8a8a8a" stroke-width="0.8"/>
<text x="425.5" y="445.3" font-size="9.8" text-anchor="end" fill="#222">-10</text>
<line x1="428.1" y1="410.9" x2="429.5" y2="410.9" stroke="#8a8a8a" stroke-width="0.8"/>
<text x="425.5" y="414.6" font-size="9.8" text-anchor="end" fill="#222">-5</text>
<line x1="428.1" y1="380.2" x2="429.5" y2="380.2" stroke="#8a8a8a" stroke-width="0.8"/>
<text x="425.5" y="383.9" font-size="9.8" text-anchor="end" fill="#222">0</text>
<line x1="428.1" y1="349.5" x2="429.5" y2="349.5" stroke="#8a8a8a" stroke-width="0.8"/>
<text x="425.5" y="353.2" font-size="9.8" text-anchor="end" fill="#222">5</text>
<line x1="428.1" y1="318.8" x2="429.5" y2="318.8" stroke="#8a8a8a" stroke-width="0.8"/>
<text x="425.5" y="322.5" font-size="9.8" text-anchor="end" fill="#222">10</text>
<line x1="428.1" y1="288.1" x2="429.5" y2="288.1" stroke="#8a8a8a" stroke-width="0.8"/>
<text x="425.5" y="291.8" font-size="9.8" text-anchor="end" fill="#222">15</text>
<rect x="74.5" y="527.47" width="186.97" height="186.88" fill="none" stroke="#8a8a8a" stroke-width="1"/>
<line x1="82.52" y1="714.35" x2="82.52" y2="715.75" stroke="#8a8a8a" stroke-width="0.8"/>
<text x="82.52" y="726.25" font-size="9.8" text-anchor="middle" fill="#222">-2</text>
<line x1="108.3" y1="714.35" x2="108.3" y2="715.75" stroke="#8a8a8a" stroke-width="0.8"/>
<text x="108.3" y="726.25" font-size="9.8" text-anchor="middle" fill="#222">0</text>
<line x1="134.08" y1="714.35" x2="134.08" y2="715.75" stroke="#8a8a8a" stroke-width="0.8"/>
<text x="134.08" y="726.25" font-size="9.8" text-anchor="middle" fill="#222">2</text>
<line x1="159.86" y1="714.35" x2="159.86" y2="715.75" stroke="#8a8a8a" stroke-width="0.8"/>
<text x="159.86" y="726.25" font-size="9.8" text-anchor="middle" fill="#222">4</text>
<line x1="185.64" y1="714.35" x2="185.64" y2="715.75" stroke="#8a8a8a" stroke-width="0.8"/>
<text x="185.64" y="726.25" font-size="9.8" text-anchor="middle" fill="#222">6</text>
<line x1="211.42" y1="714.35" x2="211.42" y2="715.75" stroke="#8a8a8a" stroke-width="0.8"/>
<text x="211.42" y="726.25" font-size="9.8" text-anchor="middle" fill="#222">8</text>
<line x1="237.2" y1="714.35" x2="237.2" y2="715.75" stroke="#8a8a8a" stroke-width="0.8"/>
<text x="237.2" y="726.25" font-size="9.8" text-anchor="middle" fill="#222">10</text>
<line x1="73.1" y1="701.7" x2="74.5" y2="701.7" stroke="#8a8a8a" stroke-width="0.8"/>
<text x="70.8" y="705" font-size="9.8" text-anchor="end" fill="#222">0</text>
<line x1="73.1" y1="665.8" x2="74.5" y2="665.8" stroke="#8a8a8a" stroke-width="0.8"/>
<text x="70.8" y="669.1" font-size="9.8" text-anchor="end" fill="#222">2</text>
<line x1="73.1" y1="629.9" x2="74.5" y2="629.9" stroke="#8a8a8a" stroke-width="0.8"/>
<text x="70.8" y="633.2" font-size="9.8" text-anchor="end" fill="#222">4</text>
<line x1="73.1" y1="594" x2="74.5" y2="594" stroke="#8a8a8a" stroke-width="0.8"/>
<text x="70.8" y="597.3" font-size="9.8" text-anchor="end" fill="#222">6</text>
<line x1="73.1" y1="558.1" x2="74.5" y2="558.1" stroke="#8a8a8a" stroke-width="0.8"/>
<text x="70.8" y="561.4" font-size="9.8" text-anchor="end" fill="#222">8</text>
<rect x="429.5" y="527.84" width="187" height="186.86" fill="none" stroke="#8a8a8a" stroke-width="1"/>
<line x1="437.5" y1="714.7" x2="437.5" y2="716.1" stroke="#8a8a8a" stroke-width="0.8"/>
<text x="437.5" y="726.6" font-size="9.8" text-anchor="middle" fill="#222">-2</text>
<line x1="463.4" y1="714.7" x2="463.4" y2="716.1" stroke="#8a8a8a" stroke-width="0.8"/>
<text x="463.4" y="726.6" font-size="9.8" text-anchor="middle" fill="#222">0</text>
<line x1="489.3" y1="714.7" x2="489.3" y2="716.1" stroke="#8a8a8a" stroke-width="0.8"/>
<text x="489.3" y="726.6" font-size="9.8" text-anchor="middle" fill="#222">2</text>
<line x1="515.2" y1="714.7" x2="515.2" y2="716.1" stroke="#8a8a8a" stroke-width="0.8"/>
<text x="515.2" y="726.6" font-size="9.8" text-anchor="middle" fill="#222">4</text>
<line x1="541.1" y1="714.7" x2="541.1" y2="716.1" stroke="#8a8a8a" stroke-width="0.8"/>
<text x="541.1" y="726.6" font-size="9.8" text-anchor="middle" fill="#222">6</text>
<line x1="567" y1="714.7" x2="567" y2="716.1" stroke="#8a8a8a" stroke-width="0.8"/>
<text x="567" y="726.6" font-size="9.8" text-anchor="middle" fill="#222">8</text>
<line x1="592.9" y1="714.7" x2="592.9" y2="716.1" stroke="#8a8a8a" stroke-width="0.8"/>
<text x="592.9" y="726.6" font-size="9.8" text-anchor="middle" fill="#222">10</text>
<line x1="428.1" y1="702" x2="429.5" y2="702" stroke="#8a8a8a" stroke-width="0.8"/>
<text x="425.8" y="705.3" font-size="9.8" text-anchor="end" fill="#222">0</text>
<line x1="428.1" y1="666.16" x2="429.5" y2="666.16" stroke="#8a8a8a" stroke-width="0.8"/>
<text x="425.8" y="669.46" font-size="9.8" text-anchor="end" fill="#222">2</text>
<line x1="428.1" y1="630.32" x2="429.5" y2="630.32" stroke="#8a8a8a" stroke-width="0.8"/>
<text x="425.8" y="633.62" font-size="9.8" text-anchor="end" fill="#222">4</text>
<line x1="428.1" y1="594.48" x2="429.5" y2="594.48" stroke="#8a8a8a" stroke-width="0.8"/>
<text x="425.8" y="597.78" font-size="9.8" text-anchor="end" fill="#222">6</text>
<line x1="428.1" y1="558.64" x2="429.5" y2="558.64" stroke="#8a8a8a" stroke-width="0.8"/>
<text x="425.8" y="561.94" font-size="9.8" text-anchor="end" fill="#222">8</text>
<text x="163.2" y="221.9" font-size="10" text-anchor="middle" fill="#222">UMAP 1</text>
<text x="524.4" y="222.5" font-size="10" text-anchor="middle" fill="#222">UMAP 1</text>
<text x="58.6" y="107" font-size="10" text-anchor="middle" fill="#222" transform="rotate(-90 58.6 107)">UMAP2</text>
<text x="413.4" y="115.5" font-size="10" text-anchor="middle" fill="#222" transform="rotate(-90 413.4 115.5)">UMAP2</text>
<text x="163.5" y="478.4" font-size="12.5" text-anchor="middle" fill="#222">UMAP1</text>
<text x="517.3" y="475.5" font-size="12.5" text-anchor="middle" fill="#222">UMAP1</text>
<text x="55" y="362.7" font-size="12.5" text-anchor="middle" fill="#222" transform="rotate(-90 55 362.7)">UMAP2</text>
<text x="414.2" y="358.5" font-size="12.5" text-anchor="middle" fill="#222" transform="rotate(-90 414.2 358.5)">UMAP2</text>
<text x="163.8" y="740.3" font-size="12.5" text-anchor="middle" fill="#222">UMAP1</text>
<text x="518.8" y="739.6" font-size="12.5" text-anchor="middle" fill="#222">UMAP1</text>
<text x="57" y="630.1" font-size="12.5" text-anchor="middle" fill="#222" transform="rotate(-90 57 630.1)">UMAP2</text>
<text x="414.8" y="621.8" font-size="12.5" text-anchor="middle" fill="#222" transform="rotate(-90 414.8 621.8)">UMAP2</text>
<text x="272.3" y="64" font-size="10" text-anchor="start" fill="#222">Cancer type</text>
<circle cx="274.4" cy="73.6" r="2.4" fill="#de2a2a"/>
<text x="280.7" y="77" font-size="10" text-anchor="start" fill="#222">Lung</text>
<circle cx="274.4" cy="83.81" r="2.4" fill="#3f81ba"/>
<text x="280.7" y="87.21" font-size="10" text-anchor="start" fill="#222">MM</text>
<circle cx="274.4" cy="94.02" r="2.4" fill="#ec812b"/>
<text x="280.7" y="97.42" font-size="10" text-anchor="start" fill="#222">Melanoma</text>
<circle cx="274.4" cy="104.23" r="2.4" fill="#4cae4e"/>
<text x="280.7" y="107.63" font-size="10" text-anchor="start" fill="#222">ALL</text>
<circle cx="274.4" cy="114.44" r="2.4" fill="#9266b8"/>
<text x="280.7" y="117.84" font-size="10" text-anchor="start" fill="#222">CLL</text>
<circle cx="274.4" cy="124.65" r="2.4" fill="#8b564d"/>
<text x="280.7" y="128.05" font-size="10" text-anchor="start" fill="#222">AML</text>
<circle cx="274.4" cy="134.86" r="2.4" fill="#d97ac6"/>
<text x="280.7" y="138.26" font-size="10" text-anchor="start" fill="#222">Breast</text>
<circle cx="274.4" cy="145.07" r="2.4" fill="#7f7f7f"/>
<text x="280.7" y="148.47" font-size="10" text-anchor="start" fill="#222">Neuroblastoma</text>
<circle cx="274.4" cy="155.28" r="2.4" fill="#b8c23c"/>
<text x="280.7" y="158.68" font-size="10" text-anchor="start" fill="#222">Prostate</text>
<circle cx="274.4" cy="165.49" r="2.4" fill="#57cfd2"/>
<text x="280.7" y="168.89" font-size="10" text-anchor="start" fill="#222">Liver</text>
<circle cx="274.4" cy="175.7" r="2.4" fill="#b0c8e6"/>
<text x="280.7" y="179.1" font-size="10" text-anchor="start" fill="#222">Pancreatic</text>
<text x="272" y="304.9" font-size="10" text-anchor="start" fill="#222">Cancer type</text>
<circle cx="274.4" cy="314.5" r="2.4" fill="#de2a2a"/>
<text x="280.5" y="317.9" font-size="10" text-anchor="start" fill="#222">Lung</text>
<circle cx="274.4" cy="324.69" r="2.4" fill="#3f81ba"/>
<text x="280.5" y="328.09" font-size="10" text-anchor="start" fill="#222">MM</text>
<circle cx="274.4" cy="334.88" r="2.4" fill="#ec812b"/>
<text x="280.5" y="338.28" font-size="10" text-anchor="start" fill="#222">Melanoma</text>
<circle cx="274.4" cy="345.07" r="2.4" fill="#4cae4e"/>
<text x="280.5" y="348.47" font-size="10" text-anchor="start" fill="#222">ALL</text>
<circle cx="274.4" cy="355.26" r="2.4" fill="#9266b8"/>
<text x="280.5" y="358.66" font-size="10" text-anchor="start" fill="#222">CLL</text>
<circle cx="274.4" cy="365.45" r="2.4" fill="#8b564d"/>
<text x="280.5" y="368.85" font-size="10" text-anchor="start" fill="#222">AML</text>
<circle cx="274.4" cy="375.64" r="2.4" fill="#d97ac6"/>
<text x="280.5" y="379.04" font-size="10" text-anchor="start" fill="#222">Breast</text>
<circle cx="274.4" cy="385.83" r="2.4" fill="#7f7f7f"/>
<text x="280.5" y="389.23" font-size="10" text-anchor="start" fill="#222">Neuroblastoma</text>
<circle cx="274.4" cy="396.02" r="2.4" fill="#b8c23c"/>
<text x="280.5" y="399.42" font-size="10" text-anchor="start" fill="#222">Prostate</text>
<circle cx="274.4" cy="406.21" r="2.4" fill="#57cfd2"/>
<text x="280.5" y="409.61" font-size="10" text-anchor="start" fill="#222">Liver</text>
<circle cx="274.4" cy="416.4" r="2.4" fill="#b0c8e6"/>
<text x="280.5" y="419.8" font-size="10" text-anchor="start" fill="#222">Pancreatic</text>
<text x="271.4" y="566.9" font-size="10" text-anchor="start" fill="#222">Cancer type</text>
<circle cx="273.7" cy="576.2" r="2.4" fill="#de2a2a"/>
<text x="279.6" y="579.6" font-size="10" text-anchor="start" fill="#222">Lung</text>
<circle cx="273.7" cy="586.49" r="2.4" fill="#3f81ba"/>
<text x="279.6" y="589.89" font-size="10" text-anchor="start" fill="#222">MM</text>
<circle cx="273.7" cy="596.78" r="2.4" fill="#ec812b"/>
<text x="279.6" y="600.18" font-size="10" text-anchor="start" fill="#222">Melanoma</text>
<circle cx="273.7" cy="607.07" r="2.4" fill="#4cae4e"/>
<text x="279.6" y="610.47" font-size="10" text-anchor="start" fill="#222">ALL</text>
<circle cx="273.7" cy="617.36" r="2.4" fill="#9266b8"/>
<text x="279.6" y="620.76" font-size="10" text-anchor="start" fill="#222">CLL</text>
<circle cx="273.7" cy="627.65" r="2.4" fill="#8b564d"/>
<text x="279.6" y="631.05" font-size="10" text-anchor="start" fill="#222">AML</text>
<circle cx="273.7" cy="637.94" r="2.4" fill="#d97ac6"/>
<text x="279.6" y="641.34" font-size="10" text-anchor="start" fill="#222">Breast</text>
<circle cx="273.7" cy="648.23" r="2.4" fill="#7f7f7f"/>
<text x="279.6" y="651.63" font-size="10" text-anchor="start" fill="#222">Neuroblastoma</text>
<circle cx="273.7" cy="658.52" r="2.4" fill="#b8c23c"/>
<text x="279.6" y="661.92" font-size="10" text-anchor="start" fill="#222">Prostate</text>
<circle cx="273.7" cy="668.81" r="2.4" fill="#57cfd2"/>
<text x="279.6" y="672.21" font-size="10" text-anchor="start" fill="#222">Liver</text>
<circle cx="273.7" cy="679.1" r="2.4" fill="#b0c8e6"/>
<text x="279.6" y="682.5" font-size="10" text-anchor="start" fill="#222">Pancreatic</text>
<text x="628.8" y="87.7" font-size="10" text-anchor="start" fill="#222">Cell response</text>
<circle cx="631.6" cy="98.3" r="2.7" fill="#e3d95a"/>
<text x="637.6" y="100.5" font-size="9.3" text-anchor="start" fill="#222">Sensitive</text>
<circle cx="631.6" cy="107.5" r="2.7" fill="#c67a7c"/>
<text x="637.6" y="109.7" font-size="9.3" text-anchor="start" fill="#222">Resistant</text>
<text x="628.8" y="351.4" font-size="10" text-anchor="start" fill="#222">Cell response</text>
<circle cx="631.6" cy="362" r="2.7" fill="#e3d95a"/>
<text x="637.6" y="364.2" font-size="9.3" text-anchor="start" fill="#222">Sensitive</text>
<circle cx="631.6" cy="371.3" r="2.7" fill="#c67a7c"/>
<text x="637.6" y="373.5" font-size="9.3" text-anchor="start" fill="#222">Resistant</text>
<text x="630.3" y="613.4" font-size="10" text-anchor="start" fill="#222">Cell response</text>
<circle cx="633.2" cy="624.3" r="2.7" fill="#e3d95a"/>
<text x="639" y="626.5" font-size="9.3" text-anchor="start" fill="#222">Sensitive</text>
<circle cx="633.2" cy="633.4" r="2.7" fill="#c67a7c"/>
<text x="639" y="635.6" font-size="9.3" text-anchor="start" fill="#222">Resistant</text>
</svg>
</body></html>
